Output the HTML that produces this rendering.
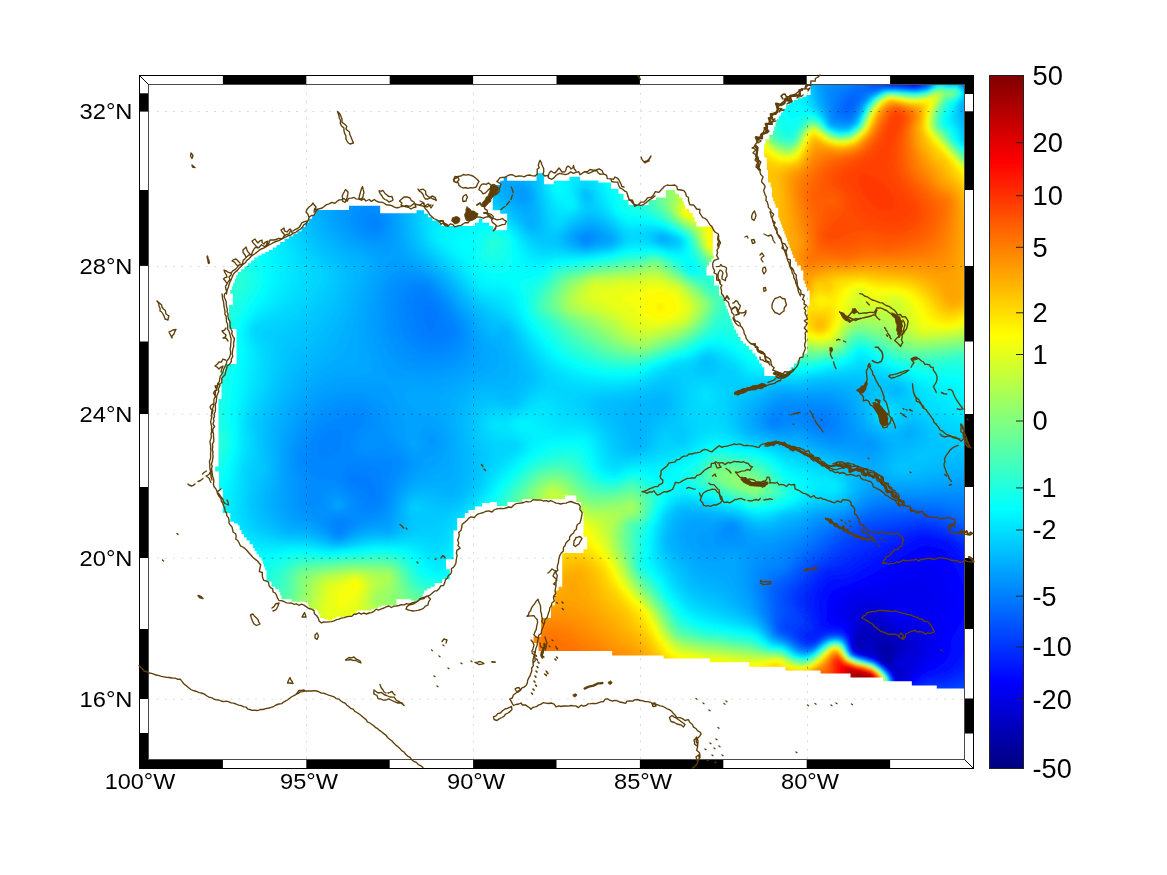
<!DOCTYPE html>
<html><head><meta charset="utf-8"><title>Gulf of Mexico map</title>
<style>html,body{margin:0;padding:0;background:#fff;}svg{display:block}text{font-family:"Liberation Sans",sans-serif;fill:#000}</style></head>
<body>
<svg width="1167" height="875" viewBox="0 0 1167 875">
<rect width="1167" height="875" fill="#fff"/>
<defs><linearGradient id="cb" x1="0" y1="0" x2="0" y2="1"><stop offset="0.0000" stop-color="#800000"/><stop offset="0.0312" stop-color="#9f0000"/><stop offset="0.0625" stop-color="#bf0000"/><stop offset="0.0938" stop-color="#df0000"/><stop offset="0.1250" stop-color="#ff0000"/><stop offset="0.1562" stop-color="#ff2000"/><stop offset="0.1875" stop-color="#ff4000"/><stop offset="0.2188" stop-color="#ff6000"/><stop offset="0.2500" stop-color="#ff8000"/><stop offset="0.2812" stop-color="#ff9f00"/><stop offset="0.3125" stop-color="#ffbf00"/><stop offset="0.3438" stop-color="#ffdf00"/><stop offset="0.3750" stop-color="#ffff00"/><stop offset="0.4062" stop-color="#dfff20"/><stop offset="0.4375" stop-color="#bfff40"/><stop offset="0.4688" stop-color="#9fff60"/><stop offset="0.5000" stop-color="#80ff80"/><stop offset="0.5312" stop-color="#60ff9f"/><stop offset="0.5625" stop-color="#40ffbf"/><stop offset="0.5938" stop-color="#20ffdf"/><stop offset="0.6250" stop-color="#00ffff"/><stop offset="0.6562" stop-color="#00dfff"/><stop offset="0.6875" stop-color="#00bfff"/><stop offset="0.7188" stop-color="#009fff"/><stop offset="0.7500" stop-color="#0080ff"/><stop offset="0.7812" stop-color="#0060ff"/><stop offset="0.8125" stop-color="#0040ff"/><stop offset="0.8438" stop-color="#0020ff"/><stop offset="0.8750" stop-color="#0000ff"/><stop offset="0.9062" stop-color="#0000df"/><stop offset="0.9375" stop-color="#0000bf"/><stop offset="0.9688" stop-color="#00009f"/><stop offset="1.0000" stop-color="#000080"/></linearGradient>
<clipPath id="outerclip"><rect x="139.5" y="74.5" width="834.0" height="694.0"/></clipPath>
<clipPath id="inner"><rect x="148.5" y="84.5" width="816.0" height="675.0"/></clipPath>
<clipPath id="ocean"><path d="M813.5,84.5 810.5,84.5 810.5,95.0 806.3,95.0 806.3,96.7 802.2,96.7 802.2,98.3 798.0,98.3 798.0,100.0 793.6,100.0 793.6,102.5 789.2,102.5 789.2,105.0 786.1,105.0 786.1,108.8 783.0,108.8 783.0,112.5 780.9,112.5 780.9,115.8 778.8,115.8 778.8,119.2 776.8,119.2 776.8,122.5 775.5,122.5 775.5,126.7 774.2,126.7 774.2,130.8 773.0,130.8 773.0,135.0 769.2,135.0 769.2,139.4 765.5,139.4 765.5,143.8 764.2,143.8 764.2,157.5 766.8,157.5 766.8,170.0 768.0,170.0 768.0,182.5 770.6,182.5 770.6,187.5 771.9,187.5 771.9,197.6 773.1,197.6 773.1,201.0 774.4,201.0 774.4,204.3 775.6,204.3 775.6,207.7 778.2,207.7 778.2,217.7 779.4,217.7 779.4,221.1 780.7,221.1 780.7,224.4 781.9,224.4 781.9,227.8 783.2,227.8 783.2,231.1 784.4,231.1 784.4,234.5 785.7,234.5 785.7,237.8 787.0,237.8 787.0,241.2 788.2,241.2 788.2,244.5 789.5,244.5 789.5,247.9 790.7,247.9 790.7,251.2 792.0,251.2 792.0,254.6 793.2,254.6 793.2,257.9 795.1,257.9 795.1,261.7 797.0,261.7 797.0,265.5 800.8,265.5 800.8,270.5 803.3,270.5 803.3,280.6 804.6,280.6 804.6,283.9 805.8,283.9 805.8,287.3 807.1,287.3 807.1,290.6 809.6,290.6 809.6,305.7 807.1,305.7 807.1,320.8 807.1,353.5 803.3,353.5 803.3,357.2 800.1,357.2 800.1,360.4 797.0,360.4 797.0,363.5 793.9,363.5 793.9,367.2 790.7,367.2 790.7,371.0 785.7,371.0 785.7,376.1 764.3,376.1 764.3,367.3 761.8,367.3 761.8,363.5 759.3,363.5 759.3,359.7 757.4,359.7 757.4,356.6 755.5,356.6 755.5,353.5 752.4,353.5 752.4,349.7 749.2,349.7 749.2,345.9 746.1,345.9 746.1,343.4 743.0,343.4 743.0,340.9 740.5,340.9 740.5,337.1 737.9,337.1 737.9,333.3 736.0,333.3 736.0,329.6 734.2,329.6 734.2,325.8 732.9,325.8 732.9,322.4 731.7,322.4 731.7,319.1 730.4,319.1 730.4,315.7 729.1,315.7 729.1,312.4 727.9,312.4 727.9,309.0 726.6,309.0 726.6,305.7 725.3,305.7 725.3,302.3 724.1,302.3 724.1,299.0 722.8,299.0 722.8,295.6 719.1,295.6 719.1,285.6 714.0,285.6 714.0,275.5 706.5,275.5 706.5,265.5 709.0,265.5 709.0,262.1 711.5,262.1 711.5,258.8 714.0,258.8 714.0,255.4 712.8,255.4 712.8,232.8 712.8,226.5 701.5,226.5 696.5,226.5 696.5,221.5 694.6,221.5 694.6,217.1 692.7,217.1 692.7,212.7 688.9,212.7 688.9,208.9 685.1,208.9 685.1,205.1 683.9,205.1 683.9,201.3 682.6,201.3 682.6,197.6 678.9,197.6 678.9,193.8 675.1,193.8 675.1,190.0 666.3,190.0 666.0,190.0 666.0,197.5 656.0,197.5 656.0,200.0 648.5,200.0 648.5,205.0 628.5,205.0 628.5,200.0 623.5,200.0 623.5,193.8 618.5,193.8 618.5,188.8 611.0,188.8 611.0,182.5 598.5,182.5 598.5,180.5 580.0,180.5 580.0,176.7 569.4,176.7 569.4,180.8 553.7,180.8 553.7,184.3 544.1,184.3 544.1,173.3 536.5,173.3 536.5,180.8 507.1,180.8 507.1,176.7 503.6,176.7 503.6,180.8 500.2,180.8 500.2,185.0 492.7,185.0 492.7,210.3 500.2,210.3 500.2,213.8 507.1,213.8 507.1,230.2 493.3,230.2 493.3,226.1 489.2,226.1 489.2,222.7 482.4,222.7 482.4,218.5 479.0,218.5 479.0,222.7 474.8,222.7 474.8,226.1 441.3,226.1 441.3,224.0 439.2,224.0 439.2,220.6 432.3,220.6 432.3,217.2 428.2,217.2 428.2,213.8 424.1,213.8 424.1,210.3 416.5,210.3 416.5,213.2 380.2,213.2 380.2,205.8 349.0,205.8 349.0,210.0 334.0,210.0 315.2,210.0 315.2,215.0 312.1,215.0 312.1,218.8 309.0,218.8 309.0,222.5 305.2,222.5 305.2,226.9 301.5,226.9 301.5,231.2 297.3,231.2 297.3,233.8 293.2,233.8 293.2,236.2 289.0,236.2 289.0,238.8 284.6,238.8 284.6,241.9 280.2,241.9 280.2,245.0 276.5,245.0 276.5,247.5 272.8,247.5 272.8,250.0 269.0,250.0 269.0,251.9 265.2,251.9 265.2,253.8 261.5,253.8 261.5,255.6 257.8,255.6 257.8,257.5 254.4,257.5 254.4,260.4 251.1,260.4 251.1,263.3 247.8,263.3 247.8,266.2 244.4,266.2 244.4,269.2 241.1,269.2 241.1,272.1 237.8,272.1 237.8,275.0 236.2,275.0 236.2,278.8 234.8,278.8 234.8,282.5 233.2,282.5 233.2,286.2 231.8,286.2 231.8,290.0 230.2,290.0 230.2,293.8 232.8,293.8 232.8,294.0 232.8,305.0 229.0,305.0 229.0,329.0 236.5,329.0 236.5,364.0 225.2,364.0 225.2,371.5 221.5,371.5 221.5,399.0 218.5,399.0 218.5,466.5 215.2,466.5 215.2,471.5 219.0,471.5 219.0,489.0 222.8,489.0 222.8,513.0 230.2,513.0 230.2,521.8 234.0,521.8 234.0,523.6 237.8,523.6 237.8,525.5 239.6,525.5 239.6,529.9 241.5,529.9 241.5,534.2 244.0,534.2 244.0,537.4 246.5,537.4 246.5,540.5 249.6,540.5 249.6,544.2 252.8,544.2 252.8,548.0 254.6,548.0 254.6,551.1 256.5,551.1 256.5,554.2 259.0,554.2 259.0,557.4 261.5,557.4 261.5,560.5 262.8,560.5 262.8,563.8 264.0,563.8 264.0,567.2 265.2,567.2 265.2,570.5 266.5,570.5 266.5,581.8 271.5,581.8 271.5,586.8 275.2,586.8 275.2,589.2 279.0,589.2 279.0,591.8 280.2,591.8 280.2,595.5 281.5,595.5 281.5,599.2 291.5,599.2 291.5,601.8 306.5,601.8 307.8,601.8 307.8,605.5 309.0,605.5 309.0,609.2 316.5,609.2 316.5,610.5 318.4,610.5 318.4,614.2 320.2,614.2 320.2,618.0 324.0,618.0 324.0,619.2 327.8,619.2 327.8,620.5 332.1,620.5 332.1,618.6 336.5,618.6 336.5,616.8 351.5,616.8 351.5,614.2 356.5,614.2 356.5,610.5 371.5,610.5 371.5,609.2 374.8,609.2 374.8,608.0 378.2,608.0 378.2,606.8 381.5,606.8 381.5,605.5 396.5,605.5 396.5,601.8 396.5,599.2 407.8,599.2 410.9,599.2 410.9,600.5 414.0,600.5 414.0,601.8 417.8,601.8 417.8,599.2 421.5,599.2 421.5,596.8 422.8,596.8 422.8,593.6 424.0,593.6 424.0,590.5 427.4,590.5 427.4,588.6 430.8,588.6 430.8,586.8 434.8,586.8 434.8,583.0 442.2,583.0 442.2,579.2 449.8,579.2 449.8,569.2 446.0,569.2 446.0,559.2 453.5,559.2 453.5,530.5 457.2,530.5 457.2,518.0 464.8,518.0 464.8,513.0 468.5,513.0 468.5,510.0 475.0,510.0 475.0,506.5 482.0,506.5 482.0,503.0 490.0,503.0 490.0,502.0 497.0,502.0 497.0,506.0 507.4,506.0 507.4,502.0 522.2,502.0 522.2,499.2 564.9,499.2 564.9,495.4 576.2,495.4 576.2,502.0 581.0,502.0 581.0,513.0 583.5,513.0 583.5,536.8 587.2,536.8 587.2,549.2 583.5,549.2 583.5,553.0 562.2,553.0 562.2,586.8 558.5,586.8 558.5,590.5 554.8,590.5 554.8,605.5 551.0,605.5 551.0,618.0 541.0,618.0 541.0,636.8 533.5,636.8 533.5,643.0 538.5,643.0 538.5,651.0 612.2,651.0 612.2,655.5 663.5,655.5 663.5,658.5 709.8,658.5 709.8,662.2 749.2,662.2 749.2,666.8 785.5,666.8 785.5,670.5 820.5,670.5 820.5,673.5 850.5,673.5 850.5,677.5 883.0,677.5 883.0,681.2 911.8,681.2 911.8,685.5 936.8,685.5 936.8,688.5 964.5,688.5 964.5,84.5 813.5,84.5z"/></clipPath>
<filter id="fb" x="-2%" y="-2%" width="104%" height="104%"><feGaussianBlur stdDeviation="3.2"/></filter></defs>
<g clip-path="url(#inner)"><g clip-path="url(#ocean)"><g filter="url(#fb)" fill-rule="evenodd" transform="scale(0.5)"><rect x="285.0" y="157.0" width="1656.0" height="1374.0" fill="#0000a3"/>
<path fill="#0000a9" d="M1629 157l294 0 0 6 6 0 0 6 6 0 0 6 6 0 0 1200-6 0 0 6-6 0 0 6-6 0 0 6-48 0 0-6-48 0 0-6-6 0 0-6-54 0 0-6-60 0 0-6-60 0 0-6-72 0 0-6-72 0 0-6-6 0 0-6-72 0 0-6-96 0 0-6-102 0 0-6-6 0 0-6-138 0 0-6-6 0 0-6-6 0 0-6-6 0 0-6-6 0 0-6-6 0 0-6 6 0 0-6 6 0 0-36 6 0 0-6 6 0 0-6 6 0 0-6 6 0 0-6 6 0 0-30 6 0 0-6 6 0 0-66 6 0 0-6 6 0 0-6 6 0 0-6 36 0 0-24-6 0 0-48-6 0 0-12-6 0 0-6-12 0 0 6-6 0 0 6-84 0 0 6-30 0 0 6-12 0 0-6-36 0 0 6-18 0 0 6-6 0 0 6-6 0 0 6-6 0 0 12-6 0 0 60-6 0 0 6-6 0 0 18 6 0 0 12-6 0 0 6-6 0 0 6-6 0 0 6-12 0 0 6-6 0 0 6-12 0 0 6-12 0 0 6-6 0 0 6-6 0 0 6-6 0 0 6-6 0 0 6-6 0 0-6-36 0 0 6-12 0 0 6-24 0 0 6-18 0 0 6-30 0 0 6-18 0 0 6-24 0 0 6-18 0 0-6-6 0 0-6-6 0 0-6-6 0 0-6-6 0 0-6-6 0 0-6-36 0 0-6-12 0 0-6-6 0 0-6-6 0 0-6-6 0 0-6-6 0 0-6-6 0 0-6-6 0 0-6-6 0 0-6-6 0 0-24-6 0 0-18-6 0 0-12-6 0 0-6-6 0 0-12-6 0 0-6-6 0 0-6-6 0 0-6-6 0 0-12-6 0 0-6-6 0 0-6-6 0 0-6-6 0 0-12-6 0 0-6-6 0 0-6-6 0 0-48-6 0 0-30-6 0 0-6 6 0 0-138 6 0 0-54 6 0 0-12 6 0 0-6 6 0 0-6 6 0 0-6 6 0 0-48-6 0 0-6-6 0 0-6-6 0 0-42 6 0 0-6 6 0 0-24-6 0 0-6 6 0 0-12 6 0 0-12 6 0 0-6 6 0 0-6 6 0 0-6 6 0 0-6 6 0 0-6 6 0 0-6 6 0 0-6 6 0 0-6 12 0 0-6 6 0 0-6 12 0 0-6 12 0 0-6 12 0 0-6 6 0 0-6 12 0 0-6 6 0 0-6 12 0 0-6 6 0 0-6 6 0 0-6 6 0 0-6 6 0 0-6 6 0 0-6 6 0 0-6 12 0 0-6 24 0 0-6 30 0 0-6 60 0 0 6 6 0 0 6 72 0 0-6 6 0 0 6 6 0 0 6 6 0 0 6 6 0 0 6 12 0 0 6 6 0 0 6 72 0 0-6 6 0 0-6 12 0 0 6 6 0 0 6 6 0 0 6 18 0 0-12-12 0 0-6-6 0 0-6-6 0 0-6-6 0 0-42 6 0 0-6 6 0 0-6 6 0 0-6 12 0 0-6 6 0 0-6 12 0 0 6 48 0 0-6 6 0 0-6 6 0 0-6 6 0 0 6 6 0 0 6 6 0 0 6 6 0 0 6 12 0 0-6 24 0 0-6 6 0 0-6 12 0 0 6 6 0 0 6 60 0 0 6 6 0 0 6 6 0 0 6 6 0 0 6 6 0 0 6 6 0 0 6 6 0 0 6 6 0 0 6 30 0 0-6 6 0 0-6 18 0 0-6 12 0 0-6 6 0 0-6 18 0 0 6 6 0 0 6 6 0 0 6 6 0 0 6 6 0 0 6 6 0 0 18 6 0 0 6 6 0 0 6 6 0 0 12 24 0 0 6 6 0 0 6 6 0 0 6 6 0 0 54-6 0 0 6-6 0 0 12-6 0 0 12 6 0 0 6 6 0 0 6 6 0 0 18 6 0 0 6 6 0 0 18 6 0 0 6 6 0 0 18 6 0 0 18 6 0 0 12 6 0 0 12 6 0 0 12 6 0 0 6 6 0 0 6 6 0 0 6 6 0 0 12 6 0 0 6 6 0 0 6 6 0 0 12 6 0 0 6 6 0 0 6 30 0 0-6 6 0 0-6 6 0 0-6 6 0 0-6 6 0 0-90 6 0 0-30-6 0 0-24-6 0 0-18-6 0 0-18-6 0 0-12-6 0 0-12-6 0 0-12-6 0 0-18-6 0 0-12-6 0 0-18-6 0 0-18-6 0 0-24-6 0 0-12-6 0 0-30-6 0 0-30-6 0 0-48 6 0 0-6 6 0 0-6 6 0 0-18 6 0 0-18 6 0 0-6 6 0 0-12 6 0 0-6 6 0 0-6 6 0 0-6 6 0 0-6 6 0 0-6 12 0 0-6 6 0 0-6 12 0 0-6 6 0 0-6 6 0 0-6 6 0z"/>
<path fill="#0000af" d="M1629 157l294 0 0 6 6 0 0 6 6 0 0 6 6 0 0 1200-6 0 0 6-6 0 0 6-6 0 0 6-48 0 0-6-48 0 0-6-6 0 0-6-54 0 0-6-60 0 0-6-60 0 0-6-72 0 0-6-72 0 0-6-6 0 0-6-72 0 0-6-96 0 0-6-102 0 0-6-6 0 0-6-138 0 0-6-6 0 0-6-6 0 0-6-6 0 0-6-6 0 0-6-6 0 0-6 6 0 0-6 6 0 0-36 6 0 0-6 6 0 0-6 6 0 0-6 6 0 0-6 6 0 0-30 6 0 0-6 6 0 0-66 6 0 0-6 6 0 0-6 6 0 0-6 36 0 0-24-6 0 0-48-6 0 0-12-6 0 0-6-12 0 0 6-6 0 0 6-84 0 0 6-30 0 0 6-12 0 0-6-36 0 0 6-18 0 0 6-6 0 0 6-6 0 0 6-6 0 0 12-6 0 0 60-6 0 0 6-6 0 0 18 6 0 0 12-6 0 0 6-6 0 0 6-6 0 0 6-12 0 0 6-6 0 0 6-12 0 0 6-12 0 0 6-6 0 0 6-6 0 0 6-6 0 0 6-6 0 0 6-6 0 0-6-36 0 0 6-12 0 0 6-24 0 0 6-18 0 0 6-30 0 0 6-18 0 0 6-24 0 0 6-18 0 0-6-6 0 0-6-6 0 0-6-6 0 0-6-6 0 0-6-6 0 0-6-36 0 0-6-12 0 0-6-6 0 0-6-6 0 0-6-6 0 0-6-6 0 0-6-6 0 0-6-6 0 0-6-6 0 0-6-6 0 0-24-6 0 0-18-6 0 0-12-6 0 0-6-6 0 0-12-6 0 0-6-6 0 0-6-6 0 0-6-6 0 0-12-6 0 0-6-6 0 0-6-6 0 0-6-6 0 0-12-6 0 0-6-6 0 0-6-6 0 0-48-6 0 0-30-6 0 0-6 6 0 0-138 6 0 0-54 6 0 0-12 6 0 0-6 6 0 0-6 6 0 0-6 6 0 0-48-6 0 0-6-6 0 0-6-6 0 0-42 6 0 0-6 6 0 0-24-6 0 0-6 6 0 0-12 6 0 0-12 6 0 0-6 6 0 0-6 6 0 0-6 6 0 0-6 6 0 0-6 6 0 0-6 6 0 0-6 6 0 0-6 12 0 0-6 6 0 0-6 12 0 0-6 12 0 0-6 12 0 0-6 6 0 0-6 12 0 0-6 6 0 0-6 12 0 0-6 6 0 0-6 6 0 0-6 6 0 0-6 6 0 0-6 6 0 0-6 6 0 0-6 12 0 0-6 24 0 0-6 30 0 0-6 60 0 0 6 6 0 0 6 72 0 0-6 6 0 0 6 6 0 0 6 6 0 0 6 6 0 0 6 12 0 0 6 6 0 0 6 72 0 0-6 6 0 0-6 12 0 0 6 6 0 0 6 6 0 0 6 18 0 0-12-12 0 0-6-6 0 0-6-6 0 0-6-6 0 0-42 6 0 0-6 6 0 0-6 6 0 0-6 12 0 0-6 6 0 0-6 12 0 0 6 48 0 0-6 6 0 0-6 6 0 0-6 6 0 0 6 6 0 0 6 6 0 0 6 6 0 0 6 12 0 0-6 24 0 0-6 6 0 0-6 12 0 0 6 6 0 0 6 60 0 0 6 6 0 0 6 6 0 0 6 6 0 0 6 6 0 0 6 6 0 0 6 6 0 0 6 6 0 0 6 30 0 0-6 6 0 0-6 18 0 0-6 12 0 0-6 6 0 0-6 18 0 0 6 6 0 0 6 6 0 0 6 6 0 0 6 6 0 0 6 6 0 0 18 6 0 0 6 6 0 0 6 6 0 0 12 24 0 0 6 6 0 0 6 6 0 0 6 6 0 0 54-6 0 0 6-6 0 0 12-6 0 0 12 6 0 0 6 6 0 0 6 6 0 0 18 6 0 0 6 6 0 0 18 6 0 0 6 6 0 0 18 6 0 0 18 6 0 0 12 6 0 0 12 6 0 0 12 6 0 0 6 6 0 0 6 6 0 0 6 6 0 0 12 6 0 0 6 6 0 0 6 6 0 0 12 6 0 0 6 6 0 0 6 30 0 0-6 6 0 0-6 6 0 0-6 6 0 0-6 6 0 0-90 6 0 0-30-6 0 0-24-6 0 0-18-6 0 0-18-6 0 0-12-6 0 0-12-6 0 0-12-6 0 0-18-6 0 0-12-6 0 0-18-6 0 0-18-6 0 0-24-6 0 0-12-6 0 0-30-6 0 0-30-6 0 0-48 6 0 0-6 6 0 0-6 6 0 0-18 6 0 0-18 6 0 0-6 6 0 0-12 6 0 0-6 6 0 0-6 6 0 0-6 6 0 0-6 6 0 0-6 12 0 0-6 6 0 0-6 12 0 0-6 6 0 0-6 6 0 0-6 6 0zM1767 1294l-2 9 1 12 1 3 6 4 3-1 3-4 2-14-2-7-6-4z"/>
<path fill="#0000b6" d="M1629 157l294 0 0 6 6 0 0 6 6 0 0 6 6 0 0 1200-6 0 0 6-6 0 0 6-6 0 0 6-48 0 0-6-48 0 0-6-6 0 0-6-54 0 0-6-60 0 0-6-60 0 0-6-72 0 0-6-72 0 0-6-6 0 0-6-72 0 0-6-96 0 0-6-102 0 0-6-6 0 0-6-138 0 0-6-6 0 0-6-6 0 0-6-6 0 0-6-6 0 0-6-6 0 0-6 6 0 0-6 6 0 0-36 6 0 0-6 6 0 0-6 6 0 0-6 6 0 0-6 6 0 0-30 6 0 0-6 6 0 0-66 6 0 0-6 6 0 0-6 6 0 0-6 36 0 0-24-6 0 0-48-6 0 0-12-6 0 0-6-12 0 0 6-6 0 0 6-84 0 0 6-30 0 0 6-12 0 0-6-36 0 0 6-18 0 0 6-6 0 0 6-6 0 0 6-6 0 0 12-6 0 0 60-6 0 0 6-6 0 0 18 6 0 0 12-6 0 0 6-6 0 0 6-6 0 0 6-12 0 0 6-6 0 0 6-12 0 0 6-12 0 0 6-6 0 0 6-6 0 0 6-6 0 0 6-6 0 0 6-6 0 0-6-36 0 0 6-12 0 0 6-24 0 0 6-18 0 0 6-30 0 0 6-18 0 0 6-24 0 0 6-18 0 0-6-6 0 0-6-6 0 0-6-6 0 0-6-6 0 0-6-6 0 0-6-36 0 0-6-12 0 0-6-6 0 0-6-6 0 0-6-6 0 0-6-6 0 0-6-6 0 0-6-6 0 0-6-6 0 0-6-6 0 0-24-6 0 0-18-6 0 0-12-6 0 0-6-6 0 0-12-6 0 0-6-6 0 0-6-6 0 0-6-6 0 0-12-6 0 0-6-6 0 0-6-6 0 0-6-6 0 0-12-6 0 0-6-6 0 0-6-6 0 0-48-6 0 0-30-6 0 0-6 6 0 0-138 6 0 0-54 6 0 0-12 6 0 0-6 6 0 0-6 6 0 0-6 6 0 0-48-6 0 0-6-6 0 0-6-6 0 0-42 6 0 0-6 6 0 0-24-6 0 0-6 6 0 0-12 6 0 0-12 6 0 0-6 6 0 0-6 6 0 0-6 6 0 0-6 6 0 0-6 6 0 0-6 6 0 0-6 6 0 0-6 12 0 0-6 6 0 0-6 12 0 0-6 12 0 0-6 12 0 0-6 6 0 0-6 12 0 0-6 6 0 0-6 12 0 0-6 6 0 0-6 6 0 0-6 6 0 0-6 6 0 0-6 6 0 0-6 6 0 0-6 12 0 0-6 24 0 0-6 30 0 0-6 60 0 0 6 6 0 0 6 72 0 0-6 6 0 0 6 6 0 0 6 6 0 0 6 6 0 0 6 12 0 0 6 6 0 0 6 72 0 0-6 6 0 0-6 12 0 0 6 6 0 0 6 6 0 0 6 18 0 0-12-12 0 0-6-6 0 0-6-6 0 0-6-6 0 0-42 6 0 0-6 6 0 0-6 6 0 0-6 12 0 0-6 6 0 0-6 12 0 0 6 48 0 0-6 6 0 0-6 6 0 0-6 6 0 0 6 6 0 0 6 6 0 0 6 6 0 0 6 12 0 0-6 24 0 0-6 6 0 0-6 12 0 0 6 6 0 0 6 60 0 0 6 6 0 0 6 6 0 0 6 6 0 0 6 6 0 0 6 6 0 0 6 6 0 0 6 6 0 0 6 30 0 0-6 6 0 0-6 18 0 0-6 12 0 0-6 6 0 0-6 18 0 0 6 6 0 0 6 6 0 0 6 6 0 0 6 6 0 0 6 6 0 0 18 6 0 0 6 6 0 0 6 6 0 0 12 24 0 0 6 6 0 0 6 6 0 0 6 6 0 0 54-6 0 0 6-6 0 0 12-6 0 0 12 6 0 0 6 6 0 0 6 6 0 0 18 6 0 0 6 6 0 0 18 6 0 0 6 6 0 0 18 6 0 0 18 6 0 0 12 6 0 0 12 6 0 0 12 6 0 0 6 6 0 0 6 6 0 0 6 6 0 0 12 6 0 0 6 6 0 0 6 6 0 0 12 6 0 0 6 6 0 0 6 30 0 0-6 6 0 0-6 6 0 0-6 6 0 0-6 6 0 0-90 6 0 0-30-6 0 0-24-6 0 0-18-6 0 0-18-6 0 0-12-6 0 0-12-6 0 0-12-6 0 0-18-6 0 0-12-6 0 0-18-6 0 0-18-6 0 0-24-6 0 0-12-6 0 0-30-6 0 0-30-6 0 0-48 6 0 0-6 6 0 0-6 6 0 0-18 6 0 0-18 6 0 0-6 6 0 0-12 6 0 0-6 6 0 0-6 6 0 0-6 6 0 0-6 6 0 0-6 12 0 0-6 6 0 0-6 12 0 0-6 6 0 0-6 6 0 0-6 6 0zM1767 1281l-5 4-3 6 0 6 4 18 4 7 6 3 6-1 6-15 1-12-1-6-6-6-6-3z"/>
<path fill="#0000bc" d="M1629 157l294 0 0 6 6 0 0 6 6 0 0 6 6 0 0 1200-6 0 0 6-6 0 0 6-6 0 0 6-48 0 0-6-48 0 0-6-6 0 0-6-54 0 0-6-60 0 0-6-60 0 0-6-72 0 0-6-72 0 0-6-6 0 0-6-72 0 0-6-96 0 0-6-102 0 0-6-6 0 0-6-138 0 0-6-6 0 0-6-6 0 0-6-6 0 0-6-6 0 0-6-6 0 0-6 6 0 0-6 6 0 0-36 6 0 0-6 6 0 0-6 6 0 0-6 6 0 0-6 6 0 0-30 6 0 0-6 6 0 0-66 6 0 0-6 6 0 0-6 6 0 0-6 36 0 0-24-6 0 0-48-6 0 0-12-6 0 0-6-12 0 0 6-6 0 0 6-84 0 0 6-30 0 0 6-12 0 0-6-36 0 0 6-18 0 0 6-6 0 0 6-6 0 0 6-6 0 0 12-6 0 0 60-6 0 0 6-6 0 0 18 6 0 0 12-6 0 0 6-6 0 0 6-6 0 0 6-12 0 0 6-6 0 0 6-12 0 0 6-12 0 0 6-6 0 0 6-6 0 0 6-6 0 0 6-6 0 0 6-6 0 0-6-36 0 0 6-12 0 0 6-24 0 0 6-18 0 0 6-30 0 0 6-18 0 0 6-24 0 0 6-18 0 0-6-6 0 0-6-6 0 0-6-6 0 0-6-6 0 0-6-6 0 0-6-36 0 0-6-12 0 0-6-6 0 0-6-6 0 0-6-6 0 0-6-6 0 0-6-6 0 0-6-6 0 0-6-6 0 0-6-6 0 0-24-6 0 0-18-6 0 0-12-6 0 0-6-6 0 0-12-6 0 0-6-6 0 0-6-6 0 0-6-6 0 0-12-6 0 0-6-6 0 0-6-6 0 0-6-6 0 0-12-6 0 0-6-6 0 0-6-6 0 0-48-6 0 0-30-6 0 0-6 6 0 0-138 6 0 0-54 6 0 0-12 6 0 0-6 6 0 0-6 6 0 0-6 6 0 0-48-6 0 0-6-6 0 0-6-6 0 0-42 6 0 0-6 6 0 0-24-6 0 0-6 6 0 0-12 6 0 0-12 6 0 0-6 6 0 0-6 6 0 0-6 6 0 0-6 6 0 0-6 6 0 0-6 6 0 0-6 6 0 0-6 12 0 0-6 6 0 0-6 12 0 0-6 12 0 0-6 12 0 0-6 6 0 0-6 12 0 0-6 6 0 0-6 12 0 0-6 6 0 0-6 6 0 0-6 6 0 0-6 6 0 0-6 6 0 0-6 6 0 0-6 12 0 0-6 24 0 0-6 30 0 0-6 60 0 0 6 6 0 0 6 72 0 0-6 6 0 0 6 6 0 0 6 6 0 0 6 6 0 0 6 12 0 0 6 6 0 0 6 72 0 0-6 6 0 0-6 12 0 0 6 6 0 0 6 6 0 0 6 18 0 0-12-12 0 0-6-6 0 0-6-6 0 0-6-6 0 0-42 6 0 0-6 6 0 0-6 6 0 0-6 12 0 0-6 6 0 0-6 12 0 0 6 48 0 0-6 6 0 0-6 6 0 0-6 6 0 0 6 6 0 0 6 6 0 0 6 6 0 0 6 12 0 0-6 24 0 0-6 6 0 0-6 12 0 0 6 6 0 0 6 60 0 0 6 6 0 0 6 6 0 0 6 6 0 0 6 6 0 0 6 6 0 0 6 6 0 0 6 6 0 0 6 30 0 0-6 6 0 0-6 18 0 0-6 12 0 0-6 6 0 0-6 18 0 0 6 6 0 0 6 6 0 0 6 6 0 0 6 6 0 0 6 6 0 0 18 6 0 0 6 6 0 0 6 6 0 0 12 24 0 0 6 6 0 0 6 6 0 0 6 6 0 0 54-6 0 0 6-6 0 0 12-6 0 0 12 6 0 0 6 6 0 0 6 6 0 0 18 6 0 0 6 6 0 0 18 6 0 0 6 6 0 0 18 6 0 0 18 6 0 0 12 6 0 0 12 6 0 0 12 6 0 0 6 6 0 0 6 6 0 0 6 6 0 0 12 6 0 0 6 6 0 0 6 6 0 0 12 6 0 0 6 6 0 0 6 30 0 0-6 6 0 0-6 6 0 0-6 6 0 0-6 6 0 0-90 6 0 0-30-6 0 0-24-6 0 0-18-6 0 0-18-6 0 0-12-6 0 0-12-6 0 0-12-6 0 0-18-6 0 0-12-6 0 0-18-6 0 0-18-6 0 0-24-6 0 0-12-6 0 0-30-6 0 0-30-6 0 0-48 6 0 0-6 6 0 0-6 6 0 0-18 6 0 0-18 6 0 0-6 6 0 0-12 6 0 0-6 6 0 0-6 6 0 0-6 6 0 0-6 6 0 0-6 12 0 0-6 6 0 0-6 12 0 0-6 6 0 0-6 6 0 0-6 6 0zM1719 1282l-2 9 2 1 4-7zM1755 1272l-2 7 1 18 6 18 7 8 6 4 6 1 5-7 7-18 1-6-1-7-6-9-12-7-12-3z"/>
<path fill="#0000c2" d="M1629 157l294 0 0 6 6 0 0 6 6 0 0 6 6 0 0 1200-6 0 0 6-6 0 0 6-6 0 0 6-48 0 0-6-48 0 0-6-6 0 0-6-54 0 0-6-60 0 0-6-60 0 0-6-72 0 0-6-72 0 0-6-6 0 0-6-72 0 0-6-96 0 0-6-102 0 0-6-6 0 0-6-138 0 0-6-6 0 0-6-6 0 0-6-6 0 0-6-6 0 0-6-6 0 0-6 6 0 0-6 6 0 0-36 6 0 0-6 6 0 0-6 6 0 0-6 6 0 0-6 6 0 0-30 6 0 0-6 6 0 0-66 6 0 0-6 6 0 0-6 6 0 0-6 36 0 0-24-6 0 0-48-6 0 0-12-6 0 0-6-12 0 0 6-6 0 0 6-84 0 0 6-30 0 0 6-12 0 0-6-36 0 0 6-18 0 0 6-6 0 0 6-6 0 0 6-6 0 0 12-6 0 0 60-6 0 0 6-6 0 0 18 6 0 0 12-6 0 0 6-6 0 0 6-6 0 0 6-12 0 0 6-6 0 0 6-12 0 0 6-12 0 0 6-6 0 0 6-6 0 0 6-6 0 0 6-6 0 0 6-6 0 0-6-36 0 0 6-12 0 0 6-24 0 0 6-18 0 0 6-30 0 0 6-18 0 0 6-24 0 0 6-18 0 0-6-6 0 0-6-6 0 0-6-6 0 0-6-6 0 0-6-6 0 0-6-36 0 0-6-12 0 0-6-6 0 0-6-6 0 0-6-6 0 0-6-6 0 0-6-6 0 0-6-6 0 0-6-6 0 0-6-6 0 0-24-6 0 0-18-6 0 0-12-6 0 0-6-6 0 0-12-6 0 0-6-6 0 0-6-6 0 0-6-6 0 0-12-6 0 0-6-6 0 0-6-6 0 0-6-6 0 0-12-6 0 0-6-6 0 0-6-6 0 0-48-6 0 0-30-6 0 0-6 6 0 0-138 6 0 0-54 6 0 0-12 6 0 0-6 6 0 0-6 6 0 0-6 6 0 0-48-6 0 0-6-6 0 0-6-6 0 0-42 6 0 0-6 6 0 0-24-6 0 0-6 6 0 0-12 6 0 0-12 6 0 0-6 6 0 0-6 6 0 0-6 6 0 0-6 6 0 0-6 6 0 0-6 6 0 0-6 6 0 0-6 12 0 0-6 6 0 0-6 12 0 0-6 12 0 0-6 12 0 0-6 6 0 0-6 12 0 0-6 6 0 0-6 12 0 0-6 6 0 0-6 6 0 0-6 6 0 0-6 6 0 0-6 6 0 0-6 6 0 0-6 12 0 0-6 24 0 0-6 30 0 0-6 60 0 0 6 6 0 0 6 72 0 0-6 6 0 0 6 6 0 0 6 6 0 0 6 6 0 0 6 12 0 0 6 6 0 0 6 72 0 0-6 6 0 0-6 12 0 0 6 6 0 0 6 6 0 0 6 18 0 0-12-12 0 0-6-6 0 0-6-6 0 0-6-6 0 0-42 6 0 0-6 6 0 0-6 6 0 0-6 12 0 0-6 6 0 0-6 12 0 0 6 48 0 0-6 6 0 0-6 6 0 0-6 6 0 0 6 6 0 0 6 6 0 0 6 6 0 0 6 12 0 0-6 24 0 0-6 6 0 0-6 12 0 0 6 6 0 0 6 60 0 0 6 6 0 0 6 6 0 0 6 6 0 0 6 6 0 0 6 6 0 0 6 6 0 0 6 6 0 0 6 30 0 0-6 6 0 0-6 18 0 0-6 12 0 0-6 6 0 0-6 18 0 0 6 6 0 0 6 6 0 0 6 6 0 0 6 6 0 0 6 6 0 0 18 6 0 0 6 6 0 0 6 6 0 0 12 24 0 0 6 6 0 0 6 6 0 0 6 6 0 0 54-6 0 0 6-6 0 0 12-6 0 0 12 6 0 0 6 6 0 0 6 6 0 0 18 6 0 0 6 6 0 0 18 6 0 0 6 6 0 0 18 6 0 0 18 6 0 0 12 6 0 0 12 6 0 0 12 6 0 0 6 6 0 0 6 6 0 0 6 6 0 0 12 6 0 0 6 6 0 0 6 6 0 0 12 6 0 0 6 6 0 0 6 30 0 0-6 6 0 0-6 6 0 0-6 6 0 0-6 6 0 0-90 6 0 0-30-6 0 0-24-6 0 0-18-6 0 0-18-6 0 0-12-6 0 0-12-6 0 0-12-6 0 0-18-6 0 0-12-6 0 0-18-6 0 0-18-6 0 0-24-6 0 0-12-6 0 0-30-6 0 0-30-6 0 0-48 6 0 0-6 6 0 0-6 6 0 0-18 6 0 0-18 6 0 0-6 6 0 0-12 6 0 0-6 6 0 0-6 6 0 0-6 6 0 0-6 6 0 0-6 12 0 0-6 6 0 0-6 12 0 0-6 6 0 0-6 6 0 0-6 6 0zM1731 1260l-12 12-6 11-1 8 1 5 6 2 3-1 15-17 6 1 4 4 1 12 3 6 4 4 7 14 8 6 9 3 5-3 14-30-1-9-5-9-13-9-24-11-12-3z"/>
<path fill="#0000c9" d="M1629 157l294 0 0 6 6 0 0 6 6 0 0 6 6 0 0 1200-6 0 0 6-6 0 0 6-6 0 0 6-48 0 0-6-48 0 0-6-6 0 0-6-54 0 0-6-60 0 0-6-60 0 0-6-72 0 0-6-72 0 0-6-6 0 0-6-72 0 0-6-96 0 0-6-102 0 0-6-6 0 0-6-138 0 0-6-6 0 0-6-6 0 0-6-6 0 0-6-6 0 0-6-6 0 0-6 6 0 0-6 6 0 0-36 6 0 0-6 6 0 0-6 6 0 0-6 6 0 0-6 6 0 0-30 6 0 0-6 6 0 0-66 6 0 0-6 6 0 0-6 6 0 0-6 36 0 0-24-6 0 0-48-6 0 0-12-6 0 0-6-12 0 0 6-6 0 0 6-84 0 0 6-30 0 0 6-12 0 0-6-36 0 0 6-18 0 0 6-6 0 0 6-6 0 0 6-6 0 0 12-6 0 0 60-6 0 0 6-6 0 0 18 6 0 0 12-6 0 0 6-6 0 0 6-6 0 0 6-12 0 0 6-6 0 0 6-12 0 0 6-12 0 0 6-6 0 0 6-6 0 0 6-6 0 0 6-6 0 0 6-6 0 0-6-36 0 0 6-12 0 0 6-24 0 0 6-18 0 0 6-30 0 0 6-18 0 0 6-24 0 0 6-18 0 0-6-6 0 0-6-6 0 0-6-6 0 0-6-6 0 0-6-6 0 0-6-36 0 0-6-12 0 0-6-6 0 0-6-6 0 0-6-6 0 0-6-6 0 0-6-6 0 0-6-6 0 0-6-6 0 0-6-6 0 0-24-6 0 0-18-6 0 0-12-6 0 0-6-6 0 0-12-6 0 0-6-6 0 0-6-6 0 0-6-6 0 0-12-6 0 0-6-6 0 0-6-6 0 0-6-6 0 0-12-6 0 0-6-6 0 0-6-6 0 0-48-6 0 0-30-6 0 0-6 6 0 0-138 6 0 0-54 6 0 0-12 6 0 0-6 6 0 0-6 6 0 0-6 6 0 0-48-6 0 0-6-6 0 0-6-6 0 0-42 6 0 0-6 6 0 0-24-6 0 0-6 6 0 0-12 6 0 0-12 6 0 0-6 6 0 0-6 6 0 0-6 6 0 0-6 6 0 0-6 6 0 0-6 6 0 0-6 6 0 0-6 12 0 0-6 6 0 0-6 12 0 0-6 12 0 0-6 12 0 0-6 6 0 0-6 12 0 0-6 6 0 0-6 12 0 0-6 6 0 0-6 6 0 0-6 6 0 0-6 6 0 0-6 6 0 0-6 6 0 0-6 12 0 0-6 24 0 0-6 30 0 0-6 60 0 0 6 6 0 0 6 72 0 0-6 6 0 0 6 6 0 0 6 6 0 0 6 6 0 0 6 12 0 0 6 6 0 0 6 72 0 0-6 6 0 0-6 12 0 0 6 6 0 0 6 6 0 0 6 18 0 0-12-12 0 0-6-6 0 0-6-6 0 0-6-6 0 0-42 6 0 0-6 6 0 0-6 6 0 0-6 12 0 0-6 6 0 0-6 12 0 0 6 48 0 0-6 6 0 0-6 6 0 0-6 6 0 0 6 6 0 0 6 6 0 0 6 6 0 0 6 12 0 0-6 24 0 0-6 6 0 0-6 12 0 0 6 6 0 0 6 60 0 0 6 6 0 0 6 6 0 0 6 6 0 0 6 6 0 0 6 6 0 0 6 6 0 0 6 6 0 0 6 30 0 0-6 6 0 0-6 18 0 0-6 12 0 0-6 6 0 0-6 18 0 0 6 6 0 0 6 6 0 0 6 6 0 0 6 6 0 0 6 6 0 0 18 6 0 0 6 6 0 0 6 6 0 0 12 24 0 0 6 6 0 0 6 6 0 0 6 6 0 0 54-6 0 0 6-6 0 0 12-6 0 0 12 6 0 0 6 6 0 0 6 6 0 0 18 6 0 0 6 6 0 0 18 6 0 0 6 6 0 0 18 6 0 0 18 6 0 0 12 6 0 0 12 6 0 0 12 6 0 0 6 6 0 0 6 6 0 0 6 6 0 0 12 6 0 0 6 6 0 0 6 6 0 0 12 6 0 0 6 6 0 0 6 30 0 0-6 6 0 0-6 6 0 0-6 6 0 0-6 6 0 0-90 6 0 0-30-6 0 0-24-6 0 0-18-6 0 0-18-6 0 0-12-6 0 0-12-6 0 0-12-6 0 0-18-6 0 0-12-6 0 0-18-6 0 0-18-6 0 0-24-6 0 0-12-6 0 0-30-6 0 0-30-6 0 0-48 6 0 0-6 6 0 0-6 6 0 0-18 6 0 0-18 6 0 0-6 6 0 0-12 6 0 0-6 6 0 0-6 6 0 0-6 6 0 0-6 6 0 0-6 12 0 0-6 6 0 0-6 12 0 0-6 6 0 0-6 6 0 0-6 6 0zM1737 1247l-6 3-6 5-6 8-6 12-2 10-1 6 2 6 7 4 10-4 8-9 6 3-3 6 1 6 8 3 6 5 5 10 7 6 12 6 6 0 6-17 10-13 3-6 1-6-2-6-3-6-7-6-32-20-12-6z"/>
<path fill="#0000cf" d="M1629 157l294 0 0 6 6 0 0 6 6 0 0 6 6 0 0 1200-6 0 0 6-6 0 0 6-6 0 0 6-48 0 0-6-48 0 0-6-6 0 0-6-54 0 0-6-60 0 0-6-60 0 0-6-72 0 0-6-72 0 0-6-6 0 0-6-72 0 0-6-96 0 0-6-102 0 0-6-6 0 0-6-138 0 0-6-6 0 0-6-6 0 0-6-6 0 0-6-6 0 0-6-6 0 0-6 6 0 0-6 6 0 0-36 6 0 0-6 6 0 0-6 6 0 0-6 6 0 0-6 6 0 0-30 6 0 0-6 6 0 0-66 6 0 0-6 6 0 0-6 6 0 0-6 36 0 0-24-6 0 0-48-6 0 0-12-6 0 0-6-12 0 0 6-6 0 0 6-84 0 0 6-30 0 0 6-12 0 0-6-36 0 0 6-18 0 0 6-6 0 0 6-6 0 0 6-6 0 0 12-6 0 0 60-6 0 0 6-6 0 0 18 6 0 0 12-6 0 0 6-6 0 0 6-6 0 0 6-12 0 0 6-6 0 0 6-12 0 0 6-12 0 0 6-6 0 0 6-6 0 0 6-6 0 0 6-6 0 0 6-6 0 0-6-36 0 0 6-12 0 0 6-24 0 0 6-18 0 0 6-30 0 0 6-18 0 0 6-24 0 0 6-18 0 0-6-6 0 0-6-6 0 0-6-6 0 0-6-6 0 0-6-6 0 0-6-36 0 0-6-12 0 0-6-6 0 0-6-6 0 0-6-6 0 0-6-6 0 0-6-6 0 0-6-6 0 0-6-6 0 0-6-6 0 0-24-6 0 0-18-6 0 0-12-6 0 0-6-6 0 0-12-6 0 0-6-6 0 0-6-6 0 0-6-6 0 0-12-6 0 0-6-6 0 0-6-6 0 0-6-6 0 0-12-6 0 0-6-6 0 0-6-6 0 0-48-6 0 0-30-6 0 0-6 6 0 0-138 6 0 0-54 6 0 0-12 6 0 0-6 6 0 0-6 6 0 0-6 6 0 0-48-6 0 0-6-6 0 0-6-6 0 0-42 6 0 0-6 6 0 0-24-6 0 0-6 6 0 0-12 6 0 0-12 6 0 0-6 6 0 0-6 6 0 0-6 6 0 0-6 6 0 0-6 6 0 0-6 6 0 0-6 6 0 0-6 12 0 0-6 6 0 0-6 12 0 0-6 12 0 0-6 12 0 0-6 6 0 0-6 12 0 0-6 6 0 0-6 12 0 0-6 6 0 0-6 6 0 0-6 6 0 0-6 6 0 0-6 6 0 0-6 6 0 0-6 12 0 0-6 24 0 0-6 30 0 0-6 60 0 0 6 6 0 0 6 72 0 0-6 6 0 0 6 6 0 0 6 6 0 0 6 6 0 0 6 12 0 0 6 6 0 0 6 72 0 0-6 6 0 0-6 12 0 0 6 6 0 0 6 6 0 0 6 18 0 0-12-12 0 0-6-6 0 0-6-6 0 0-6-6 0 0-42 6 0 0-6 6 0 0-6 6 0 0-6 12 0 0-6 6 0 0-6 12 0 0 6 48 0 0-6 6 0 0-6 6 0 0-6 6 0 0 6 6 0 0 6 6 0 0 6 6 0 0 6 12 0 0-6 24 0 0-6 6 0 0-6 12 0 0 6 6 0 0 6 60 0 0 6 6 0 0 6 6 0 0 6 6 0 0 6 6 0 0 6 6 0 0 6 6 0 0 6 6 0 0 6 30 0 0-6 6 0 0-6 18 0 0-6 12 0 0-6 6 0 0-6 18 0 0 6 6 0 0 6 6 0 0 6 6 0 0 6 6 0 0 6 6 0 0 18 6 0 0 6 6 0 0 6 6 0 0 12 24 0 0 6 6 0 0 6 6 0 0 6 6 0 0 54-6 0 0 6-6 0 0 12-6 0 0 12 6 0 0 6 6 0 0 6 6 0 0 18 6 0 0 6 6 0 0 18 6 0 0 6 6 0 0 18 6 0 0 18 6 0 0 12 6 0 0 12 6 0 0 12 6 0 0 6 6 0 0 6 6 0 0 6 6 0 0 12 6 0 0 6 6 0 0 6 6 0 0 12 6 0 0 6 6 0 0 6 30 0 0-6 6 0 0-6 6 0 0-6 6 0 0-6 6 0 0-90 6 0 0-30-6 0 0-24-6 0 0-18-6 0 0-18-6 0 0-12-6 0 0-12-6 0 0-12-6 0 0-18-6 0 0-12-6 0 0-18-6 0 0-18-6 0 0-24-6 0 0-12-6 0 0-30-6 0 0-30-6 0 0-48 6 0 0-6 6 0 0-6 6 0 0-18 6 0 0-18 6 0 0-6 6 0 0-12 6 0 0-6 6 0 0-6 6 0 0-6 6 0 0-6 6 0 0-6 12 0 0-6 6 0 0-6 12 0 0-6 6 0 0-6 6 0 0-6 6 0zM1731 1240l-9 9-9 18-5 24 2 6 3 4 5 2 13 0 12 6 6 1 17 17 22 12 3 7 6 7 6-1 2-1 1-6-15-10-2-8 2-7 6-7 12-10 3-6-1-12-3-6-11-10-42-27-12-5z"/>
<path fill="#0000d6" d="M1629 157l294 0 0 6 6 0 0 6 6 0 0 6 6 0 0 1200-6 0 0 6-6 0 0 6-6 0 0 6-48 0 0-6-48 0 0-6-6 0 0-6-54 0 0-6-60 0 0-6-60 0 0-6-72 0 0-6-72 0 0-6-6 0 0-6-72 0 0-6-96 0 0-6-102 0 0-6-6 0 0-6-138 0 0-6-6 0 0-6-6 0 0-6-6 0 0-6-6 0 0-6-6 0 0-6 6 0 0-6 6 0 0-36 6 0 0-6 6 0 0-6 6 0 0-6 6 0 0-6 6 0 0-30 6 0 0-6 6 0 0-66 6 0 0-6 6 0 0-6 6 0 0-6 36 0 0-24-6 0 0-48-6 0 0-12-6 0 0-6-12 0 0 6-6 0 0 6-84 0 0 6-30 0 0 6-12 0 0-6-36 0 0 6-18 0 0 6-6 0 0 6-6 0 0 6-6 0 0 12-6 0 0 60-6 0 0 6-6 0 0 18 6 0 0 12-6 0 0 6-6 0 0 6-6 0 0 6-12 0 0 6-6 0 0 6-12 0 0 6-12 0 0 6-6 0 0 6-6 0 0 6-6 0 0 6-6 0 0 6-6 0 0-6-36 0 0 6-12 0 0 6-24 0 0 6-18 0 0 6-30 0 0 6-18 0 0 6-24 0 0 6-18 0 0-6-6 0 0-6-6 0 0-6-6 0 0-6-6 0 0-6-6 0 0-6-36 0 0-6-12 0 0-6-6 0 0-6-6 0 0-6-6 0 0-6-6 0 0-6-6 0 0-6-6 0 0-6-6 0 0-6-6 0 0-24-6 0 0-18-6 0 0-12-6 0 0-6-6 0 0-12-6 0 0-6-6 0 0-6-6 0 0-6-6 0 0-12-6 0 0-6-6 0 0-6-6 0 0-6-6 0 0-12-6 0 0-6-6 0 0-6-6 0 0-48-6 0 0-30-6 0 0-6 6 0 0-138 6 0 0-54 6 0 0-12 6 0 0-6 6 0 0-6 6 0 0-6 6 0 0-48-6 0 0-6-6 0 0-6-6 0 0-42 6 0 0-6 6 0 0-24-6 0 0-6 6 0 0-12 6 0 0-12 6 0 0-6 6 0 0-6 6 0 0-6 6 0 0-6 6 0 0-6 6 0 0-6 6 0 0-6 6 0 0-6 12 0 0-6 6 0 0-6 12 0 0-6 12 0 0-6 12 0 0-6 6 0 0-6 12 0 0-6 6 0 0-6 12 0 0-6 6 0 0-6 6 0 0-6 6 0 0-6 6 0 0-6 6 0 0-6 6 0 0-6 12 0 0-6 24 0 0-6 30 0 0-6 60 0 0 6 6 0 0 6 72 0 0-6 6 0 0 6 6 0 0 6 6 0 0 6 6 0 0 6 12 0 0 6 6 0 0 6 72 0 0-6 6 0 0-6 12 0 0 6 6 0 0 6 6 0 0 6 18 0 0-12-12 0 0-6-6 0 0-6-6 0 0-6-6 0 0-42 6 0 0-6 6 0 0-6 6 0 0-6 12 0 0-6 6 0 0-6 12 0 0 6 48 0 0-6 6 0 0-6 6 0 0-6 6 0 0 6 6 0 0 6 6 0 0 6 6 0 0 6 12 0 0-6 24 0 0-6 6 0 0-6 12 0 0 6 6 0 0 6 60 0 0 6 6 0 0 6 6 0 0 6 6 0 0 6 6 0 0 6 6 0 0 6 6 0 0 6 6 0 0 6 30 0 0-6 6 0 0-6 18 0 0-6 12 0 0-6 6 0 0-6 18 0 0 6 6 0 0 6 6 0 0 6 6 0 0 6 6 0 0 6 6 0 0 18 6 0 0 6 6 0 0 6 6 0 0 12 24 0 0 6 6 0 0 6 6 0 0 6 6 0 0 54-6 0 0 6-6 0 0 12-6 0 0 12 6 0 0 6 6 0 0 6 6 0 0 18 6 0 0 6 6 0 0 18 6 0 0 6 6 0 0 18 6 0 0 18 6 0 0 12 6 0 0 12 6 0 0 12 6 0 0 6 6 0 0 6 6 0 0 6 6 0 0 12 6 0 0 6 6 0 0 6 6 0 0 12 6 0 0 6 6 0 0 6 30 0 0-6 6 0 0-6 6 0 0-6 6 0 0-6 6 0 0-90 6 0 0-30-6 0 0-24-6 0 0-18-6 0 0-18-6 0 0-12-6 0 0-12-6 0 0-12-6 0 0-18-6 0 0-12-6 0 0-18-6 0 0-18-6 0 0-24-6 0 0-12-6 0 0-30-6 0 0-30-6 0 0-48 6 0 0-6 6 0 0-6 6 0 0-18 6 0 0-18 6 0 0-6 6 0 0-12 6 0 0-6 6 0 0-6 6 0 0-6 6 0 0-6 6 0 0-6 12 0 0-6 6 0 0-6 12 0 0-6 6 0 0-6 6 0 0-6 6 0zM1731 1230l-6 4-6 9-6 15-6 25 0 8 1 6 6 6 17 3 6 3 12 3 16 15 19 12 7 12 6 6 6 0 7-6 2-6-3-6-12-4-6-8 2-6 4-4 16-8 6-6 3-12-4-12-9-9-26-15-28-22-12-5z"/>
<path fill="#0000dc" d="M1629 157l294 0 0 6 6 0 0 6 6 0 0 6 6 0 0 1200-6 0 0 6-6 0 0 6-6 0 0 6-48 0 0-6-48 0 0-6-6 0 0-6-54 0 0-6-60 0 0-6-60 0 0-6-72 0 0-6-72 0 0-6-6 0 0-6-72 0 0-6-96 0 0-6-102 0 0-6-6 0 0-6-138 0 0-6-6 0 0-6-6 0 0-6-6 0 0-6-6 0 0-6-6 0 0-6 6 0 0-6 6 0 0-36 6 0 0-6 6 0 0-6 6 0 0-6 6 0 0-6 6 0 0-30 6 0 0-6 6 0 0-66 6 0 0-6 6 0 0-6 6 0 0-6 36 0 0-24-6 0 0-48-6 0 0-12-6 0 0-6-12 0 0 6-6 0 0 6-84 0 0 6-30 0 0 6-12 0 0-6-36 0 0 6-18 0 0 6-6 0 0 6-6 0 0 6-6 0 0 12-6 0 0 60-6 0 0 6-6 0 0 18 6 0 0 12-6 0 0 6-6 0 0 6-6 0 0 6-12 0 0 6-6 0 0 6-12 0 0 6-12 0 0 6-6 0 0 6-6 0 0 6-6 0 0 6-6 0 0 6-6 0 0-6-36 0 0 6-12 0 0 6-24 0 0 6-18 0 0 6-30 0 0 6-18 0 0 6-24 0 0 6-18 0 0-6-6 0 0-6-6 0 0-6-6 0 0-6-6 0 0-6-6 0 0-6-36 0 0-6-12 0 0-6-6 0 0-6-6 0 0-6-6 0 0-6-6 0 0-6-6 0 0-6-6 0 0-6-6 0 0-6-6 0 0-24-6 0 0-18-6 0 0-12-6 0 0-6-6 0 0-12-6 0 0-6-6 0 0-6-6 0 0-6-6 0 0-12-6 0 0-6-6 0 0-6-6 0 0-6-6 0 0-12-6 0 0-6-6 0 0-6-6 0 0-48-6 0 0-30-6 0 0-6 6 0 0-138 6 0 0-54 6 0 0-12 6 0 0-6 6 0 0-6 6 0 0-6 6 0 0-48-6 0 0-6-6 0 0-6-6 0 0-42 6 0 0-6 6 0 0-24-6 0 0-6 6 0 0-12 6 0 0-12 6 0 0-6 6 0 0-6 6 0 0-6 6 0 0-6 6 0 0-6 6 0 0-6 6 0 0-6 6 0 0-6 12 0 0-6 6 0 0-6 12 0 0-6 12 0 0-6 12 0 0-6 6 0 0-6 12 0 0-6 6 0 0-6 12 0 0-6 6 0 0-6 6 0 0-6 6 0 0-6 6 0 0-6 6 0 0-6 6 0 0-6 12 0 0-6 24 0 0-6 30 0 0-6 60 0 0 6 6 0 0 6 72 0 0-6 6 0 0 6 6 0 0 6 6 0 0 6 6 0 0 6 12 0 0 6 6 0 0 6 72 0 0-6 6 0 0-6 12 0 0 6 6 0 0 6 6 0 0 6 18 0 0-12-12 0 0-6-6 0 0-6-6 0 0-6-6 0 0-42 6 0 0-6 6 0 0-6 6 0 0-6 12 0 0-6 6 0 0-6 12 0 0 6 48 0 0-6 6 0 0-6 6 0 0-6 6 0 0 6 6 0 0 6 6 0 0 6 6 0 0 6 12 0 0-6 24 0 0-6 6 0 0-6 12 0 0 6 6 0 0 6 60 0 0 6 6 0 0 6 6 0 0 6 6 0 0 6 6 0 0 6 6 0 0 6 6 0 0 6 6 0 0 6 30 0 0-6 6 0 0-6 18 0 0-6 12 0 0-6 6 0 0-6 18 0 0 6 6 0 0 6 6 0 0 6 6 0 0 6 6 0 0 6 6 0 0 18 6 0 0 6 6 0 0 6 6 0 0 12 24 0 0 6 6 0 0 6 6 0 0 6 6 0 0 54-6 0 0 6-6 0 0 12-6 0 0 12 6 0 0 6 6 0 0 6 6 0 0 18 6 0 0 6 6 0 0 18 6 0 0 6 6 0 0 18 6 0 0 18 6 0 0 12 6 0 0 12 6 0 0 12 6 0 0 6 6 0 0 6 6 0 0 6 6 0 0 12 6 0 0 6 6 0 0 6 6 0 0 12 6 0 0 6 6 0 0 6 30 0 0-6 6 0 0-6 6 0 0-6 6 0 0-6 6 0 0-90 6 0 0-30-6 0 0-24-6 0 0-18-6 0 0-18-6 0 0-12-6 0 0-12-6 0 0-12-6 0 0-18-6 0 0-12-6 0 0-18-6 0 0-18-6 0 0-24-6 0 0-12-6 0 0-30-6 0 0-30-6 0 0-48 6 0 0-6 6 0 0-6 6 0 0-18 6 0 0-18 6 0 0-6 6 0 0-12 6 0 0-6 6 0 0-6 6 0 0-6 6 0 0-6 6 0 0-6 12 0 0-6 6 0 0-6 12 0 0-6 6 0 0-6 6 0 0-6 6 0zM1737 1219l-6 1-9 5-3 3-4 9-8 35-1 19 1 7 6 6 36 10 15 13 18 12 9 14 6 6 6 0 6-2 6-6 2-6 0-6-2-7-6-1-6 1-6-1-3-4 3-7 6-2 12 2 6-4 6-7 3-6 1-12-3-12-4-6-7-6-26-12-9-6-27-26-6-3z"/>
<path fill="#0000e2" d="M1629 157l294 0 0 6 6 0 0 6 6 0 0 6 6 0 0 1200-6 0 0 6-6 0 0 6-6 0 0 6-48 0 0-6-48 0 0-6-6 0 0-6-54 0 0-6-60 0 0-6-60 0 0-6-72 0 0-6-72 0 0-6-6 0 0-6-72 0 0-6-96 0 0-6-102 0 0-6-6 0 0-6-138 0 0-6-6 0 0-6-6 0 0-6-6 0 0-6-6 0 0-6-6 0 0-6 6 0 0-6 6 0 0-36 6 0 0-6 6 0 0-6 6 0 0-6 6 0 0-6 6 0 0-30 6 0 0-6 6 0 0-66 6 0 0-6 6 0 0-6 6 0 0-6 36 0 0-24-6 0 0-48-6 0 0-12-6 0 0-6-12 0 0 6-6 0 0 6-84 0 0 6-30 0 0 6-12 0 0-6-36 0 0 6-18 0 0 6-6 0 0 6-6 0 0 6-6 0 0 12-6 0 0 60-6 0 0 6-6 0 0 18 6 0 0 12-6 0 0 6-6 0 0 6-6 0 0 6-12 0 0 6-6 0 0 6-12 0 0 6-12 0 0 6-6 0 0 6-6 0 0 6-6 0 0 6-6 0 0 6-6 0 0-6-36 0 0 6-12 0 0 6-24 0 0 6-18 0 0 6-30 0 0 6-18 0 0 6-24 0 0 6-18 0 0-6-6 0 0-6-6 0 0-6-6 0 0-6-6 0 0-6-6 0 0-6-36 0 0-6-12 0 0-6-6 0 0-6-6 0 0-6-6 0 0-6-6 0 0-6-6 0 0-6-6 0 0-6-6 0 0-6-6 0 0-24-6 0 0-18-6 0 0-12-6 0 0-6-6 0 0-12-6 0 0-6-6 0 0-6-6 0 0-6-6 0 0-12-6 0 0-6-6 0 0-6-6 0 0-6-6 0 0-12-6 0 0-6-6 0 0-6-6 0 0-48-6 0 0-30-6 0 0-6 6 0 0-138 6 0 0-54 6 0 0-12 6 0 0-6 6 0 0-6 6 0 0-6 6 0 0-48-6 0 0-6-6 0 0-6-6 0 0-42 6 0 0-6 6 0 0-24-6 0 0-6 6 0 0-12 6 0 0-12 6 0 0-6 6 0 0-6 6 0 0-6 6 0 0-6 6 0 0-6 6 0 0-6 6 0 0-6 6 0 0-6 12 0 0-6 6 0 0-6 12 0 0-6 12 0 0-6 12 0 0-6 6 0 0-6 12 0 0-6 6 0 0-6 12 0 0-6 6 0 0-6 6 0 0-6 6 0 0-6 6 0 0-6 6 0 0-6 6 0 0-6 12 0 0-6 24 0 0-6 30 0 0-6 60 0 0 6 6 0 0 6 72 0 0-6 6 0 0 6 6 0 0 6 6 0 0 6 6 0 0 6 12 0 0 6 6 0 0 6 72 0 0-6 6 0 0-6 12 0 0 6 6 0 0 6 6 0 0 6 18 0 0-12-12 0 0-6-6 0 0-6-6 0 0-6-6 0 0-42 6 0 0-6 6 0 0-6 6 0 0-6 12 0 0-6 6 0 0-6 12 0 0 6 48 0 0-6 6 0 0-6 6 0 0-6 6 0 0 6 6 0 0 6 6 0 0 6 6 0 0 6 12 0 0-6 24 0 0-6 6 0 0-6 12 0 0 6 6 0 0 6 60 0 0 6 6 0 0 6 6 0 0 6 6 0 0 6 6 0 0 6 6 0 0 6 6 0 0 6 6 0 0 6 30 0 0-6 6 0 0-6 18 0 0-6 12 0 0-6 6 0 0-6 18 0 0 6 6 0 0 6 6 0 0 6 6 0 0 6 6 0 0 6 6 0 0 18 6 0 0 6 6 0 0 6 6 0 0 12 24 0 0 6 6 0 0 6 6 0 0 6 6 0 0 54-6 0 0 6-6 0 0 12-6 0 0 12 6 0 0 6 6 0 0 6 6 0 0 18 6 0 0 6 6 0 0 18 6 0 0 6 6 0 0 18 6 0 0 18 6 0 0 12 6 0 0 12 6 0 0 12 6 0 0 6 6 0 0 6 6 0 0 6 6 0 0 12 6 0 0 6 6 0 0 6 6 0 0 12 6 0 0 6 6 0 0 6 30 0 0-6 6 0 0-6 6 0 0-6 6 0 0-6 6 0 0-90 6 0 0-30-6 0 0-24-6 0 0-18-6 0 0-18-6 0 0-12-6 0 0-12-6 0 0-12-6 0 0-18-6 0 0-12-6 0 0-18-6 0 0-18-6 0 0-24-6 0 0-12-6 0 0-30-6 0 0-30-6 0 0-48 6 0 0-6 6 0 0-6 6 0 0-18 6 0 0-18 6 0 0-6 6 0 0-12 6 0 0-6 6 0 0-6 6 0 0-6 6 0 0-6 6 0 0-6 12 0 0-6 6 0 0-6 12 0 0-6 6 0 0-6 6 0 0-6 6 0zM1725 1212l-10 7-6 12-4 54 2 14 3 4 9 4 30 8 31 24 11 16 6 6 6 1 10-5 8-12 6-17 13-25 1-18-5-12-4-6-10-6-25-8-12-7-9-9-13-18-8-6-12-4-12 1z"/>
<path fill="#0000e9" d="M1629 157l294 0 0 6 6 0 0 6 6 0 0 6 6 0 0 1200-6 0 0 6-6 0 0 6-6 0 0 6-48 0 0-6-48 0 0-6-6 0 0-6-54 0 0-6-60 0 0-6-60 0 0-6-72 0 0-6-72 0 0-6-6 0 0-6-72 0 0-6-96 0 0-6-102 0 0-6-6 0 0-6-138 0 0-6-6 0 0-6-6 0 0-6-6 0 0-6-6 0 0-6-6 0 0-6 6 0 0-6 6 0 0-36 6 0 0-6 6 0 0-6 6 0 0-6 6 0 0-6 6 0 0-30 6 0 0-6 6 0 0-66 6 0 0-6 6 0 0-6 6 0 0-6 36 0 0-24-6 0 0-48-6 0 0-12-6 0 0-6-12 0 0 6-6 0 0 6-84 0 0 6-30 0 0 6-12 0 0-6-36 0 0 6-18 0 0 6-6 0 0 6-6 0 0 6-6 0 0 12-6 0 0 60-6 0 0 6-6 0 0 18 6 0 0 12-6 0 0 6-6 0 0 6-6 0 0 6-12 0 0 6-6 0 0 6-12 0 0 6-12 0 0 6-6 0 0 6-6 0 0 6-6 0 0 6-6 0 0 6-6 0 0-6-36 0 0 6-12 0 0 6-24 0 0 6-18 0 0 6-30 0 0 6-18 0 0 6-24 0 0 6-18 0 0-6-6 0 0-6-6 0 0-6-6 0 0-6-6 0 0-6-6 0 0-6-36 0 0-6-12 0 0-6-6 0 0-6-6 0 0-6-6 0 0-6-6 0 0-6-6 0 0-6-6 0 0-6-6 0 0-6-6 0 0-24-6 0 0-18-6 0 0-12-6 0 0-6-6 0 0-12-6 0 0-6-6 0 0-6-6 0 0-6-6 0 0-12-6 0 0-6-6 0 0-6-6 0 0-6-6 0 0-12-6 0 0-6-6 0 0-6-6 0 0-48-6 0 0-30-6 0 0-6 6 0 0-138 6 0 0-54 6 0 0-12 6 0 0-6 6 0 0-6 6 0 0-6 6 0 0-48-6 0 0-6-6 0 0-6-6 0 0-42 6 0 0-6 6 0 0-24-6 0 0-6 6 0 0-12 6 0 0-12 6 0 0-6 6 0 0-6 6 0 0-6 6 0 0-6 6 0 0-6 6 0 0-6 6 0 0-6 6 0 0-6 12 0 0-6 6 0 0-6 12 0 0-6 12 0 0-6 12 0 0-6 6 0 0-6 12 0 0-6 6 0 0-6 12 0 0-6 6 0 0-6 6 0 0-6 6 0 0-6 6 0 0-6 6 0 0-6 6 0 0-6 12 0 0-6 24 0 0-6 30 0 0-6 60 0 0 6 6 0 0 6 72 0 0-6 6 0 0 6 6 0 0 6 6 0 0 6 6 0 0 6 12 0 0 6 6 0 0 6 72 0 0-6 6 0 0-6 12 0 0 6 6 0 0 6 6 0 0 6 18 0 0-12-12 0 0-6-6 0 0-6-6 0 0-6-6 0 0-42 6 0 0-6 6 0 0-6 6 0 0-6 12 0 0-6 6 0 0-6 12 0 0 6 48 0 0-6 6 0 0-6 6 0 0-6 6 0 0 6 6 0 0 6 6 0 0 6 6 0 0 6 12 0 0-6 24 0 0-6 6 0 0-6 12 0 0 6 6 0 0 6 60 0 0 6 6 0 0 6 6 0 0 6 6 0 0 6 6 0 0 6 6 0 0 6 6 0 0 6 6 0 0 6 30 0 0-6 6 0 0-6 18 0 0-6 12 0 0-6 6 0 0-6 18 0 0 6 6 0 0 6 6 0 0 6 6 0 0 6 6 0 0 6 6 0 0 18 6 0 0 6 6 0 0 6 6 0 0 12 24 0 0 6 6 0 0 6 6 0 0 6 6 0 0 54-6 0 0 6-6 0 0 12-6 0 0 12 6 0 0 6 6 0 0 6 6 0 0 18 6 0 0 6 6 0 0 18 6 0 0 6 6 0 0 18 6 0 0 18 6 0 0 12 6 0 0 12 6 0 0 12 6 0 0 6 6 0 0 6 6 0 0 6 6 0 0 12 6 0 0 6 6 0 0 6 6 0 0 12 6 0 0 6 6 0 0 6 30 0 0-6 6 0 0-6 6 0 0-6 6 0 0-6 6 0 0-90 6 0 0-30-6 0 0-24-6 0 0-18-6 0 0-18-6 0 0-12-6 0 0-12-6 0 0-12-6 0 0-18-6 0 0-12-6 0 0-18-6 0 0-18-6 0 0-24-6 0 0-12-6 0 0-30-6 0 0-30-6 0 0-48 6 0 0-6 6 0 0-6 6 0 0-18 6 0 0-18 6 0 0-6 6 0 0-12 6 0 0-6 6 0 0-6 6 0 0-6 6 0 0-6 6 0 0-6 12 0 0-6 6 0 0-6 12 0 0-6 6 0 0-6 6 0 0-6 6 0zM1731 1200l-18 8-6 5-6 12 3 24 0 42 3 10 12 7 12 2 11 5 7 1 30 23 12 19 6 5 6 0 6-1 8-5 5-6 27-48 2-18-5-18-7-9-6-4-12-3-24-2-10-6-5-6-11-24-10-10-12-4z"/>
<path fill="#0000ef" d="M1629 157l294 0 0 6 6 0 0 6 6 0 0 6 6 0 0 1200-6 0 0 6-6 0 0 6-6 0 0 6-48 0 0-6-48 0 0-6-6 0 0-6-54 0 0-6-60 0 0-6-60 0 0-6-72 0 0-6-72 0 0-6-6 0 0-6-72 0 0-6-96 0 0-6-102 0 0-6-6 0 0-6-138 0 0-6-6 0 0-6-6 0 0-6-6 0 0-6-6 0 0-6-6 0 0-6 6 0 0-6 6 0 0-36 6 0 0-6 6 0 0-6 6 0 0-6 6 0 0-6 6 0 0-30 6 0 0-6 6 0 0-66 6 0 0-6 6 0 0-6 6 0 0-6 36 0 0-24-6 0 0-48-6 0 0-12-6 0 0-6-12 0 0 6-6 0 0 6-84 0 0 6-30 0 0 6-12 0 0-6-36 0 0 6-18 0 0 6-6 0 0 6-6 0 0 6-6 0 0 12-6 0 0 60-6 0 0 6-6 0 0 18 6 0 0 12-6 0 0 6-6 0 0 6-6 0 0 6-12 0 0 6-6 0 0 6-12 0 0 6-12 0 0 6-6 0 0 6-6 0 0 6-6 0 0 6-6 0 0 6-6 0 0-6-36 0 0 6-12 0 0 6-24 0 0 6-18 0 0 6-30 0 0 6-18 0 0 6-24 0 0 6-18 0 0-6-6 0 0-6-6 0 0-6-6 0 0-6-6 0 0-6-6 0 0-6-36 0 0-6-12 0 0-6-6 0 0-6-6 0 0-6-6 0 0-6-6 0 0-6-6 0 0-6-6 0 0-6-6 0 0-6-6 0 0-24-6 0 0-18-6 0 0-12-6 0 0-6-6 0 0-12-6 0 0-6-6 0 0-6-6 0 0-6-6 0 0-12-6 0 0-6-6 0 0-6-6 0 0-6-6 0 0-12-6 0 0-6-6 0 0-6-6 0 0-48-6 0 0-30-6 0 0-6 6 0 0-138 6 0 0-54 6 0 0-12 6 0 0-6 6 0 0-6 6 0 0-6 6 0 0-48-6 0 0-6-6 0 0-6-6 0 0-42 6 0 0-6 6 0 0-24-6 0 0-6 6 0 0-12 6 0 0-12 6 0 0-6 6 0 0-6 6 0 0-6 6 0 0-6 6 0 0-6 6 0 0-6 6 0 0-6 6 0 0-6 12 0 0-6 6 0 0-6 12 0 0-6 12 0 0-6 12 0 0-6 6 0 0-6 12 0 0-6 6 0 0-6 12 0 0-6 6 0 0-6 6 0 0-6 6 0 0-6 6 0 0-6 6 0 0-6 6 0 0-6 12 0 0-6 24 0 0-6 30 0 0-6 60 0 0 6 6 0 0 6 72 0 0-6 6 0 0 6 6 0 0 6 6 0 0 6 6 0 0 6 12 0 0 6 6 0 0 6 72 0 0-6 6 0 0-6 12 0 0 6 6 0 0 6 6 0 0 6 18 0 0-12-12 0 0-6-6 0 0-6-6 0 0-6-6 0 0-42 6 0 0-6 6 0 0-6 6 0 0-6 12 0 0-6 6 0 0-6 12 0 0 6 48 0 0-6 6 0 0-6 6 0 0-6 6 0 0 6 6 0 0 6 6 0 0 6 6 0 0 6 12 0 0-6 24 0 0-6 6 0 0-6 12 0 0 6 6 0 0 6 60 0 0 6 6 0 0 6 6 0 0 6 6 0 0 6 6 0 0 6 6 0 0 6 6 0 0 6 6 0 0 6 30 0 0-6 6 0 0-6 18 0 0-6 12 0 0-6 6 0 0-6 18 0 0 6 6 0 0 6 6 0 0 6 6 0 0 6 6 0 0 6 6 0 0 18 6 0 0 6 6 0 0 6 6 0 0 12 24 0 0 6 6 0 0 6 6 0 0 6 6 0 0 54-6 0 0 6-6 0 0 12-6 0 0 12 6 0 0 6 6 0 0 6 6 0 0 18 6 0 0 6 6 0 0 18 6 0 0 6 6 0 0 18 6 0 0 18 6 0 0 12 6 0 0 12 6 0 0 12 6 0 0 6 6 0 0 6 6 0 0 6 6 0 0 12 6 0 0 6 6 0 0 6 6 0 0 12 6 0 0 6 6 0 0 6 30 0 0-6 6 0 0-6 6 0 0-6 6 0 0-6 6 0 0-90 6 0 0-30-6 0 0-24-6 0 0-18-6 0 0-18-6 0 0-12-6 0 0-12-6 0 0-12-6 0 0-18-6 0 0-12-6 0 0-18-6 0 0-18-6 0 0-24-6 0 0-12-6 0 0-30-6 0 0-30-6 0 0-48 6 0 0-6 6 0 0-6 6 0 0-18 6 0 0-18 6 0 0-6 6 0 0-12 6 0 0-6 6 0 0-6 6 0 0-6 6 0 0-6 6 0 0-6 12 0 0-6 6 0 0-6 12 0 0-6 6 0 0-6 6 0 0-6 6 0zM1743 1188l-18 4-18 8-9 7-6 12 1 12 8 18 4 48 3 6 10 6 13 2 18 6 29 22 5 6 8 14 6 5 6 1 9-2 9-6 5-6 30-42 4-12 1-12-4-25-6-12-6-5-6-3-12 0-24 5-6-1-6-3-6-10-3-24-1-6-4-6-13-6z"/>
<path fill="#0000f5" d="M1629 157l294 0 0 6 6 0 0 6 6 0 0 6 6 0 0 1200-6 0 0 6-6 0 0 6-6 0 0 6-48 0 0-6-48 0 0-6-6 0 0-6-54 0 0-6-60 0 0-6-60 0 0-6-72 0 0-6-72 0 0-6-6 0 0-6-72 0 0-6-96 0 0-6-102 0 0-6-6 0 0-6-138 0 0-6-6 0 0-6-6 0 0-6-6 0 0-6-6 0 0-6-6 0 0-6 6 0 0-6 6 0 0-36 6 0 0-6 6 0 0-6 6 0 0-6 6 0 0-6 6 0 0-30 6 0 0-6 6 0 0-66 6 0 0-6 6 0 0-6 6 0 0-6 36 0 0-24-6 0 0-48-6 0 0-12-6 0 0-6-12 0 0 6-6 0 0 6-84 0 0 6-30 0 0 6-12 0 0-6-36 0 0 6-18 0 0 6-6 0 0 6-6 0 0 6-6 0 0 12-6 0 0 60-6 0 0 6-6 0 0 18 6 0 0 12-6 0 0 6-6 0 0 6-6 0 0 6-12 0 0 6-6 0 0 6-12 0 0 6-12 0 0 6-6 0 0 6-6 0 0 6-6 0 0 6-6 0 0 6-6 0 0-6-36 0 0 6-12 0 0 6-24 0 0 6-18 0 0 6-30 0 0 6-18 0 0 6-24 0 0 6-18 0 0-6-6 0 0-6-6 0 0-6-6 0 0-6-6 0 0-6-6 0 0-6-36 0 0-6-12 0 0-6-6 0 0-6-6 0 0-6-6 0 0-6-6 0 0-6-6 0 0-6-6 0 0-6-6 0 0-6-6 0 0-24-6 0 0-18-6 0 0-12-6 0 0-6-6 0 0-12-6 0 0-6-6 0 0-6-6 0 0-6-6 0 0-12-6 0 0-6-6 0 0-6-6 0 0-6-6 0 0-12-6 0 0-6-6 0 0-6-6 0 0-48-6 0 0-30-6 0 0-6 6 0 0-138 6 0 0-54 6 0 0-12 6 0 0-6 6 0 0-6 6 0 0-6 6 0 0-48-6 0 0-6-6 0 0-6-6 0 0-42 6 0 0-6 6 0 0-24-6 0 0-6 6 0 0-12 6 0 0-12 6 0 0-6 6 0 0-6 6 0 0-6 6 0 0-6 6 0 0-6 6 0 0-6 6 0 0-6 6 0 0-6 12 0 0-6 6 0 0-6 12 0 0-6 12 0 0-6 12 0 0-6 6 0 0-6 12 0 0-6 6 0 0-6 12 0 0-6 6 0 0-6 6 0 0-6 6 0 0-6 6 0 0-6 6 0 0-6 6 0 0-6 12 0 0-6 24 0 0-6 30 0 0-6 60 0 0 6 6 0 0 6 72 0 0-6 6 0 0 6 6 0 0 6 6 0 0 6 6 0 0 6 12 0 0 6 6 0 0 6 72 0 0-6 6 0 0-6 12 0 0 6 6 0 0 6 6 0 0 6 18 0 0-12-12 0 0-6-6 0 0-6-6 0 0-6-6 0 0-42 6 0 0-6 6 0 0-6 6 0 0-6 12 0 0-6 6 0 0-6 12 0 0 6 48 0 0-6 6 0 0-6 6 0 0-6 6 0 0 6 6 0 0 6 6 0 0 6 6 0 0 6 12 0 0-6 24 0 0-6 6 0 0-6 12 0 0 6 6 0 0 6 60 0 0 6 6 0 0 6 6 0 0 6 6 0 0 6 6 0 0 6 6 0 0 6 6 0 0 6 6 0 0 6 30 0 0-6 6 0 0-6 18 0 0-6 12 0 0-6 6 0 0-6 18 0 0 6 6 0 0 6 6 0 0 6 6 0 0 6 6 0 0 6 6 0 0 18 6 0 0 6 6 0 0 6 6 0 0 12 24 0 0 6 6 0 0 6 6 0 0 6 6 0 0 54-6 0 0 6-6 0 0 12-6 0 0 12 6 0 0 6 6 0 0 6 6 0 0 18 6 0 0 6 6 0 0 18 6 0 0 6 6 0 0 18 6 0 0 18 6 0 0 12 6 0 0 12 6 0 0 12 6 0 0 6 6 0 0 6 6 0 0 6 6 0 0 12 6 0 0 6 6 0 0 6 6 0 0 12 6 0 0 6 6 0 0 6 30 0 0-6 6 0 0-6 6 0 0-6 6 0 0-6 6 0 0-90 6 0 0-30-6 0 0-24-6 0 0-18-6 0 0-18-6 0 0-12-6 0 0-12-6 0 0-12-6 0 0-18-6 0 0-12-6 0 0-18-6 0 0-18-6 0 0-24-6 0 0-12-6 0 0-30-6 0 0-30-6 0 0-48 6 0 0-6 6 0 0-6 6 0 0-18 6 0 0-18 6 0 0-6 6 0 0-12 6 0 0-6 6 0 0-6 6 0 0-6 6 0 0-6 6 0 0-6 12 0 0-6 6 0 0-6 12 0 0-6 6 0 0-6 6 0 0-6 6 0zM1809 1164l-72 16-27 9-12 6-8 6-5 6-4 12 1 12 13 14 2 4 5 42 5 12 10 6 14 3 18 6 28 21 5 6 11 18 4 3 6 0 14-3 8-6 14-18 18-18 5-6 6-12 3-18-2-48-6-42-6-21-8-9-10-4-12 0zM1802 1213l7-2 4 2 4 6-1 6-3 6-6 6-10 1-6-7 1-6 5-9z"/>
<path fill="#0000fc" d="M1629 157l190 0 2 4 6 3 2-1 3-6 91 0 0 6 6 0 0 6 6 0 0 6 6 0 0 1200-6 0 0 6-6 0 0 6-6 0 0 6-48 0 0-6-48 0 0-6-6 0 0-6-54 0 0-6-60 0 0-6-60 0 0-6-72 0 0-6-72 0 0-6-6 0 0-6-72 0 0-6-96 0 0-6-102 0 0-6-6 0 0-6-138 0 0-6-6 0 0-6-6 0 0-6-6 0 0-6-6 0 0-6-6 0 0-6 6 0 0-6 6 0 0-36 6 0 0-6 6 0 0-6 6 0 0-6 6 0 0-6 6 0 0-30 6 0 0-6 6 0 0-66 6 0 0-6 6 0 0-6 6 0 0-6 36 0 0-24-6 0 0-48-6 0 0-12-6 0 0-6-12 0 0 6-6 0 0 6-84 0 0 6-30 0 0 6-12 0 0-6-36 0 0 6-18 0 0 6-6 0 0 6-6 0 0 6-6 0 0 12-6 0 0 60-6 0 0 6-6 0 0 18 6 0 0 12-6 0 0 6-6 0 0 6-6 0 0 6-12 0 0 6-6 0 0 6-12 0 0 6-12 0 0 6-6 0 0 6-6 0 0 6-6 0 0 6-6 0 0 6-6 0 0-6-36 0 0 6-12 0 0 6-24 0 0 6-18 0 0 6-30 0 0 6-18 0 0 6-24 0 0 6-18 0 0-6-6 0 0-6-6 0 0-6-6 0 0-6-6 0 0-6-6 0 0-6-36 0 0-6-12 0 0-6-6 0 0-6-6 0 0-6-6 0 0-6-6 0 0-6-6 0 0-6-6 0 0-6-6 0 0-6-6 0 0-24-6 0 0-18-6 0 0-12-6 0 0-6-6 0 0-12-6 0 0-6-6 0 0-6-6 0 0-6-6 0 0-12-6 0 0-6-6 0 0-6-6 0 0-6-6 0 0-12-6 0 0-6-6 0 0-6-6 0 0-48-6 0 0-30-6 0 0-6 6 0 0-138 6 0 0-54 6 0 0-12 6 0 0-6 6 0 0-6 6 0 0-6 6 0 0-48-6 0 0-6-6 0 0-6-6 0 0-42 6 0 0-6 6 0 0-24-6 0 0-6 6 0 0-12 6 0 0-12 6 0 0-6 6 0 0-6 6 0 0-6 6 0 0-6 6 0 0-6 6 0 0-6 6 0 0-6 6 0 0-6 12 0 0-6 6 0 0-6 12 0 0-6 12 0 0-6 12 0 0-6 6 0 0-6 12 0 0-6 6 0 0-6 12 0 0-6 6 0 0-6 6 0 0-6 6 0 0-6 6 0 0-6 6 0 0-6 6 0 0-6 12 0 0-6 24 0 0-6 30 0 0-6 60 0 0 6 6 0 0 6 72 0 0-6 6 0 0 6 6 0 0 6 6 0 0 6 6 0 0 6 12 0 0 6 6 0 0 6 72 0 0-6 6 0 0-6 12 0 0 6 6 0 0 6 6 0 0 6 18 0 0-12-12 0 0-6-6 0 0-6-6 0 0-6-6 0 0-42 6 0 0-6 6 0 0-6 6 0 0-6 12 0 0-6 6 0 0-6 12 0 0 6 48 0 0-6 6 0 0-6 6 0 0-6 6 0 0 6 6 0 0 6 6 0 0 6 6 0 0 6 12 0 0-6 24 0 0-6 6 0 0-6 12 0 0 6 6 0 0 6 60 0 0 6 6 0 0 6 6 0 0 6 6 0 0 6 6 0 0 6 6 0 0 6 6 0 0 6 6 0 0 6 30 0 0-6 6 0 0-6 18 0 0-6 12 0 0-6 6 0 0-6 18 0 0 6 6 0 0 6 6 0 0 6 6 0 0 6 6 0 0 6 6 0 0 18 6 0 0 6 6 0 0 6 6 0 0 12 24 0 0 6 6 0 0 6 6 0 0 6 6 0 0 54-6 0 0 6-6 0 0 12-6 0 0 12 6 0 0 6 6 0 0 6 6 0 0 18 6 0 0 6 6 0 0 18 6 0 0 6 6 0 0 18 6 0 0 18 6 0 0 12 6 0 0 12 6 0 0 12 6 0 0 6 6 0 0 6 6 0 0 6 6 0 0 12 6 0 0 6 6 0 0 6 6 0 0 12 6 0 0 6 6 0 0 6 30 0 0-6 6 0 0-6 6 0 0-6 6 0 0-6 6 0 0-90 6 0 0-30-6 0 0-24-6 0 0-18-6 0 0-18-6 0 0-12-6 0 0-12-6 0 0-12-6 0 0-18-6 0 0-12-6 0 0-18-6 0 0-18-6 0 0-24-6 0 0-12-6 0 0-30-6 0 0-30-6 0 0-48 6 0 0-6 6 0 0-6 6 0 0-18 6 0 0-18 6 0 0-6 6 0 0-12 6 0 0-6 6 0 0-6 6 0 0-6 6 0 0-6 6 0 0-6 12 0 0-6 6 0 0-6 12 0 0-6 6 0 0-6 6 0 0-6 6 0zM1839 1128l-72 33-48 16-28 12-14 11-6 14-1 11 3 12 8 6 8 4 6 9 5 17 2 18 4 12 9 6 16 3 18 7 27 20 6 6 9 18 6 4 6 1 12-2 6-3 8-6 16-19 23-17 8-12 4-12 1-30 9-36 3-21 0-21-3-18-9-24-12-15-12-5z"/>
<path fill="#0003ff" d="M1629 157l186 0 4 6 8 5 6-4 2-7 88 0 0 6 6 0 0 6 6 0 0 6 6 0 0 1200-6 0 0 6-6 0 0 6-6 0 0 6-48 0 0-6-48 0 0-6-6 0 0-6-54 0 0-6-60 0 0-6-60 0 0-6-72 0 0-6-72 0 0-6-6 0 0-6-72 0 0-6-96 0 0-6-102 0 0-6-6 0 0-6-138 0 0-6-6 0 0-6-6 0 0-6-6 0 0-6-6 0 0-6-6 0 0-6 6 0 0-6 6 0 0-36 6 0 0-6 6 0 0-6 6 0 0-6 6 0 0-6 6 0 0-30 6 0 0-6 6 0 0-66 6 0 0-6 6 0 0-6 6 0 0-6 36 0 0-24-6 0 0-48-6 0 0-12-6 0 0-6-12 0 0 6-6 0 0 6-84 0 0 6-30 0 0 6-12 0 0-6-36 0 0 6-18 0 0 6-6 0 0 6-6 0 0 6-6 0 0 12-6 0 0 60-6 0 0 6-6 0 0 18 6 0 0 12-6 0 0 6-6 0 0 6-6 0 0 6-12 0 0 6-6 0 0 6-12 0 0 6-12 0 0 6-6 0 0 6-6 0 0 6-6 0 0 6-6 0 0 6-6 0 0-6-36 0 0 6-12 0 0 6-24 0 0 6-18 0 0 6-30 0 0 6-18 0 0 6-24 0 0 6-18 0 0-6-6 0 0-6-6 0 0-6-6 0 0-6-6 0 0-6-6 0 0-6-36 0 0-6-12 0 0-6-6 0 0-6-6 0 0-6-6 0 0-6-6 0 0-6-6 0 0-6-6 0 0-6-6 0 0-6-6 0 0-24-6 0 0-18-6 0 0-12-6 0 0-6-6 0 0-12-6 0 0-6-6 0 0-6-6 0 0-6-6 0 0-12-6 0 0-6-6 0 0-6-6 0 0-6-6 0 0-12-6 0 0-6-6 0 0-6-6 0 0-48-6 0 0-30-6 0 0-6 6 0 0-138 6 0 0-54 6 0 0-12 6 0 0-6 6 0 0-6 6 0 0-6 6 0 0-48-6 0 0-6-6 0 0-6-6 0 0-42 6 0 0-6 6 0 0-24-6 0 0-6 6 0 0-12 6 0 0-12 6 0 0-6 6 0 0-6 6 0 0-6 6 0 0-6 6 0 0-6 6 0 0-6 6 0 0-6 6 0 0-6 12 0 0-6 6 0 0-6 12 0 0-6 12 0 0-6 12 0 0-6 6 0 0-6 12 0 0-6 6 0 0-6 12 0 0-6 6 0 0-6 6 0 0-6 6 0 0-6 6 0 0-6 6 0 0-6 6 0 0-6 12 0 0-6 24 0 0-6 30 0 0-6 60 0 0 6 6 0 0 6 72 0 0-6 6 0 0 6 6 0 0 6 6 0 0 6 6 0 0 6 12 0 0 6 6 0 0 6 72 0 0-6 6 0 0-6 12 0 0 6 6 0 0 6 6 0 0 6 18 0 0-12-12 0 0-6-6 0 0-6-6 0 0-6-6 0 0-42 6 0 0-6 6 0 0-6 6 0 0-6 12 0 0-6 6 0 0-6 12 0 0 6 48 0 0-6 6 0 0-6 6 0 0-6 6 0 0 6 6 0 0 6 6 0 0 6 6 0 0 6 12 0 0-6 24 0 0-6 6 0 0-6 12 0 0 6 6 0 0 6 60 0 0 6 6 0 0 6 6 0 0 6 6 0 0 6 6 0 0 6 6 0 0 6 6 0 0 6 6 0 0 6 30 0 0-6 6 0 0-6 18 0 0-6 12 0 0-6 6 0 0-6 18 0 0 6 6 0 0 6 6 0 0 6 6 0 0 6 6 0 0 6 6 0 0 18 6 0 0 6 6 0 0 6 6 0 0 12 24 0 0 6 6 0 0 6 6 0 0 6 6 0 0 54-6 0 0 6-6 0 0 12-6 0 0 12 6 0 0 6 6 0 0 6 6 0 0 18 6 0 0 6 6 0 0 18 6 0 0 6 6 0 0 18 6 0 0 18 6 0 0 12 6 0 0 12 6 0 0 12 6 0 0 6 6 0 0 6 6 0 0 6 6 0 0 12 6 0 0 6 6 0 0 6 6 0 0 12 6 0 0 6 6 0 0 6 30 0 0-6 6 0 0-6 6 0 0-6 6 0 0-6 6 0 0-90 6 0 0-30-6 0 0-24-6 0 0-18-6 0 0-18-6 0 0-12-6 0 0-12-6 0 0-12-6 0 0-18-6 0 0-12-6 0 0-18-6 0 0-18-6 0 0-24-6 0 0-12-6 0 0-30-6 0 0-30-6 0 0-48 6 0 0-6 6 0 0-6 6 0 0-18 6 0 0-18 6 0 0-6 6 0 0-12 6 0 0-6 6 0 0-6 6 0 0-6 6 0 0-6 6 0 0-6 12 0 0-6 6 0 0-6 12 0 0-6 6 0 0-6 6 0 0-6 6 0zM1839 1109l-84 45-72 29-9 6-6 6-3 6-3 12 0 24 3 6 25 12 5 9 3 9 3 19 6 13 7 4 17 4 18 6 26 20 6 6 10 19 6 4 6 1 12-2 10-4 20-20 28-16 11-12 6-18 0-24 17-36 6-24 1-18-4-24-11-29-11-19-7-8-12-7-18-2z"/>
<path fill="#000aff" d="M1629 157l184 0 2 6 12 7 6-2 4-11 86 0 0 6 6 0 0 6 6 0 0 6 6 0 0 1200-6 0 0 6-6 0 0 6-6 0 0 6-48 0 0-6-48 0 0-6-6 0 0-6-54 0 0-6-60 0 0-6-60 0 0-6-72 0 0-6-72 0 0-6-6 0 0-6-72 0 0-6-96 0 0-6-102 0 0-6-6 0 0-6-138 0 0-6-6 0 0-6-6 0 0-6-6 0 0-6-6 0 0-6-6 0 0-6 6 0 0-6 6 0 0-36 6 0 0-6 6 0 0-6 6 0 0-6 6 0 0-6 6 0 0-30 6 0 0-6 6 0 0-66 6 0 0-6 6 0 0-6 6 0 0-6 36 0 0-24-6 0 0-48-6 0 0-12-6 0 0-6-12 0 0 6-6 0 0 6-84 0 0 6-30 0 0 6-12 0 0-6-36 0 0 6-18 0 0 6-6 0 0 6-6 0 0 6-6 0 0 12-6 0 0 60-6 0 0 6-6 0 0 18 6 0 0 12-6 0 0 6-6 0 0 6-6 0 0 6-12 0 0 6-6 0 0 6-12 0 0 6-12 0 0 6-6 0 0 6-6 0 0 6-6 0 0 6-6 0 0 6-6 0 0-6-36 0 0 6-12 0 0 6-24 0 0 6-18 0 0 6-30 0 0 6-18 0 0 6-24 0 0 6-18 0 0-6-6 0 0-6-6 0 0-6-6 0 0-6-6 0 0-6-6 0 0-6-36 0 0-6-12 0 0-6-6 0 0-6-6 0 0-6-6 0 0-6-6 0 0-6-6 0 0-6-6 0 0-6-6 0 0-6-6 0 0-24-6 0 0-18-6 0 0-12-6 0 0-6-6 0 0-12-6 0 0-6-6 0 0-6-6 0 0-6-6 0 0-12-6 0 0-6-6 0 0-6-6 0 0-6-6 0 0-12-6 0 0-6-6 0 0-6-6 0 0-48-6 0 0-30-6 0 0-6 6 0 0-138 6 0 0-54 6 0 0-12 6 0 0-6 6 0 0-6 6 0 0-6 6 0 0-48-6 0 0-6-6 0 0-6-6 0 0-42 6 0 0-6 6 0 0-24-6 0 0-6 6 0 0-12 6 0 0-12 6 0 0-6 6 0 0-6 6 0 0-6 6 0 0-6 6 0 0-6 6 0 0-6 6 0 0-6 6 0 0-6 12 0 0-6 6 0 0-6 12 0 0-6 12 0 0-6 12 0 0-6 6 0 0-6 12 0 0-6 6 0 0-6 12 0 0-6 6 0 0-6 6 0 0-6 6 0 0-6 6 0 0-6 6 0 0-6 6 0 0-6 12 0 0-6 24 0 0-6 30 0 0-6 60 0 0 6 6 0 0 6 72 0 0-6 6 0 0 6 6 0 0 6 6 0 0 6 6 0 0 6 12 0 0 6 6 0 0 6 72 0 0-6 6 0 0-6 12 0 0 6 6 0 0 6 6 0 0 6 18 0 0-12-12 0 0-6-6 0 0-6-6 0 0-6-6 0 0-42 6 0 0-6 6 0 0-6 6 0 0-6 12 0 0-6 6 0 0-6 12 0 0 6 48 0 0-6 6 0 0-6 6 0 0-6 6 0 0 6 6 0 0 6 6 0 0 6 6 0 0 6 12 0 0-6 24 0 0-6 6 0 0-6 12 0 0 6 6 0 0 6 60 0 0 6 6 0 0 6 6 0 0 6 6 0 0 6 6 0 0 6 6 0 0 6 6 0 0 6 6 0 0 6 30 0 0-6 6 0 0-6 18 0 0-6 12 0 0-6 6 0 0-6 18 0 0 6 6 0 0 6 6 0 0 6 6 0 0 6 6 0 0 6 6 0 0 18 6 0 0 6 6 0 0 6 6 0 0 12 24 0 0 6 6 0 0 6 6 0 0 6 6 0 0 54-6 0 0 6-6 0 0 12-6 0 0 12 6 0 0 6 6 0 0 6 6 0 0 18 6 0 0 6 6 0 0 18 6 0 0 6 6 0 0 18 6 0 0 18 6 0 0 12 6 0 0 12 6 0 0 12 6 0 0 6 6 0 0 6 6 0 0 6 6 0 0 12 6 0 0 6 6 0 0 6 6 0 0 12 6 0 0 6 6 0 0 6 30 0 0-6 6 0 0-6 6 0 0-6 6 0 0-6 6 0 0-90 6 0 0-30-6 0 0-24-6 0 0-18-6 0 0-18-6 0 0-12-6 0 0-12-6 0 0-12-6 0 0-18-6 0 0-12-6 0 0-18-6 0 0-18-6 0 0-24-6 0 0-12-6 0 0-30-6 0 0-30-6 0 0-48 6 0 0-6 6 0 0-6 6 0 0-18 6 0 0-18 6 0 0-6 6 0 0-12 6 0 0-6 6 0 0-6 6 0 0-6 6 0 0-6 6 0 0-6 12 0 0-6 6 0 0-6 12 0 0-6 6 0 0-6 6 0 0-6 6 0zM1845 1093l-26 12-76 45-36 16-36 13-6 4-6 8-5 16 0 30 1 6 5 6 23 6 6 4 8 14 5 24 5 8 6 4 36 11 6 4 20 15 5 6 11 20 6 4 18 0 12-5 10-7 8-9 33-15 14-12 9-18 2-24 2-5 18-30 8-25 0-24-5-24-9-24-18-32-7-10-8-6-24-6z"/>
<path fill="#0010ff" d="M1629 157l181 0 2 6 9 6 6 2 7-2 4-6 1-6 84 0 0 6 6 0 0 6 6 0 0 6 6 0 0 991-21-37-25-36-8-4-36-7-6 0-35 17-103 60-12 4-18 3-12 5-8 6-8 12-4 18 2 18 0 18 2 6 10 5 24 5 6 3 7 11 5 24 6 9 6 4 30 8 12 7 24 20 12 22 6 3 6 1 19-2 12-6 11-10 6-4 32-10 11-6 15-18 16-36 16-28 0 124-6 0 0 6-6 0 0 6-6 0 0 6-48 0 0-6-48 0 0-6-6 0 0-6-54 0 0-6-60 0 0-6-60 0 0-6-72 0 0-6-72 0 0-6-6 0 0-6-72 0 0-6-96 0 0-6-102 0 0-6-6 0 0-6-138 0 0-6-6 0 0-6-6 0 0-6-6 0 0-6-6 0 0-6-6 0 0-6 6 0 0-6 6 0 0-36 6 0 0-6 6 0 0-6 6 0 0-6 6 0 0-6 6 0 0-30 6 0 0-6 6 0 0-66 6 0 0-6 6 0 0-6 6 0 0-6 36 0 0-24-6 0 0-48-6 0 0-12-6 0 0-6-12 0 0 6-6 0 0 6-84 0 0 6-30 0 0 6-12 0 0-6-36 0 0 6-18 0 0 6-6 0 0 6-6 0 0 6-6 0 0 12-6 0 0 60-6 0 0 6-6 0 0 18 6 0 0 12-6 0 0 6-6 0 0 6-6 0 0 6-12 0 0 6-6 0 0 6-12 0 0 6-12 0 0 6-6 0 0 6-6 0 0 6-6 0 0 6-6 0 0 6-6 0 0-6-36 0 0 6-12 0 0 6-24 0 0 6-18 0 0 6-30 0 0 6-18 0 0 6-24 0 0 6-18 0 0-6-6 0 0-6-6 0 0-6-6 0 0-6-6 0 0-6-6 0 0-6-36 0 0-6-12 0 0-6-6 0 0-6-6 0 0-6-6 0 0-6-6 0 0-6-6 0 0-6-6 0 0-6-6 0 0-6-6 0 0-24-6 0 0-18-6 0 0-12-6 0 0-6-6 0 0-12-6 0 0-6-6 0 0-6-6 0 0-6-6 0 0-12-6 0 0-6-6 0 0-6-6 0 0-6-6 0 0-12-6 0 0-6-6 0 0-6-6 0 0-48-6 0 0-30-6 0 0-6 6 0 0-138 6 0 0-54 6 0 0-12 6 0 0-6 6 0 0-6 6 0 0-6 6 0 0-48-6 0 0-6-6 0 0-6-6 0 0-42 6 0 0-6 6 0 0-24-6 0 0-6 6 0 0-12 6 0 0-12 6 0 0-6 6 0 0-6 6 0 0-6 6 0 0-6 6 0 0-6 6 0 0-6 6 0 0-6 6 0 0-6 12 0 0-6 6 0 0-6 12 0 0-6 12 0 0-6 12 0 0-6 6 0 0-6 12 0 0-6 6 0 0-6 12 0 0-6 6 0 0-6 6 0 0-6 6 0 0-6 6 0 0-6 6 0 0-6 6 0 0-6 12 0 0-6 24 0 0-6 30 0 0-6 60 0 0 6 6 0 0 6 72 0 0-6 6 0 0 6 6 0 0 6 6 0 0 6 6 0 0 6 12 0 0 6 6 0 0 6 72 0 0-6 6 0 0-6 12 0 0 6 6 0 0 6 6 0 0 6 18 0 0-12-12 0 0-6-6 0 0-6-6 0 0-6-6 0 0-42 6 0 0-6 6 0 0-6 6 0 0-6 12 0 0-6 6 0 0-6 12 0 0 6 48 0 0-6 6 0 0-6 6 0 0-6 6 0 0 6 6 0 0 6 6 0 0 6 6 0 0 6 12 0 0-6 24 0 0-6 6 0 0-6 12 0 0 6 6 0 0 6 60 0 0 6 6 0 0 6 6 0 0 6 6 0 0 6 6 0 0 6 6 0 0 6 6 0 0 6 6 0 0 6 30 0 0-6 6 0 0-6 18 0 0-6 12 0 0-6 6 0 0-6 18 0 0 6 6 0 0 6 6 0 0 6 6 0 0 6 6 0 0 6 6 0 0 18 6 0 0 6 6 0 0 6 6 0 0 12 24 0 0 6 6 0 0 6 6 0 0 6 6 0 0 54-6 0 0 6-6 0 0 12-6 0 0 12 6 0 0 6 6 0 0 6 6 0 0 18 6 0 0 6 6 0 0 18 6 0 0 6 6 0 0 18 6 0 0 18 6 0 0 12 6 0 0 12 6 0 0 12 6 0 0 6 6 0 0 6 6 0 0 6 6 0 0 12 6 0 0 6 6 0 0 6 6 0 0 12 6 0 0 6 6 0 0 6 30 0 0-6 6 0 0-6 6 0 0-6 6 0 0-6 6 0 0-90 6 0 0-30-6 0 0-24-6 0 0-18-6 0 0-18-6 0 0-12-6 0 0-12-6 0 0-12-6 0 0-18-6 0 0-12-6 0 0-18-6 0 0-18-6 0 0-24-6 0 0-12-6 0 0-30-6 0 0-30-6 0 0-48 6 0 0-6 6 0 0-6 6 0 0-18 6 0 0-18 6 0 0-6 6 0 0-12 6 0 0-6 6 0 0-6 6 0 0-6 6 0 0-6 6 0 0-6 12 0 0-6 6 0 0-6 12 0 0-6 6 0 0-6 6 0 0-6 6 0z"/>
<path fill="#0016ff" d="M1629 157l179 0 1 6 6 4 12 5 9-3 4-6 1-6 82 0 0 6 6 0 0 6 6 0 0 6 6 0 0 965-42-53-6-3-41-9-9 0-15 6-46 24-81 49-6 2-28 3-8 3-6 5-11 16-4 12-1 12 4 38 4 10 8 2 24 3 12 5 6 8 6 25 6 9 12 5 24 7 12 6 24 20 12 23 6 3 12 1 12-1 12-5 18-12 42-11 7-4 12-12 29-41 0 89-6 0 0 6-6 0 0 6-6 0 0 6-48 0 0-6-48 0 0-6-6 0 0-6-54 0 0-6-60 0 0-6-60 0 0-6-72 0 0-6-72 0 0-6-6 0 0-6-72 0 0-6-96 0 0-6-102 0 0-6-6 0 0-6-138 0 0-6-6 0 0-6-6 0 0-6-6 0 0-6-6 0 0-6-6 0 0-6 6 0 0-6 6 0 0-36 6 0 0-6 6 0 0-6 6 0 0-6 6 0 0-6 6 0 0-30 6 0 0-6 6 0 0-66 6 0 0-6 6 0 0-6 6 0 0-6 36 0 0-24-6 0 0-48-6 0 0-12-6 0 0-6-12 0 0 6-6 0 0 6-84 0 0 6-30 0 0 6-12 0 0-6-36 0 0 6-18 0 0 6-6 0 0 6-6 0 0 6-6 0 0 12-6 0 0 60-6 0 0 6-6 0 0 18 6 0 0 12-6 0 0 6-6 0 0 6-6 0 0 6-12 0 0 6-6 0 0 6-12 0 0 6-12 0 0 6-6 0 0 6-6 0 0 6-6 0 0 6-6 0 0 6-6 0 0-6-36 0 0 6-12 0 0 6-24 0 0 6-18 0 0 6-30 0 0 6-18 0 0 6-24 0 0 6-18 0 0-6-6 0 0-6-6 0 0-6-6 0 0-6-6 0 0-6-6 0 0-6-36 0 0-6-12 0 0-6-6 0 0-6-6 0 0-6-6 0 0-6-6 0 0-6-6 0 0-6-6 0 0-6-6 0 0-6-6 0 0-24-6 0 0-18-6 0 0-12-6 0 0-6-6 0 0-12-6 0 0-6-6 0 0-6-6 0 0-6-6 0 0-12-6 0 0-6-6 0 0-6-6 0 0-6-6 0 0-12-6 0 0-6-6 0 0-6-6 0 0-48-6 0 0-30-6 0 0-6 6 0 0-138 6 0 0-54 6 0 0-12 6 0 0-6 6 0 0-6 6 0 0-6 6 0 0-48-6 0 0-6-6 0 0-6-6 0 0-42 6 0 0-6 6 0 0-24-6 0 0-6 6 0 0-12 6 0 0-12 6 0 0-6 6 0 0-6 6 0 0-6 6 0 0-6 6 0 0-6 6 0 0-6 6 0 0-6 6 0 0-6 12 0 0-6 6 0 0-6 12 0 0-6 12 0 0-6 12 0 0-6 6 0 0-6 12 0 0-6 6 0 0-6 12 0 0-6 6 0 0-6 6 0 0-6 6 0 0-6 6 0 0-6 6 0 0-6 6 0 0-6 12 0 0-6 24 0 0-6 30 0 0-6 60 0 0 6 6 0 0 6 72 0 0-6 6 0 0 6 6 0 0 6 6 0 0 6 6 0 0 6 12 0 0 6 6 0 0 6 72 0 0-6 6 0 0-6 12 0 0 6 6 0 0 6 6 0 0 6 18 0 0-12-12 0 0-6-6 0 0-6-6 0 0-6-6 0 0-42 6 0 0-6 6 0 0-6 6 0 0-6 12 0 0-6 6 0 0-6 12 0 0 6 48 0 0-6 6 0 0-6 6 0 0-6 6 0 0 6 6 0 0 6 6 0 0 6 6 0 0 6 12 0 0-6 24 0 0-6 6 0 0-6 12 0 0 6 6 0 0 6 60 0 0 6 6 0 0 6 6 0 0 6 6 0 0 6 6 0 0 6 6 0 0 6 6 0 0 6 6 0 0 6 30 0 0-6 6 0 0-6 18 0 0-6 12 0 0-6 6 0 0-6 18 0 0 6 6 0 0 6 6 0 0 6 6 0 0 6 6 0 0 6 6 0 0 18 6 0 0 6 6 0 0 6 6 0 0 12 24 0 0 6 6 0 0 6 6 0 0 6 6 0 0 54-6 0 0 6-6 0 0 12-6 0 0 12 6 0 0 6 6 0 0 6 6 0 0 18 6 0 0 6 6 0 0 18 6 0 0 6 6 0 0 18 6 0 0 18 6 0 0 12 6 0 0 12 6 0 0 12 6 0 0 6 6 0 0 6 6 0 0 6 6 0 0 12 6 0 0 6 6 0 0 6 6 0 0 12 6 0 0 6 6 0 0 6 30 0 0-6 6 0 0-6 6 0 0-6 6 0 0-6 6 0 0-90 6 0 0-30-6 0 0-24-6 0 0-18-6 0 0-18-6 0 0-12-6 0 0-12-6 0 0-12-6 0 0-18-6 0 0-12-6 0 0-18-6 0 0-18-6 0 0-24-6 0 0-12-6 0 0-30-6 0 0-30-6 0 0-48 6 0 0-6 6 0 0-6 6 0 0-18 6 0 0-18 6 0 0-6 6 0 0-12 6 0 0-6 6 0 0-6 6 0 0-6 6 0 0-6 6 0 0-6 12 0 0-6 6 0 0-6 12 0 0-6 6 0 0-6 6 0 0-6 6 0z"/>
<path fill="#001dff" d="M1629 157l155 0 1 1 0-1 20 0 1 6 3 3 4 3 14 4 6-1 5-3 3-6 2-6 80 0 0 6 6 0 0 6 6 0 0 6 6 0 0 949-35-37-7-5-42-11-12-2-6 1-27 11-37 18-50 29-30 20-24 2-14 3-7 6-13 18-6 12-3 12 1 12 10 48 2 1 18-1 18 1 6 1 6 4 6 9 6 23 6 8 12 6 30 9 12 8 17 15 13 24 6 3 12 2 12-1 13-4 23-12 34-6 8-3 19-15 23-24 0 66-6 0 0 6-6 0 0 6-6 0 0 6-48 0 0-6-48 0 0-6-6 0 0-6-54 0 0-6-60 0 0-6-60 0 0-6-72 0 0-6-72 0 0-6-6 0 0-6-72 0 0-6-96 0 0-6-102 0 0-6-6 0 0-6-138 0 0-6-6 0 0-6-6 0 0-6-6 0 0-6-6 0 0-6-6 0 0-6 6 0 0-6 6 0 0-36 6 0 0-6 6 0 0-6 6 0 0-6 6 0 0-6 6 0 0-30 6 0 0-6 6 0 0-66 6 0 0-6 6 0 0-6 6 0 0-6 36 0 0-24-6 0 0-48-6 0 0-12-6 0 0-6-12 0 0 6-6 0 0 6-84 0 0 6-30 0 0 6-12 0 0-6-36 0 0 6-18 0 0 6-6 0 0 6-6 0 0 6-6 0 0 12-6 0 0 60-6 0 0 6-6 0 0 18 6 0 0 12-6 0 0 6-6 0 0 6-6 0 0 6-12 0 0 6-6 0 0 6-12 0 0 6-12 0 0 6-6 0 0 6-6 0 0 6-6 0 0 6-6 0 0 6-6 0 0-6-36 0 0 6-12 0 0 6-24 0 0 6-18 0 0 6-30 0 0 6-18 0 0 6-24 0 0 6-18 0 0-6-6 0 0-6-6 0 0-6-6 0 0-6-6 0 0-6-6 0 0-6-36 0 0-6-12 0 0-6-6 0 0-6-6 0 0-6-6 0 0-6-6 0 0-6-6 0 0-6-6 0 0-6-6 0 0-6-6 0 0-24-6 0 0-18-6 0 0-12-6 0 0-6-6 0 0-12-6 0 0-6-6 0 0-6-6 0 0-6-6 0 0-12-6 0 0-6-6 0 0-6-6 0 0-6-6 0 0-12-6 0 0-6-6 0 0-6-6 0 0-48-6 0 0-30-6 0 0-6 6 0 0-138 6 0 0-54 6 0 0-12 6 0 0-6 6 0 0-6 6 0 0-6 6 0 0-48-6 0 0-6-6 0 0-6-6 0 0-42 6 0 0-6 6 0 0-24-6 0 0-6 6 0 0-12 6 0 0-12 6 0 0-6 6 0 0-6 6 0 0-6 6 0 0-6 6 0 0-6 6 0 0-6 6 0 0-6 6 0 0-6 12 0 0-6 6 0 0-6 12 0 0-6 12 0 0-6 12 0 0-6 6 0 0-6 12 0 0-6 6 0 0-6 12 0 0-6 6 0 0-6 6 0 0-6 6 0 0-6 6 0 0-6 6 0 0-6 6 0 0-6 12 0 0-6 24 0 0-6 30 0 0-6 60 0 0 6 6 0 0 6 72 0 0-6 6 0 0 6 6 0 0 6 6 0 0 6 6 0 0 6 12 0 0 6 6 0 0 6 72 0 0-6 6 0 0-6 12 0 0 6 6 0 0 6 6 0 0 6 18 0 0-12-12 0 0-6-6 0 0-6-6 0 0-6-6 0 0-42 6 0 0-6 6 0 0-6 6 0 0-6 12 0 0-6 6 0 0-6 12 0 0 6 48 0 0-6 6 0 0-6 6 0 0-6 6 0 0 6 6 0 0 6 6 0 0 6 6 0 0 6 12 0 0-6 24 0 0-6 6 0 0-6 12 0 0 6 6 0 0 6 60 0 0 6 6 0 0 6 6 0 0 6 6 0 0 6 6 0 0 6 6 0 0 6 6 0 0 6 6 0 0 6 30 0 0-6 6 0 0-6 18 0 0-6 12 0 0-6 6 0 0-6 18 0 0 6 6 0 0 6 6 0 0 6 6 0 0 6 6 0 0 6 6 0 0 18 6 0 0 6 6 0 0 6 6 0 0 12 24 0 0 6 6 0 0 6 6 0 0 6 6 0 0 54-6 0 0 6-6 0 0 12-6 0 0 12 6 0 0 6 6 0 0 6 6 0 0 18 6 0 0 6 6 0 0 18 6 0 0 6 6 0 0 18 6 0 0 18 6 0 0 12 6 0 0 12 6 0 0 12 6 0 0 6 6 0 0 6 6 0 0 6 6 0 0 12 6 0 0 6 6 0 0 6 6 0 0 12 6 0 0 6 6 0 0 6 30 0 0-6 6 0 0-6 6 0 0-6 6 0 0-6 6 0 0-90 6 0 0-30-6 0 0-24-6 0 0-18-6 0 0-18-6 0 0-12-6 0 0-12-6 0 0-12-6 0 0-18-6 0 0-12-6 0 0-18-6 0 0-18-6 0 0-24-6 0 0-12-6 0 0-30-6 0 0-30-6 0 0-48 6 0 0-6 6 0 0-6 6 0 0-18 6 0 0-18 6 0 0-6 6 0 0-12 6 0 0-6 6 0 0-6 6 0 0-6 6 0 0-6 6 0 0-6 12 0 0-6 6 0 0-6 12 0 0-6 6 0 0-6 6 0 0-6 6 0z"/>
<path fill="#0023ff" d="M1629 157l148 0 2 7 6 3 7-4 1-6 10 0 0 6 5 6 19 5 6-1 7-4 3-6 1-6 79 0 0 6 6 0 0 6 6 0 0 6 6 0 0 936-28-24-14-10-42-11-12-1-12 2-23 8-41 18-44 24-30 20-30 6-12 4-12 12-13 18-6 12-3 12 2 12 10 36-1 12-3 6 2 3 30-7 24 2 6 4 6 9 6 22 6 8 42 14 18 13 11 10 13 25 12 4 11 1-47 0 0-6-60 0 0-6-60 0 0-6-72 0 0-6-72 0 0-6-6 0 0-6-72 0 0-6-96 0 0-6-102 0 0-6-6 0 0-6-138 0 0-6-6 0 0-6-6 0 0-6-6 0 0-6-6 0 0-6-6 0 0-6 6 0 0-6 6 0 0-36 6 0 0-6 6 0 0-6 6 0 0-6 6 0 0-6 6 0 0-30 6 0 0-6 6 0 0-66 6 0 0-6 6 0 0-6 6 0 0-6 36 0 0-24-6 0 0-48-6 0 0-12-6 0 0-6-12 0 0 6-6 0 0 6-84 0 0 6-30 0 0 6-12 0 0-6-36 0 0 6-18 0 0 6-6 0 0 6-6 0 0 6-6 0 0 12-6 0 0 60-6 0 0 6-6 0 0 18 6 0 0 12-6 0 0 6-6 0 0 6-6 0 0 6-12 0 0 6-6 0 0 6-12 0 0 6-12 0 0 6-6 0 0 6-6 0 0 6-6 0 0 6-6 0 0 6-6 0 0-6-36 0 0 6-12 0 0 6-24 0 0 6-18 0 0 6-30 0 0 6-18 0 0 6-24 0 0 6-18 0 0-6-6 0 0-6-6 0 0-6-6 0 0-6-6 0 0-6-6 0 0-6-36 0 0-6-12 0 0-6-6 0 0-6-6 0 0-6-6 0 0-6-6 0 0-6-6 0 0-6-6 0 0-6-6 0 0-6-6 0 0-24-6 0 0-18-6 0 0-12-6 0 0-6-6 0 0-12-6 0 0-6-6 0 0-6-6 0 0-6-6 0 0-12-6 0 0-6-6 0 0-6-6 0 0-6-6 0 0-12-6 0 0-6-6 0 0-6-6 0 0-48-6 0 0-30-6 0 0-6 6 0 0-138 6 0 0-54 6 0 0-12 6 0 0-6 6 0 0-6 6 0 0-6 6 0 0-48-6 0 0-6-6 0 0-6-6 0 0-42 6 0 0-6 6 0 0-24-6 0 0-6 6 0 0-12 6 0 0-12 6 0 0-6 6 0 0-6 6 0 0-6 6 0 0-6 6 0 0-6 6 0 0-6 6 0 0-6 6 0 0-6 12 0 0-6 6 0 0-6 12 0 0-6 12 0 0-6 12 0 0-6 6 0 0-6 12 0 0-6 6 0 0-6 12 0 0-6 6 0 0-6 6 0 0-6 6 0 0-6 6 0 0-6 6 0 0-6 6 0 0-6 12 0 0-6 24 0 0-6 30 0 0-6 60 0 0 6 6 0 0 6 72 0 0-6 6 0 0 6 6 0 0 6 6 0 0 6 6 0 0 6 12 0 0 6 6 0 0 6 72 0 0-6 6 0 0-6 12 0 0 6 6 0 0 6 6 0 0 6 18 0 0-12-12 0 0-6-6 0 0-6-6 0 0-6-6 0 0-42 6 0 0-6 6 0 0-6 6 0 0-6 12 0 0-6 6 0 0-6 12 0 0 6 48 0 0-6 6 0 0-6 6 0 0-6 6 0 0 6 6 0 0 6 6 0 0 6 6 0 0 6 12 0 0-6 24 0 0-6 6 0 0-6 12 0 0 6 6 0 0 6 60 0 0 6 6 0 0 6 6 0 0 6 6 0 0 6 6 0 0 6 6 0 0 6 6 0 0 6 6 0 0 6 30 0 0-6 6 0 0-6 18 0 0-6 12 0 0-6 6 0 0-6 18 0 0 6 6 0 0 6 6 0 0 6 6 0 0 6 6 0 0 6 6 0 0 18 6 0 0 6 6 0 0 6 6 0 0 12 24 0 0 6 6 0 0 6 6 0 0 6 6 0 0 54-6 0 0 6-6 0 0 12-6 0 0 12 6 0 0 6 6 0 0 6 6 0 0 18 6 0 0 6 6 0 0 18 6 0 0 6 6 0 0 18 6 0 0 18 6 0 0 12 6 0 0 12 6 0 0 12 6 0 0 6 6 0 0 6 6 0 0 6 6 0 0 12 6 0 0 6 6 0 0 6 6 0 0 12 6 0 0 6 6 0 0 6 30 0 0-6 6 0 0-6 6 0 0-6 6 0 0-6 6 0 0-90 6 0 0-30-6 0 0-24-6 0 0-18-6 0 0-18-6 0 0-12-6 0 0-12-6 0 0-12-6 0 0-18-6 0 0-12-6 0 0-18-6 0 0-18-6 0 0-24-6 0 0-12-6 0 0-30-6 0 0-30-6 0 0-48 6 0 0-6 6 0 0-6 6 0 0-18 6 0 0-18 6 0 0-6 6 0 0-12 6 0 0-6 6 0 0-6 6 0 0-6 6 0 0-6 6 0 0-6 12 0 0-6 6 0 0-6 12 0 0-6 6 0 0-6 6 0 0-6 6 0zM1937 1327l4-3 0 51-6 0 0 6-6 0 0 6-6 0 0 6-48 0 0-6-48 0 0-6-6 0 0-6-6 0 18-4 24-9 42-8 16-9z"/>
<path fill="#0029ff" d="M1629 157l145 0 1 6 5 6 9 0 8-4 3 4 15 2 12 4 6-1 8-5 5-12 77 0 0 6 6 0 0 6 6 0 0 6 6 0 0 927-36-26-18-7-36-8-12 0-18 4-58 22-38 20-36 22-30 10-12 6-13 14-14 18-7 12-3 12 13 39 3 15-3 6-9 6-3 6 4 6 8 1 24-12 12-3 18 0 6 2 6 3 6 9 6 22 6 8 42 13 18 13 11 10 13 25 11 5-35 0 0-6-60 0 0-6-60 0 0-6-72 0 0-6-72 0 0-6-6 0 0-6-72 0 0-6-96 0 0-6-102 0 0-6-6 0 0-6-138 0 0-6-6 0 0-6-6 0 0-6-6 0 0-6-6 0 0-6-6 0 0-6 6 0 0-6 6 0 0-36 6 0 0-6 6 0 0-6 6 0 0-6 6 0 0-6 6 0 0-30 6 0 0-6 6 0 0-66 6 0 0-6 6 0 0-6 6 0 0-6 36 0 0-24-6 0 0-48-6 0 0-12-6 0 0-6-12 0 0 6-6 0 0 6-84 0 0 6-30 0 0 6-12 0 0-6-36 0 0 6-18 0 0 6-6 0 0 6-6 0 0 6-6 0 0 12-6 0 0 60-6 0 0 6-6 0 0 18 6 0 0 12-6 0 0 6-6 0 0 6-6 0 0 6-12 0 0 6-6 0 0 6-12 0 0 6-12 0 0 6-6 0 0 6-6 0 0 6-6 0 0 6-6 0 0 6-6 0 0-6-36 0 0 6-12 0 0 6-24 0 0 6-18 0 0 6-30 0 0 6-18 0 0 6-24 0 0 6-18 0 0-6-6 0 0-6-6 0 0-6-6 0 0-6-6 0 0-6-6 0 0-6-36 0 0-6-12 0 0-6-6 0 0-6-6 0 0-6-6 0 0-6-6 0 0-6-6 0 0-6-6 0 0-6-6 0 0-6-6 0 0-24-6 0 0-18-6 0 0-12-6 0 0-6-6 0 0-12-6 0 0-6-6 0 0-6-6 0 0-6-6 0 0-12-6 0 0-6-6 0 0-6-6 0 0-6-6 0 0-12-6 0 0-6-6 0 0-6-6 0 0-48-6 0 0-30-6 0 0-6 6 0 0-138 6 0 0-54 6 0 0-12 6 0 0-6 6 0 0-6 6 0 0-6 6 0 0-48-6 0 0-6-6 0 0-6-6 0 0-42 6 0 0-6 6 0 0-24-6 0 0-6 6 0 0-12 6 0 0-12 6 0 0-6 6 0 0-6 6 0 0-6 6 0 0-6 6 0 0-6 6 0 0-6 6 0 0-6 6 0 0-6 12 0 0-6 6 0 0-6 12 0 0-6 12 0 0-6 12 0 0-6 6 0 0-6 12 0 0-6 6 0 0-6 12 0 0-6 6 0 0-6 6 0 0-6 6 0 0-6 6 0 0-6 6 0 0-6 6 0 0-6 12 0 0-6 24 0 0-6 30 0 0-6 60 0 0 6 6 0 0 6 72 0 0-6 6 0 0 6 6 0 0 6 6 0 0 6 6 0 0 6 12 0 0 6 6 0 0 6 72 0 0-6 6 0 0-6 12 0 0 6 6 0 0 6 6 0 0 6 18 0 0-12-12 0 0-6-6 0 0-6-6 0 0-6-6 0 0-42 6 0 0-6 6 0 0-6 6 0 0-6 12 0 0-6 6 0 0-6 12 0 0 6 48 0 0-6 6 0 0-6 6 0 0-6 6 0 0 6 6 0 0 6 6 0 0 6 6 0 0 6 12 0 0-6 24 0 0-6 6 0 0-6 12 0 0 6 6 0 0 6 60 0 0 6 6 0 0 6 6 0 0 6 6 0 0 6 6 0 0 6 6 0 0 6 6 0 0 6 6 0 0 6 30 0 0-6 6 0 0-6 18 0 0-6 12 0 0-6 6 0 0-6 18 0 0 6 6 0 0 6 6 0 0 6 6 0 0 6 6 0 0 6 6 0 0 18 6 0 0 6 6 0 0 6 6 0 0 12 24 0 0 6 6 0 0 6 6 0 0 6 6 0 0 54-6 0 0 6-6 0 0 12-6 0 0 12 6 0 0 6 6 0 0 6 6 0 0 18 6 0 0 6 6 0 0 18 6 0 0 6 6 0 0 18 6 0 0 18 6 0 0 12 6 0 0 12 6 0 0 12 6 0 0 6 6 0 0 6 6 0 0 6 6 0 0 12 6 0 0 6 6 0 0 6 6 0 0 12 6 0 0 6 6 0 0 6 30 0 0-6 6 0 0-6 6 0 0-6 6 0 0-6 6 0 0-90 6 0 0-30-6 0 0-24-6 0 0-18-6 0 0-18-6 0 0-12-6 0 0-12-6 0 0-12-6 0 0-18-6 0 0-12-6 0 0-18-6 0 0-18-6 0 0-24-6 0 0-12-6 0 0-30-6 0 0-30-6 0 0-48 6 0 0-6 6 0 0-6 6 0 0-18 6 0 0-18 6 0 0-6 6 0 0-12 6 0 0-6 6 0 0-6 6 0 0-6 6 0 0-6 6 0 0-6 12 0 0-6 6 0 0-6 12 0 0-6 6 0 0-6 6 0 0-6 6 0zM1935 1339l6-4 0 40-6 0 0 6-6 0 0 6-6 0 0 6-48 0 0-6-48 0 0-6-6 0 0-5 12-2 24-8 36-5 12-4z"/>
<path fill="#0030ff" d="M1629 157l143 0 1 6 6 7 18 0 18 2 12 3 6 0 10-6 4-6 1-6 75 0 0 6 6 0 0 6 6 0 0 6 6 0 0 919-42-25-36-11-24-2-30 7-36 12-30 12-24 13-30 19-42 20-15 14-15 18-13 18-4 12 14 30 5 18-2 6-8 6-4 6 0 6 3 6 9 5 6 0 30-16 12-2 18 2 6 4 5 7 7 23 6 7 42 14 12 8 16 14 14 26 9 4-33 0 0-6-60 0 0-6-60 0 0-6-72 0 0-6-72 0 0-6-6 0 0-6-72 0 0-6-96 0 0-6-102 0 0-6-6 0 0-6-138 0 0-6-6 0 0-6-6 0 0-6-6 0 0-6-6 0 0-6-6 0 0-6 6 0 0-6 6 0 0-36 6 0 0-6 6 0 0-6 6 0 0-6 6 0 0-6 6 0 0-30 6 0 0-6 6 0 0-66 6 0 0-6 6 0 0-6 6 0 0-6 36 0 0-24-6 0 0-48-6 0 0-12-6 0 0-6-12 0 0 6-6 0 0 6-84 0 0 6-30 0 0 6-12 0 0-6-36 0 0 6-18 0 0 6-6 0 0 6-6 0 0 6-6 0 0 12-6 0 0 60-6 0 0 6-6 0 0 18 6 0 0 12-6 0 0 6-6 0 0 6-6 0 0 6-12 0 0 6-6 0 0 6-12 0 0 6-12 0 0 6-6 0 0 6-6 0 0 6-6 0 0 6-6 0 0 6-6 0 0-6-36 0 0 6-12 0 0 6-24 0 0 6-18 0 0 6-30 0 0 6-18 0 0 6-24 0 0 6-18 0 0-6-6 0 0-6-6 0 0-6-6 0 0-6-6 0 0-6-6 0 0-6-36 0 0-6-12 0 0-6-6 0 0-6-6 0 0-6-6 0 0-6-6 0 0-6-6 0 0-6-6 0 0-6-6 0 0-6-6 0 0-24-6 0 0-18-6 0 0-12-6 0 0-6-6 0 0-12-6 0 0-6-6 0 0-6-6 0 0-6-6 0 0-12-6 0 0-6-6 0 0-6-6 0 0-6-6 0 0-12-6 0 0-6-6 0 0-6-6 0 0-48-6 0 0-30-6 0 0-6 6 0 0-138 6 0 0-54 6 0 0-12 6 0 0-6 6 0 0-6 6 0 0-6 6 0 0-48-6 0 0-6-6 0 0-6-6 0 0-42 6 0 0-6 6 0 0-24-6 0 0-6 6 0 0-12 6 0 0-12 6 0 0-6 6 0 0-6 6 0 0-6 6 0 0-6 6 0 0-6 6 0 0-6 6 0 0-6 6 0 0-6 12 0 0-6 6 0 0-6 12 0 0-6 12 0 0-6 12 0 0-6 6 0 0-6 12 0 0-6 6 0 0-6 12 0 0-6 6 0 0-6 6 0 0-6 6 0 0-6 6 0 0-6 6 0 0-6 6 0 0-6 12 0 0-6 24 0 0-6 30 0 0-6 60 0 0 6 6 0 0 6 72 0 0-6 6 0 0 6 6 0 0 6 6 0 0 6 6 0 0 6 12 0 0 6 6 0 0 6 72 0 0-6 6 0 0-6 12 0 0 6 6 0 0 6 6 0 0 6 18 0 0-12-12 0 0-6-6 0 0-6-6 0 0-6-6 0 0-42 6 0 0-6 6 0 0-6 6 0 0-6 12 0 0-6 6 0 0-6 12 0 0 6 48 0 0-6 6 0 0-6 6 0 0-6 6 0 0 6 6 0 0 6 6 0 0 6 6 0 0 6 12 0 0-6 24 0 0-6 6 0 0-6 12 0 0 6 6 0 0 6 60 0 0 6 6 0 0 6 6 0 0 6 6 0 0 6 6 0 0 6 6 0 0 6 6 0 0 6 6 0 0 6 30 0 0-6 6 0 0-6 18 0 0-6 12 0 0-6 6 0 0-6 18 0 0 6 6 0 0 6 6 0 0 6 6 0 0 6 6 0 0 6 6 0 0 18 6 0 0 6 6 0 0 6 6 0 0 12 24 0 0 6 6 0 0 6 6 0 0 6 6 0 0 54-6 0 0 6-6 0 0 12-6 0 0 12 6 0 0 6 6 0 0 6 6 0 0 18 6 0 0 6 6 0 0 18 6 0 0 6 6 0 0 18 6 0 0 18 6 0 0 12 6 0 0 12 6 0 0 12 6 0 0 6 6 0 0 6 6 0 0 6 6 0 0 12 6 0 0 6 6 0 0 6 6 0 0 12 6 0 0 6 6 0 0 6 30 0 0-6 6 0 0-6 6 0 0-6 6 0 0-6 6 0 0-90 6 0 0-30-6 0 0-24-6 0 0-18-6 0 0-18-6 0 0-12-6 0 0-12-6 0 0-12-6 0 0-18-6 0 0-12-6 0 0-18-6 0 0-18-6 0 0-24-6 0 0-12-6 0 0-30-6 0 0-30-6 0 0-48 6 0 0-6 6 0 0-6 6 0 0-18 6 0 0-18 6 0 0-6 6 0 0-12 6 0 0-6 6 0 0-6 6 0 0-6 6 0 0-6 6 0 0-6 12 0 0-6 6 0 0-6 12 0 0-6 6 0 0-6 6 0 0-6 6 0zM1940 1345l1-1 0 31-6 0 0 6-6 0 0 6-6 0 0 6-48 0 0-6-48 0 0-6-6 0 0-4 42-8 39-6 15-6z"/>
<path fill="#0036ff" d="M1629 157l140 0 1 6 3 4 6 4 18 0 30 5 7-1 11-6 4-6 1-6 73 0 0 6 6 0 0 6 6 0 0 6 6 0 0 911-48-23-24-8-18-3-12 0-18 3-60 16-24 9-12 6-42 27-42 25-16 15-16 18-10 14-5 10-1 6 2 6 13 24 3 12 0 6-11 12-2 6 1 6 6 8 6 4 12 2 30-18 12-2 18 2 6 4 4 6 8 24 5 6 13 5 12 3 18 6 12 9 16 13 12 24 8 6-30 0 0-6-60 0 0-6-60 0 0-6-72 0 0-6-72 0 0-6-6 0 0-6-72 0 0-6-96 0 0-6-102 0 0-6-6 0 0-6-138 0 0-6-6 0 0-6-6 0 0-6-6 0 0-6-6 0 0-6-6 0 0-6 6 0 0-6 6 0 0-36 6 0 0-6 6 0 0-6 6 0 0-6 6 0 0-6 6 0 0-30 6 0 0-6 6 0 0-66 6 0 0-6 6 0 0-6 6 0 0-6 36 0 0-24-6 0 0-48-6 0 0-12-6 0 0-6-12 0 0 6-6 0 0 6-84 0 0 6-30 0 0 6-12 0 0-6-36 0 0 6-18 0 0 6-6 0 0 6-6 0 0 6-6 0 0 12-6 0 0 60-6 0 0 6-6 0 0 18 6 0 0 12-6 0 0 6-6 0 0 6-6 0 0 6-12 0 0 6-6 0 0 6-12 0 0 6-12 0 0 6-6 0 0 6-6 0 0 6-6 0 0 6-6 0 0 6-6 0 0-6-36 0 0 6-12 0 0 6-24 0 0 6-18 0 0 6-30 0 0 6-18 0 0 6-24 0 0 6-18 0 0-6-6 0 0-6-6 0 0-6-6 0 0-6-6 0 0-6-6 0 0-6-36 0 0-6-12 0 0-6-6 0 0-6-6 0 0-6-6 0 0-6-6 0 0-6-6 0 0-6-6 0 0-6-6 0 0-6-6 0 0-24-6 0 0-18-6 0 0-12-6 0 0-6-6 0 0-12-6 0 0-6-6 0 0-6-6 0 0-6-6 0 0-12-6 0 0-6-6 0 0-6-6 0 0-6-6 0 0-12-6 0 0-6-6 0 0-6-6 0 0-48-6 0 0-30-6 0 0-6 6 0 0-138 6 0 0-54 6 0 0-12 6 0 0-6 6 0 0-6 6 0 0-6 6 0 0-48-6 0 0-6-6 0 0-6-6 0 0-42 6 0 0-6 6 0 0-24-6 0 0-6 6 0 0-12 6 0 0-12 6 0 0-6 6 0 0-6 6 0 0-6 6 0 0-6 6 0 0-6 6 0 0-6 6 0 0-6 6 0 0-6 12 0 0-6 6 0 0-6 12 0 0-6 12 0 0-6 12 0 0-6 6 0 0-6 12 0 0-6 6 0 0-6 12 0 0-6 6 0 0-6 6 0 0-6 6 0 0-6 6 0 0-6 6 0 0-6 6 0 0-6 12 0 0-6 24 0 0-6 30 0 0-6 60 0 0 6 6 0 0 6 72 0 0-6 6 0 0 6 6 0 0 6 6 0 0 6 6 0 0 6 12 0 0 6 6 0 0 6 72 0 0-6 6 0 0-6 12 0 0 6 6 0 0 6 6 0 0 6 18 0 0-12-12 0 0-6-6 0 0-6-6 0 0-6-6 0 0-42 6 0 0-6 6 0 0-6 6 0 0-6 12 0 0-6 6 0 0-6 12 0 0 6 48 0 0-6 6 0 0-6 6 0 0-6 6 0 0 6 6 0 0 6 6 0 0 6 6 0 0 6 12 0 0-6 24 0 0-6 6 0 0-6 12 0 0 6 6 0 0 6 60 0 0 6 6 0 0 6 6 0 0 6 6 0 0 6 6 0 0 6 6 0 0 6 6 0 0 6 6 0 0 6 30 0 0-6 6 0 0-6 18 0 0-6 12 0 0-6 6 0 0-6 18 0 0 6 6 0 0 6 6 0 0 6 6 0 0 6 6 0 0 6 6 0 0 18 6 0 0 6 6 0 0 6 6 0 0 12 24 0 0 6 6 0 0 6 6 0 0 6 6 0 0 54-6 0 0 6-6 0 0 12-6 0 0 12 6 0 0 6 6 0 0 6 6 0 0 18 6 0 0 6 6 0 0 18 6 0 0 6 6 0 0 18 6 0 0 18 6 0 0 12 6 0 0 12 6 0 0 12 6 0 0 6 6 0 0 6 6 0 0 6 6 0 0 12 6 0 0 6 6 0 0 6 6 0 0 12 6 0 0 6 6 0 0 6 30 0 0-6 6 0 0-6 6 0 0-6 6 0 0-6 6 0 0-90 6 0 0-30-6 0 0-24-6 0 0-18-6 0 0-18-6 0 0-12-6 0 0-12-6 0 0-12-6 0 0-18-6 0 0-12-6 0 0-18-6 0 0-18-6 0 0-24-6 0 0-12-6 0 0-30-6 0 0-30-6 0 0-48 6 0 0-6 6 0 0-6 6 0 0-18 6 0 0-18 6 0 0-6 6 0 0-12 6 0 0-6 6 0 0-6 6 0 0-6 6 0 0-6 6 0 0-6 12 0 0-6 6 0 0-6 12 0 0-6 6 0 0-6 6 0 0-6 6 0zM1930 1357l11-5 0 23-6 0 0 6-6 0 0 6-6 0 0 6-48 0 0-6-48 0 0-6-6 0 0-2 78-11 17-5z"/>
<path fill="#003dff" d="M1629 157l138 0 1 6 4 6 7 3 18 0 30 4 9-1 12-6 4-12 71 0 0 6 6 0 0 6 6 0 0 6 6 0 0 905-60-25-18-6-18-2-30 4-78 20-18 9-84 57-17 16-21 24-7 12-2 6 1 12 15 30 1 6-2 6-10 9-1 3 0 6 7 12 6 6 12 4 6 0 30-19 12-2 18 2 6 4 4 5 8 24 5 6 13 6 12 2 18 6 12 9 15 13 12 24 8 6-29 0 0-6-60 0 0-6-60 0 0-6-72 0 0-6-72 0 0-6-6 0 0-6-72 0 0-6-96 0 0-6-102 0 0-6-6 0 0-6-138 0 0-6-6 0 0-6-6 0 0-6-6 0 0-6-6 0 0-6-6 0 0-6 6 0 0-6 6 0 0-36 6 0 0-6 6 0 0-6 6 0 0-6 6 0 0-6 6 0 0-30 6 0 0-6 6 0 0-66 6 0 0-6 6 0 0-6 6 0 0-6 36 0 0-24-6 0 0-48-6 0 0-12-6 0 0-6-12 0 0 6-6 0 0 6-84 0 0 6-30 0 0 6-12 0 0-6-36 0 0 6-18 0 0 6-6 0 0 6-6 0 0 6-6 0 0 12-6 0 0 60-6 0 0 6-6 0 0 18 6 0 0 12-6 0 0 6-6 0 0 6-6 0 0 6-12 0 0 6-6 0 0 6-12 0 0 6-12 0 0 6-6 0 0 6-6 0 0 6-6 0 0 6-6 0 0 6-6 0 0-6-36 0 0 6-12 0 0 6-24 0 0 6-18 0 0 6-30 0 0 6-18 0 0 6-24 0 0 6-18 0 0-6-6 0 0-6-6 0 0-6-6 0 0-6-6 0 0-6-6 0 0-6-36 0 0-6-12 0 0-6-6 0 0-6-6 0 0-6-6 0 0-6-6 0 0-6-6 0 0-6-6 0 0-6-6 0 0-6-6 0 0-24-6 0 0-18-6 0 0-12-6 0 0-6-6 0 0-12-6 0 0-6-6 0 0-6-6 0 0-6-6 0 0-12-6 0 0-6-6 0 0-6-6 0 0-6-6 0 0-12-6 0 0-6-6 0 0-6-6 0 0-48-6 0 0-30-6 0 0-6 6 0 0-138 6 0 0-54 6 0 0-12 6 0 0-6 6 0 0-6 6 0 0-6 6 0 0-48-6 0 0-6-6 0 0-6-6 0 0-42 6 0 0-6 6 0 0-24-6 0 0-6 6 0 0-12 6 0 0-12 6 0 0-6 6 0 0-6 6 0 0-6 6 0 0-6 6 0 0-6 6 0 0-6 6 0 0-6 6 0 0-6 12 0 0-6 6 0 0-6 12 0 0-6 12 0 0-6 12 0 0-6 6 0 0-6 12 0 0-6 6 0 0-6 12 0 0-6 6 0 0-6 6 0 0-6 6 0 0-6 6 0 0-6 6 0 0-6 6 0 0-6 12 0 0-6 24 0 0-6 30 0 0-6 60 0 0 6 6 0 0 6 72 0 0-6 6 0 0 6 6 0 0 6 6 0 0 6 6 0 0 6 12 0 0 6 6 0 0 6 72 0 0-6 6 0 0-6 12 0 0 6 6 0 0 6 6 0 0 6 18 0 0-12-12 0 0-6-6 0 0-6-6 0 0-6-6 0 0-42 6 0 0-6 6 0 0-6 6 0 0-6 12 0 0-6 6 0 0-6 12 0 0 6 48 0 0-6 6 0 0-6 6 0 0-6 6 0 0 6 6 0 0 6 6 0 0 6 6 0 0 6 12 0 0-6 24 0 0-6 6 0 0-6 12 0 0 6 6 0 0 6 60 0 0 6 6 0 0 6 6 0 0 6 6 0 0 6 6 0 0 6 6 0 0 6 6 0 0 6 6 0 0 6 30 0 0-6 6 0 0-6 18 0 0-6 12 0 0-6 6 0 0-6 18 0 0 6 6 0 0 6 6 0 0 6 6 0 0 6 6 0 0 6 6 0 0 18 6 0 0 6 6 0 0 6 6 0 0 12 24 0 0 6 6 0 0 6 6 0 0 6 6 0 0 54-6 0 0 6-6 0 0 12-6 0 0 12 6 0 0 6 6 0 0 6 6 0 0 18 6 0 0 6 6 0 0 18 6 0 0 6 6 0 0 18 6 0 0 18 6 0 0 12 6 0 0 12 6 0 0 12 6 0 0 6 6 0 0 6 6 0 0 6 6 0 0 12 6 0 0 6 6 0 0 6 6 0 0 12 6 0 0 6 6 0 0 6 30 0 0-6 6 0 0-6 6 0 0-6 6 0 0-6 6 0 0-90 6 0 0-30-6 0 0-24-6 0 0-18-6 0 0-18-6 0 0-12-6 0 0-12-6 0 0-12-6 0 0-18-6 0 0-12-6 0 0-18-6 0 0-18-6 0 0-24-6 0 0-12-6 0 0-30-6 0 0-30-6 0 0-48 6 0 0-6 6 0 0-6 6 0 0-18 6 0 0-18 6 0 0-6 6 0 0-12 6 0 0-6 6 0 0-6 6 0 0-6 6 0 0-6 6 0 0-6 12 0 0-6 6 0 0-6 12 0 0-6 6 0 0-6 6 0 0-6 6 0zM1931 1363l10-4 0 16-6 0 0 6-6 0 0 6-6 0 0 6-48 0 0-6-48 0 0-6-6 0 78-9z"/>
<path fill="#0043ff" d="M1629 157l136 0 1 6 3 6 10 4 12 0 36 4 11-2 12-6 5-12 68 0 0 6 6 0 0 6 6 0 0 6 6 0 0 899-66-26-30-5-30 3-84 18-12 7-90 65-39 41-7 12-1 6 1 12 8 18 4 12 0 6-10 6-4 6 2 6 8 12 10 12 15 6 7 0 24-16 12-5 18 0 6 1 9 8 8 24 5 6 13 6 13 2 18 7 12 8 15 13 7 12 5 12 6 6-27 0 0-6-60 0 0-6-60 0 0-6-72 0 0-6-72 0 0-6-6 0 0-6-72 0 0-6-96 0 0-6-102 0 0-6-6 0 0-6-138 0 0-6-6 0 0-6-6 0 0-6-6 0 0-6-6 0 0-6-6 0 0-6 6 0 0-6 6 0 0-36 6 0 0-6 6 0 0-6 6 0 0-6 6 0 0-6 6 0 0-30 6 0 0-6 6 0 0-66 6 0 0-6 6 0 0-6 6 0 0-6 36 0 0-24-6 0 0-48-6 0 0-12-6 0 0-6-12 0 0 6-6 0 0 6-84 0 0 6-30 0 0 6-12 0 0-6-36 0 0 6-18 0 0 6-6 0 0 6-6 0 0 6-6 0 0 12-6 0 0 60-6 0 0 6-6 0 0 18 6 0 0 12-6 0 0 6-6 0 0 6-6 0 0 6-12 0 0 6-6 0 0 6-12 0 0 6-12 0 0 6-6 0 0 6-6 0 0 6-6 0 0 6-6 0 0 6-6 0 0-6-36 0 0 6-12 0 0 6-24 0 0 6-18 0 0 6-30 0 0 6-18 0 0 6-24 0 0 6-18 0 0-6-6 0 0-6-6 0 0-6-6 0 0-6-6 0 0-6-6 0 0-6-36 0 0-6-12 0 0-6-6 0 0-6-6 0 0-6-6 0 0-6-6 0 0-6-6 0 0-6-6 0 0-6-6 0 0-6-6 0 0-24-6 0 0-18-6 0 0-12-6 0 0-6-6 0 0-12-6 0 0-6-6 0 0-6-6 0 0-6-6 0 0-12-6 0 0-6-6 0 0-6-6 0 0-6-6 0 0-12-6 0 0-6-6 0 0-6-6 0 0-48-6 0 0-30-6 0 0-6 6 0 0-138 6 0 0-54 6 0 0-12 6 0 0-6 6 0 0-6 6 0 0-6 6 0 0-48-6 0 0-6-6 0 0-6-6 0 0-42 6 0 0-6 6 0 0-24-6 0 0-6 6 0 0-12 6 0 0-12 6 0 0-6 6 0 0-6 6 0 0-6 6 0 0-6 6 0 0-6 6 0 0-6 6 0 0-6 6 0 0-6 12 0 0-6 6 0 0-6 12 0 0-6 12 0 0-6 12 0 0-6 6 0 0-6 12 0 0-6 6 0 0-6 12 0 0-6 6 0 0-6 6 0 0-6 6 0 0-6 6 0 0-6 6 0 0-6 6 0 0-6 12 0 0-6 24 0 0-6 30 0 0-6 60 0 0 6 6 0 0 6 72 0 0-6 6 0 0 6 6 0 0 6 6 0 0 6 6 0 0 6 12 0 0 6 6 0 0 6 72 0 0-6 6 0 0-6 12 0 0 6 6 0 0 6 6 0 0 6 18 0 0-12-12 0 0-6-6 0 0-6-6 0 0-6-6 0 0-42 6 0 0-6 6 0 0-6 6 0 0-6 12 0 0-6 6 0 0-6 12 0 0 6 48 0 0-6 6 0 0-6 6 0 0-6 6 0 0 6 6 0 0 6 6 0 0 6 6 0 0 6 12 0 0-6 24 0 0-6 6 0 0-6 12 0 0 6 6 0 0 6 60 0 0 6 6 0 0 6 6 0 0 6 6 0 0 6 6 0 0 6 6 0 0 6 6 0 0 6 6 0 0 6 30 0 0-6 6 0 0-6 18 0 0-6 12 0 0-6 6 0 0-6 18 0 0 6 6 0 0 6 6 0 0 6 6 0 0 6 6 0 0 6 6 0 0 18 6 0 0 6 6 0 0 6 6 0 0 12 24 0 0 6 6 0 0 6 6 0 0 6 6 0 0 54-6 0 0 6-6 0 0 12-6 0 0 12 6 0 0 6 6 0 0 6 6 0 0 18 6 0 0 6 6 0 0 18 6 0 0 6 6 0 0 18 6 0 0 18 6 0 0 12 6 0 0 12 6 0 0 12 6 0 0 6 6 0 0 6 6 0 0 6 6 0 0 12 6 0 0 6 6 0 0 6 6 0 0 12 6 0 0 6 6 0 0 6 30 0 0-6 6 0 0-6 6 0 0-6 6 0 0-6 6 0 0-90 6 0 0-30-6 0 0-24-6 0 0-18-6 0 0-18-6 0 0-12-6 0 0-12-6 0 0-12-6 0 0-18-6 0 0-12-6 0 0-18-6 0 0-18-6 0 0-24-6 0 0-12-6 0 0-30-6 0 0-30-6 0 0-48 6 0 0-6 6 0 0-6 6 0 0-18 6 0 0-18 6 0 0-6 6 0 0-12 6 0 0-6 6 0 0-6 6 0 0-6 6 0 0-6 6 0 0-6 12 0 0-6 6 0 0-6 12 0 0-6 6 0 0-6 6 0 0-6 6 0zM1929 1369l12-4 0 10-6 0 0 6-6 0 0 6-6 0 0 6-48 0 0-6-48 0 0-5 72-6z"/>
<path fill="#0049ff" d="M1629 157l133 0 1 6 4 6 12 5 12 0 36 3 12-2 13-6 5-12 66 0 0 6 6 0 0 6 6 0 0 6 6 0 0 893-24-6-42-18-30-5-36 4-84 16-42 29-60 47-40 42-7 12-1 6 2 12 7 18 0 6-14 18-1 6 29 30 13 7 12 0 24-16 12-5 18 0 6 1 8 7 9 24 5 6 13 6 13 2 18 7 18 13 8 8 8 12 4 12 6 6-26 0 0-6-60 0 0-6-60 0 0-6-72 0 0-6-72 0 0-6-6 0 0-6-72 0 0-6-96 0 0-6-102 0 0-6-6 0 0-6-138 0 0-6-6 0 0-6-6 0 0-6-6 0 0-6-6 0 0-6-6 0 0-6 6 0 0-6 6 0 0-36 6 0 0-6 6 0 0-6 6 0 0-6 6 0 0-6 6 0 0-30 6 0 0-6 6 0 0-66 6 0 0-6 6 0 0-6 6 0 0-6 36 0 0-24-6 0 0-48-6 0 0-12-6 0 0-6-12 0 0 6-6 0 0 6-84 0 0 6-30 0 0 6-12 0 0-6-36 0 0 6-18 0 0 6-6 0 0 6-6 0 0 6-6 0 0 12-6 0 0 60-6 0 0 6-6 0 0 18 6 0 0 12-6 0 0 6-6 0 0 6-6 0 0 6-12 0 0 6-6 0 0 6-12 0 0 6-12 0 0 6-6 0 0 6-6 0 0 6-6 0 0 6-6 0 0 6-6 0 0-6-36 0 0 6-12 0 0 6-24 0 0 6-18 0 0 6-30 0 0 6-18 0 0 6-24 0 0 6-18 0 0-6-6 0 0-6-6 0 0-6-6 0 0-6-6 0 0-6-6 0 0-6-36 0 0-6-12 0 0-6-6 0 0-6-6 0 0-6-6 0 0-6-6 0 0-6-6 0 0-6-6 0 0-6-6 0 0-6-6 0 0-24-6 0 0-18-6 0 0-12-6 0 0-6-6 0 0-12-6 0 0-6-6 0 0-6-6 0 0-6-6 0 0-12-6 0 0-6-6 0 0-6-6 0 0-6-6 0 0-12-6 0 0-6-6 0 0-6-6 0 0-48-6 0 0-30-6 0 0-6 6 0 0-138 6 0 0-54 6 0 0-12 6 0 0-6 6 0 0-6 6 0 0-6 6 0 0-48-6 0 0-6-6 0 0-6-6 0 0-42 6 0 0-6 6 0 0-24-6 0 0-6 6 0 0-12 6 0 0-12 6 0 0-6 6 0 0-6 6 0 0-6 6 0 0-6 6 0 0-6 6 0 0-6 6 0 0-6 6 0 0-6 12 0 0-6 6 0 0-6 12 0 0-6 12 0 0-6 12 0 0-6 6 0 0-6 12 0 0-6 6 0 0-6 12 0 0-6 6 0 0-6 6 0 0-6 6 0 0-6 6 0 0-6 6 0 0-6 6 0 0-6 12 0 0-6 24 0 0-6 30 0 0-6 60 0 0 6 6 0 0 6 72 0 0-6 6 0 0 6 6 0 0 6 6 0 0 6 6 0 0 6 12 0 0 6 6 0 0 6 72 0 0-6 6 0 0-6 12 0 0 6 6 0 0 6 6 0 0 6 18 0 0-12-12 0 0-6-6 0 0-6-6 0 0-6-6 0 0-42 6 0 0-6 6 0 0-6 6 0 0-6 12 0 0-6 6 0 0-6 12 0 0 6 48 0 0-6 6 0 0-6 6 0 0-6 6 0 0 6 6 0 0 6 6 0 0 6 6 0 0 6 12 0 0-6 24 0 0-6 6 0 0-6 12 0 0 6 6 0 0 6 60 0 0 6 6 0 0 6 6 0 0 6 6 0 0 6 6 0 0 6 6 0 0 6 6 0 0 6 6 0 0 6 30 0 0-6 6 0 0-6 18 0 0-6 12 0 0-6 6 0 0-6 18 0 0 6 6 0 0 6 6 0 0 6 6 0 0 6 6 0 0 6 6 0 0 18 6 0 0 6 6 0 0 6 6 0 0 12 24 0 0 6 6 0 0 6 6 0 0 6 6 0 0 54-6 0 0 6-6 0 0 12-6 0 0 12 6 0 0 6 6 0 0 6 6 0 0 18 6 0 0 6 6 0 0 18 6 0 0 6 6 0 0 18 6 0 0 18 6 0 0 12 6 0 0 12 6 0 0 12 6 0 0 6 6 0 0 6 6 0 0 6 6 0 0 12 6 0 0 6 6 0 0 6 6 0 0 12 6 0 0 6 6 0 0 6 30 0 0-6 6 0 0-6 6 0 0-6 6 0 0-6 6 0 0-90 6 0 0-30-6 0 0-24-6 0 0-18-6 0 0-18-6 0 0-12-6 0 0-12-6 0 0-12-6 0 0-18-6 0 0-12-6 0 0-18-6 0 0-18-6 0 0-24-6 0 0-12-6 0 0-30-6 0 0-30-6 0 0-48 6 0 0-6 6 0 0-6 6 0 0-18 6 0 0-18 6 0 0-6 6 0 0-12 6 0 0-6 6 0 0-6 6 0 0-6 6 0 0-6 6 0 0-6 12 0 0-6 6 0 0-6 12 0 0-6 6 0 0-6 6 0 0-6 6 0zM1926 1375l15-4 0 4-6 0 0 6-6 0 0 6-6 0 0 6-48 0 0-6-48 0 0-4 66-2z"/>
<path fill="#004fff" d="M1629 157l130 0 2 12 18 6 36 1 12 2 14-3 10-4 3-2 6-12 63 0 0 6 6 0 0 6 6 0 0 6 6 0 0 888-24-5-42-18-30-5-36 3-84 14-6 3-42 29-23 21-37 29-41 43-4 6-3 12 1 12 5 18-12 24-1 6 3 6 16 9 18 18 6 3 12 3 10-3 14-10 18-9 18-1 6 2 7 6 10 24 4 6 13 6 14 3 18 6 18 14 8 7 7 12 4 12 6 6-25 0 0-6-60 0 0-6-60 0 0-6-72 0 0-6-72 0 0-6-6 0 0-6-72 0 0-6-96 0 0-6-102 0 0-6-6 0 0-6-138 0 0-6-6 0 0-6-6 0 0-6-6 0 0-6-6 0 0-6-6 0 0-6 6 0 0-6 6 0 0-36 6 0 0-6 6 0 0-6 6 0 0-6 6 0 0-6 6 0 0-30 6 0 0-6 6 0 0-66 6 0 0-6 6 0 0-6 6 0 0-6 36 0 0-24-6 0 0-48-6 0 0-12-6 0 0-6-12 0 0 6-6 0 0 6-84 0 0 6-30 0 0 6-12 0 0-6-36 0 0 6-18 0 0 6-6 0 0 6-6 0 0 6-6 0 0 12-6 0 0 60-6 0 0 6-6 0 0 18 6 0 0 12-6 0 0 6-6 0 0 6-6 0 0 6-12 0 0 6-6 0 0 6-12 0 0 6-12 0 0 6-6 0 0 6-6 0 0 6-6 0 0 6-6 0 0 6-6 0 0-6-36 0 0 6-12 0 0 6-24 0 0 6-18 0 0 6-30 0 0 6-18 0 0 6-24 0 0 6-18 0 0-6-6 0 0-6-6 0 0-6-6 0 0-6-6 0 0-6-6 0 0-6-36 0 0-6-12 0 0-6-6 0 0-6-6 0 0-6-6 0 0-6-6 0 0-6-6 0 0-6-6 0 0-6-6 0 0-6-6 0 0-24-6 0 0-18-6 0 0-12-6 0 0-6-6 0 0-12-6 0 0-6-6 0 0-6-6 0 0-6-6 0 0-12-6 0 0-6-6 0 0-6-6 0 0-6-6 0 0-12-6 0 0-6-6 0 0-6-6 0 0-48-6 0 0-30-6 0 0-6 6 0 0-138 6 0 0-54 6 0 0-12 6 0 0-6 6 0 0-6 6 0 0-6 6 0 0-48-6 0 0-6-6 0 0-6-6 0 0-42 6 0 0-6 6 0 0-24-6 0 0-6 6 0 0-12 6 0 0-12 6 0 0-6 6 0 0-6 6 0 0-6 6 0 0-6 6 0 0-6 6 0 0-6 6 0 0-6 6 0 0-6 12 0 0-6 6 0 0-6 12 0 0-6 12 0 0-6 12 0 0-6 6 0 0-6 12 0 0-6 6 0 0-6 12 0 0-6 6 0 0-6 6 0 0-6 6 0 0-6 6 0 0-6 6 0 0-6 6 0 0-6 12 0 0-6 24 0 0-6 30 0 0-6 60 0 0 6 6 0 0 6 72 0 0-6 6 0 0 6 6 0 0 6 6 0 0 6 6 0 0 6 12 0 0 6 6 0 0 6 72 0 0-6 6 0 0-6 12 0 0 6 6 0 0 6 6 0 0 6 18 0 0-12-12 0 0-6-6 0 0-6-6 0 0-6-6 0 0-42 6 0 0-6 6 0 0-6 6 0 0-6 12 0 0-6 6 0 0-6 12 0 0 6 48 0 0-6 6 0 0-6 6 0 0-6 6 0 0 6 6 0 0 6 6 0 0 6 6 0 0 6 12 0 0-6 24 0 0-6 6 0 0-6 12 0 0 6 6 0 0 6 60 0 0 6 6 0 0 6 6 0 0 6 6 0 0 6 6 0 0 6 6 0 0 6 6 0 0 6 6 0 0 6 30 0 0-6 6 0 0-6 18 0 0-6 12 0 0-6 6 0 0-6 18 0 0 6 6 0 0 6 6 0 0 6 6 0 0 6 6 0 0 6 6 0 0 18 6 0 0 6 6 0 0 6 6 0 0 12 24 0 0 6 6 0 0 6 6 0 0 6 6 0 0 54-6 0 0 6-6 0 0 12-6 0 0 12 6 0 0 6 6 0 0 6 6 0 0 18 6 0 0 6 6 0 0 18 6 0 0 6 6 0 0 18 6 0 0 18 6 0 0 12 6 0 0 12 6 0 0 12 6 0 0 6 6 0 0 6 6 0 0 6 6 0 0 12 6 0 0 6 6 0 0 6 6 0 0 12 6 0 0 6 6 0 0 6 30 0 0-6 6 0 0-6 6 0 0-6 6 0 0-6 6 0 0-90 6 0 0-30-6 0 0-24-6 0 0-18-6 0 0-18-6 0 0-12-6 0 0-12-6 0 0-12-6 0 0-18-6 0 0-12-6 0 0-18-6 0 0-18-6 0 0-24-6 0 0-12-6 0 0-30-6 0 0-30-6 0 0-48 6 0 0-6 6 0 0-6 6 0 0-18 6 0 0-18 6 0 0-6 6 0 0-12 6 0 0-6 6 0 0-6 6 0 0-6 6 0 0-6 6 0 0-6 12 0 0-6 6 0 0-6 12 0 0-6 6 0 0-6 6 0 0-6 6 0zM1920 1381l15-3 0 3-6 0 0 6-6 0 0 6-48 0 0-6-48 0 0-2 66-1z"/>
<path fill="#0054ff" d="M1629 157l126 0-3 12 3 2 12 1 12 3 36 1 12 2 6 0 18-6 5-3 5-12 62 0 0 6 6 0 0 6 6 0 0 6 6 0 0 884-24-4-30-15-12-4-30-4-42 3-78 13-7 3-23 17-22 13-25 24-31 24-43 42-8 12-2 6-1 12 3 24-5 18-2 12 4 8 18 10 18 16 6 3 12 3 12-4 12-9 18-9 18-1 6 2 7 5 9 24 5 6 12 6 15 3 18 7 12 8 14 12 7 12 4 12 5 6-24 0 0-6-60 0 0-6-60 0 0-6-72 0 0-6-72 0 0-6-6 0 0-6-72 0 0-6-96 0 0-6-102 0 0-6-6 0 0-6-138 0 0-6-6 0 0-6-6 0 0-6-6 0 0-6-6 0 0-6-6 0 0-6 6 0 0-6 6 0 0-36 6 0 0-6 6 0 0-6 6 0 0-6 6 0 0-6 6 0 0-30 6 0 0-6 6 0 0-66 6 0 0-6 6 0 0-6 6 0 0-6 36 0 0-24-6 0 0-48-6 0 0-12-6 0 0-6-12 0 0 6-6 0 0 6-84 0 0 6-30 0 0 6-12 0 0-6-36 0 0 6-18 0 0 6-6 0 0 6-6 0 0 6-6 0 0 12-6 0 0 60-6 0 0 6-6 0 0 18 6 0 0 12-6 0 0 6-6 0 0 6-6 0 0 6-12 0 0 6-6 0 0 6-12 0 0 6-12 0 0 6-6 0 0 6-6 0 0 6-6 0 0 6-6 0 0 6-6 0 0-6-36 0 0 6-12 0 0 6-24 0 0 6-18 0 0 6-30 0 0 6-18 0 0 6-24 0 0 6-18 0 0-6-6 0 0-6-6 0 0-6-6 0 0-6-6 0 0-6-6 0 0-6-36 0 0-6-12 0 0-6-6 0 0-6-6 0 0-6-6 0 0-6-6 0 0-6-6 0 0-6-6 0 0-6-6 0 0-6-6 0 0-24-6 0 0-18-6 0 0-12-6 0 0-6-6 0 0-12-6 0 0-6-6 0 0-6-6 0 0-6-6 0 0-12-6 0 0-6-6 0 0-6-6 0 0-6-6 0 0-12-6 0 0-6-6 0 0-6-6 0 0-48-6 0 0-30-6 0 0-6 6 0 0-138 6 0 0-54 6 0 0-12 6 0 0-6 6 0 0-6 6 0 0-6 6 0 0-48-6 0 0-6-6 0 0-6-6 0 0-42 6 0 0-6 6 0 0-24-6 0 0-6 6 0 0-12 6 0 0-12 6 0 0-6 6 0 0-6 6 0 0-6 6 0 0-6 6 0 0-6 6 0 0-6 6 0 0-6 6 0 0-6 12 0 0-6 6 0 0-6 12 0 0-6 12 0 0-6 12 0 0-6 6 0 0-6 12 0 0-6 6 0 0-6 12 0 0-6 6 0 0-6 6 0 0-6 6 0 0-6 6 0 0-6 6 0 0-6 6 0 0-6 12 0 0-6 24 0 0-6 30 0 0-6 60 0 0 6 6 0 0 6 72 0 0-6 6 0 0 6 6 0 0 6 6 0 0 6 6 0 0 6 12 0 0 6 6 0 0 6 72 0 0-6 6 0 0-6 12 0 0 6 6 0 0 6 6 0 0 6 18 0 0-12-12 0 0-6-6 0 0-6-6 0 0-6-6 0 0-42 6 0 0-6 6 0 0-6 6 0 0-6 12 0 0-6 6 0 0-6 12 0 0 6 48 0 0-6 6 0 0-6 6 0 0-6 6 0 0 6 6 0 0 6 6 0 0 6 6 0 0 6 12 0 0-6 24 0 0-6 6 0 0-6 12 0 0 6 6 0 0 6 60 0 0 6 6 0 0 6 6 0 0 6 6 0 0 6 6 0 0 6 6 0 0 6 6 0 0 6 6 0 0 6 30 0 0-6 6 0 0-6 18 0 0-6 12 0 0-6 6 0 0-6 18 0 0 6 6 0 0 6 6 0 0 6 6 0 0 6 6 0 0 6 6 0 0 18 6 0 0 6 6 0 0 6 6 0 0 12 24 0 0 6 6 0 0 6 6 0 0 6 6 0 0 54-6 0 0 6-6 0 0 12-6 0 0 12 6 0 0 6 6 0 0 6 6 0 0 18 6 0 0 6 6 0 0 18 6 0 0 6 6 0 0 18 6 0 0 18 6 0 0 12 6 0 0 12 6 0 0 12 6 0 0 6 6 0 0 6 6 0 0 6 6 0 0 12 6 0 0 6 6 0 0 6 6 0 0 12 6 0 0 6 6 0 0 6 30 0 0-6 6 0 0-6 6 0 0-6 6 0 0-6 6 0 0-90 6 0 0-30-6 0 0-24-6 0 0-18-6 0 0-18-6 0 0-12-6 0 0-12-6 0 0-12-6 0 0-18-6 0 0-12-6 0 0-18-6 0 0-18-6 0 0-24-6 0 0-12-6 0 0-30-6 0 0-30-6 0 0-48 6 0 0-6 6 0 0-6 6 0 0-18 6 0 0-18 6 0 0-6 6 0 0-12 6 0 0-6 6 0 0-6 6 0 0-6 6 0 0-6 6 0 0-6 12 0 0-6 6 0 0-6 12 0 0-6 6 0 0-6 6 0 0-6 6 0zM1890 1387l39-4 0 4-6 0 0 6-48 0 0-6z"/>
<path fill="#0059ff" d="M1629 157l120 0-2 12 2 4 4 2 14-2 12 3 36 1 12 1 24-5 6-4 6-12 60 0 0 6 6 0 0 6 6 0 0 6 6 0 0 879-24-3-24-12-18-6-30-5-24 1-30 4-67 12-11 5-42 27-29 28-25 18-49 48-6 6-4 12 2 36-4 30 2 6 5 5 18 9 18 16 18 5 12-4 24-17 12-2 18 1 6 5 4 6 6 18 4 6 12 6 16 3 18 7 12 8 13 12 8 12 4 12 5 6-24 0 0-6-60 0 0-6-60 0 0-6-72 0 0-6-72 0 0-6-6 0 0-6-72 0 0-6-96 0 0-6-102 0 0-6-6 0 0-6-138 0 0-6-6 0 0-6-6 0 0-6-6 0 0-6-6 0 0-6-6 0 0-6 6 0 0-6 6 0 0-36 6 0 0-6 6 0 0-6 6 0 0-6 6 0 0-6 6 0 0-30 6 0 0-6 6 0 0-66 6 0 0-6 6 0 0-6 6 0 0-6 36 0 0-24-6 0 0-48-6 0 0-12-6 0 0-6-12 0 0 6-6 0 0 6-84 0 0 6-30 0 0 6-12 0 0-6-36 0 0 6-18 0 0 6-6 0 0 6-6 0 0 6-6 0 0 12-6 0 0 60-6 0 0 6-6 0 0 18 6 0 0 12-6 0 0 6-6 0 0 6-6 0 0 6-12 0 0 6-6 0 0 6-12 0 0 6-12 0 0 6-6 0 0 6-6 0 0 6-6 0 0 6-6 0 0 6-6 0 0-6-36 0 0 6-12 0 0 6-24 0 0 6-18 0 0 6-30 0 0 6-18 0 0 6-24 0 0 6-18 0 0-6-6 0 0-6-6 0 0-6-6 0 0-6-6 0 0-6-6 0 0-6-36 0 0-6-12 0 0-6-6 0 0-6-6 0 0-6-6 0 0-6-6 0 0-6-6 0 0-6-6 0 0-6-6 0 0-6-6 0 0-24-6 0 0-18-6 0 0-12-6 0 0-6-6 0 0-12-6 0 0-6-6 0 0-6-6 0 0-6-6 0 0-12-6 0 0-6-6 0 0-6-6 0 0-6-6 0 0-12-6 0 0-6-6 0 0-6-6 0 0-48-6 0 0-30-6 0 0-6 6 0 0-138 6 0 0-54 6 0 0-12 6 0 0-6 6 0 0-6 6 0 0-6 6 0 0-48-6 0 0-6-6 0 0-6-6 0 0-42 6 0 0-6 6 0 0-24-6 0 0-6 6 0 0-12 6 0 0-12 6 0 0-6 6 0 0-6 6 0 0-6 6 0 0-6 6 0 0-6 6 0 0-6 6 0 0-6 6 0 0-6 12 0 0-6 6 0 0-6 12 0 0-6 12 0 0-6 12 0 0-6 6 0 0-6 12 0 0-6 6 0 0-6 12 0 0-6 6 0 0-6 6 0 0-6 6 0 0-6 6 0 0-6 6 0 0-6 6 0 0-6 12 0 0-6 24 0 0-6 30 0 0-6 60 0 0 6 6 0 0 6 72 0 0-6 6 0 0 6 6 0 0 6 6 0 0 6 6 0 0 6 12 0 0 6 6 0 0 6 72 0 0-6 6 0 0-6 12 0 0 6 6 0 0 6 6 0 0 6 18 0 0-12-12 0 0-6-6 0 0-6-6 0 0-6-6 0 0-42 6 0 0-6 6 0 0-6 6 0 0-6 12 0 0-6 6 0 0-6 12 0 0 6 48 0 0-6 6 0 0-6 6 0 0-6 6 0 0 6 6 0 0 6 6 0 0 6 6 0 0 6 12 0 0-6 24 0 0-6 6 0 0-6 12 0 0 6 6 0 0 6 60 0 0 6 6 0 0 6 6 0 0 6 6 0 0 6 6 0 0 6 6 0 0 6 6 0 0 6 6 0 0 6 30 0 0-6 6 0 0-6 18 0 0-6 12 0 0-6 6 0 0-6 18 0 0 6 6 0 0 6 6 0 0 6 6 0 0 6 6 0 0 6 6 0 0 18 6 0 0 6 6 0 0 6 6 0 0 12 24 0 0 6 6 0 0 6 6 0 0 6 6 0 0 54-6 0 0 6-6 0 0 12-6 0 0 12 6 0 0 6 6 0 0 6 6 0 0 18 6 0 0 6 6 0 0 18 6 0 0 6 6 0 0 18 6 0 0 18 6 0 0 12 6 0 0 12 6 0 0 12 6 0 0 6 6 0 0 6 6 0 0 6 6 0 0 12 6 0 0 6 6 0 0 6 6 0 0 12 6 0 0 6 6 0 0 6 30 0 0-6 6 0 0-6 6 0 0-6 6 0 0-6 6 0 0-90 6 0 0-30-6 0 0-24-6 0 0-18-6 0 0-18-6 0 0-12-6 0 0-12-6 0 0-12-6 0 0-18-6 0 0-12-6 0 0-18-6 0 0-18-6 0 0-24-6 0 0-12-6 0 0-30-6 0 0-30-6 0 0-48 6 0 0-6 6 0 0-6 6 0 0-18 6 0 0-18 6 0 0-6 6 0 0-12 6 0 0-6 6 0 0-6 6 0 0-6 6 0 0-6 6 0 0-6 12 0 0-6 6 0 0-6 12 0 0-6 6 0 0-6 6 0 0-6 6 0zM1875 1393l0-3 24-1 24-2 0 6z"/>
<path fill="#005eff" d="M1629 157l115 0-1 12 2 6 4 1 18-2 12 2 36 1 12 2 24-5 6-4 8-13 57 0 1 6 6 0 0 6 6 0 0 6 6 0 0 875-24-2-24-13-12-4-18-4-18-2-24 1-36 3-60 12-12 6-48 30-24 23-24 18-30 31-27 22-5 6-2 6 2 42-1 30 2 6 6 6 19 10 18 15 18 5 6-1 6-3 12-10 18-9 18-1 6 2 6 5 3 5 7 18 4 6 12 6 16 4 18 6 12 9 13 11 7 12 4 12 5 6-23 0 0-6-60 0 0-6-60 0 0-6-72 0 0-6-72 0 0-6-6 0 0-6-72 0 0-6-96 0 0-6-102 0 0-6-6 0 0-6-138 0 0-6-6 0 0-6-6 0 0-6-6 0 0-6-6 0 0-6-6 0 0-6 6 0 0-6 6 0 0-36 6 0 0-6 6 0 0-6 6 0 0-6 6 0 0-6 6 0 0-30 6 0 0-6 6 0 0-66 6 0 0-6 6 0 0-6 6 0 0-6 36 0 0-24-6 0 0-48-6 0 0-12-6 0 0-6-12 0 0 6-6 0 0 6-84 0 0 6-30 0 0 6-12 0 0-6-36 0 0 6-18 0 0 6-6 0 0 6-6 0 0 6-6 0 0 12-6 0 0 60-6 0 0 6-6 0 0 18 6 0 0 12-6 0 0 6-6 0 0 6-6 0 0 6-12 0 0 6-6 0 0 6-12 0 0 6-12 0 0 6-6 0 0 6-6 0 0 6-6 0 0 6-6 0 0 6-6 0 0-6-36 0 0 6-12 0 0 6-24 0 0 6-18 0 0 6-30 0 0 6-18 0 0 6-24 0 0 6-18 0 0-6-6 0 0-6-6 0 0-6-6 0 0-6-6 0 0-6-6 0 0-6-36 0 0-6-12 0 0-6-6 0 0-6-6 0 0-6-6 0 0-6-6 0 0-6-6 0 0-6-6 0 0-6-6 0 0-6-6 0 0-24-6 0 0-18-6 0 0-12-6 0 0-6-6 0 0-12-6 0 0-6-6 0 0-6-6 0 0-6-6 0 0-12-6 0 0-6-6 0 0-6-6 0 0-6-6 0 0-12-6 0 0-6-6 0 0-6-6 0 0-48-6 0 0-30-6 0 0-6 6 0 0-138 6 0 0-54 6 0 0-12 6 0 0-6 6 0 0-6 6 0 0-6 6 0 0-48-6 0 0-6-6 0 0-6-6 0 0-42 6 0 0-6 6 0 0-24-6 0 0-6 6 0 0-12 6 0 0-12 6 0 0-6 6 0 0-6 6 0 0-6 6 0 0-6 6 0 0-6 6 0 0-6 6 0 0-6 6 0 0-6 12 0 0-6 6 0 0-6 12 0 0-6 12 0 0-6 12 0 0-6 6 0 0-6 12 0 0-6 6 0 0-6 12 0 0-6 6 0 0-6 6 0 0-6 6 0 0-6 6 0 0-6 6 0 0-6 6 0 0-6 12 0 0-6 24 0 0-6 30 0 0-6 60 0 0 6 6 0 0 6 72 0 0-6 6 0 0 6 6 0 0 6 6 0 0 6 6 0 0 6 12 0 0 6 6 0 0 6 72 0 0-6 6 0 0-6 12 0 0 6 6 0 0 6 6 0 0 6 18 0 0-12-12 0 0-6-6 0 0-6-6 0 0-6-6 0 0-42 6 0 0-6 6 0 0-6 6 0 0-6 12 0 0-6 6 0 0-6 12 0 0 6 48 0 0-6 6 0 0-6 6 0 0-6 6 0 0 6 6 0 0 6 6 0 0 6 6 0 0 6 12 0 0-6 24 0 0-6 6 0 0-6 12 0 0 6 6 0 0 6 60 0 0 6 6 0 0 6 6 0 0 6 6 0 0 6 6 0 0 6 6 0 0 6 6 0 0 6 6 0 0 6 30 0 0-6 6 0 0-6 18 0 0-6 12 0 0-6 6 0 0-6 18 0 0 6 6 0 0 6 6 0 0 6 6 0 0 6 6 0 0 6 6 0 0 18 6 0 0 6 6 0 0 6 6 0 0 12 24 0 0 6 6 0 0 6 6 0 0 6 6 0 0 54-6 0 0 6-6 0 0 12-6 0 0 12 6 0 0 6 6 0 0 6 6 0 0 18 6 0 0 6 6 0 0 18 6 0 0 6 6 0 0 18 6 0 0 18 6 0 0 12 6 0 0 12 6 0 0 12 6 0 0 6 6 0 0 6 6 0 0 6 6 0 0 12 6 0 0 6 6 0 0 6 6 0 0 12 6 0 0 6 6 0 0 6 30 0 0-6 6 0 0-6 6 0 0-6 6 0 0-6 6 0 0-90 6 0 0-30-6 0 0-24-6 0 0-18-6 0 0-18-6 0 0-12-6 0 0-12-6 0 0-12-6 0 0-18-6 0 0-12-6 0 0-18-6 0 0-18-6 0 0-24-6 0 0-12-6 0 0-30-6 0 0-30-6 0 0-48 6 0 0-6 6 0 0-6 6 0 0-18 6 0 0-18 6 0 0-6 6 0 0-12 6 0 0-6 6 0 0-6 6 0 0-6 6 0 0-6 6 0 0-6 12 0 0-6 6 0 0-6 12 0 0-6 6 0 0-6 6 0 0-6 6 0zM1875 1393l0-1 48-1 0 2z"/>
<path fill="#0063ff" d="M1629 157l112 0-2 12 1 6 3 1 6 2 18-3 60 4 24-4 6-4 9-14 53 0 4 2 0 4 6 1 0 5 6 0 0 6 6 0 0 870-24-1-20-11-15-6-19-4-18-1-30 1-36 3-24 4-30 8-12 6-53 31-24 24-25 19-30 32-28 21-5 6-1 6 4 66 3 12 5 6 16 8 20 16 16 6 12 0 30-21 6-2 18 0 6 1 6 5 3 5 7 18 4 6 11 6 17 4 18 6 12 9 13 11 7 12 4 12 5 6-23 0 0-6-60 0 0-6-60 0 0-6-72 0 0-6-72 0 0-6-6 0 0-6-72 0 0-6-96 0 0-6-102 0 0-6-6 0 0-6-138 0 0-6-6 0 0-6-6 0 0-6-6 0 0-6-6 0 0-6-6 0 0-6 6 0 0-6 6 0 0-36 6 0 0-6 6 0 0-6 6 0 0-6 6 0 0-6 6 0 0-30 6 0 0-6 6 0 0-66 6 0 0-6 6 0 0-6 6 0 0-6 36 0 0-24-6 0 0-48-6 0 0-12-6 0 0-6-12 0 0 6-6 0 0 6-84 0 0 6-30 0 0 6-12 0 0-6-36 0 0 6-18 0 0 6-6 0 0 6-6 0 0 6-6 0 0 12-6 0 0 60-6 0 0 6-6 0 0 18 6 0 0 12-6 0 0 6-6 0 0 6-6 0 0 6-12 0 0 6-6 0 0 6-12 0 0 6-12 0 0 6-6 0 0 6-6 0 0 6-6 0 0 6-6 0 0 6-6 0 0-6-36 0 0 6-12 0 0 6-24 0 0 6-18 0 0 6-30 0 0 6-18 0 0 6-24 0 0 6-18 0 0-6-6 0 0-6-6 0 0-6-6 0 0-6-6 0 0-6-6 0 0-6-36 0 0-6-12 0 0-6-6 0 0-6-6 0 0-6-6 0 0-6-6 0 0-6-6 0 0-6-6 0 0-6-6 0 0-6-6 0 0-24-6 0 0-18-6 0 0-12-6 0 0-6-6 0 0-12-6 0 0-6-6 0 0-6-6 0 0-6-6 0 0-12-6 0 0-6-6 0 0-6-6 0 0-6-6 0 0-12-6 0 0-6-6 0 0-6-6 0 0-48-6 0 0-30-6 0 0-6 6 0 0-138 6 0 0-54 6 0 0-12 6 0 0-6 6 0 0-6 6 0 0-6 6 0 0-48-6 0 0-6-6 0 0-6-6 0 0-42 6 0 0-6 6 0 0-24-6 0 0-6 6 0 0-12 6 0 0-12 6 0 0-6 6 0 0-6 6 0 0-6 6 0 0-6 6 0 0-6 6 0 0-6 6 0 0-6 6 0 0-6 12 0 0-6 6 0 0-6 12 0 0-6 12 0 0-6 12 0 0-6 6 0 0-6 12 0 0-6 6 0 0-6 12 0 0-6 6 0 0-6 6 0 0-6 6 0 0-6 6 0 0-6 6 0 0-6 6 0 0-6 12 0 0-6 24 0 0-6 30 0 0-6 60 0 0 6 6 0 0 6 72 0 0-6 6 0 0 6 6 0 0 6 6 0 0 6 6 0 0 6 12 0 0 6 6 0 0 6 72 0 0-6 6 0 0-6 12 0 0 6 6 0 0 6 6 0 0 6 18 0 0-12-12 0 0-6-6 0 0-6-6 0 0-6-6 0 0-42 6 0 0-6 6 0 0-6 6 0 0-6 12 0 0-6 6 0 0-6 12 0 0 6 48 0 0-6 6 0 0-6 6 0 0-6 6 0 0 6 6 0 0 6 6 0 0 6 6 0 0 6 12 0 0-6 24 0 0-6 6 0 0-6 12 0 0 6 6 0 0 6 60 0 0 6 6 0 0 6 6 0 0 6 6 0 0 6 6 0 0 6 6 0 0 6 6 0 0 6 6 0 0 6 30 0 0-6 6 0 0-6 18 0 0-6 12 0 0-6 6 0 0-6 18 0 0 6 6 0 0 6 6 0 0 6 6 0 0 6 6 0 0 6 6 0 0 18 6 0 0 6 6 0 0 6 6 0 0 12 24 0 0 6 6 0 0 6 6 0 0 6 6 0 0 54-6 0 0 6-6 0 0 12-6 0 0 12 6 0 0 6 6 0 0 6 6 0 0 18 6 0 0 6 6 0 0 18 6 0 0 6 6 0 0 18 6 0 0 18 6 0 0 12 6 0 0 12 6 0 0 12 6 0 0 6 6 0 0 6 6 0 0 6 6 0 0 12 6 0 0 6 6 0 0 6 6 0 0 12 6 0 0 6 6 0 0 6 30 0 0-6 6 0 0-6 6 0 0-6 6 0 0-6 6 0 0-90 6 0 0-30-6 0 0-24-6 0 0-18-6 0 0-18-6 0 0-12-6 0 0-12-6 0 0-12-6 0 0-18-6 0 0-12-6 0 0-18-6 0 0-18-6 0 0-24-6 0 0-12-6 0 0-30-6 0 0-30-6 0 0-48 6 0 0-6 6 0 0-6 6 0 0-18 6 0 0-18 6 0 0-6 6 0 0-12 6 0 0-6 6 0 0-6 6 0 0-6 6 0 0-6 6 0 0-6 12 0 0-6 6 0 0-6 12 0 0-6 6 0 0-6 6 0 0-6 6 0z"/>
<path fill="#0069ff" d="M1629 157l109 0-3 18 8 4 6 0 18-4 60 5 25-5 5-3 11-15 49 0 6 4 0 2 6 3 0 3 6 1 0 5 6 0 0 864-24-1-18-9-18-6-36-4-30 0-36 3-24 4-30 9-12 5-54 31-24 23-29 23-28 30-27 19-5 5-3 6 0 12 6 60 3 12 5 6 18 9 24 18 12 4 13-1 23-16 12-6 18-1 6 2 9 9 4 12 6 12 12 6 17 4 18 7 12 8 12 11 5 6 7 19 4 5-22 0 0-6-60 0 0-6-60 0 0-6-72 0 0-6-72 0 0-6-6 0 0-6-72 0 0-6-96 0 0-6-102 0 0-6-6 0 0-6-138 0 0-6-6 0 0-6-6 0 0-6-6 0 0-6-6 0 0-6-6 0 0-6 6 0 0-6 6 0 0-36 6 0 0-6 6 0 0-6 6 0 0-6 6 0 0-6 6 0 0-30 6 0 0-6 6 0 0-66 6 0 0-6 6 0 0-6 6 0 0-6 36 0 0-24-6 0 0-48-6 0 0-12-6 0 0-6-12 0 0 6-6 0 0 6-84 0 0 6-30 0 0 6-12 0 0-6-36 0 0 6-18 0 0 6-6 0 0 6-6 0 0 6-6 0 0 12-6 0 0 60-6 0 0 6-6 0 0 18 6 0 0 12-6 0 0 6-6 0 0 6-6 0 0 6-12 0 0 6-6 0 0 6-12 0 0 6-12 0 0 6-6 0 0 6-6 0 0 6-6 0 0 6-6 0 0 6-6 0 0-6-36 0 0 6-12 0 0 6-24 0 0 6-18 0 0 6-30 0 0 6-18 0 0 6-24 0 0 6-18 0 0-6-6 0 0-6-6 0 0-6-6 0 0-6-6 0 0-6-6 0 0-6-36 0 0-6-12 0 0-6-6 0 0-6-6 0 0-6-6 0 0-6-6 0 0-6-6 0 0-6-6 0 0-6-6 0 0-6-6 0 0-24-6 0 0-18-6 0 0-12-6 0 0-6-6 0 0-12-6 0 0-6-6 0 0-6-6 0 0-6-6 0 0-12-6 0 0-6-6 0 0-6-6 0 0-6-6 0 0-12-6 0 0-6-6 0 0-6-6 0 0-48-6 0 0-30-6 0 0-6 6 0 0-138 6 0 0-54 6 0 0-12 6 0 0-6 6 0 0-6 6 0 0-6 6 0 0-48-6 0 0-6-6 0 0-6-6 0 0-42 6 0 0-6 6 0 0-24-6 0 0-6 6 0 0-12 6 0 0-12 6 0 0-6 6 0 0-6 6 0 0-6 6 0 0-6 6 0 0-6 6 0 0-6 6 0 0-6 6 0 0-6 12 0 0-6 6 0 0-6 12 0 0-6 12 0 0-6 12 0 0-6 6 0 0-6 12 0 0-6 6 0 0-6 12 0 0-6 6 0 0-6 6 0 0-6 6 0 0-6 6 0 0-6 6 0 0-6 6 0 0-6 12 0 0-6 24 0 0-6 30 0 0-6 60 0 0 6 6 0 0 6 72 0 0-6 6 0 0 6 6 0 0 6 6 0 0 6 6 0 0 6 12 0 0 6 6 0 0 6 72 0 0-6 6 0 0-6 12 0 0 6 6 0 0 6 6 0 0 6 18 0 0-12-12 0 0-6-6 0 0-6-6 0 0-6-6 0 0-42 6 0 0-6 6 0 0-6 6 0 0-6 12 0 0-6 6 0 0-6 12 0 0 6 48 0 0-6 6 0 0-6 6 0 0-6 6 0 0 6 6 0 0 6 6 0 0 6 6 0 0 6 12 0 0-6 24 0 0-6 6 0 0-6 12 0 0 6 6 0 0 6 60 0 0 6 6 0 0 6 6 0 0 6 6 0 0 6 6 0 0 6 6 0 0 6 6 0 0 6 6 0 0 6 30 0 0-6 6 0 0-6 18 0 0-6 12 0 0-6 6 0 0-6 18 0 0 6 6 0 0 6 6 0 0 6 6 0 0 6 6 0 0 6 6 0 0 18 6 0 0 6 6 0 0 6 6 0 0 12 24 0 0 6 6 0 0 6 6 0 0 6 6 0 0 54-6 0 0 6-6 0 0 12-6 0 0 12 6 0 0 6 6 0 0 6 6 0 0 18 6 0 0 6 6 0 0 18 6 0 0 6 6 0 0 18 6 0 0 18 6 0 0 12 6 0 0 12 6 0 0 12 6 0 0 6 6 0 0 6 6 0 0 6 6 0 0 12 6 0 0 6 6 0 0 6 6 0 0 12 6 0 0 6 6 0 0 6 30 0 0-6 6 0 0-6 6 0 0-6 6 0 0-6 6 0 0-90 6 0 0-30-6 0 0-24-6 0 0-18-6 0 0-18-6 0 0-12-6 0 0-12-6 0 0-12-6 0 0-18-6 0 0-12-6 0 0-18-6 0 0-18-6 0 0-24-6 0 0-12-6 0 0-30-6 0 0-30-6 0 0-48 6 0 0-6 6 0 0-6 6 0 0-18 6 0 0-18 6 0 0-6 6 0 0-12 6 0 0-6 6 0 0-6 6 0 0-6 6 0 0-6 6 0 0-6 12 0 0-6 6 0 0-6 12 0 0-6 6 0 0-6 6 0 0-6 6 0zM1701 198l-6 5-4 8-1 6 5 5 6-3 6-11 0-10z"/>
<path fill="#006eff" d="M1629 157l105 0-3 12-6 10-3 2 3 1 24-1 18-5 66 4 21-5 3-2 13-16 43 0 16 10 0 2 6 2 0 4 6 0 0 859-24-2-18-8-18-5-36-4-36 1-30 2-24 4-24 8-18 7-58 32-26 24-24 19-30 33-30 20-6 12 0 18 8 54 4 12 6 8 18 9 24 17 12 4 14-2 22-16 12-6 18 0 6 1 8 9 11 24 11 6 18 4 18 7 18 13 10 12 8 20 4 4-22 0 0-6-60 0 0-6-60 0 0-6-72 0 0-6-72 0 0-6-6 0 0-6-72 0 0-6-96 0 0-6-102 0 0-6-6 0 0-6-138 0 0-6-6 0 0-6-6 0 0-6-6 0 0-6-6 0 0-6-6 0 0-6 6 0 0-6 6 0 0-36 6 0 0-6 6 0 0-6 6 0 0-6 6 0 0-6 6 0 0-30 6 0 0-6 6 0 0-66 6 0 0-6 6 0 0-6 6 0 0-6 36 0 0-24-6 0 0-48-6 0 0-12-6 0 0-6-12 0 0 6-6 0 0 6-84 0 0 6-30 0 0 6-12 0 0-6-36 0 0 6-18 0 0 6-6 0 0 6-6 0 0 6-6 0 0 12-6 0 0 60-6 0 0 6-6 0 0 18 6 0 0 12-6 0 0 6-6 0 0 6-6 0 0 6-12 0 0 6-6 0 0 6-12 0 0 6-12 0 0 6-6 0 0 6-6 0 0 6-6 0 0 6-6 0 0 6-6 0 0-6-36 0 0 6-12 0 0 6-24 0 0 6-18 0 0 6-30 0 0 6-18 0 0 6-24 0 0 6-18 0 0-6-6 0 0-6-6 0 0-6-6 0 0-6-6 0 0-6-6 0 0-6-36 0 0-6-12 0 0-6-6 0 0-6-6 0 0-6-6 0 0-6-6 0 0-6-6 0 0-6-6 0 0-6-6 0 0-6-6 0 0-24-6 0 0-18-6 0 0-12-6 0 0-6-6 0 0-12-6 0 0-6-6 0 0-6-6 0 0-6-6 0 0-12-6 0 0-6-6 0 0-6-6 0 0-6-6 0 0-12-6 0 0-6-6 0 0-6-6 0 0-48-6 0 0-30-6 0 0-6 6 0 0-138 6 0 0-54 6 0 0-12 6 0 0-6 6 0 0-6 6 0 0-6 6 0 0-48-6 0 0-6-6 0 0-6-6 0 0-42 6 0 0-6 6 0 0-24-6 0 0-6 6 0 0-12 6 0 0-12 6 0 0-6 6 0 0-6 6 0 0-6 6 0 0-6 6 0 0-6 6 0 0-6 6 0 0-6 6 0 0-6 12 0 0-6 6 0 0-6 12 0 0-6 12 0 0-6 12 0 0-6 6 0 0-6 12 0 0-6 6 0 0-6 12 0 0-6 6 0 0-6 6 0 0-6 6 0 0-6 6 0 0-6 6 0 0-6 6 0 0-6 12 0 0-6 24 0 0-6 30 0 0-6 60 0 0 6 6 0 0 6 72 0 0-6 6 0 0 6 6 0 0 6 6 0 0 6 6 0 0 6 12 0 0 6 6 0 0 6 72 0 0-6 6 0 0-6 12 0 0 6 6 0 0 6 6 0 0 6 18 0 0-12-12 0 0-6-6 0 0-6-6 0 0-6-6 0 0-42 6 0 0-6 6 0 0-6 6 0 0-6 12 0 0-6 6 0 0-6 12 0 0 6 48 0 0-6 6 0 0-6 6 0 0-6 6 0 0 6 6 0 0 6 6 0 0 6 6 0 0 6 12 0 0-6 24 0 0-6 6 0 0-6 12 0 0 6 6 0 0 6 60 0 0 6 6 0 0 6 6 0 0 6 6 0 0 6 6 0 0 6 6 0 0 6 6 0 0 6 6 0 0 6 30 0 0-6 6 0 0-6 18 0 0-6 12 0 0-6 6 0 0-6 18 0 0 6 6 0 0 6 6 0 0 6 6 0 0 6 6 0 0 6 6 0 0 18 6 0 0 6 6 0 0 6 6 0 0 12 24 0 0 6 6 0 0 6 6 0 0 6 6 0 0 54-6 0 0 6-6 0 0 12-6 0 0 12 6 0 0 6 6 0 0 6 6 0 0 18 6 0 0 6 6 0 0 18 6 0 0 6 6 0 0 18 6 0 0 18 6 0 0 12 6 0 0 12 6 0 0 12 6 0 0 6 6 0 0 6 6 0 0 6 6 0 0 12 6 0 0 6 6 0 0 6 6 0 0 12 6 0 0 6 6 0 0 6 30 0 0-6 6 0 0-6 6 0 0-6 6 0 0-6 6 0 0-90 6 0 0-30-6 0 0-24-6 0 0-18-6 0 0-18-6 0 0-12-6 0 0-12-6 0 0-12-6 0 0-18-6 0 0-12-6 0 0-18-6 0 0-18-6 0 0-24-6 0 0-12-6 0 0-30-6 0 0-30-6 0 0-48 6 0 0-6 6 0 0-6 6 0 0-18 6 0 0-18 6 0 0-6 6 0 0-12 6 0 0-6 6 0 0-6 6 0 0-6 6 0 0-6 6 0 0-6 12 0 0-6 6 0 0-6 12 0 0-6 6 0 0-6 6 0 0-6 6 0zM1707 187l-12 7-8 11-3 12 1 6 4 4 6 2 6-3 3-3 4-6 13-30-2-4z"/>
<path fill="#0073ff" d="M1629 157l101 0-1 6-6 6-28 18-7 6-3 6-6 18 0 6 4 6 12 3 6-2 6-6 12-25 6-8 5-4 7-4 18-2 12-5 66 4 22-5 16-18 40 0 6 3 18 12 0 3 6 1 0 852-18-1-42-12-36-3-36 0-30 2-24 4-18 6-18 7-54 27-17 11-48 42-25 30-30 18-6 6-5 12 2 24 9 48 4 12 8 9 18 9 24 18 12 3 6 0 10-3 20-15 12-6 18-1 6 2 8 8 10 24 11 6 19 4 18 7 18 14 10 11 8 20 3 4-21 0 0-6-60 0 0-6-60 0 0-6-72 0 0-6-72 0 0-6-6 0 0-6-72 0 0-6-96 0 0-6-102 0 0-6-6 0 0-6-138 0 0-6-6 0 0-6-6 0 0-6-6 0 0-6-6 0 0-6-6 0 0-6 6 0 0-6 6 0 0-36 6 0 0-6 6 0 0-6 6 0 0-6 6 0 0-6 6 0 0-30 6 0 0-6 6 0 0-66 6 0 0-6 6 0 0-6 6 0 0-6 36 0 0-24-6 0 0-48-6 0 0-12-6 0 0-6-12 0 0 6-6 0 0 6-84 0 0 6-30 0 0 6-12 0 0-6-36 0 0 6-18 0 0 6-6 0 0 6-6 0 0 6-6 0 0 12-6 0 0 60-6 0 0 6-6 0 0 18 6 0 0 12-6 0 0 6-6 0 0 6-6 0 0 6-12 0 0 6-6 0 0 6-12 0 0 6-12 0 0 6-6 0 0 6-6 0 0 6-6 0 0 6-6 0 0 6-6 0 0-6-36 0 0 6-12 0 0 6-24 0 0 6-18 0 0 6-30 0 0 6-18 0 0 6-24 0 0 6-18 0 0-6-6 0 0-6-6 0 0-6-6 0 0-6-6 0 0-6-6 0 0-6-36 0 0-6-12 0 0-6-6 0 0-6-6 0 0-6-6 0 0-6-6 0 0-6-6 0 0-6-6 0 0-6-6 0 0-6-6 0 0-24-6 0 0-18-6 0 0-12-6 0 0-6-6 0 0-12-6 0 0-6-6 0 0-6-6 0 0-6-6 0 0-12-6 0 0-6-6 0 0-6-6 0 0-6-6 0 0-12-6 0 0-6-6 0 0-6-6 0 0-48-6 0 0-30-6 0 0-6 6 0 0-138 6 0 0-54 6 0 0-12 6 0 0-6 6 0 0-6 6 0 0-6 6 0 0-48-6 0 0-6-6 0 0-6-6 0 0-42 6 0 0-6 6 0 0-24-6 0 0-6 6 0 0-12 6 0 0-12 6 0 0-6 6 0 0-6 6 0 0-6 6 0 0-6 6 0 0-6 6 0 0-6 6 0 0-6 6 0 0-6 12 0 0-6 6 0 0-6 12 0 0-6 12 0 0-6 12 0 0-6 6 0 0-6 12 0 0-6 6 0 0-6 12 0 0-6 6 0 0-6 6 0 0-6 6 0 0-6 6 0 0-6 6 0 0-6 6 0 0-6 12 0 0-6 24 0 0-6 30 0 0-6 60 0 0 6 6 0 0 6 72 0 0-6 6 0 0 6 6 0 0 6 6 0 0 6 6 0 0 6 12 0 0 6 6 0 0 6 72 0 0-6 6 0 0-6 12 0 0 6 6 0 0 6 6 0 0 6 18 0 0-12-12 0 0-6-6 0 0-6-6 0 0-6-6 0 0-42 6 0 0-6 6 0 0-6 6 0 0-6 12 0 0-6 6 0 0-6 12 0 0 6 48 0 0-6 6 0 0-6 6 0 0-6 6 0 0 6 6 0 0 6 6 0 0 6 6 0 0 6 12 0 0-6 24 0 0-6 6 0 0-6 12 0 0 6 6 0 0 6 60 0 0 6 6 0 0 6 6 0 0 6 6 0 0 6 6 0 0 6 6 0 0 6 6 0 0 6 6 0 0 6 30 0 0-6 6 0 0-6 18 0 0-6 12 0 0-6 6 0 0-6 18 0 0 6 6 0 0 6 6 0 0 6 6 0 0 6 6 0 0 6 6 0 0 18 6 0 0 6 6 0 0 6 6 0 0 12 24 0 0 6 6 0 0 6 6 0 0 6 6 0 0 54-6 0 0 6-6 0 0 12-6 0 0 12 6 0 0 6 6 0 0 6 6 0 0 18 6 0 0 6 6 0 0 18 6 0 0 6 6 0 0 18 6 0 0 18 6 0 0 12 6 0 0 12 6 0 0 12 6 0 0 6 6 0 0 6 6 0 0 6 6 0 0 12 6 0 0 6 6 0 0 6 6 0 0 12 6 0 0 6 6 0 0 6 30 0 0-6 6 0 0-6 6 0 0-6 6 0 0-6 6 0 0-90 6 0 0-30-6 0 0-24-6 0 0-18-6 0 0-18-6 0 0-12-6 0 0-12-6 0 0-12-6 0 0-18-6 0 0-12-6 0 0-18-6 0 0-18-6 0 0-24-6 0 0-12-6 0 0-30-6 0 0-30-6 0 0-48 6 0 0-6 6 0 0-6 6 0 0-18 6 0 0-18 6 0 0-6 6 0 0-12 6 0 0-6 6 0 0-6 6 0 0-6 6 0 0-6 6 0 0-6 12 0 0-6 6 0 0-6 12 0 0-6 6 0 0-6 6 0 0-6 6 0z"/>
<path fill="#0078ff" d="M1629 157l92 0-2 6-5 6-27 18-7 12-5 18 0 6 2 6 6 4 12 3 6-2 6-6 15-29 9-10 12-6 12-2 12-4 66 3 24-5 12-15 4-3 28 0 16 4 18 14 6 3 0 843-18-1-42-9-30-2-42 0-30 1-18 3-18 5-83 39-13 8-48 40-11 12-13 19-6 5-24 11-6 6-5 7-4 12 3 30 10 42 4 12 4 6 6 5 18 8 23 17 13 4 12-2 5-2 19-15 12-6 18 0 6 1 7 8 11 24 11 6 19 5 18 6 18 14 10 11 8 21 3 3-21 0 0-6-60 0 0-6-60 0 0-6-72 0 0-6-72 0 0-6-6 0 0-6-72 0 0-6-96 0 0-6-102 0 0-6-6 0 0-6-138 0 0-6-6 0 0-6-6 0 0-6-6 0 0-6-6 0 0-6-6 0 0-6 6 0 0-6 6 0 0-36 6 0 0-6 6 0 0-6 6 0 0-6 6 0 0-6 6 0 0-30 6 0 0-6 6 0 0-66 6 0 0-6 6 0 0-6 6 0 0-6 36 0 0-24-6 0 0-48-6 0 0-12-6 0 0-6-12 0 0 6-6 0 0 6-84 0 0 6-30 0 0 6-12 0 0-6-36 0 0 6-18 0 0 6-6 0 0 6-6 0 0 6-6 0 0 12-6 0 0 60-6 0 0 6-6 0 0 18 6 0 0 12-6 0 0 6-6 0 0 6-6 0 0 6-12 0 0 6-6 0 0 6-12 0 0 6-12 0 0 6-6 0 0 6-6 0 0 6-6 0 0 6-6 0 0 6-6 0 0-6-36 0 0 6-12 0 0 6-24 0 0 6-18 0 0 6-30 0 0 6-18 0 0 6-24 0 0 6-18 0 0-6-6 0 0-6-6 0 0-6-6 0 0-6-6 0 0-6-6 0 0-6-36 0 0-6-12 0 0-6-6 0 0-6-6 0 0-6-6 0 0-6-6 0 0-6-6 0 0-6-6 0 0-6-6 0 0-6-6 0 0-24-6 0 0-18-6 0 0-12-6 0 0-6-6 0 0-12-6 0 0-6-6 0 0-6-6 0 0-6-6 0 0-12-6 0 0-6-6 0 0-6-6 0 0-6-6 0 0-12-6 0 0-6-6 0 0-6-6 0 0-48-6 0 0-30-6 0 0-6 6 0 0-138 6 0 0-54 6 0 0-12 6 0 0-6 6 0 0-6 6 0 0-6 6 0 0-48-6 0 0-6-6 0 0-6-6 0 0-42 6 0 0-6 6 0 0-24-6 0 0-6 6 0 0-12 6 0 0-12 6 0 0-6 6 0 0-6 6 0 0-6 6 0 0-6 6 0 0-6 6 0 0-6 6 0 0-6 6 0 0-6 12 0 0-6 6 0 0-6 12 0 0-6 12 0 0-6 12 0 0-6 6 0 0-6 12 0 0-6 6 0 0-6 12 0 0-6 6 0 0-6 6 0 0-6 6 0 0-6 6 0 0-6 6 0 0-6 6 0 0-6 12 0 0-6 24 0 0-6 30 0 0-6 60 0 0 6 6 0 0 6 72 0 0-6 6 0 0 6 6 0 0 6 6 0 0 6 6 0 0 6 12 0 0 6 6 0 0 6 72 0 0-6 6 0 0-6 12 0 0 6 6 0 0 6 6 0 0 6 18 0 0-12-12 0 0-6-6 0 0-6-6 0 0-6-6 0 0-42 6 0 0-6 6 0 0-6 6 0 0-6 12 0 0-6 6 0 0-6 12 0 0 6 48 0 0-6 6 0 0-6 6 0 0-6 6 0 0 6 6 0 0 6 6 0 0 6 6 0 0 6 12 0 0-6 24 0 0-6 6 0 0-6 12 0 0 6 6 0 0 6 60 0 0 6 6 0 0 6 6 0 0 6 6 0 0 6 6 0 0 6 6 0 0 6 6 0 0 6 6 0 0 6 30 0 0-6 6 0 0-6 18 0 0-6 12 0 0-6 6 0 0-6 18 0 0 6 6 0 0 6 6 0 0 6 6 0 0 6 6 0 0 6 6 0 0 18 6 0 0 6 6 0 0 6 6 0 0 12 24 0 0 6 6 0 0 6 6 0 0 6 6 0 0 54-6 0 0 6-6 0 0 12-6 0 0 12 6 0 0 6 6 0 0 6 6 0 0 18 6 0 0 6 6 0 0 18 6 0 0 6 6 0 0 18 6 0 0 18 6 0 0 12 6 0 0 12 6 0 0 12 6 0 0 6 6 0 0 6 6 0 0 6 6 0 0 12 6 0 0 6 6 0 0 6 6 0 0 12 6 0 0 6 6 0 0 6 30 0 0-6 6 0 0-6 6 0 0-6 6 0 0-6 6 0 0-90 6 0 0-30-6 0 0-24-6 0 0-18-6 0 0-18-6 0 0-12-6 0 0-12-6 0 0-12-6 0 0-18-6 0 0-12-6 0 0-18-6 0 0-18-6 0 0-24-6 0 0-12-6 0 0-30-6 0 0-30-6 0 0-48 6 0 0-6 6 0 0-6 6 0 0-18 6 0 0-18 6 0 0-6 6 0 0-12 6 0 0-6 6 0 0-6 6 0 0-6 6 0 0-6 6 0 0-6 12 0 0-6 6 0 0-6 12 0 0-6 6 0 0-6 6 0 0-6 6 0z"/>
<path fill="#007dff" d="M1629 157l84 0-1 6-5 6-20 12-6 6-4 7-6 22 1 13 5 6 18 3 6-1 6-6 13-26 11-13 12-7 24-8 66 4 24-6 12-14 6-4 20 0 16 3 6 2 24 18 0 835-18-1-42-8-60-1-48 2-18 3-12 4-54 27-36 15-12 7-49 42-23 31-24 10-9 7-7 12-3 12 3 30 12 42 9 18 7 6 18 8 21 16 15 4 12-1 6-3 12-10 18-10 12-1 12 2 7 7 11 24 10 6 20 5 18 7 18 13 10 11 10 24-20 0 0-6-60 0 0-6-60 0 0-6-72 0 0-6-72 0 0-6-6 0 0-6-72 0 0-6-96 0 0-6-102 0 0-6-6 0 0-6-138 0 0-6-6 0 0-6-6 0 0-6-6 0 0-6-6 0 0-6-6 0 0-6 6 0 0-6 6 0 0-36 6 0 0-6 6 0 0-6 6 0 0-6 6 0 0-6 6 0 0-30 6 0 0-6 6 0 0-66 6 0 0-6 6 0 0-6 6 0 0-6 36 0 0-24-6 0 0-48-6 0 0-12-6 0 0-6-12 0 0 6-6 0 0 6-84 0 0 6-30 0 0 6-12 0 0-6-36 0 0 6-18 0 0 6-6 0 0 6-6 0 0 6-6 0 0 12-6 0 0 60-6 0 0 6-6 0 0 18 6 0 0 12-6 0 0 6-6 0 0 6-6 0 0 6-12 0 0 6-6 0 0 6-12 0 0 6-12 0 0 6-6 0 0 6-6 0 0 6-6 0 0 6-6 0 0 6-6 0 0-6-36 0 0 6-12 0 0 6-24 0 0 6-18 0 0 6-30 0 0 6-18 0 0 6-24 0 0 6-18 0 0-6-6 0 0-6-6 0 0-6-6 0 0-6-6 0 0-6-6 0 0-6-36 0 0-6-12 0 0-6-6 0 0-6-6 0 0-6-6 0 0-6-6 0 0-6-6 0 0-6-6 0 0-6-6 0 0-6-6 0 0-24-6 0 0-18-6 0 0-12-6 0 0-6-6 0 0-12-6 0 0-6-6 0 0-6-6 0 0-6-6 0 0-12-6 0 0-6-6 0 0-6-6 0 0-6-6 0 0-12-6 0 0-6-6 0 0-6-6 0 0-48-6 0 0-30-6 0 0-6 6 0 0-138 6 0 0-54 6 0 0-12 6 0 0-6 6 0 0-6 6 0 0-6 6 0 0-48-6 0 0-6-6 0 0-6-6 0 0-42 6 0 0-6 6 0 0-24-6 0 0-6 6 0 0-12 6 0 0-12 6 0 0-6 6 0 0-6 6 0 0-6 6 0 0-6 6 0 0-6 6 0 0-6 6 0 0-6 6 0 0-6 12 0 0-6 6 0 0-6 12 0 0-6 12 0 0-6 12 0 0-6 6 0 0-6 12 0 0-6 6 0 0-6 12 0 0-6 6 0 0-6 6 0 0-6 6 0 0-6 6 0 0-6 6 0 0-6 6 0 0-6 12 0 0-6 24 0 0-6 30 0 0-6 60 0 0 6 6 0 0 6 72 0 0-6 6 0 0 6 6 0 0 6 6 0 0 6 6 0 0 6 12 0 0 6 6 0 0 6 72 0 0-6 6 0 0-6 12 0 0 6 6 0 0 6 6 0 0 6 18 0 0-12-12 0 0-6-6 0 0-6-6 0 0-6-6 0 0-42 6 0 0-6 6 0 0-6 6 0 0-6 12 0 0-6 6 0 0-6 12 0 0 6 48 0 0-6 6 0 0-6 6 0 0-6 6 0 0 6 6 0 0 6 6 0 0 6 6 0 0 6 12 0 0-6 24 0 0-6 6 0 0-6 12 0 0 6 6 0 0 6 60 0 0 6 6 0 0 6 6 0 0 6 6 0 0 6 6 0 0 6 6 0 0 6 6 0 0 6 6 0 0 6 30 0 0-6 6 0 0-6 18 0 0-6 12 0 0-6 6 0 0-6 18 0 0 6 6 0 0 6 6 0 0 6 6 0 0 6 6 0 0 6 6 0 0 18 6 0 0 6 6 0 0 6 6 0 0 12 24 0 0 6 6 0 0 6 6 0 0 6 6 0 0 54-6 0 0 6-6 0 0 12-6 0 0 12 6 0 0 6 6 0 0 6 6 0 0 18 6 0 0 6 6 0 0 18 6 0 0 6 6 0 0 18 6 0 0 18 6 0 0 12 6 0 0 12 6 0 0 12 6 0 0 6 6 0 0 6 6 0 0 6 6 0 0 12 6 0 0 6 6 0 0 6 6 0 0 12 6 0 0 6 6 0 0 6 30 0 0-6 6 0 0-6 6 0 0-6 6 0 0-6 6 0 0-90 6 0 0-30-6 0 0-24-6 0 0-18-6 0 0-18-6 0 0-12-6 0 0-12-6 0 0-12-6 0 0-18-6 0 0-12-6 0 0-18-6 0 0-18-6 0 0-24-6 0 0-12-6 0 0-30-6 0 0-30-6 0 0-48 6 0 0-6 6 0 0-6 6 0 0-18 6 0 0-18 6 0 0-6 6 0 0-12 6 0 0-6 6 0 0-6 6 0 0-6 6 0 0-6 6 0 0-6 12 0 0-6 6 0 0-6 12 0 0-6 6 0 0-6 6 0 0-6 6 0zM1641 840l-1 7 1 1 6 3 6-4-2-6-4-2zM855 612l-6 2-3 5 0 12 3 12 6 14 6 6 6-4 8-28 1-6-4-6z"/>
<path fill="#0082ff" d="M1629 157l78 0-1 6-5 5-18 10-9 9-2 6-5 24 2 12 2 6 6 3 18 3 6-2 6-5 15-29 10-12 11-7 24-8 66 3 24-5 12-14 6-4 15-1 21 4 6 2 24 19 0 826-60-6-72-1-36 1-24 5-54 28-48 19-12 8-48 40-8 9-11 18-5 4-18 6-11 8-8 12-4 12 1 18 6 30 15 42 4 6 7 6 20 9 19 15 17 5 12-2 6-2 12-10 18-11 12-1 12 2 7 7 11 24 10 6 32 9 12 7 12 9 9 11 11 24-20 0 0-6-60 0 0-6-60 0 0-6-72 0 0-6-72 0 0-6-6 0 0-6-72 0 0-6-96 0 0-6-102 0 0-6-6 0 0-6-138 0 0-6-6 0 0-6-6 0 0-6-6 0 0-6-6 0 0-6-6 0 0-6 6 0 0-6 6 0 0-36 6 0 0-6 6 0 0-6 6 0 0-6 6 0 0-6 6 0 0-30 6 0 0-6 6 0 0-66 6 0 0-6 6 0 0-6 6 0 0-6 36 0 0-24-6 0 0-48-6 0 0-12-6 0 0-6-12 0 0 6-6 0 0 6-84 0 0 6-30 0 0 6-12 0 0-6-36 0 0 6-18 0 0 6-6 0 0 6-6 0 0 6-6 0 0 12-6 0 0 60-6 0 0 6-6 0 0 18 6 0 0 12-6 0 0 6-6 0 0 6-6 0 0 6-12 0 0 6-6 0 0 6-12 0 0 6-12 0 0 6-6 0 0 6-6 0 0 6-6 0 0 6-6 0 0 6-6 0 0-6-36 0 0 6-12 0 0 6-24 0 0 6-18 0 0 6-30 0 0 6-18 0 0 6-24 0 0 6-18 0 0-6-6 0 0-6-6 0 0-6-6 0 0-6-6 0 0-6-6 0 0-6-36 0 0-6-12 0 0-6-6 0 0-6-6 0 0-6-6 0 0-6-6 0 0-6-6 0 0-6-6 0 0-6-6 0 0-6-6 0 0-24-6 0 0-18-6 0 0-12-6 0 0-6-6 0 0-12-6 0 0-6-6 0 0-6-6 0 0-6-6 0 0-12-6 0 0-6-6 0 0-6-6 0 0-6-6 0 0-12-6 0 0-6-6 0 0-6-6 0 0-48-6 0 0-30-6 0 0-6 6 0 0-138 6 0 0-54 6 0 0-12 6 0 0-6 6 0 0-6 6 0 0-6 6 0 0-48-6 0 0-6-6 0 0-6-6 0 0-42 6 0 0-6 6 0 0-24-6 0 0-6 6 0 0-12 6 0 0-12 6 0 0-6 6 0 0-6 6 0 0-6 6 0 0-6 6 0 0-6 6 0 0-6 6 0 0-6 6 0 0-6 12 0 0-6 6 0 0-6 12 0 0-6 12 0 0-6 12 0 0-6 6 0 0-6 12 0 0-6 6 0 0-6 12 0 0-6 6 0 0-6 6 0 0-6 6 0 0-6 6 0 0-6 6 0 0-6 6 0 0-6 12 0 0-6 24 0 0-6 30 0 0-6 60 0 0 6 6 0 0 6 72 0 0-6 6 0 0 6 6 0 0 6 6 0 0 6 6 0 0 6 12 0 0 6 6 0 0 6 72 0 0-6 6 0 0-6 12 0 0 6 6 0 0 6 6 0 0 6 18 0 0-12-12 0 0-6-6 0 0-6-6 0 0-6-6 0 0-42 6 0 0-6 6 0 0-6 6 0 0-6 12 0 0-6 6 0 0-6 12 0 0 6 48 0 0-6 6 0 0-6 6 0 0-6 6 0 0 6 6 0 0 6 6 0 0 6 6 0 0 6 12 0 0-6 24 0 0-6 6 0 0-6 12 0 0 6 6 0 0 6 60 0 0 6 6 0 0 6 6 0 0 6 6 0 0 6 6 0 0 6 6 0 0 6 6 0 0 6 6 0 0 6 30 0 0-6 6 0 0-6 18 0 0-6 12 0 0-6 6 0 0-6 18 0 0 6 6 0 0 6 6 0 0 6 6 0 0 6 6 0 0 6 6 0 0 18 6 0 0 6 6 0 0 6 6 0 0 12 24 0 0 6 6 0 0 6 6 0 0 6 6 0 0 54-6 0 0 6-6 0 0 12-6 0 0 12 6 0 0 6 6 0 0 6 6 0 0 18 6 0 0 6 6 0 0 18 6 0 0 6 6 0 0 18 6 0 0 18 6 0 0 12 6 0 0 12 6 0 0 12 6 0 0 6 6 0 0 6 6 0 0 6 6 0 0 12 6 0 0 6 6 0 0 6 6 0 0 12 6 0 0 6 6 0 0 6 30 0 0-6 6 0 0-6 6 0 0-6 6 0 0-6 6 0 0-90 6 0 0-30-6 0 0-24-6 0 0-18-6 0 0-18-6 0 0-12-6 0 0-12-6 0 0-12-6 0 0-18-6 0 0-12-6 0 0-18-6 0 0-18-6 0 0-24-6 0 0-12-6 0 0-30-6 0 0-30-6 0 0-48 6 0 0-6 6 0 0-6 6 0 0-18 6 0 0-18 6 0 0-6 6 0 0-12 6 0 0-6 6 0 0-6 6 0 0-6 6 0 0-6 6 0 0-6 12 0 0-6 6 0 0-6 12 0 0-6 6 0 0-6 6 0 0-6 6 0zM1641 828l-6 1-6 6-1 6 2 6 5 6 6 4 6 2 6-1 8-5 2-6-1-6-3-6-6-5zM699 948l-5 7 0 6 4 6 22 12 21 18 6 2 6-1 1-7-1-7-6-20-6-9-8-6-16-6-12 1zM843 580l-6 4-6 6-7 17 0 18 8 30 5 12 12 12 12 4 6 0 12-3 14-7 6-6 4-6-12-12-6-30-6-7-18-17-12-15z"/>
<path fill="#0087ff" d="M1629 157l73 0-3 6-21 12-7 6-4 6-1 6-2 24 1 12 3 6 3 4 4 2 20 2 6-1 6-5 17-32 10-12 9-6 24-9 24 0 42 3 24-5 12-13 6-4 12-2 30 7 15 11 9 9 0 817-54-4-96 0-24 2-18 4-54 29-48 18-12 6-54 43-20 24-28 15-11 15-4 12 0 18 7 36 18 42 10 12 22 11 18 13 12 5 6 1 12-2 6-3 12-10 18-10 12-2 12 3 6 6 12 25 9 5 39 12 18 13 9 11 10 24-19 0 0-6-60 0 0-6-60 0 0-6-72 0 0-6-72 0 0-6-6 0 0-6-72 0 0-6-96 0 0-6-102 0 0-6-6 0 0-6-138 0 0-6-6 0 0-6-6 0 0-6-6 0 0-6-6 0 0-6-6 0 0-6 6 0 0-6 6 0 0-36 6 0 0-6 6 0 0-6 6 0 0-6 6 0 0-6 6 0 0-30 6 0 0-6 6 0 0-66 6 0 0-6 6 0 0-6 6 0 0-6 36 0 0-24-6 0 0-48-6 0 0-12-6 0 0-6-12 0 0 6-6 0 0 6-84 0 0 6-30 0 0 6-12 0 0-6-36 0 0 6-18 0 0 6-6 0 0 6-6 0 0 6-6 0 0 12-6 0 0 60-6 0 0 6-6 0 0 18 6 0 0 12-6 0 0 6-6 0 0 6-6 0 0 6-12 0 0 6-6 0 0 6-12 0 0 6-12 0 0 6-6 0 0 6-6 0 0 6-6 0 0 6-6 0 0 6-6 0 0-6-36 0 0 6-12 0 0 6-24 0 0 6-18 0 0 6-30 0 0 6-18 0 0 6-24 0 0 6-18 0 0-6-6 0 0-6-6 0 0-6-6 0 0-6-6 0 0-6-6 0 0-6-36 0 0-6-12 0 0-6-6 0 0-6-6 0 0-6-6 0 0-6-6 0 0-6-6 0 0-6-6 0 0-6-6 0 0-6-6 0 0-24-6 0 0-18-6 0 0-12-6 0 0-6-6 0 0-12-6 0 0-6-6 0 0-6-6 0 0-6-6 0 0-12-6 0 0-6-6 0 0-6-6 0 0-6-6 0 0-12-6 0 0-6-6 0 0-6-6 0 0-48-6 0 0-30-6 0 0-6 6 0 0-138 6 0 0-54 6 0 0-12 6 0 0-6 6 0 0-6 6 0 0-6 6 0 0-48-6 0 0-6-6 0 0-6-6 0 0-42 6 0 0-6 6 0 0-24-6 0 0-6 6 0 0-12 6 0 0-12 6 0 0-6 6 0 0-6 6 0 0-6 6 0 0-6 6 0 0-6 6 0 0-6 6 0 0-6 6 0 0-6 12 0 0-6 6 0 0-6 12 0 0-6 12 0 0-6 12 0 0-6 6 0 0-6 12 0 0-6 6 0 0-6 12 0 0-6 6 0 0-6 6 0 0-6 6 0 0-6 6 0 0-6 6 0 0-6 6 0 0-6 12 0 0-6 24 0 0-6 30 0 0-6 60 0 0 6 6 0 0 6 72 0 0-6 6 0 0 6 6 0 0 6 6 0 0 6 6 0 0 6 12 0 0 6 6 0 0 6 72 0 0-6 6 0 0-6 12 0 0 6 6 0 0 6 6 0 0 6 18 0 0-12-12 0 0-6-6 0 0-6-6 0 0-6-6 0 0-42 6 0 0-6 6 0 0-6 6 0 0-6 12 0 0-6 6 0 0-6 12 0 0 6 48 0 0-6 6 0 0-6 6 0 0-6 6 0 0 6 6 0 0 6 6 0 0 6 6 0 0 6 12 0 0-6 24 0 0-6 6 0 0-6 12 0 0 6 6 0 0 6 60 0 0 6 6 0 0 6 6 0 0 6 6 0 0 6 6 0 0 6 6 0 0 6 6 0 0 6 6 0 0 6 30 0 0-6 6 0 0-6 18 0 0-6 12 0 0-6 6 0 0-6 18 0 0 6 6 0 0 6 6 0 0 6 6 0 0 6 6 0 0 6 6 0 0 18 6 0 0 6 6 0 0 6 6 0 0 12 24 0 0 6 6 0 0 6 6 0 0 6 6 0 0 54-6 0 0 6-6 0 0 12-6 0 0 12 6 0 0 6 6 0 0 6 6 0 0 18 6 0 0 6 6 0 0 18 6 0 0 6 6 0 0 18 6 0 0 18 6 0 0 12 6 0 0 12 6 0 0 12 6 0 0 6 6 0 0 6 6 0 0 6 6 0 0 12 6 0 0 6 6 0 0 6 6 0 0 12 6 0 0 6 6 0 0 6 30 0 0-6 6 0 0-6 6 0 0-6 6 0 0-6 6 0 0-90 6 0 0-30-6 0 0-24-6 0 0-18-6 0 0-18-6 0 0-12-6 0 0-12-6 0 0-12-6 0 0-18-6 0 0-12-6 0 0-18-6 0 0-18-6 0 0-24-6 0 0-12-6 0 0-30-6 0 0-30-6 0 0-48 6 0 0-6 6 0 0-6 6 0 0-18 6 0 0-18 6 0 0-6 6 0 0-12 6 0 0-6 6 0 0-6 6 0 0-6 6 0 0-6 6 0 0-6 12 0 0-6 6 0 0-6 12 0 0-6 6 0 0-6 6 0 0-6 6 0zM669 858l-12 3-6 4-10 12-5 12-3 12 1 6 5 8 6 2 6 0 12-3 12-6 6-6 5-19 0-12-1-6-4-4-4-2zM699 927l-6 6-9 16-1 6 0 6 4 6 26 24 16 21 6 3 6 1 12-3 6-4 6-9 1-9-1-36-3-12-6-6-15-6-30-5zM747 440l-5 5 1 6 4 4 6 0 3-4 0-6-3-3zM843 570l-6 1-11 6-7 6-7 12-3 12-1 12 2 18 5 18 10 19 10 11 8 5 18 6 12 0 12-3 12-6 10-8 7-12 0-6-2-6-13-18-8-18-6-9-14-15-16-21-6-4zM1551 835l-7 6 1 7 6 1 5-2 6-6 0-6-5-1zM1623 822l-10 7-1 6 3 6 11 12 9 7 12 5 12-1 9-5 3-6 0-12-6-11-6-5-6-4-12-2zM681 1038l-6 1-5 6-1 6 6 9 6 1 9-10 1-6-4-6z"/>
<path fill="#008cff" d="M1629 157l60 0-4 6-20 14-3 4-2 6 1 30 4 18 4 6 8 3 18 1 10-4 8-12 12-24 11-12 7-5 24-9 24 0 42 3 24-6 12-12 6-4 12-2 12 4 18 3 20 16 4 6 0 807-54-1-42 2-66-2-18 2-12 3-54 31-48 16-13 6-29 24-27 18-21 19-24 15-6 6-10 14-4 18 1 18 8 36 19 42 10 12 24 12 18 13 12 5 6 1 12-2 6-3 12-10 18-11 12-1 12 2 6 6 12 25 9 5 39 12 18 14 9 10 10 24-19 0 0-6-60 0 0-6-60 0 0-6-72 0 0-6-72 0 0-6-6 0 0-6-72 0 0-6-96 0 0-6-102 0 0-6-6 0 0-6-138 0 0-6-6 0 0-6-6 0 0-6-6 0 0-6-6 0 0-6-6 0 0-6 6 0 0-6 6 0 0-36 6 0 0-6 6 0 0-6 6 0 0-6 6 0 0-6 6 0 0-30 6 0 0-6 6 0 0-66 6 0 0-6 6 0 0-6 6 0 0-6 36 0 0-24-6 0 0-48-6 0 0-12-6 0 0-6-12 0 0 6-6 0 0 6-84 0 0 6-30 0 0 6-12 0 0-6-36 0 0 6-18 0 0 6-6 0 0 6-6 0 0 6-6 0 0 12-6 0 0 60-6 0 0 6-6 0 0 18 6 0 0 12-6 0 0 6-6 0 0 6-6 0 0 6-12 0 0 6-6 0 0 6-12 0 0 6-12 0 0 6-6 0 0 6-6 0 0 6-6 0 0 6-6 0 0 6-6 0 0-6-36 0 0 6-12 0 0 6-24 0 0 6-18 0 0 6-30 0 0 6-18 0 0 6-24 0 0 6-18 0 0-6-6 0 0-6-6 0 0-6-6 0 0-6-6 0 0-6-6 0 0-6-36 0 0-6-12 0 0-6-6 0 0-6-6 0 0-6-6 0 0-6-6 0 0-6-6 0 0-6-6 0 0-6-6 0 0-6-6 0 0-24-6 0 0-18-6 0 0-12-6 0 0-6-6 0 0-12-6 0 0-6-6 0 0-6-6 0 0-6-6 0 0-12-6 0 0-6-6 0 0-6-6 0 0-6-6 0 0-12-6 0 0-6-6 0 0-6-6 0 0-48-6 0 0-30-6 0 0-6 6 0 0-138 6 0 0-54 6 0 0-12 6 0 0-6 6 0 0-6 6 0 0-6 6 0 0-48-6 0 0-6-6 0 0-6-6 0 0-42 6 0 0-6 6 0 0-24-6 0 0-6 6 0 0-12 6 0 0-12 6 0 0-6 6 0 0-6 6 0 0-6 6 0 0-6 6 0 0-6 6 0 0-6 6 0 0-6 6 0 0-6 12 0 0-6 6 0 0-6 12 0 0-6 12 0 0-6 12 0 0-6 6 0 0-6 12 0 0-6 6 0 0-6 12 0 0-6 6 0 0-6 6 0 0-6 6 0 0-6 6 0 0-6 6 0 0-6 6 0 0-6 12 0 0-6 24 0 0-6 30 0 0-6 60 0 0 6 6 0 0 6 72 0 0-6 6 0 0 6 6 0 0 6 6 0 0 6 6 0 0 6 12 0 0 6 6 0 0 6 72 0 0-6 6 0 0-6 12 0 0 6 6 0 0 6 6 0 0 6 18 0 0-12-12 0 0-6-6 0 0-6-6 0 0-6-6 0 0-42 6 0 0-6 6 0 0-6 6 0 0-6 12 0 0-6 6 0 0-6 12 0 0 6 48 0 0-6 6 0 0-6 6 0 0-6 6 0 0 6 6 0 0 6 6 0 0 6 6 0 0 6 12 0 0-6 24 0 0-6 6 0 0-6 12 0 0 6 6 0 0 6 60 0 0 6 6 0 0 6 6 0 0 6 6 0 0 6 6 0 0 6 6 0 0 6 6 0 0 6 6 0 0 6 30 0 0-6 6 0 0-6 18 0 0-6 12 0 0-6 6 0 0-6 18 0 0 6 6 0 0 6 6 0 0 6 6 0 0 6 6 0 0 6 6 0 0 18 6 0 0 6 6 0 0 6 6 0 0 12 24 0 0 6 6 0 0 6 6 0 0 6 6 0 0 54-6 0 0 6-6 0 0 12-6 0 0 12 6 0 0 6 6 0 0 6 6 0 0 18 6 0 0 6 6 0 0 18 6 0 0 6 6 0 0 18 6 0 0 18 6 0 0 12 6 0 0 12 6 0 0 12 6 0 0 6 6 0 0 6 6 0 0 6 6 0 0 12 6 0 0 6 6 0 0 6 6 0 0 12 6 0 0 6 6 0 0 6 30 0 0-6 6 0 0-6 6 0 0-6 6 0 0-6 6 0 0-90 6 0 0-30-6 0 0-24-6 0 0-18-6 0 0-18-6 0 0-12-6 0 0-12-6 0 0-12-6 0 0-18-6 0 0-12-6 0 0-18-6 0 0-18-6 0 0-24-6 0 0-12-6 0 0-30-6 0 0-30-6 0 0-48 6 0 0-6 6 0 0-6 6 0 0-18 6 0 0-18 6 0 0-6 6 0 0-12 6 0 0-6 6 0 0-6 6 0 0-6 6 0 0-6 6 0 0-6 12 0 0-6 6 0 0-6 12 0 0-6 6 0 0-6 6 0 0-6 6 0zM693 828l-36 15-12 7-9 9-13 18-14 28-5 14 1 6 16 23 12 11 6 1 18 0 6 1 36 27 11 15 6 24 13 2 18-3 12-6 6-7 6-10 7-42 12-36-7-5-12-3-36-3-12-2-12-7-6-10-1-6 2-12 8-12 13-12 4-6 1-6-3-7-6-6-6-2-12 0zM741 426l-6 2-5 5-2 6 0 6 2 6 5 7 9 5 9 1 6-3 3-4 2-6 0-6-5-11-6-5-6-3zM831 565l-12 4-11 8-5 6-6 12-3 18 1 18 3 18 6 18 7 12 8 10 10 8 11 6 15 4 12 1 12-1 12-3 12-7 12-13 6-17-2-12-28-46-32-38-10-6zM1173 475l-5 6 5 2 4-2zM1605 816l-30 1-18 4-12 7-6 7-2 6 1 6 6 6 7 1 8-1 22-8 12-2 6 1 12 6 24 16 18 5 12 0 6-2 6-5 4-11-2-12-5-12-9-9-12-6-12-2-12 0zM681 1033l-12 3-6 3-3 6 3 12 5 6 7 6 6 0 8-6 10-12 5-12-5-6z"/>
<path fill="#0091ff" d="M1629 157l49 0-6 6-13 7-4 5-1 6 4 36 5 18 2 6 6 4 6 1 18 1 12-6 16-30 9-12 11-10 24-10 24 0 42 3 24-5 12-12 6-4 12-2 12 4 12 1 6 1 19 16 5 10 0 796-54 0-42 4-72-2-24 4-54 33-18 7-42 12-30 24-24 14-48 31-11 9-7 11-5 13-3 12 1 18 8 36 23 48 10 12 26 13 18 13 9 4 9 1 12-2 6-3 18-14 12-6 12-2 12 3 6 6 7 17 5 7 8 5 40 13 18 13 9 10 9 24-18 0 0-6-60 0 0-6-60 0 0-6-72 0 0-6-72 0 0-6-6 0 0-6-72 0 0-6-96 0 0-6-102 0 0-6-6 0 0-6-138 0 0-6-6 0 0-6-6 0 0-6-6 0 0-6-6 0 0-6-6 0 0-6 6 0 0-6 6 0 0-36 6 0 0-6 6 0 0-6 6 0 0-6 6 0 0-6 6 0 0-30 6 0 0-6 6 0 0-66 6 0 0-6 6 0 0-6 6 0 0-6 36 0 0-24-6 0 0-48-6 0 0-12-6 0 0-6-12 0 0 6-6 0 0 6-84 0 0 6-30 0 0 6-12 0 0-6-36 0 0 6-18 0 0 6-6 0 0 6-6 0 0 6-6 0 0 12-6 0 0 60-6 0 0 6-6 0 0 18 6 0 0 12-6 0 0 6-6 0 0 6-6 0 0 6-12 0 0 6-6 0 0 6-12 0 0 6-12 0 0 6-6 0 0 6-6 0 0 6-6 0 0 6-6 0 0 6-6 0 0-6-36 0 0 6-12 0 0 6-24 0 0 6-18 0 0 6-30 0 0 6-18 0 0 6-24 0 0 6-18 0 0-6-6 0 0-6-6 0 0-6-6 0 0-6-6 0 0-6-6 0 0-6-36 0 0-6-12 0 0-6-6 0 0-6-6 0 0-6-6 0 0-6-6 0 0-6-6 0 0-6-6 0 0-6-6 0 0-6-6 0 0-24-6 0 0-18-6 0 0-12-6 0 0-6-6 0 0-12-6 0 0-6-6 0 0-6-6 0 0-6-6 0 0-12-6 0 0-6-6 0 0-6-6 0 0-6-6 0 0-12-6 0 0-6-6 0 0-6-6 0 0-48-6 0 0-30-6 0 0-6 6 0 0-138 6 0 0-54 6 0 0-12 6 0 0-6 6 0 0-6 6 0 0-6 6 0 0-48-6 0 0-6-6 0 0-6-6 0 0-42 6 0 0-6 6 0 0-24-6 0 0-6 6 0 0-12 6 0 0-12 6 0 0-6 6 0 0-6 6 0 0-6 6 0 0-6 6 0 0-6 6 0 0-6 6 0 0-6 6 0 0-6 12 0 0-6 6 0 0-6 12 0 0-6 12 0 0-6 12 0 0-6 6 0 0-6 12 0 0-6 6 0 0-6 12 0 0-6 6 0 0-6 6 0 0-6 6 0 0-6 6 0 0-6 6 0 0-6 6 0 0-6 12 0 0-6 24 0 0-6 30 0 0-6 60 0 0 6 6 0 0 6 72 0 0-6 6 0 0 6 6 0 0 6 6 0 0 6 6 0 0 6 12 0 0 6 6 0 0 6 72 0 0-6 6 0 0-6 12 0 0 6 6 0 0 6 6 0 0 6 18 0 0-12-12 0 0-6-6 0 0-6-6 0 0-6-6 0 0-42 6 0 0-6 6 0 0-6 6 0 0-6 12 0 0-6 6 0 0-6 12 0 0 6 48 0 0-6 6 0 0-6 6 0 0-6 6 0 0 6 6 0 0 6 6 0 0 6 6 0 0 6 12 0 0-6 24 0 0-6 6 0 0-6 12 0 0 6 6 0 0 6 60 0 0 6 6 0 0 6 6 0 0 6 6 0 0 6 6 0 0 6 6 0 0 6 6 0 0 6 6 0 0 6 30 0 0-6 6 0 0-6 18 0 0-6 12 0 0-6 6 0 0-6 18 0 0 6 6 0 0 6 6 0 0 6 6 0 0 6 6 0 0 6 6 0 0 18 6 0 0 6 6 0 0 6 6 0 0 12 24 0 0 6 6 0 0 6 6 0 0 6 6 0 0 54-6 0 0 6-6 0 0 12-6 0 0 12 6 0 0 6 6 0 0 6 6 0 0 18 6 0 0 6 6 0 0 18 6 0 0 6 6 0 0 18 6 0 0 18 6 0 0 12 6 0 0 12 6 0 0 12 6 0 0 6 6 0 0 6 6 0 0 6 6 0 0 12 6 0 0 6 6 0 0 6 6 0 0 12 6 0 0 6 6 0 0 6 30 0 0-6 6 0 0-6 6 0 0-6 6 0 0-6 6 0 0-90 6 0 0-30-6 0 0-24-6 0 0-18-6 0 0-18-6 0 0-12-6 0 0-12-6 0 0-12-6 0 0-18-6 0 0-12-6 0 0-18-6 0 0-18-6 0 0-24-6 0 0-12-6 0 0-30-6 0 0-30-6 0 0-48 6 0 0-6 6 0 0-6 6 0 0-18 6 0 0-18 6 0 0-6 6 0 0-12 6 0 0-6 6 0 0-6 6 0 0-6 6 0 0-6 6 0 0-6 12 0 0-6 6 0 0-6 12 0 0-6 6 0 0-6 6 0 0-6 6 0zM1635 805l-36 3-24 0-12 2-18 10-9 9-3 6-1 6 1 6 4 6 8 4 12 1 30-6 12 1 12 4 24 14 12 4 18 4 12-2 8-6 4-6 1-6-1-12-7-18-9-12-8-6-12-4zM681 815l-18 8-12 6-12 9-12 12-18 27-12 27-3 15 2 12 13 36 1 12-3 18 1 6 7 10 12 5 6-1 5-8 7-18 6-7 12-5 6 0 12 4 12 8 5 6 4 12 0 6-3 6-10 6-37 6-3 6 1 6 7 12 10 12 8 5 6-1 7-4 29-25 6-3 30-8 12-9 9-15 14-48 14-24 5-12-1-6-5-7-24-12-18-4-24 4-6 0-6-3-5-8 1-6 4-6 16-12 7-12 0-12-4-12-4-6-8-6-13-5-18 0zM729 412l-6 4-7 11-2 12 4 12 10 12 9 6 10 3 12-2 8-7 4-12-1-12-5-11-6-8-12-8-12-2zM819 559l-12 4-12 10-7 10-5 18-1 18 1 24 4 18 8 18 8 12 11 12 11 7 18 7 12 3 18 0 18-4 12-6 15-13 4-6 4-12 1-18-6-14-26-40-34-40-6-5-12-4-12-1zM1167 472l-3 3-1 6 4 4 7 2 9-6 1-6-5-5-6-1zM1461 1051l-6 6-1 6 1 2 6 4 6-2 2-4 0-6-2-5z"/>
<path fill="#0096ff" d="M1629 157l23 0-4 18 4 24 11 42 2 3 6 3 24 2 6-2 8-6 19-36 5-6 10-9 24-10 24-1 42 3 24-5 12-12 6-3 6-2 6 0 12 4 12 0 6 2 17 15 4 6 2 6-2 18 3 15 0 754-54 2-42 5-72-2-24 3-12 6-28 21-14 9-24 8-36 8-36 27-76 38-8 7-6 10-4 13-4 18 1 24 10 36 26 48 9 12 28 14 18 13 7 3 11 2 12-2 6-3 18-14 12-7 12-1 12 2 6 6 7 17 5 7 8 5 40 13 18 13 8 10 10 24-18 0 0-6-60 0 0-6-60 0 0-6-72 0 0-6-72 0 0-6-6 0 0-6-72 0 0-6-96 0 0-6-102 0 0-6-6 0 0-6-138 0 0-6-6 0 0-6-6 0 0-6-6 0 0-6-6 0 0-6-6 0 0-6 6 0 0-6 6 0 0-36 6 0 0-6 6 0 0-6 6 0 0-6 6 0 0-6 6 0 0-30 6 0 0-6 6 0 0-66 6 0 0-6 6 0 0-6 6 0 0-6 36 0 0-24-6 0 0-48-6 0 0-12-6 0 0-6-12 0 0 6-6 0 0 6-84 0 0 6-30 0 0 6-12 0 0-6-36 0 0 6-18 0 0 6-6 0 0 6-6 0 0 6-6 0 0 12-6 0 0 60-6 0 0 6-6 0 0 18 6 0 0 12-6 0 0 6-6 0 0 6-6 0 0 6-12 0 0 6-6 0 0 6-12 0 0 6-12 0 0 6-6 0 0 6-6 0 0 6-6 0 0 6-6 0 0 6-6 0 0-6-36 0 0 6-12 0 0 6-24 0 0 6-18 0 0 6-30 0 0 6-18 0 0 6-24 0 0 6-18 0 0-6-6 0 0-6-6 0 0-6-6 0 0-6-6 0 0-6-6 0 0-6-36 0 0-6-12 0 0-6-6 0 0-6-6 0 0-6-6 0 0-6-6 0 0-6-6 0 0-6-6 0 0-6-6 0 0-6-6 0 0-24-6 0 0-18-6 0 0-12-6 0 0-6-6 0 0-12-6 0 0-6-6 0 0-6-6 0 0-6-6 0 0-12-6 0 0-6-6 0 0-6-6 0 0-6-6 0 0-12-6 0 0-6-6 0 0-6-6 0 0-48-6 0 0-30-6 0 0-6 6 0 0-138 6 0 0-54 6 0 0-12 6 0 0-6 6 0 0-6 6 0 0-6 6 0 0-48-6 0 0-6-6 0 0-6-6 0 0-42 6 0 0-6 6 0 0-24-6 0 0-6 6 0 0-12 6 0 0-12 6 0 0-6 6 0 0-6 6 0 0-6 6 0 0-6 6 0 0-6 6 0 0-6 6 0 0-6 6 0 0-6 12 0 0-6 6 0 0-6 12 0 0-6 12 0 0-6 12 0 0-6 6 0 0-6 12 0 0-6 6 0 0-6 12 0 0-6 6 0 0-6 6 0 0-6 6 0 0-6 6 0 0-6 6 0 0-6 6 0 0-6 12 0 0-6 24 0 0-6 30 0 0-6 18 0-10 12-5 12-1 18 5 12 9 12 8 6 12 8 12 3 12 0 8-5 8-12 2-12 0-12-6-17-12-17-9-8 9 0 0 6 6 0 0 6 72 0 0-6 6 0 0 6 6 0 0 6 6 0 0 6 6 0 0 6 12 0 0 6 6 0 0 6 72 0 0-6 6 0 0-6 12 0 0 6 6 0 0 6 6 0 0 6 18 0 0-12-12 0 0-6-6 0 0-6-6 0 0-6-6 0 0-42 6 0 0-6 6 0 0-6 6 0 0-6 12 0 0-6 6 0 0-6 12 0 0 6 48 0 0-6 6 0 0-6 6 0 0-6 6 0 0 6 6 0 0 6 6 0 0 6 6 0 0 6 12 0 0-6 24 0 0-6 6 0 0-6 12 0 0 6 6 0 0 6 60 0 0 6 6 0 0 6 6 0 0 6 6 0 0 6 6 0 0 6 6 0 0 6 6 0 0 6 6 0 0 6 30 0 0-6 6 0 0-6 18 0 0-6 12 0 0-6 6 0 0-6 18 0 0 6 6 0 0 6 6 0 0 6 6 0 0 6 6 0 0 6 6 0 0 18 6 0 0 6 6 0 0 6 6 0 0 12 24 0 0 6 6 0 0 6 6 0 0 6 6 0 0 54-6 0 0 6-6 0 0 12-6 0 0 12 6 0 0 6 6 0 0 6 6 0 0 18 6 0 0 6 6 0 0 18 6 0 0 6 6 0 0 18 6 0 0 18 6 0 0 12 6 0 0 12 6 0 0 12 6 0 0 6 6 0 0 6 6 0 0 6 6 0 0 12 6 0 0 6 6 0 0 6 6 0 0 12 6 0 0 6 6 0 0 6 30 0 0-6 6 0 0-6 6 0 0-6 6 0 0-6 6 0 0-90 6 0 0-30-6 0 0-24-6 0 0-18-6 0 0-18-6 0 0-12-6 0 0-12-6 0 0-12-6 0 0-18-6 0 0-12-6 0 0-18-6 0 0-18-6 0 0-24-6 0 0-12-6 0 0-30-6 0 0-30-6 0 0-48 6 0 0-6 6 0 0-6 6 0 0-18 6 0 0-18 6 0 0-6 6 0 0-12 6 0 0-6 6 0 0-6 6 0 0-6 6 0 0-6 6 0 0-6 12 0 0-6 6 0 0-6 12 0 0-6 6 0 0-6 6 0 0-6 6 0zM1635 799l-36 3-24-1-18 4-12 8-12 11-6 11-1 6 1 6 6 8 12 6 12 1 30-3 12 0 12 4 30 15 24 7 12 1 9-3 9-5 4-7 1-12-7-24-10-17-6-7-12-7-12-4zM693 798l-18 5-20 8-16 11-18 17-12 16-12 23-8 23-3 18 1 12 9 42-1 24 2 12 3 6 9 10 24 15 29 29 13 7 9-1 27-20 12-6 36-10 8-6 10-17 14-43 22-36 3-12-1-6-8-12-26-24-10-12-11-42-7-11-6-7-12-8-12-4-12-1zM801 553l-12 8-11 16-5 18-3 18 0 24 4 24 6 18 9 18 12 14 12 9 12 5 18 5 18 2 18-1 18-5 12-6 12-10 5-7 7-18 1-12-2-12-4-12-7-12-30-43-19-23-11-10-12-6-18-5-18 0zM1167 467l-8 8 0 6 5 6 9 2 8-2 7-6 3-6-4-6-8-4zM1455 1049l-10 8-4 6 0 6 1 6 7 5 6 2 12 0 6-2 4-5 1-6-2-12-3-5-6-5-6 0zM663 991l6-2 6 0 6 2 9 6 4 6 2 6-1 6-5 6-15 4-12-2-6-4-4-4 0-12 3-6z"/>
<path fill="#009cff" d="M1629 157l15 0 0 24 4 18 11 38 6 10 12 3 18 0 12-6 6-8 16-31 5-6 9-8 24-11 24 0 42 2 24-5 12-11 12-5 18 4 12 0 6 2 16 14 4 6 1 12-3 12 0 6 6 18 0 737-54 5-42 5-72-2-18 1-12 4-6 4-25 20-17 12-24 8-36 6-6 3-30 22-42 20-18 7-24 4-18 0-13-28-7-12-8-6-8-2-12 4-15 10-7 12-1 12 4 6 7 4 12 2 42 1 4 5 2 18-3 42 3 24 14 36 25 42 10 12 9 6 20 9 18 13 6 3 12 2 12-3 6-3 18-14 12-7 12-1 12 3 6 6 7 16 5 8 7 4 41 13 18 13 8 10 10 24-18 0 0-6-60 0 0-6-60 0 0-6-72 0 0-6-72 0 0-6-6 0 0-6-72 0 0-6-96 0 0-6-102 0 0-6-6 0 0-6-138 0 0-6-6 0 0-6-6 0 0-6-6 0 0-6-6 0 0-6-6 0 0-6 6 0 0-6 6 0 0-36 6 0 0-6 6 0 0-6 6 0 0-6 6 0 0-6 6 0 0-30 6 0 0-6 6 0 0-66 6 0 0-6 6 0 0-6 6 0 0-6 36 0 0-24-6 0 0-48-6 0 0-12-6 0 0-6-12 0 0 6-6 0 0 6-84 0 0 6-30 0 0 6-12 0 0-6-36 0 0 6-18 0 0 6-6 0 0 6-6 0 0 6-6 0 0 12-6 0 0 60-6 0 0 6-6 0 0 18 6 0 0 12-6 0 0 6-6 0 0 6-6 0 0 6-12 0 0 6-6 0 0 6-12 0 0 6-12 0 0 6-6 0 0 6-6 0 0 6-6 0 0 6-6 0 0 6-6 0 0-6-36 0 0 6-12 0 0 6-24 0 0 6-18 0 0 6-30 0 0 6-18 0 0 6-24 0 0 6-18 0 0-6-6 0 0-6-6 0 0-6-6 0 0-6-6 0 0-6-6 0 0-6-36 0 0-6-12 0 0-6-6 0 0-6-6 0 0-6-6 0 0-6-6 0 0-6-6 0 0-6-6 0 0-6-6 0 0-6-6 0 0-24-6 0 0-18-6 0 0-12-6 0 0-6-6 0 0-12-6 0 0-6-6 0 0-6-6 0 0-6-6 0 0-12-6 0 0-6-6 0 0-6-6 0 0-6-6 0 0-12-6 0 0-6-6 0 0-6-6 0 0-48-6 0 0-30-6 0 0-6 6 0 0-138 6 0 0-54 6 0 0-12 6 0 0-6 6 0 0-6 6 0 0-6 6 0 0-48-6 0 0-6-6 0 0-6-6 0 0-42 6 0 0-6 6 0 0-24-6 0 0-6 6 0 0-12 6 0 0-12 6 0 0-6 6 0 0-6 6 0 0-6 6 0 0-6 6 0 0-6 6 0 0-6 6 0 0-6 6 0 0-6 12 0 0-6 6 0 0-6 12 0 0-6 12 0 0-6 12 0 0-6 6 0 0-6 12 0 0-6 6 0 0-6 12 0 0-6 6 0 0-6 6 0 0-6 6 0 0-6 6 0 0-6 6 0 0-6 6 0 0-6 12 0 0-6 24 0 0-6 23 0-4 18 0 18 5 12 10 12 14 12 10 6 14 6 12 3 12-1 6-3 6-7 4-10 2-12 0-18-4-18-5-12 63 0 0-6 6 0 0 6 6 0 0 6 6 0 0 6 6 0 0 6 12 0 0 6 6 0 0 6 72 0 0-6 6 0 0-6 12 0 0 6 6 0 0 6 6 0 0 6 18 0 0-12-12 0 0-6-6 0 0-6-6 0 0-6-6 0 0-42 6 0 0-6 6 0 0-6 6 0 0-6 12 0 0-6 6 0 0-6 12 0 0 6 48 0 0-6 6 0 0-6 6 0 0-6 6 0 0 6 6 0 0 6 6 0 0 6 6 0 0 6 12 0 0-6 24 0 0-6 6 0 0-6 12 0 0 6 6 0 0 6 60 0 0 6 6 0 0 6 6 0 0 6 6 0 0 6 6 0 0 6 6 0 0 6 6 0 0 6 6 0 0 6 30 0 0-6 6 0 0-6 18 0 0-6 12 0 0-6 6 0 0-6 18 0 0 6 6 0 0 6 6 0 0 6 6 0 0 6 6 0 0 6 6 0 0 18 6 0 0 6 6 0 0 6 6 0 0 12 24 0 0 6 6 0 0 6 6 0 0 6 6 0 0 54-6 0 0 6-6 0 0 12-6 0 0 12 6 0 0 6 6 0 0 6 6 0 0 18 6 0 0 6 6 0 0 18 6 0 0 6 6 0 0 18 6 0 0 18 6 0 0 12 6 0 0 12 6 0 0 12 6 0 0 6 6 0 0 6 6 0 0 6 6 0 0 12 6 0 0 6 6 0 0 6 6 0 0 12 6 0 0 6 6 0 0 6 30 0 0-6 6 0 0-6 6 0 0-6 6 0 0-6 6 0 0-90 6 0 0-30-6 0 0-24-6 0 0-18-6 0 0-18-6 0 0-12-6 0 0-12-6 0 0-12-6 0 0-18-6 0 0-12-6 0 0-18-6 0 0-18-6 0 0-24-6 0 0-12-6 0 0-30-6 0 0-30-6 0 0-48 6 0 0-6 6 0 0-6 6 0 0-18 6 0 0-18 6 0 0-6 6 0 0-12 6 0 0-6 6 0 0-6 6 0 0-6 6 0 0-6 6 0 0-6 12 0 0-6 6 0 0-6 12 0 0-6 6 0 0-6 6 0 0-6 6 0zM681 787l-19 6-21 12-15 12-17 19-12 19-10 22-6 24-2 18 5 48 0 36 6 18 12 12 31 16 33 26 9 4 6-1 8-3 22-15 12-6 41-9 7-5 7-13 17-47 7-13 18-24 6-12 0-6-4-12-16-18-8-12-6-12-16-48-6-12-10-12-13-8-18-5-24-2zM795 541l-12 7-12 18-8 23-5 30 0 24 3 24 8 24 9 18 11 14 12 9 12 6 24 5 24 2 18-2 18-5 18-9 11-8 7-8 6-10 2-12 1-12-4-18-4-12-7-12-36-50-14-16-12-12-16-9-18-6-24-5zM1047 389l-1 2 1 1 2-1zM1167 463l-9 6-4 6 1 6 5 6 7 4 6 0 13-4 8-6 4-6-2-6-9-6-8-2zM1557 799l-12 7-12 11-10 12-2 6 1 12 3 6 7 6 7 3 18 4 42-2 12 4 30 15 30 9 12 0 36-6 18 10 6 0 5-7-5-6-18-1-6-4-6-10-16-39-6-12-8-9-12-9-12-4-18-2-42 3-30-1zM861 871l-6 3-2 3 2 9 6 4 6-3 2-4 0-6-2-3zM670 997l5-1 6 1 7 6 2 6-2 6-7 5-6 1-6-2-5-4-2-6 1-6z"/>
<path fill="#00a1ff" d="M1629 157l9 0 7 42 14 43 6 7 12 2 18 1 12-6 6-8 13-27 9-12 6-6 8-5 18-7 24-1 42 3 24-5 12-11 12-5 18 4 12-1 6 3 15 13 4 6 1 6-5 18 0 6 3 14 6 12 0 722-54 6-42 6-90-2-6 1-12 7-30 26-12 9-24 8-42 7-30 21-54 22-18 4-18-2-12-8-23-25-7-3-6-1-19 4-14 6-15 11-16 7-4 6 1 6 7 12 7 6 11 5 12 2 36-4 9 3 6 6 4 12 1 42 5 24 14 30 33 48 6 7 7 5 23 10 18 13 12 4 6 0 12-2 6-3 18-15 12-6 12-2 12 3 6 6 7 16 5 8 7 4 41 13 18 14 8 9 9 24-17 0 0-6-60 0 0-6-60 0 0-6-72 0 0-6-72 0 0-6-6 0 0-6-72 0 0-6-96 0 0-6-102 0 0-6-6 0 0-6-138 0 0-6-6 0 0-6-6 0 0-6-6 0 0-6-6 0 0-6-6 0 0-6 6 0 0-6 6 0 0-36 6 0 0-6 6 0 0-6 6 0 0-6 6 0 0-6 6 0 0-30 6 0 0-6 6 0 0-66 6 0 0-6 6 0 0-6 6 0 0-6 36 0 0-24-6 0 0-48-6 0 0-12-6 0 0-6-12 0 0 6-6 0 0 6-84 0 0 6-30 0 0 6-12 0 0-6-36 0 0 6-18 0 0 6-6 0 0 6-6 0 0 6-6 0 0 12-6 0 0 60-6 0 0 6-6 0 0 18 6 0 0 12-6 0 0 6-6 0 0 6-6 0 0 6-12 0 0 6-6 0 0 6-12 0 0 6-12 0 0 6-6 0 0 6-6 0 0 6-6 0 0 6-6 0 0 6-6 0 0-6-36 0 0 6-12 0 0 6-24 0 0 6-18 0 0 6-30 0 0 6-18 0 0 6-24 0 0 6-18 0 0-6-6 0 0-6-6 0 0-6-6 0 0-6-6 0 0-6-6 0 0-6-36 0 0-6-12 0 0-6-6 0 0-6-6 0 0-6-6 0 0-6-6 0 0-6-6 0 0-6-6 0 0-6-6 0 0-6-6 0 0-24-6 0 0-18-6 0 0-12-6 0 0-6-6 0 0-12-6 0 0-6-6 0 0-6-6 0 0-6-6 0 0-12-6 0 0-6-6 0 0-6-6 0 0-6-6 0 0-12-6 0 0-6-6 0 0-6-6 0 0-48-6 0 0-30-6 0 0-6 6 0 0-138 6 0 0-54 6 0 0-12 6 0 0-6 6 0 0-6 6 0 0-6 6 0 0-48-6 0 0-6-6 0 0-6-6 0 0-42 6 0 0-6 6 0 0-24-6 0 0-6 6 0 0-12 6 0 0-12 6 0 0-6 6 0 0-6 6 0 0-6 6 0 0-6 6 0 0-6 6 0 0-6 6 0 0-6 6 0 0-6 12 0 0-6 6 0 0-6 12 0 0-6 12 0 0-6 12 0 0-6 6 0 0-6 12 0 0-6 6 0 0-6 12 0 0-6 6 0 0-6 6 0 0-6 6 0 0-6 6 0 0-6 6 0 0-6 6 0 0-6 12 0 0-6 24 0 0-6 8 0-2 18 1 18 4 12 10 12 13 12 19 12 49 21 6-1 6-11 6-29 0-28-6-30 54 0 0-6 6 0 0 6 6 0 0 6 6 0 0 6 6 0 0 6 12 0 0 6 6 0 0 6 72 0 0-6 6 0 0-6 12 0 0 6 6 0 0 6 6 0 0 6 18 0 0-12-12 0 0-6-6 0 0-6-6 0 0-6-6 0 0-42 6 0 0-6 6 0 0-6 6 0 0-6 12 0 0-6 6 0 0-6 12 0 0 6 48 0 0-6 6 0 0-6 6 0 0-6 6 0 0 6 6 0 0 6 6 0 0 6 6 0 0 6 12 0 0-6 24 0 0-6 6 0 0-6 12 0 0 6 6 0 0 6 60 0 0 6 6 0 0 6 6 0 0 6 6 0 0 6 6 0 0 6 6 0 0 6 6 0 0 6 6 0 0 6 30 0 0-6 6 0 0-6 18 0 0-6 12 0 0-6 6 0 0-6 18 0 0 6 6 0 0 6 6 0 0 6 6 0 0 6 6 0 0 6 6 0 0 18 6 0 0 6 6 0 0 6 6 0 0 12 24 0 0 6 6 0 0 6 6 0 0 6 6 0 0 54-6 0 0 6-6 0 0 12-6 0 0 12 6 0 0 6 6 0 0 6 6 0 0 18 6 0 0 6 6 0 0 18 6 0 0 6 6 0 0 18 6 0 0 18 6 0 0 12 6 0 0 12 6 0 0 12 6 0 0 6 6 0 0 6 6 0 0 6 6 0 0 12 6 0 0 6 6 0 0 6 6 0 0 12 6 0 0 6 6 0 0 6 30 0 0-6 6 0 0-6 6 0 0-6 6 0 0-6 6 0 0-90 6 0 0-30-6 0 0-24-6 0 0-18-6 0 0-18-6 0 0-12-6 0 0-12-6 0 0-12-6 0 0-18-6 0 0-12-6 0 0-18-6 0 0-18-6 0 0-24-6 0 0-12-6 0 0-30-6 0 0-30-6 0 0-48 6 0 0-6 6 0 0-6 6 0 0-18 6 0 0-18 6 0 0-6 6 0 0-12 6 0 0-6 6 0 0-6 6 0 0-6 6 0 0-6 6 0 0-6 12 0 0-6 6 0 0-6 12 0 0-6 6 0 0-6 6 0 0-6 6 0zM783 520l-6 7-21 50-7 30-4 30 1 24 5 24 26 64 6 6 6 2 36-1 42 2 24-5 30-14 12-9 9-9 4-6 4-12 0-18-4-18-6-18-7-12-42-56-13-16-11-10-12-7-18-9-42-17zM1041 378l-6 4-2 3 0 6 8 9 6 2 6-2 3-9-1-6-8-6zM1179 457l-12 2-8 4-6 6-3 6 1 6 5 6 11 6 12-1 25-11 5-6-4-6-8-6-12-5zM1563 791l-12 5-12 9-13 12-9 12-2 12 1 6 5 8 12 8 12 4 12 2 42 0 12 4 30 15 24 8 42 4 24 6 12-1 6-3 5-7 1-6-3-6-8-6-19-10-6-7-24-48-6-8-12-9-12-4-18-3-42 4-30-2zM759 769l-72 2-24 7-18 9-24 19-18 21-16 26-9 24-4 24-1 18 2 42-2 42 5 18 7 11 9 7 33 14 34 22 14 6 12-3 36-19 18-5 28-3 8-6 6-14 10-34 9-18 11-15 20-21 8-12 8-15 18-9 6-5 7-13 0-12-5-12-8-7-12-3-8 4-4 6-1 6 3 24 0 6-2 5-6 2-6-2-12-8-7-9-2-6-1-30-3-12-27-60-8-10zM675 1003l6 2 3 4-3 6-6 1-3-1-3-6z"/>
<path fill="#00a6ff" d="M1629 157l4 0 8 42 18 46 6 5 12 3 18 0 12-6 6-6 14-30 4-6 12-13 24-11 24-1 42 3 24-5 12-11 6-3 6-1 18 4 12-1 6 2 15 13 3 6 0 6-5 18 0 6 3 18 8 15 0 707-102 15-42 0-36-4-12 1-12 7-27 27-16 12-23 8-42 6-30 19-48 20-12 3-18 1-12-3-12-7-18-17-12-6-6-1-42 8-24 1-12 3-6 4-6 9-1 12 4 12 9 12 13 12 17 10 18 2 12-4 18-8 6 0 6 5 2 7 0 24 5 30 5 12 17 30 19 24 16 24 8 8 6 4 18 7 25 17 17 4 12-3 6-3 18-14 12-7 12-1 12 2 6 7 6 15 6 8 6 4 42 13 18 14 11 15 6 18-17 0 0-6-60 0 0-6-60 0 0-6-72 0 0-6-72 0 0-6-6 0 0-6-72 0 0-6-96 0 0-6-102 0 0-6-6 0 0-6-138 0 0-6-6 0 0-6-6 0 0-6-6 0 0-6-6 0 0-6-6 0 0-6 6 0 0-6 6 0 0-36 6 0 0-6 6 0 0-6 6 0 0-6 6 0 0-6 6 0 0-30 6 0 0-6 6 0 0-66 6 0 0-6 6 0 0-6 6 0 0-6 36 0 0-24-6 0 0-48-6 0 0-12-6 0 0-6-12 0 0 6-6 0 0 6-84 0 0 6-30 0 0 6-12 0 0-6-36 0 0 6-18 0 0 6-6 0 0 6-6 0 0 6-6 0 0 12-6 0 0 60-6 0 0 6-6 0 0 18 6 0 0 12-6 0 0 6-6 0 0 6-6 0 0 6-12 0 0 6-6 0 0 6-12 0 0 6-12 0 0 6-6 0 0 6-6 0 0 6-6 0 0 6-6 0 0 6-6 0 0-6-36 0 0 6-12 0 0 6-24 0 0 6-18 0 0 6-30 0 0 6-18 0 0 6-24 0 0 6-18 0 0-6-6 0 0-6-6 0 0-6-6 0 0-6-6 0 0-6-6 0 0-6-36 0 0-6-12 0 0-6-6 0 0-6-6 0 0-6-6 0 0-6-6 0 0-6-6 0 0-6-6 0 0-6-6 0 0-6-6 0 0-24-6 0 0-18-6 0 0-12-6 0 0-6-6 0 0-12-6 0 0-6-6 0 0-6-6 0 0-6-6 0 0-12-6 0 0-6-6 0 0-6-6 0 0-6-6 0 0-12-6 0 0-6-6 0 0-6-6 0 0-48-6 0 0-30-6 0 0-6 6 0 0-138 6 0 0-54 6 0 0-12 6 0 0-6 6 0 0-6 6 0 0-6 6 0 0-48-6 0 0-6-6 0 0-6-6 0 0-42 6 0 0-6 6 0 0-24-6 0 0-6 6 0 0-12 6 0 0-12 6 0 0-6 6 0 0-6 6 0 0-6 6 0 0-6 6 0 0-6 6 0 0-6 6 0 0-6 6 0 0-6 12 0 0-6 6 0 0-6 12 0 0-6 12 0 0-6 12 0 0-6 6 0 0-6 12 0 0-6 6 0 0-6 12 0 0-6 6 0 0-6 6 0 0-6 6 0 0-6 6 0 0-6 6 0 0-6 6 0 0-6 12 0 0-6 18 0 2 30 4 12 6 9 8 9 16 13 41 23 9 6 8 12 1 6-1 12-18 60-5 24-2 24 0 18 2 18 12 42 0 12-5 9-6 4-6 2-42 1-18 5-18 8-18 11-12 11-24 27-18 31-6 17-4 18-3 24 1 48-4 48 4 18 6 11 6 7 12 8 36 11 42 23 6 1 10-1 32-16 18-6 38-2 4-2 7-10 12-42 11-22 18-19 50-37 10-13 6-17 0-12-2-12-4-12-6-9-6-7-12-9-30-11-12-10-9-14-1-12 3-6 6-6 7-2 42 1 18-4 18-8 24-13 22-16 10-12 4-12-2-18-16-42-10-18-38-49-24-27-12-9-41-23-15-12-4-6-3-6-2-12 0-42-5-36 46 0 0-6 6 0 0 6 6 0 0 6 6 0 0 6 6 0 0 6 12 0 0 6 6 0 0 6 72 0 0-6 6 0 0-6 12 0 0 6 6 0 0 6 6 0 0 6 18 0 0-12-12 0 0-6-6 0 0-6-6 0 0-6-6 0 0-42 6 0 0-6 6 0 0-6 6 0 0-6 12 0 0-6 6 0 0-6 12 0 0 6 48 0 0-6 6 0 0-6 6 0 0-6 6 0 0 6 6 0 0 6 6 0 0 6 6 0 0 6 12 0 0-6 24 0 0-6 6 0 0-6 12 0 0 6 6 0 0 6 60 0 0 6 6 0 0 6 6 0 0 6 6 0 0 6 6 0 0 6 6 0 0 6 6 0 0 6 6 0 0 6 30 0 0-6 6 0 0-6 18 0 0-6 12 0 0-6 6 0 0-6 18 0 0 6 6 0 0 6 6 0 0 6 6 0 0 6 6 0 0 6 6 0 0 18 6 0 0 6 6 0 0 6 6 0 0 12 24 0 0 6 6 0 0 6 6 0 0 6 6 0 0 54-6 0 0 6-6 0 0 12-6 0 0 12 6 0 0 6 6 0 0 6 6 0 0 18 6 0 0 6 6 0 0 18 6 0 0 6 6 0 0 18 6 0 0 18 6 0 0 12 6 0 0 12 6 0 0 12 6 0 0 6 6 0 0 6 6 0 0 6 6 0 0 12 6 0 0 6 6 0 0 6 6 0 0 12 6 0 0 6 6 0 0 6 30 0 0-6 6 0 0-6 6 0 0-6 6 0 0-6 6 0 0-90 6 0 0-30-6 0 0-24-6 0 0-18-6 0 0-18-6 0 0-12-6 0 0-12-6 0 0-12-6 0 0-18-6 0 0-12-6 0 0-18-6 0 0-18-6 0 0-24-6 0 0-12-6 0 0-30-6 0 0-30-6 0 0-48 6 0 0-6 6 0 0-6 6 0 0-18 6 0 0-18 6 0 0-6 6 0 0-12 6 0 0-6 6 0 0-6 6 0 0-6 6 0 0-6 6 0 0-6 12 0 0-6 6 0 0-6 12 0 0-6 6 0 0-6 6 0 0-6 6 0zM1029 371l-3 2-4 6 0 6 2 6 10 12 7 4 6 2 6-1 7-11-1-12-6-8-6-5-12-3zM1167 455l-14 8-5 6-3 6 1 6 5 6 10 6 6 2 12-1 24-9 18-4-2-6-6-6-18-12-16-4zM1563 787l-18 7-20 17-11 12-5 12 0 12 3 6 9 8 12 6 18 5 42 1 12 2 30 15 24 9 42 8 30 8 12-1 6-3 9-10 3-6 0-6-3-6-5-6-19-12-9-8-10-16-14-33-7-9-7-6-16-7-18-2-18 0-36 4-24-2zM822 883l3-5 6 1 2 4 1 6-3 4-6-1-3-3z"/>
<path fill="#00abff" d="M1629 163l0-5 4 11 8 36 9 18 9 24 6 4 12 3 18 0 13-7 5-5 14-31 5-6 11-12 24-11 24-1 42 2 24-5 12-10 6-4 6-1 18 4 12 0 6 2 14 12 3 6-1 12-5 12 0 12 5 18 8 16 0 692-96 17-18 2-30 0-36-8-12 0-12 7-26 30-13 12-9 5-24 7-36 5-30 17-60 22-18 1-12-3-12-7-18-13-12-6-12-1-30 3-30-2-12 1-12 6-7 7-5 12-1 18 6 12 7 10 30 28 18 9 30 4 6 3 6 6 6 10 9 26 7 12 13 18 25 27 15 21 12 12 21 8 24 16 12 4 6 1 12-3 6-3 18-15 12-7 12-1 12 3 6 6 6 15 6 8 6 4 42 13 18 14 11 15 6 18-17 0 0-6-60 0 0-6-60 0 0-6-72 0 0-6-72 0 0-6-6 0 0-6-72 0 0-6-96 0 0-6-102 0 0-6-6 0 0-6-138 0 0-6-6 0 0-6-6 0 0-6-6 0 0-6-6 0 0-6-6 0 0-6 6 0 0-6 6 0 0-36 6 0 0-6 6 0 0-6 6 0 0-6 6 0 0-6 6 0 0-30 6 0 0-6 6 0 0-66 6 0 0-6 6 0 0-6 6 0 0-6 36 0 0-24-6 0 0-48-6 0 0-12-6 0 0-6-12 0 0 6-6 0 0 6-84 0 0 6-30 0 0 6-12 0 0-6-36 0 0 6-18 0 0 6-6 0 0 6-6 0 0 6-6 0 0 12-6 0 0 60-6 0 0 6-6 0 0 18 6 0 0 12-6 0 0 6-6 0 0 6-6 0 0 6-12 0 0 6-6 0 0 6-12 0 0 6-12 0 0 6-6 0 0 6-6 0 0 6-6 0 0 6-6 0 0 6-6 0 0-6-36 0 0 6-12 0 0 6-24 0 0 6-18 0 0 6-30 0 0 6-18 0 0 6-24 0 0 6-18 0 0-6-6 0 0-6-6 0 0-6-6 0 0-6-6 0 0-6-6 0 0-6-36 0 0-6-12 0 0-6-6 0 0-6-6 0 0-6-6 0 0-6-6 0 0-6-6 0 0-6-6 0 0-6-6 0 0-6-6 0 0-24-6 0 0-18-6 0 0-12-6 0 0-6-6 0 0-12-6 0 0-6-6 0 0-6-6 0 0-6-6 0 0-12-6 0 0-6-6 0 0-6-6 0 0-6-6 0 0-12-6 0 0-6-6 0 0-6-6 0 0-48-6 0 0-30-6 0 0-6 6 0 0-138 6 0 0-54 6 0 0-12 6 0 0-6 6 0 0-6 6 0 0-6 6 0 0-48-6 0 0-6-6 0 0-6-6 0 0-42 6 0 0-6 6 0 0-24-6 0 0-6 6 0 0-12 6 0 0-12 6 0 0-6 6 0 0-6 6 0 0-6 6 0 0-6 6 0 0-6 6 0 0-6 6 0 0-6 6 0 0-6 12 0 0-6 6 0 0-6 12 0 0-6 12 0 0-6 12 0 0-6 6 0 0-6 12 0 0-6 6 0 0-6 12 0 0-6 6 0 0-6 6 0 0-6 6 0 0-6 6 0 0-6 6 0 0-6 6 0 0-6 12 0 0-6 7 0 1 18 4 18 5 12 7 10 24 21 42 23 6 6 4 6 1 6 0 12-18 60-10 48-2 30 1 42-1 6-47 15-30 16-18 15-12 12-12 15-15 23-14 30-6 24-2 24 0 48-6 54 2 12 4 12 7 12 12 11 6 2 36 8 48 23 6 1 12-2 30-14 18-5 18-2 24 1 7-5 5-10 11-44 6-12 7-9 12-11 12-7 42-18 12-13 6-10 5-22 0-18-5-24-19-48 1-12 4-6 6-6 75-48 12-12 4-12 0-6-4-12-28-54-45-60-24-28-47-32-14-12-8-12-5-12-2-12-4-66 38 0 0-6 6 0 0 6 6 0 0 6 6 0 0 6 6 0 0 6 12 0 0 6 6 0 0 6 72 0 0-6 6 0 0-6 12 0 0 6 6 0 0 6 6 0 0 6 18 0 0-12-12 0 0-6-6 0 0-6-6 0 0-6-6 0 0-42 6 0 0-6 6 0 0-6 6 0 0-6 12 0 0-6 6 0 0-6 12 0 0 6 48 0 0-6 6 0 0-6 6 0 0-6 6 0 0 6 6 0 0 6 6 0 0 6 6 0 0 6 12 0 0-6 24 0 0-6 6 0 0-6 12 0 0 6 6 0 0 6 60 0 0 6 6 0 0 6 6 0 0 6 6 0 0 6 6 0 0 6 6 0 0 6 6 0 0 6 6 0 0 6 30 0 0-6 6 0 0-6 18 0 0-6 12 0 0-6 6 0 0-6 18 0 0 6 6 0 0 6 6 0 0 6 6 0 0 6 6 0 0 6 6 0 0 18 6 0 0 6 6 0 0 6 6 0 0 12 24 0 0 6 6 0 0 6 6 0 0 6 6 0 0 54-6 0 0 6-6 0 0 12-6 0 0 12 6 0 0 6 6 0 0 6 6 0 0 18 6 0 0 6 6 0 0 18 6 0 0 6 6 0 0 18 6 0 0 18 6 0 0 12 6 0 0 12 6 0 0 12 6 0 0 6 6 0 0 6 6 0 0 6 6 0 0 12 6 0 0 6 6 0 0 6 6 0 0 12 6 0 0 6 6 0 0 6 30 0 0-6 6 0 0-6 6 0 0-6 6 0 0-6 6 0 0-90 6 0 0-30-6 0 0-24-6 0 0-18-6 0 0-18-6 0 0-12-6 0 0-12-6 0 0-12-6 0 0-18-6 0 0-12-6 0 0-18-6 0 0-18-6 0 0-24-6 0 0-12-6 0 0-30-6 0 0-30-6 0 0-48 6 0 0-6 6 0 0-6 6 0 0-18 6 0 0-18 6 0 0-6 6 0 0-12 6 0 0-6 6 0 0-6 6 0 0-6 6 0 0-6 6 0 0-6 12 0 0-6 6 0 0-6 12 0 0-6 6 0 0-6 6 0 0-6zM1023 359l-6 3-6 11 1 12 3 6 11 12 9 8 12 6 6 0 6-6 5-14-2-12-2-6-7-9-12-8-12-4zM1173 450l-18 8-12 11-3 6 1 6 6 6 8 5 12 4 12 0 24-7 13-2 5-2 4-4-1-6-3-4-18-14-18-7zM1629 780l-30 4-36-1-18 5-27 23-10 12-3 6-3 12 3 12 10 9 21 9 21 5 42 2 6 2 42 19 52 14 32 12 12 0 12-8 11-16 1-12-2-6-5-6-23-16-8-8-8-12-14-36-6-9-11-9-17-6-20-2z"/>
<path fill="#00b0ff" d="M1623 163l4 0 2 5 9 37 10 18 10 24 7 6 12 2 18 1 6-3 8-6 4-4 15-32 5-6 11-12 23-11 24-1 42 3 24-5 18-14 6-1 18 4 12-1 6 3 13 11 3 6 0 6-7 18-1 6 4 21 6 16 6 10 0 677-108 21-30 1-12-1-12-3-18-10-5-6-1-6 2-6 17-30 1-12-2-6-13-12-18-12-11-12-7-12-12-36-9-12-10-6-10-3-24-4-24 1-36 6-30-2-18 2-12 6-29 24-7 8-5 10-2 12 2 12 4 6 9 6 34 12 18 3 36 3 6 2 36 16 48 15 21 9 19 12 6 6 1 6-5 12-10 18-15 18-17 14-24 7-36 5-30 16-24 6-24 12-12 3-18 1-12-3-32-19-10-4-42 0-30-5-23 3-9 6-8 12-6 18 0 12 4 11 6 10 36 39 18 12 24 10 14 8 28 36 36 35 19 25 12 12 23 9 24 16 12 4 6 0 12-3 6-3 18-14 12-7 12-2 12 3 6 7 6 14 6 9 6 3 42 14 18 13 11 15 6 18-17 0 0-6-60 0 0-6-60 0 0-6-72 0 0-6-72 0 0-6-6 0 0-6-72 0 0-6-96 0 0-6-102 0 0-6-6 0 0-6-138 0 0-6-6 0 0-6-6 0 0-6-6 0 0-6-6 0 0-6-6 0 0-6 6 0 0-6 6 0 0-36 6 0 0-6 6 0 0-6 6 0 0-6 6 0 0-6 6 0 0-30 6 0 0-6 6 0 0-66 6 0 0-6 6 0 0-6 6 0 0-6 36 0 0-24-6 0 0-48-6 0 0-12-6 0 0-6-12 0 0 6-6 0 0 6-84 0 0 6-30 0 0 6-12 0 0-6-36 0 0 6-18 0 0 6-6 0 0 6-6 0 0 6-6 0 0 12-6 0 0 60-6 0 0 6-6 0 0 18 6 0 0 12-6 0 0 6-6 0 0 6-6 0 0 6-12 0 0 6-6 0 0 6-12 0 0 6-12 0 0 6-6 0 0 6-6 0 0 6-6 0 0 6-6 0 0 6-6 0 0-6-36 0 0 6-12 0 0 6-24 0 0 6-18 0 0 6-30 0 0 6-18 0 0 6-24 0 0 6-18 0 0-6-6 0 0-6-6 0 0-6-6 0 0-6-6 0 0-6-6 0 0-6-36 0 0-6-12 0 0-6-6 0 0-6-6 0 0-6-6 0 0-6-6 0 0-6-6 0 0-6-6 0 0-6-6 0 0-6-6 0 0-24-6 0 0-18-6 0 0-12-6 0 0-6-6 0 0-12-6 0 0-6-6 0 0-6-6 0 0-6-6 0 0-12-6 0 0-6-6 0 0-6-6 0 0-6-6 0 0-12-6 0 0-6-6 0 0-6-6 0 0-48-6 0 0-30-6 0 0-6 6 0 0-138 6 0 0-54 6 0 0-12 6 0 0-6 6 0 0-6 6 0 0-6 6 0 0-48-6 0 0-6-6 0 0-6-6 0 0-42 6 0 0-6 6 0 0-24-6 0 0-6 6 0 0-12 6 0 0-12 6 0 0-6 6 0 0-6 6 0 0-6 6 0 0-6 6 0 0-6 6 0 0-6 6 0 0-6 6 0 0-6 12 0 0-6 6 0 0-6 12 0 0-6 12 0 0-6 12 0 0-6 6 0 0-6 12 0 0-6 6 0 0-6 12 0 0-6 6 0 0-6 6 0 0-6 6 0 0-6 6 0 0-6 6 0 0-6 6 0 0-6 8 0 3 18 5 18 6 12 8 10 24 21 18 11 24 11 6 7 1 6-1 12-22 72-17 66-6 18-8 12-7 6-42 30-24 23-24 32-14 23-8 18-6 18-3 18 0 66-8 48-1 18 3 12 5 12 9 12 15 12 26 3 18 4 36 17 12 4 6 0 12-1 30-13 18-5 18-1 24 1 7-3 9-12 4-12 4-24 4-12 6-12 8-8 12-8 12-5 18-3 30-2 6-2 6-6 7-20 3-30-2-30-10-48-1-12 2-12 3-6 10-12 18-15 18-11 30-13 12-7 6-8 3-12-2-12-5-12-24-24-25-42-52-66-15-15-45-33-15-18-6-12-5-18-2-60 31 0 0-6 6 0 0 6 6 0 0 6 6 0 0 6 6 0 0 6 12 0 0 6 6 0 0 6 72 0 0-6 6 0 0-6 12 0 0 6 6 0 0 6 6 0 0 6 18 0 0-12-12 0 0-6-6 0 0-6-6 0 0-6-6 0 0-42 6 0 0-6 6 0 0-6 6 0 0-6 12 0 0-6 5 0-3 6-1 12 2 12 5 12 18 18 33 24 1 10 1-4 0-6 7-30-1-18-7-14-6-8-17-14 29 0 0-6 6 0 0-6 6 0 0-6 6 0 0 6 6 0 0 6 6 0 0 6 6 0 0 6 12 0 0-6 24 0 0-6 6 0 0-6 12 0 0 6 6 0 0 6 60 0 0 6 6 0 0 6 6 0 0 6 6 0 0 6 6 0 0 6 6 0 0 6 6 0 0 6 6 0 0 6 30 0 0-6 6 0 0-6 18 0 0-6 12 0 0-6 6 0 0-6 18 0 0 6 6 0 0 6 6 0 0 6 6 0 0 6 6 0 0 6 6 0 0 18 6 0 0 6 6 0 0 6 6 0 0 12 24 0 0 6 6 0 0 6 6 0 0 6 6 0 0 54-6 0 0 6-6 0 0 12-6 0 0 12 6 0 0 6 6 0 0 6 6 0 0 18 6 0 0 6 6 0 0 18 6 0 0 6 6 0 0 18 6 0 0 18 6 0 0 12 6 0 0 12 6 0 0 12 6 0 0 6 6 0 0 6 6 0 0 6 6 0 0 12 6 0 0 6 6 0 0 6 6 0 0 12 6 0 0 6 6 0 0 6 30 0 0-6 6 0 0-6 6 0 0-6 6 0 0-6 6 0 0-90 6 0 0-30-6 0 0-24-6 0 0-18-6 0 0-18-6 0 0-12-6 0 0-12-6 0 0-12-6 0 0-18-6 0 0-12-6 0 0-18-6 0 0-18-6 0 0-24-6 0 0-12-6 0 0-30-6 0 0-30-6 0 0-48 6 0 0-6 6 0 0-6 6 0 0-18 6 0 0-18 6 0 0-6 6 0 0-12 6 0 0-6 6 0 0-6 6 0 0-6 6 0 0-6 6 0 0-6 12 0 0-6 6 0 0-6 12 0 0-6 6 0 0-6 6 0zM1821 863l-3 2 3 3 2-3zM1065 443l-4 2 4 1zM1161 451l-18 12-5 6-2 6 1 7 5 5 9 6 16 5 12-1 24-6 18-3 7-7 0-6-7-9-24-16-12-4-6 0zM1005 343l6 0-6 4z"/>
<path fill="#00b5ff" d="M1623 163l8 18 5 24 11 19 10 23 6 6 14 3 18 1 6-3 10-7 4-6 14-30 4-6 12-12 22-11 24-1 36 3 24-3 12-6 12-9 6-2 18 5 12-1 6 2 12 11 3 6 0 6-8 18-1 6 1 12 3 12 8 20 6 9 0 662-48 9-42 11-24 4-24 3-18-4-10-6-5-6-2-6 2-12 16-30 2-6-2-6-37-24-13-12-9-18-9-36-4-6-6-6-19-8-30-3-24 1-36 7-36-2-18 3-12 7-25 19-11 12-5 12-2 12 2 12 3 6 8 7 33 11 69 13 30 13 48 16 18 8 14 10 8 12 0 6-2 12-9 18-17 18-12 7-18 5-36 5-30 15-30 7-18 10-18 5-12 0-12-3-30-17-12-4-42-2-30-6-24 1-6 2-5 5-9 12-7 18-3 18 4 12 8 12 42 50 12 9 30 14 12 8 28 27 38 32 22 28 8 7 24 9 24 16 12 4 6 0 18-6 18-15 12-7 12-1 12 2 6 7 6 15 6 8 6 3 42 14 18 13 10 15 6 18-16 0 0-6-60 0 0-6-60 0 0-6-72 0 0-6-72 0 0-6-6 0 0-6-72 0 0-6-96 0 0-6-102 0 0-6-6 0 0-6-138 0 0-6-6 0 0-6-6 0 0-6-6 0 0-6-6 0 0-6-6 0 0-6 6 0 0-6 6 0 0-36 6 0 0-6 6 0 0-6 6 0 0-6 6 0 0-6 6 0 0-30 6 0 0-6 6 0 0-66 6 0 0-6 6 0 0-6 6 0 0-6 36 0 0-24-6 0 0-48-6 0 0-12-6 0 0-6-12 0 0 6-6 0 0 6-84 0 0 6-30 0 0 6-12 0 0-6-36 0 0 6-18 0 0 6-6 0 0 6-6 0 0 6-6 0 0 12-6 0 0 60-6 0 0 6-6 0 0 18 6 0 0 12-6 0 0 6-6 0 0 6-6 0 0 6-12 0 0 6-6 0 0 6-12 0 0 6-12 0 0 6-6 0 0 6-6 0 0 6-6 0 0 6-6 0 0 6-6 0 0-6-36 0 0 6-12 0 0 6-24 0 0 6-18 0 0 6-30 0 0 6-18 0 0 6-24 0 0 6-18 0 0-6-6 0 0-6-6 0 0-6-6 0 0-6-6 0 0-6-6 0 0-6-36 0 0-6-12 0 0-6-6 0 0-6-6 0 0-6-6 0 0-6-6 0 0-6-6 0 0-6-6 0 0-6-6 0 0-6-6 0 0-24-6 0 0-18-6 0 0-12-6 0 0-6-6 0 0-12-6 0 0-6-6 0 0-6-6 0 0-6-6 0 0-12-6 0 0-6-6 0 0-6-6 0 0-6-6 0 0-12-6 0 0-6-6 0 0-6-6 0 0-48-6 0 0-30-6 0 0-6 6 0 0-138 6 0 0-54 6 0 0-12 6 0 0-6 6 0 0-6 6 0 0-6 6 0 0-48-6 0 0-6-6 0 0-6-6 0 0-42 6 0 0-6 6 0 0-24-6 0 0-6 6 0 0-12 6 0 0-12 6 0 0-6 6 0 0-6 6 0 0-6 6 0 0-6 6 0 0-6 6 0 0-6 6 0 0-6 6 0 0-6 12 0 0-6 6 0 0-6 12 0 0-6 12 0 0-6 12 0 0-6 6 0 0-6 12 0 0-6 6 0 0-6 12 0 0-6 6 0 0-6 6 0 0-6 6 0 0-6 6 0 0-6 6 0 0-6 5 0 10 36 11 18 28 25 18 13 20 10 5 6-1 12-16 54-20 58-12 28-16 22-38 33-18 20-30 46-20 39-5 18-1 18 2 66-13 54 1 18 4 12 12 18 20 16 6 3 24 0 12 2 54 20 18-1 30-11 18-5 18-1 25 1 11-6 9-12 4-12 3-24 4-12 8-12 8-6 12-5 12-3 18 1 36 8 6-2 4-5 8-24 4-30-1-24-11-66 2-18 4-12 14-18 18-14 18-7 30-4 12-4 8-7 3-12 0-12-3-12-14-38-18-1-6-3-6-6-23-36-61-75-12-11-37-28-11-12-8-12-6-12-4-18-1-30 1-24 24 0 0-6 6 0 0 6 6 0 0 6 6 0 0 6 6 0 0 6 12 0 0 6 6 0 0 6 72 0 0-6 6 0 0-6 12 0 0 6 6 0 0 6 6 0 0 6 18 0 0-12-12 0 0-6-6 0 0-6-6 0 0-6-6 0 0-42 6 0 0-6 6 0 0-6 6 0 10 24 8 12 41 36 10 18 3 2 6 2 6-4 1-6-2-24 0-30-6-18-16-24 17 0 0-6 6 0 0-6 6 0 0-6 6 0 0 6 6 0 0 6 6 0 0 6 6 0 0 6 12 0 0-6 24 0 0-6 6 0 0-6 12 0 0 6 6 0 0 6 60 0 0 6 6 0 0 6 6 0 0 6 6 0 0 6 6 0 0 6 6 0 0 6 6 0 0 6 6 0 0 6 30 0 0-6 6 0 0-6 18 0 0-6 12 0 0-6 6 0 0-6 18 0 0 6 6 0 0 6 6 0 0 6 6 0 0 6 6 0 0 6 6 0 0 18 6 0 0 6 6 0 0 6 6 0 0 12 24 0 0 6 6 0 0 6 6 0 0 6 6 0 0 54-6 0 0 6-6 0 0 12-6 0 0 12 6 0 0 6 6 0 0 6 6 0 0 18 6 0 0 6 6 0 0 18 6 0 0 6 6 0 0 18 6 0 0 18 6 0 0 12 6 0 0 12 6 0 0 12 6 0 0 6 6 0 0 6 6 0 0 6 6 0 0 12 6 0 0 6 6 0 0 6 6 0 0 12 6 0 0 6 6 0 0 6 30 0 0-6 6 0 0-6 6 0 0-6 6 0 0-6 6 0 0-90 6 0 0-30-6 0 0-24-6 0 0-18-6 0 0-18-6 0 0-12-6 0 0-12-6 0 0-12-6 0 0-18-6 0 0-12-6 0 0-18-6 0 0-18-6 0 0-24-6 0 0-12-6 0 0-30-6 0 0-30-6 0 0-48 6 0 0-6 6 0 0-6 6 0 0-18 6 0 0-18 6 0 0-6 6 0 0-12 6 0 0-6 6 0 0-6 6 0 0-6 6 0 0-6 6 0 0-6 12 0 0-6 6 0 0-6 12 0 0-6 6 0 0-6 6 0zM1815 857l-8 8-2 6 0 6 4 3 6 1 6-1 6-3 4-6 1-6-5-8-6-2zM1167 445l-18 9-15 15-3 6 1 6 5 6 18 10 18 3 48-10 7-3 3-6 0-6-4-7-12-11-12-8-12-6-12-1zM1323 473l-3 2 2 6 7 2 3-2-1-6z"/>
<path fill="#00baff" d="M1623 169l5 12 5 24 14 22 9 20 5 6 22 5 12 0 6-3 11-8 18-36 4-6 12-12 21-10 24-2 42 3 24-4 18-14 6-1 18 4 12-1 6 3 11 10 3 6 0 6-9 18-1 12 2 13 12 33 6 6 0 647-48 9-42 13-36 8-12 2-12-2-6-3-6-6-2-6 2-12 6-11 12-13 6-4 24-10 6-4 4-6 2-6 0-6-2-6-6-6-10-3-6 1-24 18-6 1-12-2-18-10-13-11-8-12-3-12-4-30-2-6-4-6-7-6-13-5-18-3-24-1-30 3-30 6-36-2-18 2-13 6-26 18-13 12-6 12-2 12 0 12 6 14 6 6 8 4 46 13 48 9 84 31 12 6 15 13 5 12 0 12-8 18-12 14-17 10-13 3-36 5-30 15-30 6-18 10-18 5-12 0-12-3-30-15-12-4-36-3-36-7-24-1-6 2-7 5-11 14-6 15-6 25 4 12 8 15 18 21 24 33 18 13 30 14 30 24 36 25 12 10 21 25 9 8 24 8 24 16 11 4 7 0 18-6 18-15 12-6 18-2 6 3 6 7 6 14 6 8 6 4 42 13 14 10 11 12 9 24-16 0 0-6-60 0 0-6-60 0 0-6-72 0 0-6-72 0 0-6-6 0 0-6-72 0 0-6-96 0 0-6-102 0 0-6-6 0 0-6-138 0 0-6-6 0 0-6-6 0 0-6-6 0 0-6-6 0 0-6-6 0 0-6 6 0 0-6 6 0 0-36 6 0 0-6 6 0 0-6 6 0 0-6 6 0 0-6 6 0 0-30 6 0 0-6 6 0 0-66 6 0 0-6 6 0 0-6 6 0 0-6 36 0 0-24-6 0 0-48-6 0 0-12-6 0 0-6-12 0 0 6-6 0 0 6-84 0 0 6-30 0 0 6-12 0 0-6-36 0 0 6-18 0 0 6-6 0 0 6-6 0 0 6-6 0 0 12-6 0 0 60-6 0 0 6-6 0 0 18 6 0 0 12-6 0 0 6-6 0 0 6-6 0 0 6-12 0 0 6-6 0 0 6-12 0 0 6-12 0 0 6-6 0 0 6-6 0 0 6-6 0 0 6-6 0 0 6-6 0 0-6-36 0 0 6-12 0 0 6-24 0 0 6-18 0 0 6-30 0 0 6-18 0 0 6-24 0 0 6-18 0 0-6-6 0 0-6-6 0 0-6-6 0 0-6-6 0 0-6-6 0 0-6-36 0 0-6-12 0 0-6-6 0 0-6-6 0 0-6-6 0 0-6-6 0 0-6-6 0 0-6-6 0 0-6-6 0 0-6-6 0 0-24-6 0 0-18-6 0 0-12-6 0 0-6-6 0 0-12-6 0 0-6-6 0 0-6-6 0 0-6-6 0 0-12-6 0 0-6-6 0 0-6-6 0 0-6-6 0 0-12-6 0 0-6-6 0 0-6-6 0 0-48-6 0 0-30-6 0 0-6 6 0 0-138 6 0 0-54 6 0 0-12 6 0 0-6 6 0 0-6 6 0 0-6 6 0 0-48-6 0 0-6-6 0 0-6-6 0 0-42 6 0 0-6 6 0 0-24-6 0 0-6 6 0 0-12 6 0 0-12 6 0 0-6 6 0 0-6 6 0 0-6 6 0 0-6 6 0 0-6 6 0 0-6 6 0 0-6 6 0 0-6 12 0 0-6 6 0 0-6 12 0 0-6 12 0 0-6 12 0 0-6 6 0 0-6 12 0 0-6 6 0 0-6 12 0 0-6 6 0 0-6 6 0 0-6 6 0 0-6 6 0 0-6 2 0 9 30 7 15 18 19 44 38 4 6 2 12-3 18-9 30-14 35-15 31-20 30-32 30-17 21-36 63-17 36-4 18-1 18 1 24 3 30 0 12-12 36-4 24 1 12 4 12 7 12 11 12 23 15 6 2 24 0 12 2 42 15 12 3 18-1 30-11 18-4 18-2 24 1 6-1 12-7 9-12 4-12 3-30 7-12 7-6 12-5 12-1 12 2 30 8 12 1 12-5 6-6 10-24 5-30-1-24-11-60 0-18 6-18 7-12 8-9 12-9 6-2 18-2 30 4 6 0 6-4 8-8 8-12 2-6-1-12-18-48-6-24-5-6-6 0-12 5-6 1-6-3-17-27-37-42-34-42-8-8-36-28-12-12-8-12-8-18-3-18-1-24 2-24 18 0 0-6 6 0 0 6 6 0 0 6 6 0 0 6 6 0 0 6 12 0 0 6 6 0 0 6 72 0 0-6 6 0 0-6 12 0 0 6 6 0 0 6 6 0 0 6 18 0 0-12-12 0 0-6-6 0 0-6-6 0 0-6-6 0 0-42 6 0 0-6 2 0 21 30 41 36 14 20 6 5 6 2 8-3 4-6 0-12-5-54-7-19-9-17 9 0 0-6 6 0 0-6 6 0 0-6 6 0 0 6 6 0 0 6 6 0 0 6 6 0 0 6 12 0 0-6 24 0 0-6 6 0 0-6 12 0 0 6 6 0 0 6 60 0 0 6 6 0 0 6 6 0 0 6 6 0 0 6 6 0 0 6 6 0 0 6 6 0 0 6 6 0 0 6 30 0 0-6 6 0 0-6 18 0 0-6 12 0 0-6 6 0 0-6 18 0 0 6 6 0 0 6 6 0 0 6 6 0 0 6 6 0 0 6 6 0 0 18 6 0 0 6 6 0 0 6 6 0 0 12 24 0 0 6 6 0 0 6 6 0 0 6 6 0 0 54-6 0 0 6-6 0 0 12-6 0 0 12 6 0 0 6 6 0 0 6 6 0 0 18 6 0 0 6 6 0 0 18 6 0 0 6 6 0 0 18 6 0 0 18 6 0 0 12 6 0 0 12 6 0 0 12 6 0 0 6 6 0 0 6 6 0 0 6 6 0 0 12 6 0 0 6 6 0 0 6 6 0 0 12 6 0 0 6 6 0 0 6 30 0 0-6 6 0 0-6 6 0 0-6 6 0 0-6 6 0 0-90 6 0 0-30-6 0 0-24-6 0 0-18-6 0 0-18-6 0 0-12-6 0 0-12-6 0 0-12-6 0 0-18-6 0 0-12-6 0 0-18-6 0 0-18-6 0 0-24-6 0 0-12-6 0 0-30-6 0 0-30-6 0 0-48 6 0 0-6 6 0 0-6 6 0 0-18 6 0 0-18 6 0 0-6 6 0 0-12 6 0 0-6 6 0 0-6 6 0 0-6 6 0 0-6 6 0 0-6 12 0 0-6 6 0 0-6 12 0 0-6 6 0 0-6zM1173 439l-24 12-15 12-7 12 0 6 4 6 9 6 15 6 18 2 48-9 9-5 4-6 0-6-2-6-11-11-18-13-12-6-12-1zM1299 799l-24 6-14 6-9 6-6 6-2 6 2 12 11 24 3 18 2 6 7 6 6 1 6-2 6-11 5-24 6-12 12-12 19-15 6-9 0-6-3-6-3-3-6-2-6 0zM1317 474l1 7 5 3 6 1 9-4-3-6-6-4-6 0z"/>
<path fill="#00bfff" d="M1871 169l10-4 18 5 12-1 6 2 11 10 2 6 0 6-9 18-1 18 2 12 11 30 2 4 6 4 0 633-48 8-42 15-42 12-12 1-9-5-4-6 0-6 3-6 10-11 30-16 13-9 7-12 0-12-7-12-7-6-6-2-12 0-24 16-6 2-12-1-19-9-12-12-5-12-2-18 1-24-1-6-4-5-6-5-18-7-42-2-36 3-30 7-36-1-18 1-12 4-31 17-14 12-6 12-3 18 1 12 4 12 7 8 12 6 96 25 74 27 16 8 13 10 7 12 0 12-6 18-10 12-16 9-12 3-36 6-30 13-12 4-18 2-18 10-18 5-12 1-12-3-30-14-12-4-36-4-30-6-36-3-6 4-6 5-10 14-8 22-4 20 2 12 8 16 21 26 15 24 12 14 18 12 24 10 72 46 12 10 19 22 11 9 24 8 24 16 12 4 6 0 12-3 6-3 18-15 12-7 6-2 12 1 6 2 6 7 6 14 6 8 6 4 42 13 14 10 11 12 9 24-16 0 0-6-60 0 0-6-60 0 0-6-72 0 0-6-72 0 0-6-6 0 0-6-72 0 0-6-96 0 0-6-102 0 0-6-6 0 0-6-138 0 0-6-6 0 0-6-6 0 0-6-6 0 0-6-6 0 0-6-6 0 0-6 6 0 0-6 6 0 0-36 6 0 0-6 6 0 0-6 6 0 0-6 6 0 0-6 6 0 0-30 6 0 0-6 6 0 0-66 6 0 0-6 6 0 0-6 6 0 0-6 36 0 0-24-6 0 0-48-6 0 0-12-6 0 0-6-12 0 0 6-6 0 0 6-84 0 0 6-30 0 0 6-12 0 0-6-36 0 0 6-18 0 0 6-6 0 0 6-6 0 0 6-6 0 0 12-6 0 0 60-6 0 0 6-6 0 0 18 6 0 0 12-6 0 0 6-6 0 0 6-6 0 0 6-12 0 0 6-6 0 0 6-12 0 0 6-12 0 0 6-6 0 0 6-6 0 0 6-6 0 0 6-6 0 0 6-6 0 0-6-36 0 0 6-12 0 0 6-24 0 0 6-18 0 0 6-30 0 0 6-18 0 0 6-24 0 0 6-18 0 0-6-6 0 0-6-6 0 0-6-6 0 0-6-6 0 0-6-6 0 0-6-36 0 0-6-12 0 0-6-6 0 0-6-6 0 0-6-6 0 0-6-6 0 0-6-6 0 0-6-6 0 0-6-6 0 0-6-6 0 0-24-6 0 0-18-6 0 0-12-6 0 0-6-6 0 0-12-6 0 0-6-6 0 0-6-6 0 0-6-6 0 0-12-6 0 0-6-6 0 0-6-6 0 0-6-6 0 0-12-6 0 0-6-6 0 0-6-6 0 0-48-6 0 0-30-6 0 0-6 6 0 0-138 6 0 0-54 6 0 0-12 6 0 0-6 6 0 0-6 6 0 0-6 6 0 0-48-6 0 0-6-6 0 0-6-6 0 0-42 6 0 0-6 6 0 0-24-6 0 0-6 6 0 0-12 6 0 0-12 6 0 0-6 6 0 0-6 6 0 0-6 6 0 0-6 6 0 0-6 6 0 0-6 6 0 0-6 6 0 0-6 12 0 0-6 6 0 0-6 12 0 0-6 12 0 0-6 12 0 0-6 6 0 0-6 12 0 0-6 6 0 0-6 12 0 0-6 6 0 0-6 6 0 0-6 6 0 0-6 10 30 5 12 11 12 44 42 6 12 2 12-1 12-5 20-9 22-13 24-32 49-30 29-12 17-54 110-4 17-1 18 1 30 5 36-3 12-12 30-4 24 2 18 4 12 9 12 7 6 17 12 13 6 8 2 24 0 12 2 42 14 12 2 18-1 48-14 48-1 9-4 9-6 9-12 3-12 0-18 2-12 4-8 6-5 12-4 12 0 30 11 18 2 18-6 9-8 14-24 8-30 0-24-11-48-2-18 2-18 7-18 15-18 6-3 6-2 18 2 30 10 6 0 30-37 4-6 1-6-26-54-10-30-5-8-6-4-6-1-18 1-21-24-33-35-41-49-37-30-16-18-10-18-5-18-2-30 4-24 11 0 0-6 6 0 0 6 6 0 0 6 6 0 0 6 6 0 0 6 12 0 0 6 6 0 0 6 72 0 0-6 6 0 0-6 12 0 0 6 6 0 0 6 6 0 0 6 18 0 0-12-12 0 0-6-6 0 0-6-6 0 0-6-6 0 1-42 27 30 36 30 20 24 6 5 12 2 6-2 3-5 2-6 0-12-7-54-13-36 3 0 0-6 6 0 0-6 6 0 0-6 6 0 0 6 6 0 0 6 6 0 0 6 6 0 0 6 12 0 0-6 24 0 0-6 6 0 0-6 12 0 0 6 6 0 0 6 60 0 0 6 6 0 0 6 6 0 0 6 6 0 0 6 6 0 0 6 6 0 0 6 6 0 0 6 6 0 0 6 30 0 0-6 6 0 0-6 18 0 0-6 12 0 0-6 6 0 0-6 18 0 0 6 6 0 0 6 6 0 0 6 6 0 0 6 6 0 0 6 6 0 0 18 6 0 0 6 6 0 0 6 6 0 0 12 24 0 0 6 6 0 0 6 6 0 0 6 6 0 0 54-6 0 0 6-6 0 0 12-6 0 0 12 6 0 0 6 6 0 0 6 6 0 0 18 6 0 0 6 6 0 0 18 6 0 0 6 6 0 0 18 6 0 0 18 6 0 0 12 6 0 0 12 6 0 0 12 6 0 0 6 6 0 0 6 6 0 0 6 6 0 0 12 6 0 0 6 6 0 0 6 6 0 0 12 6 0 0 6 6 0 0 6 30 0 0-6 6 0 0-6 6 0 0-6 6 0 0-6 6 0 0-90 6 0 0-30-6 0 0-24-6 0 0-18-6 0 0-18-6 0 0-12-6 0 0-12-6 0 0-12-6 0 0-18-6 0 0-12-6 0 0-18-6 0 0-18-6 0 0-24-6 0 0-12-6 0 0-30-6 0 0-30-6 0 0-48 6 0 0-6 6 0 0-6 6 0 0-18 6 0 0-18 6 0 0-6 6 0 0-12 6 0 0-6 6 0 0-6 6 0 0-6 6 0 0-6 6 0 0-6 12 0 0-6 6 0 0-6 12 0 0-6 6 0 0-6 3 0 4 6 4 12 3 18 16 25 8 17 4 6 18 6 6 0 12 0 18-12 17-36 10-12 9-8 18-8 6-1 18 0 36 3 24-3 6-2zM1167 437l-24 14-12 11-6 7-3 6 0 6 4 6 5 4 18 8 12 3 12 1 48-9 12-7 4-6 0-6-2-6-8-10-12-9-12-9-12-6-12-1zM1305 786l-42 12-24 9-17 4-7 4-1 2 29 48 7 24 5 6 8 4 12 3 6-2 7-5 4-6 9-24 6-12 27-24 7-12 2-12-1-6-7-12-6-3-6-1zM1323 468l-6 2-4 5 2 6 2 2 6 3 6 1 6 0 7-6-3-6-4-2-6-4zM1791 773l-5 2-3 6 6 6 8 1 5-7-3-6z"/>
<path fill="#00c4ff" d="M1872 169l9-3 18 4 12-1 6 3 10 9 3 6-1 6-10 18-1 12 0 12 14 42 9 5 0 620-42 3-18 2-6 3-24 15-12 1-18 0-11 11-7 4-6 0-5-4 1-6 4-4 6-3 18-1 13-16 17-12 6-6 2-6-1-12-5-12-4-6-10-9-12-5-12 0-24 16-12 3-12-2-15-9-9-12-3-12 1-18 11-24-2-6-8-6-11-6-12-3-48-2-48 5-24 6-42-1-18 2-41 17-10 6-6 6-6 12-3 18 1 18 5 12 11 12 7 3 102 29 66 24 18 8 12 8 8 12 1 12-5 18-10 11-12 7-12 4-36 5-36 15-24 4-24 12-18 4-18-3-30-13-12-4-30-4-36-8-36-2-6 2-6 5-12 13-3 6-9 30-2 12 2 12 12 25 17 23 19 30 12 12 9 6 33 16 66 36 18 12 18 20 12 11 24 7 18 13 12 5 12 2 12-4 7-4 17-14 12-7 12-1 12 3 6 7 6 14 6 8 12 5 18 5 18 6 18 14 10 14 6 18-16 0 0-6-60 0 0-6-60 0 0-6-72 0 0-6-72 0 0-6-6 0 0-6-72 0 0-6-96 0 0-6-102 0 0-6-6 0 0-6-138 0 0-6-6 0 0-6-6 0 0-6-6 0 0-6-6 0 0-6-6 0 0-6 6 0 0-6 6 0 0-36 6 0 0-6 6 0 0-6 6 0 0-6 6 0 0-6 6 0 0-30 6 0 0-6 6 0 0-66 6 0 0-6 6 0 0-6 6 0 0-6 36 0 0-24-6 0 0-48-6 0 0-12-6 0 0-6-12 0 0 6-6 0 0 6-84 0 0 6-30 0 0 6-12 0 0-6-36 0 0 6-18 0 0 6-6 0 0 6-6 0 0 6-6 0 0 12-6 0 0 60-6 0 0 6-6 0 0 18 6 0 0 12-6 0 0 6-6 0 0 6-6 0 0 6-12 0 0 6-6 0 0 6-12 0 0 6-12 0 0 6-6 0 0 6-6 0 0 6-6 0 0 6-6 0 0 6-6 0 0-6-36 0 0 6-12 0 0 6-24 0 0 6-18 0 0 6-30 0 0 6-18 0 0 6-24 0 0 6-18 0 0-6-6 0 0-6-6 0 0-6-6 0 0-6-6 0 0-6-6 0 0-6-36 0 0-6-12 0 0-6-6 0 0-6-6 0 0-6-6 0 0-6-6 0 0-6-6 0 0-6-6 0 0-6-6 0 0-6-6 0 0-24-6 0 0-18-6 0 0-12-6 0 0-6-6 0 0-12-6 0 0-6-6 0 0-6-6 0 0-6-6 0 0-12-6 0 0-6-6 0 0-6-6 0 0-6-6 0 0-12-6 0 0-6-6 0 0-6-6 0 0-48-6 0 0-30-6 0 0-6 6 0 0-138 6 0 0-54 6 0 0-12 6 0 0-6 6 0 0-6 6 0 0-6 6 0 0-48-6 0 0-6-6 0 0-6-6 0 0-42 6 0 0-6 6 0 0-24-6 0 0-6 6 0 0-12 6 0 0-12 6 0 0-6 6 0 0-6 6 0 0-6 6 0 0-6 6 0 0-6 6 0 0-6 6 0 0-6 6 0 0-6 12 0 0-6 6 0 0-6 12 0 0-6 12 0 0-6 12 0 0-6 6 0 0-6 12 0 0-6 6 0 0-6 12 0 0-6 6 0 0-6 6 0 0-3 10 27 6 12 47 48 7 12 3 12-1 12-5 18-19 36-24 33-12 14-26 25-10 14-6 12-27 70-23 48-4 12 0 18 2 42 5 30-1 6-12 24-7 30-1 18 5 18 8 12 7 6 18 12 12 6 18 5 36 2 48 14 12 1 12-1 36-11 18-3 42-1 15-6 9-6 11-12 2-12-3-24 2-7 6-7 6-2 12-1 12 5 18 10 12 2 12-2 12-4 12-8 6-6 13-16 6-12 6-18 3-18 0-24-11-36-3-18 1-18 8-18 7-9 6-5 12-4 18 2 24 7 6 1 6-3 14-19 21-24 3-6-2-12-26-48-16-36-5-6-7-5-18-5-12-8-42-40-42-50-42-36-15-18-6-12-4-12-3-24 2-24 4-12 4 0 0-6 6 0 0 6 6 0 0 6 6 0 0 6 6 0 0 6 12 0 0 6 6 0 0 6 72 0 0-6 6 0 0-6 12 0 0 6 6 0 0 6 6 0 0 6 18 0 0-12-12 0 0-6-6 0 0-6-6 0 0-6-6 0 0-31 21 19 39 31 24 27 12 8 12 1 6-3 2-4 2-18-10-60-11-42 5 0 0-6 6 0 0-6 6 0 0 6 6 0 0 6 6 0 0 6 6 0 0 6 12 0 0-6 24 0 0-6 6 0 0-6 12 0 0 6 6 0 0 6 60 0 0 6 6 0 0 6 6 0 0 6 6 0 0 6 6 0 0 6 6 0 0 6 6 0 0 6 6 0 0 6 30 0 0-6 6 0 0-6 18 0 0-6 12 0 0-6 6 0 0-6 18 0 0 6 6 0 0 6 6 0 0 6 6 0 0 6 6 0 0 6 6 0 0 18 6 0 0 6 6 0 0 6 6 0 0 12 24 0 0 6 6 0 0 6 6 0 0 6 6 0 0 54-6 0 0 6-6 0 0 12-6 0 0 12 6 0 0 6 6 0 0 6 6 0 0 18 6 0 0 6 6 0 0 18 6 0 0 6 6 0 0 18 6 0 0 18 6 0 0 12 6 0 0 12 6 0 0 12 6 0 0 6 6 0 0 6 6 0 0 6 6 0 0 12 6 0 0 6 6 0 0 6 6 0 0 12 6 0 0 6 6 0 0 6 30 0 0-6 6 0 0-6 6 0 0-6 6 0 0-6 6 0 0-90 6 0 0-30-6 0 0-24-6 0 0-18-6 0 0-18-6 0 0-12-6 0 0-12-6 0 0-12-6 0 0-18-6 0 0-12-6 0 0-18-6 0 0-18-6 0 0-24-6 0 0-12-6 0 0-30-6 0 0-30-6 0 0-48 6 0 0-6 6 0 0-6 6 0 0-18 6 0 0-18 6 0 0-6 6 0 0-12 6 0 0-6 6 0 0-6 6 0 0-6 6 0 0-6 6 0 0-6 12 0 0-6 6 0 0-6 12 0 0-6 6 0 0-6 7 12 5 24 18 27 7 15 5 7 16 5 8 1 14-1 17-12 17-36 12-14 12-8 18-7 18 0 36 3 24-3 6-2zM1173 386l-5 5 5 8 3-2 3-6zM1317 468l-4 1-4 6 3 6 8 6 9 2 12-1 3-1 4-6-6-6-9-6-10-2zM1413 720l-3 1-1 6 4 4 5-4-2-6zM1785 769l-15 6-1 6 7 6 11 6 10 2 6-3 4-5 0-6-3-6-7-5zM1173 430l-30 17-18 16-9 12 0 6 4 6 8 6 13 6 26 5 12-1 42-7 7-3 8-6 3-6 1-6-2-6-10-12-19-16-18-10-12-2zM1317 775l-30 10-42 11-36 4-10 5-3 6 1 6 3 6 26 36 7 12 6 18 3 6 6 6 21 5 12-2 7-3 12-12 13-30 10-10 12-8 10-12 4-12 2-12-4-18-6-9-6-4-6-1z"/>
<path fill="#00c9ff" d="M1873 169l8-3 18 5 12-1 6 2 9 9 3 6 0 6-11 18-2 12 0 12 9 24 4 18 6 6 6 1 0 608-30-1-24-5-6-4-6-5-12-18-10-12-14-10-12-5-12-1-24 18-12 5-12-2-12-7-8-10-3-12 2-12 3-8 6-7 6-3 6 0 24 7 12 1 6-4 2-4 1-12-3-6-6-6-6-3-12-2-24 0-30-9-18-3-60 4-30 4-24 7-48-2-21 4-39 12-11 6-5 6-7 18-2 18 2 18 6 12 11 12 12 7 36 9 66 20 79 30 15 12 6 12 0 12-5 12-11 12-12 5-42 7-36 15-24 5-24 11-18 4-18-2-42-17-30-4-36-8-36-4-11 6-17 18-8 23-5 25 3 18 8 19 36 55 12 13 12 9 108 52 12 8 22 24 8 6 24 7 18 12 12 6 12 1 12-3 24-18 12-7 12-2 6 0 6 3 6 7 6 14 6 8 12 5 18 5 18 6 18 14 10 14 5 18-15 0 0-6-60 0 0-6-60 0 0-6-72 0 0-6-72 0 0-6-6 0 0-6-72 0 0-6-96 0 0-6-102 0 0-6-6 0 0-6-138 0 0-6-6 0 0-6-6 0 0-6-6 0 0-6-6 0 0-6-6 0 0-6 6 0 0-6 6 0 0-36 6 0 0-6 6 0 0-6 6 0 0-6 6 0 0-6 6 0 0-30 6 0 0-6 6 0 0-66 6 0 0-6 6 0 0-6 6 0 0-6 36 0 0-24-6 0 0-48-6 0 0-12-6 0 0-6-12 0 0 6-6 0 0 6-84 0 0 6-30 0 0 6-12 0 0-6-36 0 0 6-18 0 0 6-6 0 0 6-6 0 0 6-6 0 0 12-6 0 0 60-6 0 0 6-6 0 0 18 6 0 0 12-6 0 0 6-6 0 0 6-6 0 0 6-12 0 0 6-6 0 0 6-12 0 0 6-12 0 0 6-6 0 0 6-6 0 0 6-6 0 0 6-6 0 0 6-6 0 0-6-36 0 0 6-12 0 0 6-24 0 0 6-18 0 0 6-30 0 0 6-18 0 0 6-24 0 0 6-18 0 0-6-6 0 0-6-6 0 0-6-6 0 0-6-6 0 0-6-6 0 0-6-36 0 0-6-12 0 0-6-6 0 0-6-6 0 0-6-6 0 0-6-6 0 0-6-6 0 0-6-6 0 0-6-6 0 0-6-6 0 0-24-6 0 0-18-6 0 0-12-6 0 0-6-6 0 0-12-6 0 0-6-6 0 0-6-6 0 0-6-6 0 0-12-6 0 0-6-6 0 0-6-6 0 0-6-6 0 0-12-6 0 0-6-6 0 0-6-6 0 0-48-6 0 0-30-6 0 0-6 6 0 0-138 6 0 0-54 6 0 0-12 6 0 0-6 6 0 0-6 6 0 0-6 6 0 0-48-6 0 0-6-6 0 0-6-6 0 0-42 6 0 0-6 6 0 0-24-6 0 0-6 6 0 0-12 6 0 0-12 6 0 0-6 6 0 0-6 6 0 0-6 6 0 0-6 6 0 0-6 6 0 0-6 6 0 0-6 6 0 0-6 12 0 0-6 6 0 0-6 12 0 0-6 12 0 0-6 12 0 0-6 6 0 0-6 12 0 0-6 6 0 0-6 12 0 0-6 6 0 0-1 10 25 8 12 12 15 30 31 5 8 3 12-1 12-4 12-9 17-12 19-24 29-36 31-12 15-6 15-9 42-10 30-7 18-21 42-3 18 4 60 3 24-12 24-6 24-3 24 1 12 7 18 8 11 9 7 27 14 18 5 42 3 48 13 12 1 12-2 36-9 18-4 36 0 12-2 17-7 10-6 11-12 2-6 0-6-7-18 0-6 3-8 6-3 6 0 6 2 24 19 12 3 12-3 18-9 12-8 11-11 19-25 7-17 7-30 0-18-13-36-3-18 2-18 6-12 6-7 6-4 12-4 12 1 24 5 12-2 8-7 33-36 5-12-1-6-4-12-25-42-16-34-6-9-12-9-24-12-36-29-18-19-31-38-41-36-16-18-6-12-4-12-3-24 3-24 8-18 0 6 6 0 0 6 6 0 0 6 6 0 0 6 12 0 0 6 6 0 0 6 72 0 0-6 6 0 0-6 12 0 0 6 6 0 0 6 6 0 0 6 18 0 0-12-12 0 0-6-6 0 0-6-6 0 0-6-6 0 0-22 54 40 30 33 12 7 18 6 18-2 2 4 7 6 23 12 22 6 18 0 42-6 17-6 7-6 4-6 1-6-2-6-10-12-29-24-12-7-12-4-6 3-32 20-28 23-12 6-6-10-2-7-4-30-17-84-1-6 6 0 0-6 6 0 0 6 6 0 0 6 6 0 0 6 6 0 0 6 12 0 0-6 24 0 0-6 6 0 0-6 12 0 0 6 6 0 0 6 60 0 0 6 6 0 0 6 6 0 0 6 6 0 0 6 6 0 0 6 6 0 0 6 6 0 0 6 6 0 0 6 30 0 0-6 6 0 0-6 18 0 0-6 12 0 0-6 6 0 0-6 18 0 0 6 6 0 0 6 6 0 0 6 6 0 0 6 6 0 0 6 6 0 0 18 6 0 0 6 6 0 0 6 6 0 0 12 24 0 0 6 6 0 0 6 6 0 0 6 6 0 0 54-6 0 0 6-6 0 0 12-6 0 0 12 6 0 0 6 6 0 0 6 6 0 0 18 6 0 0 6 6 0 0 18 6 0 0 6 6 0 0 18 6 0 0 18 6 0 0 12 6 0 0 12 6 0 0 12 6 0 0 6 6 0 0 6 6 0 0 6 6 0 0 12 6 0 0 6 6 0 0 6 6 0 0 12 6 0 0 6 6 0 0 6 30 0 0-6 6 0 0-6 6 0 0-6 6 0 0-6 6 0 0-90 6 0 0-30-6 0 0-24-6 0 0-18-6 0 0-18-6 0 0-12-6 0 0-12-6 0 0-12-6 0 0-18-6 0 0-12-6 0 0-18-6 0 0-18-6 0 0-24-6 0 0-12-6 0 0-30-6 0 0-30-6 0 0-48 6 0 0-6 6 0 0-6 6 0 0-18 6 0 0-18 6 0 0-6 6 0 0-12 6 0 0-6 6 0 0-6 6 0 0-6 6 0 0-6 6 0 0-6 12 0 0-6 6 0 0-6 12 0 0-6 6 0 0-2 7 14 3 18 3 6 14 18 9 18 4 6 20 7 18 0 6-2 14-11 17-36 11-13 12-9 18-7 18 0 36 3 24-3 6-1zM1167 384l-2 7 2 8 6 5 6-1 3-6 0-6-2-6-7-3zM1311 467l-3 2-3 6 3 6 9 7 18 3 12-2 5-2 1-2 1-4-1-1-18-12-12-3zM1413 714l-6 3-4 4-4 12 2 6 6 3 6 1 6-1 6-3 3-6 0-6-3-6-6-5zM1335 763l-18 4-30 12-36 10-48 6-10 4-6 6-2 6 3 12 28 36 7 12 10 26 6 8 6 3 18 2 12 0 12-4 9-5 7-6 7-12 8-18 5-6 24-12 6-12 4-18 1-12 0-12-3-12-6-12-8-6z"/>
<path fill="#00cfff" d="M1874 169l7-2 18 4 12-1 6 3 9 8 2 6 0 6-11 18-3 12 0 12 9 24 6 23 6 3 6 1 0 595-24-2-24-7-12-8-25-23-38-24-2-6 3-18-2-12-4-6-10-9-12-5-36-6-24-7-12-2-30 4-30 2-36 5-24 7-54-1-36 7-35 5-7 6-3 6-3 12-2 18 0 18 2 12 3 6 9 12 12 10 12 5 54 15 102 36 24 11 10 7 7 12 1 12-4 12-8 8-12 6-42 7-36 16-24 4-24 11-18 4-12-1-12-3-24-10-12-4-30-4-36-9-36-4-12 6-20 21-9 30-3 18 1 12 3 12 10 21 32 51 11 12 17 13 21 11 81 33 18 12 21 21 7 6 26 7 18 13 12 5 12 2 12-4 24-18 12-7 6-2 12 1 6 2 5 7 7 15 6 7 12 5 18 5 18 7 13 9 6 6 8 12 6 18-15 0 0-6-60 0 0-6-60 0 0-6-72 0 0-6-72 0 0-6-6 0 0-6-72 0 0-6-96 0 0-6-102 0 0-6-6 0 0-6-138 0 0-6-6 0 0-6-6 0 0-6-6 0 0-6-6 0 0-6-6 0 0-6 6 0 0-6 6 0 0-36 6 0 0-6 6 0 0-6 6 0 0-6 6 0 0-6 6 0 0-30 6 0 0-6 6 0 0-66 6 0 0-6 6 0 0-6 6 0 0-6 36 0 0-24-6 0 0-48-6 0 0-12-6 0 0-6-12 0 0 6-6 0 0 6-84 0 0 6-30 0 0 6-12 0 0-6-36 0 0 6-18 0 0 6-6 0 0 6-6 0 0 6-6 0 0 12-6 0 0 60-6 0 0 6-6 0 0 18 6 0 0 12-6 0 0 6-6 0 0 6-6 0 0 6-12 0 0 6-6 0 0 6-12 0 0 6-12 0 0 6-6 0 0 6-6 0 0 6-6 0 0 6-6 0 0 6-6 0 0-6-36 0 0 6-12 0 0 6-24 0 0 6-18 0 0 6-30 0 0 6-18 0 0 6-24 0 0 6-18 0 0-6-6 0 0-6-6 0 0-6-6 0 0-6-6 0 0-6-6 0 0-6-36 0 0-6-12 0 0-6-6 0 0-6-6 0 0-6-6 0 0-6-6 0 0-6-6 0 0-6-6 0 0-6-6 0 0-6-6 0 0-24-6 0 0-18-6 0 0-12-6 0 0-6-6 0 0-12-6 0 0-6-6 0 0-6-6 0 0-6-6 0 0-12-6 0 0-6-6 0 0-6-6 0 0-6-6 0 0-12-6 0 0-6-6 0 0-6-6 0 0-48-6 0 0-30-6 0 0-6 6 0 0-138 6 0 0-54 6 0 0-12 6 0 0-6 6 0 0-6 6 0 0-6 6 0 0-48-6 0 0-6-6 0 0-6-6 0 0-42 6 0 0-6 6 0 0-24-6 0 0-6 6 0 0-12 6 0 0-12 6 0 0-6 6 0 0-6 6 0 0-6 6 0 0-6 6 0 0-6 6 0 0-6 6 0 0-6 6 0 0-6 12 0 0-6 6 0 0-6 12 0 0-6 12 0 0-6 12 0 0-6 6 0 0-6 12 0 0-6 6 0 0-6 12 0 0-1 18 36 12 16 30 33 4 12-3 12-5 12-12 18-14 19-24 24-42 29-5 6-3 6-2 48-6 30-12 36-24 48 4 42 0 36-2 12-7 18-8 60 3 18 7 18 7 9 12 8 30 13 18 4 42 2 48 13 24-1 54-12 36-1 12-2 28-9 26-12 24-5 6-3 42-30 18-16 24-30 19-54 1-12-1-6-16-30-3-12 0-18 5-12 7-7 12-5 12-1 24 2 12-2 6-4 40-37 4-6 4-12-1-6-5-12-26-42-19-36-9-12-12-10-30-18-30-23-15-15-33-40-36-32-16-18-7-12-4-12-3-24 2-18 9-18 1 0 0 6 6 0 0 6 6 0 0 6 12 0 0 6 6 0 0 6 72 0 0-6 6 0 0-6 12 0 0 6 6 0 0 6 6 0 0 6 18 0 0-12-12 0 0-6-6 0 0-6-6 0 0-6-6 0 0-15 48 32 12 11 24 27 24 16 12 4 18 3 36 11 18 3 12 0 48-8 12-5 9-7 4-6 2-6-2-6-13-15-48-39-2-6 3-12 0-6-2-6-5-5-6-2-6 2-4 5-1 6 5 13 4 5 1 6-3 6-14 12-20 12-16 13-6 3-6 1-6-4-4-7-16-78-4-24 0-18 6 0 0 6 6 0 0 6 6 0 0 6 6 0 0 6 12 0 0-6 24 0 0-6 6 0 0-6 12 0 0 6 6 0 0 6 60 0 0 6 6 0 0 6 6 0 0 6 6 0 0 6 6 0 0 6 6 0 0 6 6 0 0 6 6 0 0 6 30 0 0-6 6 0 0-6 18 0 0-6 12 0 0-6 6 0 0-6 18 0 0 6 6 0 0 6 6 0 0 6 6 0 0 6 6 0 0 6 6 0 0 18 6 0 0 6 6 0 0 6 6 0 0 12 24 0 0 6 6 0 0 6 6 0 0 6 6 0 0 54-6 0 0 6-6 0 0 12-6 0 0 12 6 0 0 6 6 0 0 6 6 0 0 18 6 0 0 6 6 0 0 18 6 0 0 6 6 0 0 18 6 0 0 18 6 0 0 12 6 0 0 12 6 0 0 12 6 0 0 6 6 0 0 6 6 0 0 6 6 0 0 12 6 0 0 6 6 0 0 6 6 0 0 12 6 0 0 6 6 0 0 6 30 0 0-6 6 0 0-6 6 0 0-6 6 0 0-6 6 0 0-90 6 0 0-30-6 0 0-24-6 0 0-18-6 0 0-18-6 0 0-12-6 0 0-12-6 0 0-12-6 0 0-18-6 0 0-12-6 0 0-18-6 0 0-18-6 0 0-24-6 0 0-12-6 0 0-30-6 0 0-30-6 0 0-48 6 0 0-6 6 0 0-6 6 0 0-18 6 0 0-18 6 0 0-6 6 0 0-12 6 0 0-6 6 0 0-6 6 0 0-6 6 0 0-6 6 0 0-6 12 0 0-6 6 0 0-6 12 0 0-6 4 0 7 12 4 18 2 6 13 16 16 26 20 8 18 0 6-2 14-12 17-36 11-12 12-9 18-7 18-1 36 3 24-3 6-1zM1305 467l-3 2-2 6 4 6 13 8 12 3 12 1 12-3 3-3 2-6-5-5-24-11-12-2zM1407 713l-13 14-7 12 0 6 8 5 12 2 12 0 12-3 5-4 2-6 0-6-6-12-6-6-7-3-6-1zM1347 751l-24 7-30 14-18 6-30 6-36 4-18 4-14 7-4 6-1 6 4 12 33 38 9 16 9 24 6 9 6 3 6 1 18 0 18-2 14-5 10-6 11-12 7-18 6-7 6-1 4 2 9 12 9 6 8-1 4-5 0-12-6-30 4-30-1-18-7-33-3-3zM1756 805l5-4 6-1 12 1 23 10 7 6-2 6-7 12-14 12-7 2-12-1-12-7-6-12 0-12zM828 1015l3-4 6 2 2 2 0 6-2 2-6-1z"/>
<path fill="#00d4ff" d="M1875 169l6-1 18 4 12-1 6 2 8 8 3 6-1 6-12 18-3 12-1 12 10 24 4 18 3 6 7 4 6 1 0 583-24-3-18-6-12-7-27-20-21-13-10-11-5-24-6-12-9-9-12-6-72-19-36 6-30 2-36 6-24 6-48-1-42 5-18 0-7-2-10-6-7-13-12-5-22-24-14-6-12 1-30 25-6 2-18 1-72 34-36 8-42 3-18 3-28 7-9 6 1 6 7 12 35 32 13 16 7 12 10 27 6 10 6 4 6 1 36-2 17-4 13-6 24-18 6-3 24 4 6-1 6-4 8-14 3-12-2-12-7-18 2-24 0-36 8-5 18-3 18 0 18 3 8 5 5 12 1 54 2 12 8 12 12 12 18 10 51 14 117 43 12 5 12 9 6 9 2 12-4 12-10 9-12 4-24 2-12 2-36 17-24 6-24 9-12 4-12 0-12-1-36-14-30-5-33-9-39-6-12 2-14 10-11 12-5 8-10 40-1 12 3 18 8 19 32 53 16 18 18 13 22 11 86 33 12 8 27 25 27 8 18 13 12 5 12 1 12-3 24-19 12-7 6-1 12 0 6 3 5 6 7 15 6 7 12 5 18 5 18 7 13 9 6 6 8 12 6 18-15 0 0-6-60 0 0-6-60 0 0-6-72 0 0-6-72 0 0-6-6 0 0-6-72 0 0-6-96 0 0-6-102 0 0-6-6 0 0-6-138 0 0-6-6 0 0-6-6 0 0-6-6 0 0-6-6 0 0-6-6 0 0-6 6 0 0-6 6 0 0-36 6 0 0-6 6 0 0-6 6 0 0-6 6 0 0-6 6 0 0-30 6 0 0-6 6 0 0-66 6 0 0-6 6 0 0-6 6 0 0-6 36 0 0-24-6 0 0-48-6 0 0-12-6 0 0-6-12 0 0 6-6 0 0 6-84 0 0 6-30 0 0 6-12 0 0-6-36 0 0 6-18 0 0 6-6 0 0 6-6 0 0 6-6 0 0 12-6 0 0 60-6 0 0 6-6 0 0 18 6 0 0 12-6 0 0 6-6 0 0 6-6 0 0 6-12 0 0 6-6 0 0 6-12 0 0 6-12 0 0 6-6 0 0 6-6 0 0 6-6 0 0 6-6 0 0 6-6 0 0-6-36 0 0 6-12 0 0 6-24 0 0 6-18 0 0 6-30 0 0 6-18 0 0 6-24 0 0 6-18 0 0-6-6 0 0-6-6 0 0-6-6 0 0-6-6 0 0-6-6 0 0-6-36 0 0-6-12 0 0-6-6 0 0-6-6 0 0-6-6 0 0-6-6 0 0-6-6 0 0-6-6 0 0-6-6 0 0-6-6 0 0-24-6 0 0-18-6 0 0-12-6 0 0-6-6 0 0-12-6 0 0-6-6 0 0-6-6 0 0-6-6 0 0-12-6 0 0-6-6 0 0-6-6 0 0-6-6 0 0-12-6 0 0-6-6 0 0-6-6 0 0-48-6 0 0-30-6 0 0-6 6 0 0-138 6 0 0-54 6 0 0-12 6 0 0-6 6 0 0-6 6 0 0-6 6 0 0-48-6 0 0-6-6 0 0-6-6 0 0-42 6 0 0-6 6 0 0-24-6 0 0-6 6 0 0-12 6 0 0-12 6 0 0-6 6 0 0-6 6 0 0-6 6 0 0-6 6 0 0-6 6 0 0-6 6 0 0-6 6 0 0-6 12 0 0-6 6 0 0-6 12 0 0-6 12 0 0-6 12 0 0-6 6 0 0-6 12 0 0-6 6 0 0-6 4 0 26 49 12 17 20 24 1 6-4 12-11 18-13 18-17 18-14 12-16 11-18 9-26 10-4 6 9 18 4 12 3 12 0 18-3 24-8 30-7 18-16 30-5 12 5 36 0 30-4 18-8 18 0 24-5 42 4 24 7 18 6 7 12 8 30 11 24 4 42 3 48 11 24-1 54-11 46-2 44-10 12 0 24 4 6-1 6-5 17-24 37-35 27-31 29-66 1-12-2-6-19-24-5-12-1-12 4-12 5-6 9-5 12-2 24 1 18-6 52-42 5-6 1-6 0-6-6-12-31-48-24-42-9-12-18-14-54-36-12-12-33-40-39-35-12-14-9-17-4-24 0-18 5-12 5-6 3 0 0 6 6 0 0 6 12 0 0 6 6 0 0 6 72 0 0-6 6 0 0-6 12 0 0 6 6 0 0 6 6 0 0 6 18 0 0-12-12 0 0-6-6 0 0-6-6 0 0-6-6 0 0-8 48 29 12 11 30 33 24 17 6 1 18 0 42 9 24 1 48-7 12-5 12-9 5-6 2-6-2-6-10-12-46-42-4-6-1-18-2-6-8-9-6-2-6 1-4 4-3 6 1 12 5 12 0 6-2 6-9 8-24 14-12 10-6 3-6-1-4-4-2-6-3-18-13-48-3-24 1-24 0 6 6 0 0 6 6 0 0 6 6 0 0 6 12 0 0-6 24 0 0-6 6 0 0-6 12 0 0 6 6 0 0 6 60 0 0 6 6 0 0 6 6 0 0 6 6 0 0 6 6 0 0 6 6 0 0 6 6 0 0 6 6 0 0 6 30 0 0-6 6 0 0-6 18 0 0-6 12 0 0-6 6 0 0-6 18 0 0 6 6 0 0 6 6 0 0 6 6 0 0 6 6 0 0 6 6 0 0 18 6 0 0 6 6 0 0 6 6 0 0 12 24 0 0 6 6 0 0 6 6 0 0 6 6 0 0 54-6 0 0 6-6 0 0 12-6 0 0 12 6 0 0 6 6 0 0 6 6 0 0 18 6 0 0 6 6 0 0 18 6 0 0 6 6 0 0 18 6 0 0 18 6 0 0 12 6 0 0 12 6 0 0 12 6 0 0 6 6 0 0 6 6 0 0 6 6 0 0 12 6 0 0 6 6 0 0 6 6 0 0 12 6 0 0 6 6 0 0 6 30 0 0-6 6 0 0-6 6 0 0-6 6 0 0-6 6 0 0-90 6 0 0-30-6 0 0-24-6 0 0-18-6 0 0-18-6 0 0-12-6 0 0-12-6 0 0-12-6 0 0-18-6 0 0-12-6 0 0-18-6 0 0-18-6 0 0-24-6 0 0-12-6 0 0-30-6 0 0-30-6 0 0-48 6 0 0-6 6 0 0-6 6 0 0-18 6 0 0-18 6 0 0-6 6 0 0-12 6 0 0-6 6 0 0-6 6 0 0-6 6 0 0-6 6 0 0-6 12 0 0-6 6 0 0-6 12 0 0-6 9 12 6 24 15 18 15 24 9 5 12 4 18-1 6-2 15-12 17-36 16-17 6-4 18-7 18 0 36 3 24-3 6-2zM1311 462l-18 7-1 6 16 12 15 6 18 2 12-2 7-6 0-6-5-6-26-12zM1757 811l4-3 6-3 6 0 16 6 6 6 2 6-1 6-3 6-5 6-9 4-12 0-6-3-6-7-2-6 1-12z"/>
<path fill="#00d9ff" d="M1877 169l4-1 18 4 12-1 6 3 8 7 2 6-1 6-12 18-4 12-1 12 1 6 9 18 4 18 3 6 8 6 7 1 0 571-18-2-18-6-12-6-28-18-20-11-7-7-11-30-9-12-9-7-12-5-72-22-36 9-30 2-36 6-24 7-54-2-42 4-12-3-6-3-4-4-8-13-18-11-24-18-12-3-6 0-9 3-27 19-27 5-15 9-21 9-21 11-24 9-30 5-72 4-42-4-6-3-6-7-36-46-19-29-23-38-12-16-24-20-36-20-12-9-39-47-51-48-10-18-4-18 0-18 2-9 6-9 6 0 0 6 12 0 0 6 6 0 0 6 72 0 0-6 6 0 0-6 12 0 0 6 6 0 0 6 6 0 0 6 18 0 0-12-12 0 0-6-6 0 0-6-6 0 0-5 24 12 18 12 12 11 30 34 12 11 12 7 30 0 36 6 18 1 54-8 9-3 12-6 14-12 3-6-3-6-39-36-17-18-4-6-5-24-6-9-6-5-6-1-6 1-8 8-2 12 6 18 0 6-4 6-10 9-19 9-17 12-6-5-19-67-2-18 2-24 1 0 0 6 6 0 0 6 6 0 0 6 12 0 0-6 24 0 0-6 6 0 0-6 12 0 0 6 6 0 0 6 60 0 0 6 6 0 0 6 6 0 0 6 6 0 0 6 6 0 0 6 6 0 0 6 6 0 0 6 6 0 0 6 30 0 0-6 6 0 0-6 18 0 0-6 12 0 0-6 6 0 0-6 18 0 0 6 6 0 0 6 6 0 0 6 6 0 0 6 6 0 0 6 6 0 0 18 6 0 0 6 6 0 0 6 6 0 0 12 24 0 0 6 6 0 0 6 6 0 0 6 6 0 0 54-6 0 0 6-6 0 0 12-6 0 0 12 6 0 0 6 6 0 0 6 6 0 0 18 6 0 0 6 6 0 0 18 6 0 0 6 6 0 0 18 6 0 0 18 6 0 0 12 6 0 0 12 6 0 0 12 6 0 0 6 6 0 0 6 6 0 0 6 6 0 0 12 6 0 0 6 6 0 0 6 6 0 0 12 6 0 0 6 6 0 0 6 30 0 0-6 6 0 0-6 6 0 0-6 6 0 0-6 6 0 0-90 6 0 0-30-6 0 0-24-6 0 0-18-6 0 0-18-6 0 0-12-6 0 0-12-6 0 0-12-6 0 0-18-6 0 0-12-6 0 0-18-6 0 0-18-6 0 0-24-6 0 0-12-6 0 0-30-6 0 0-30-6 0 0-48 6 0 0-6 6 0 0-6 6 0 0-18 6 0 0-18 6 0 0-6 6 0 0-12 6 0 0-6 6 0 0-6 6 0 0-6 6 0 0-6 6 0 0-6 12 0 0-6 6 0 0-6 12 0 0-3 7 9 6 24 17 19 14 23 10 6 12 3 18 0 6-2 16-13 16-36 16-17 6-3 18-8 18 0 36 3 24-3 7-2 11-8zM1299 462l-19 7 0 6 23 12 26 8 12 2 12-1 6-3 3-6 0-6-4-6-25-12-16-3zM969 415l0-2 4 2zM579 463l4 0 38 72 5 12 1 12-4 12-11 18-15 18-12 11-30 20-42 17-3 6 1 6 12 18 5 12 3 12 1 18-2 24-7 30-22 48-4 12 4 36 0 24-3 18-9 24 0 24-5 48 3 18 4 12 6 12 6 6 22 12 22 6 20 3 42 1 54 12 24-2 54-10 42-1 42-6 12 1 30 7 6 0 6-3 6-6 21-32 57-64 18-37 18-27 12-12 12-5 7-5-1-7-6-1-18-1-12-4-12-8-6-7-4-8-1-12 5-11 6-5 12-3 24-1 12-3 18-10 30-23 18-7 12-2 6 1 6 5 12 23 11 12 37 24 18 17 8 13 11 30 7 12 10 6 6 0 36-5 29-7 31-15 30-4 9-5 6-6 14-24 4-12 0-6-9-20-2-10-2-18 2-12 4-6 10-5 6-2 12 1 12 6 5 6 2 6 1 12-3 30 2 12 8 12 20 18 9 6 14 6 50 13 48 21 78 28 12 8 7 8 3 6-1 12-3 6-6 5-6 3-42 6-36 17-24 7-30 11-12 2-18-2-36-13-30-5-30-9-36-6-12 0-6 1-12 8-18 20-11 33-3 18 1 12 3 18 8 18 33 54 17 18 18 13 24 11 66 22 18 7 12 8 25 23 5 3 24 6 18 13 12 4 12 2 12-4 24-18 12-7 6-2 12 0 6 3 5 6 7 15 6 7 12 6 30 8 6 3 12 9 7 6 8 12 5 18-14 0 0-6-60 0 0-6-60 0 0-6-72 0 0-6-72 0 0-6-6 0 0-6-72 0 0-6-96 0 0-6-102 0 0-6-6 0 0-6-138 0 0-6-6 0 0-6-6 0 0-6-6 0 0-6-6 0 0-6-6 0 0-6 6 0 0-6 6 0 0-36 6 0 0-6 6 0 0-6 6 0 0-6 6 0 0-6 6 0 0-30 6 0 0-6 6 0 0-66 6 0 0-6 6 0 0-6 6 0 0-6 36 0 0-24-6 0 0-48-6 0 0-12-6 0 0-6-12 0 0 6-6 0 0 6-84 0 0 6-30 0 0 6-12 0 0-6-36 0 0 6-18 0 0 6-6 0 0 6-6 0 0 6-6 0 0 12-6 0 0 60-6 0 0 6-6 0 0 18 6 0 0 12-6 0 0 6-6 0 0 6-6 0 0 6-12 0 0 6-6 0 0 6-12 0 0 6-12 0 0 6-6 0 0 6-6 0 0 6-6 0 0 6-6 0 0 6-6 0 0-6-36 0 0 6-12 0 0 6-24 0 0 6-18 0 0 6-30 0 0 6-18 0 0 6-24 0 0 6-18 0 0-6-6 0 0-6-6 0 0-6-6 0 0-6-6 0 0-6-6 0 0-6-36 0 0-6-12 0 0-6-6 0 0-6-6 0 0-6-6 0 0-6-6 0 0-6-6 0 0-6-6 0 0-6-6 0 0-6-6 0 0-24-6 0 0-18-6 0 0-12-6 0 0-6-6 0 0-12-6 0 0-6-6 0 0-6-6 0 0-6-6 0 0-12-6 0 0-6-6 0 0-6-6 0 0-6-6 0 0-12-6 0 0-6-6 0 0-6-6 0 0-48-6 0 0-30-6 0 0-6 6 0 0-138 6 0 0-54 6 0 0-12 6 0 0-6 6 0 0-6 6 0 0-6 6 0 0-48-6 0 0-6-6 0 0-6-6 0 0-42 6 0 0-6 6 0 0-24-6 0 0-6 6 0 0-12 6 0 0-12 6 0 0-6 6 0 0-6 6 0 0-6 6 0 0-6 6 0 0-6 6 0 0-6 6 0 0-6 6 0 0-6 12 0 0-6 6 0 0-6 12 0 0-6 12 0 0-6 12 0 0-6 6 0 0-6 12 0zM1765 811l8-1 6 1 9 6 3 6-1 6-2 6-9 6-6 2-6-2-8-6-3-6 0-6 2-6z"/>
<path fill="#00deff" d="M1879 169l20 4 12-1 6 2 7 7 3 6-1 6-13 18-6 24 1 6 9 18 7 24 5 5 12 4 0 560-18-3-18-6-36-22-18-9-6-7-8-18-8-12-6-6-14-10-72-26-12-4-6 1-30 11-30 2-24 6-17 2-19 5-54-2-42 2-14-5-16-20-34-22-8-3-12-3-6 1-12 4-24 16-24 4-6 2-12 7-24 11-18 10-24 9-30 5-48 1-30-1-18-4-30-18-12-9-24-29-42-66-18-22-18-14-36-18-12-9-36-44-49-46-5-6-6-12-3-18 1-18 2-7 6-7 0 2 12 0 0 6 6 0 0 6 72 0 0-6 6 0 0-6 12 0 0 6 6 0 0 6 6 0 0 6 18 0 0-12-12 0 0-6-6 0 0-3 24 12 12 8 12 11 36 42 11 8 7 2 30-1 48 5 24-2 42-7 18-9 18-11 6-2 18 3 36 13 18 3 12-1 6-2 3-3 3-6-1-6-5-7-24-11-12-4-18-1-18 3-18 6-6-1-12-7-24-20-17-18-8-12-11-31-6-8-6-4-6-1-6 0-6 4-6 10 0 12 5 18-1 6-4 6-6 5-18 8-12 4-6-2-6-11-13-34-5-18 0-12 3-18 3 0 0 6 6 0 0 6 12 0 0-6 24 0 0-6 6 0 0-6 12 0 0 6 6 0 0 6 60 0 0 6 6 0 0 6 6 0 0 6 6 0 0 6 6 0 0 6 6 0 0 6 6 0 0 6 6 0 0 6 30 0 0-6 6 0 0-6 18 0 0-6 12 0 0-6 6 0 0-6 18 0 0 6 6 0 0 6 6 0 0 6 6 0 0 6 6 0 0 6 6 0 0 18 6 0 0 6 6 0 0 6 6 0 0 12 24 0 0 6 6 0 0 6 6 0 0 6 6 0 0 54-6 0 0 6-6 0 0 12-6 0 0 12 6 0 0 6 6 0 0 6 6 0 0 18 6 0 0 6 6 0 0 18 6 0 0 6 6 0 0 18 6 0 0 18 6 0 0 12 6 0 0 12 6 0 0 12 6 0 0 6 6 0 0 6 6 0 0 6 6 0 0 12 6 0 0 6 6 0 0 6 6 0 0 12 6 0 0 6 6 0 0 6 30 0 0-6 6 0 0-6 6 0 0-6 6 0 0-6 6 0 0-90 6 0 0-30-6 0 0-24-6 0 0-18-6 0 0-18-6 0 0-12-6 0 0-12-6 0 0-12-6 0 0-18-6 0 0-12-6 0 0-18-6 0 0-18-6 0 0-24-6 0 0-12-6 0 0-30-6 0 0-30-6 0 0-48 6 0 0-6 6 0 0-6 6 0 0-18 6 0 0-18 6 0 0-6 6 0 0-12 6 0 0-6 6 0 0-6 6 0 0-6 6 0 0-6 6 0 0-6 12 0 0-6 6 0 0-6 12 0 6 9 2 15 3 6 19 21 13 21 10 6 13 4 18 0 6-2 16-14 17-36 15-17 6-3 18-8 18 0 36 3 24-3 7-2 11-8zM567 469l10 0 14 24 16 42 3 12 0 12-4 12-6 12-19 24-26 20-42 22-6 6-2 6 2 10 10 20 5 12 3 18-1 18-2 18-7 24-21 54-1 12 3 30 0 24-2 12-10 30-1 24-5 42 2 18 4 18 6 12 11 11 18 10 24 6 18 2 48 2 54 10 24-1 54-10 72-4 12 0 12 2 30 11 6 0 6-3 12-12 22-36 52-60 19-36 9-12 16-18 24-18 4-6 0-6-2-4-6-4-36-10-12-9-5-9 0-6 3-6 8-5 24-2 24-9 16-8 20-15 12-7 12 0 8 4 7 6 13 18 8 8 6 4 30 12 18 12 6 6 8 12 16 43 6 7 6 3 12 0 60-11 36-13 30-7 16-10 14-16 12-11 12-6 12-1 12 6 25 16 13 6 58 16 48 23 78 29 8 4 6 6 4 9 0 9-4 6-8 5-30 3-12 2-39 20-22 6-23 9-18 3-18-1-36-13-30-5-24-8-36-7-18-1-12 4-18 16-10 15-9 30-3 18 2 24 5 18 33 57 18 21 12 11 12 7 28 12 68 20 12 5 12 8 16 15 14 10 18 3 6 3 18 12 12 5 12 1 12-3 24-19 12-7 6-2 12 1 6 2 5 6 7 16 6 7 12 5 30 9 6 2 12 9 7 6 8 12 5 18-14 0 0-6-60 0 0-6-60 0 0-6-72 0 0-6-72 0 0-6-6 0 0-6-72 0 0-6-96 0 0-6-102 0 0-6-6 0 0-6-138 0 0-6-6 0 0-6-6 0 0-6-6 0 0-6-6 0 0-6-6 0 0-6 6 0 0-6 6 0 0-36 6 0 0-6 6 0 0-6 6 0 0-6 6 0 0-6 6 0 0-30 6 0 0-6 6 0 0-66 6 0 0-6 6 0 0-6 6 0 0-6 36 0 0-24-6 0 0-48-6 0 0-12-6 0 0-6-12 0 0 6-6 0 0 6-84 0 0 6-30 0 0 6-12 0 0-6-36 0 0 6-18 0 0 6-6 0 0 6-6 0 0 6-6 0 0 12-6 0 0 60-6 0 0 6-6 0 0 18 6 0 0 12-6 0 0 6-6 0 0 6-6 0 0 6-12 0 0 6-6 0 0 6-12 0 0 6-12 0 0 6-6 0 0 6-6 0 0 6-6 0 0 6-6 0 0 6-6 0 0-6-36 0 0 6-12 0 0 6-24 0 0 6-18 0 0 6-30 0 0 6-18 0 0 6-24 0 0 6-18 0 0-6-6 0 0-6-6 0 0-6-6 0 0-6-6 0 0-6-6 0 0-6-36 0 0-6-12 0 0-6-6 0 0-6-6 0 0-6-6 0 0-6-6 0 0-6-6 0 0-6-6 0 0-6-6 0 0-6-6 0 0-24-6 0 0-18-6 0 0-12-6 0 0-6-6 0 0-12-6 0 0-6-6 0 0-6-6 0 0-6-6 0 0-12-6 0 0-6-6 0 0-6-6 0 0-6-6 0 0-12-6 0 0-6-6 0 0-6-6 0 0-48-6 0 0-30-6 0 0-6 6 0 0-138 6 0 0-54 6 0 0-12 6 0 0-6 6 0 0-6 6 0 0-6 6 0 0-48-6 0 0-6-6 0 0-6-6 0 0-42 6 0 0-6 6 0 0-24-6 0 0-6 6 0 0-12 6 0 0-12 6 0 0-6 6 0 0-6 6 0 0-6 6 0 0-6 6 0 0-6 6 0 0-6 6 0 0-6 6 0 0-6 12 0 0-6 6 0 0-6 12 0 0-6 12 0 0-6 12 0 0-6 6 0zM1398 781l9-5 6-1 6 2 5 4 4 6 0 12-3 7-6 7-6 2-6-2-9-8-3-12 0-6zM1764 817l3-2 6-1 8 3 4 6 0 6-3 6-9 4-6-1-4-3-3-6 0-6z"/>
<path fill="#00e3ff" d="M1868 175l7-5 6-1 18 4 12-1 6 3 6 6 3 6-1 6-10 12-6 12-4 12 0 12 10 18 7 24 7 7 12 3 0 549-24-4-20-9-40-27-22-27-14-12-10-6-86-33-6 1-30 13-30 3-60 13-54-2-36 0-12-2-6-3-18-21-27-17-15-7-12-1-12 2-30 17-30 7-18 10-18 7-24 14-18 6-24 4-36 1-36-2-24-5-36-20-12-9-24-28-42-65-18-24-18-14-30-12-13-7-6-6-33-42-50-47-7-13-2-12 1-18 2-6 4-6 7-6 1 0 0 6 6 0 0 6 72 0 0-6 6 0 0-6 12 0 0 6 6 0 0 6 6 0 0 6 18 0 0-9 18 11 16 16 20 27 12 14 6 4 12 4 30-2 42 3 29-2 43-8 30-14 12-4 24 3 42 11 18 2 6-2 6-6 1-6 0-6-4-6-10-6-23-10-12-3-24 0-30 4-12-5-12-9-15-13-10-12-7-12-15-36-7-8-6-4-6-2-6 0-6 3-8 11-2 12 6 24-2 8-6 6-6 3-18 3-8-2-4-4-6-10-12-27-3-19 3-18 6 0 0 6 12 0 0-6 24 0 0-6 6 0 0-6 12 0 0 6 6 0 0 6 60 0 0 6 6 0 0 6 6 0 0 6 6 0 0 6 6 0 0 6 6 0 0 6 6 0 0 6 6 0 0 6 30 0 0-6 6 0 0-6 18 0 0-6 12 0 0-6 6 0 0-6 18 0 0 6 6 0 0 6 6 0 0 6 6 0 0 6 6 0 0 6 6 0 0 18 6 0 0 6 6 0 0 6 6 0 0 12 24 0 0 6 6 0 0 6 6 0 0 6 6 0 0 54-6 0 0 6-6 0 0 12-6 0 0 12 6 0 0 6 6 0 0 6 6 0 0 18 6 0 0 6 6 0 0 18 6 0 0 6 6 0 0 18 6 0 0 18 6 0 0 12 6 0 0 12 6 0 0 12 6 0 0 6 6 0 0 6 6 0 0 6 6 0 0 12 6 0 0 6 6 0 0 6 6 0 0 12 6 0 0 6 6 0 0 6 30 0 0-6 6 0 0-6 6 0 0-6 6 0 0-6 6 0 0-90 6 0 0-30-6 0 0-24-6 0 0-18-6 0 0-18-6 0 0-12-6 0 0-12-6 0 0-12-6 0 0-18-6 0 0-12-6 0 0-18-6 0 0-18-6 0 0-24-6 0 0-12-6 0 0-30-6 0 0-30-6 0 0-48 6 0 0-6 6 0 0-6 6 0 0-18 6 0 0-18 6 0 0-6 6 0 0-12 6 0 0-6 6 0 0-6 6 0 0-6 6 0 0-6 6 0 0-6 12 0 0-6 6 0 0-6 7 0 7 6 3 6 3 18 22 22 12 20 10 6 14 5 18-1 6-2 17-14 16-36 11-12 10-8 18-7 18-1 42 3 24-4zM987 433l0-2 5 2zM567 469l18 29 7 25 4 24-1 12-3 12-10 18-16 18-17 14-36 22-6 6-6 12 2 12 8 18 5 18 1 30-7 36-20 60-1 12 3 30-1 24-2 12-9 30-7 66 0 18 5 18 5 12 12 14 17 10 21 6 22 2 54 1 48 9 24 0 66-11 66-2 12 2 12 3 30 15 6 0 6-2 12-12 29-47 49-60 24-40 19-20 23-19 7-11 1-6-2-5-6-6-18-10-30-11-3-4-1-6 4-4 18-1 12-4 42-19 18-14 6-2 10 2 6 6 16 24 10 9 6 3 30 5 12 5 12 9 12 17 14 42 5 6 11 5 6 0 30-8 42-5 60-19 16-9 20-19 12-8 12-3 12 1 42 19 60 16 18 9 24 14 84 32 8 5 5 6 2 6-1 6-8 8-36 2-12 5-36 20-48 15-12 2-18-1-36-13-30-5-24-9-36-7-18-1-12 3-6 4-12 13-12 18-10 30-3 18 2 24 4 18 35 60 21 24 11 10 12 7 35 13 55 15 18 6 12 8 22 19 8 5 18 3 12 6 12 9 12 5 12 1 12-4 11-7 14-12 11-7 6-1 12 0 6 3 4 5 8 16 6 7 18 7 24 7 6 2 12 9 6 6 9 12 5 18-14 0 0-6-60 0 0-6-60 0 0-6-72 0 0-6-72 0 0-6-6 0 0-6-72 0 0-6-96 0 0-6-102 0 0-6-6 0 0-6-138 0 0-6-6 0 0-6-6 0 0-6-6 0 0-6-6 0 0-6-6 0 0-6 6 0 0-6 6 0 0-36 6 0 0-6 6 0 0-6 6 0 0-6 6 0 0-6 6 0 0-30 6 0 0-6 6 0 0-66 6 0 0-6 6 0 0-6 6 0 0-6 36 0 0-24-6 0 0-48-6 0 0-12-6 0 0-6-12 0 0 6-6 0 0 6-84 0 0 6-30 0 0 6-12 0 0-6-36 0 0 6-18 0 0 6-6 0 0 6-6 0 0 6-6 0 0 12-6 0 0 60-6 0 0 6-6 0 0 18 6 0 0 12-6 0 0 6-6 0 0 6-6 0 0 6-12 0 0 6-6 0 0 6-12 0 0 6-12 0 0 6-6 0 0 6-6 0 0 6-6 0 0 6-6 0 0 6-6 0 0-6-36 0 0 6-12 0 0 6-24 0 0 6-18 0 0 6-30 0 0 6-18 0 0 6-24 0 0 6-18 0 0-6-6 0 0-6-6 0 0-6-6 0 0-6-6 0 0-6-6 0 0-6-36 0 0-6-12 0 0-6-6 0 0-6-6 0 0-6-6 0 0-6-6 0 0-6-6 0 0-6-6 0 0-6-6 0 0-6-6 0 0-24-6 0 0-18-6 0 0-12-6 0 0-6-6 0 0-12-6 0 0-6-6 0 0-6-6 0 0-6-6 0 0-12-6 0 0-6-6 0 0-6-6 0 0-6-6 0 0-12-6 0 0-6-6 0 0-6-6 0 0-48-6 0 0-30-6 0 0-6 6 0 0-138 6 0 0-54 6 0 0-12 6 0 0-6 6 0 0-6 6 0 0-6 6 0 0-48-6 0 0-6-6 0 0-6-6 0 0-42 6 0 0-6 6 0 0-24-6 0 0-6 6 0 0-12 6 0 0-12 6 0 0-6 6 0 0-6 6 0 0-6 6 0 0-6 6 0 0-6 6 0 0-6 6 0 0-6 6 0 0-6 12 0 0-6 6 0 0-6 12 0 0-6 12 0 0-6 12 0 0-6 6 0zM1406 787l7-3 4 3 0 6-4 4-6-2zM1765 823l2-3 6-1 7 4 1 6-7 6-3 0-4-2-3-4z"/>
<path fill="#00e8ff" d="M1868 175l7-4 6-1 18 3 12-1 6 3 6 6 2 6-1 6-14 18-6 18-1 12 11 18 7 24 8 8 12 4 0 538-24-4-12-5-42-32-28-23-19-12-55-22-36-17-6 2-18 10-12 5-12 3-21 1-21 6-36 6-90-3-12-3-6-4-18-19-24-16-18-7-12-1-17 5-25 15-30 6-18 10-18 6-24 14-18 7-24 3-30 1-36-3-24-4-12-5-24-13-18-14-24-29-60-89-7-7-10-6-31-10-12-7-34-43-50-47-9-13-1-12 2-12 6-12 8-6 0 6 72 0 0-6 6 0 0-6 2 0 10 2 0 4 6 0 0 6 6 0 0 6 18 0 0-5 18 11 17 18 25 36 7 6 11 5 12 0 24-4 42 2 24-1 47-8 31-13 12-3 24 2 48 11 12 1 6-1 6-5 2-4 0-12-3-6-10-6-25-11-12-3-24-2-24 3-12-1-23-16-11-12-12-18-18-42-8-9-6-4-12-3-6 1-8 9-5 12 0 12 7 24-2 6-4 4-12 5-12-1-6-3-6-6-12-21-6-20 1-12 5-12 0 6 12 0 0-6 24 0 0-6 6 0 0-6 12 0 0 6 6 0 0 6 60 0 0 6 6 0 0 6 6 0 0 6 6 0 0 6 6 0 0 6 6 0 0 6 6 0 0 6 6 0 0 6 30 0 0-6 6 0 0-6 18 0 0-6 12 0 0-6 6 0 0-6 18 0 0 6 6 0 0 6 6 0 0 6 6 0 0 6 6 0 0 6 6 0 0 18 6 0 0 6 6 0 0 6 6 0 0 12 24 0 0 6 6 0 0 6 6 0 0 6 6 0 0 54-6 0 0 6-6 0 0 12-6 0 0 12 6 0 0 6 6 0 0 6 6 0 0 18 6 0 0 6 6 0 0 18 6 0 0 6 6 0 0 18 6 0 0 18 6 0 0 12 6 0 0 12 6 0 0 12 6 0 0 6 6 0 0 6 6 0 0 6 6 0 0 12 6 0 0 6 6 0 0 6 6 0 0 12 6 0 0 6 6 0 0 6 30 0 0-6 6 0 0-6 6 0 0-6 6 0 0-6 6 0 0-90 6 0 0-30-6 0 0-24-6 0 0-18-6 0 0-18-6 0 0-12-6 0 0-12-6 0 0-12-6 0 0-18-6 0 0-12-6 0 0-18-6 0 0-18-6 0 0-24-6 0 0-12-6 0 0-30-6 0 0-30-6 0 0-48 6 0 0-6 6 0 0-6 6 0 0-18 6 0 0-18 6 0 0-6 6 0 0-12 6 0 0-6 6 0 0-6 6 0 0-6 6 0 0-6 6 0 0-6 12 0 0-6 6 0 0-5 12 6 6 23 4 6 20 18 12 19 9 5 15 5 18 0 6-2 18-15 4-12 12-24 10-12 10-7 18-8 18-1 42 4 24-5zM561 475l15 24 4 12 4 36-2 12-3 12-6 12-14 18-13 12-39 30-6 8-3 10 1 12 11 36 0 30-7 36-17 60 1 42-1 24-10 42-9 72 1 18 6 18 9 15 12 12 18 9 18 4 18 2 60-1 48 9 24-1 66-10 66 0 12 2 12 4 30 20 6 2 6-2 12-13 31-52 47-61 24-38 12-13 39-38 4-12-1-6-6-8-22-16-3-6 2-6 6-6 9-6 34-12 16-8 6 5 19 27 11 9 6 2 18-2 12 1 12 3 12 7 6 5 7 11 11 36 6 12 7 6 11 5 6-1 24-8 48-6 18-4 54-20 24-20 12-8 12-3 12 0 12 4 24 11 48 11 24 9 36 22 24 8 36 17 24 8 7 5 3 6 0 6-4 3-6 2-18-2-12 2-12 5-36 22-42 14-24 4-18-2-30-11-24-5-30-10-42-8-12-1-12 3-12 9-18 25-11 28-4 24 1 30 3 12 6 12 16 24 13 24 24 28 18 14 29 12 67 17 18 6 12 7 20 18 10 6 18 2 12 7 12 9 12 4 12 1 12-4 11-7 14-12 11-6 6-2 12 0 6 3 4 5 8 16 6 7 18 7 24 7 18 11 6 6 8 12 6 18-14 0 0-6-60 0 0-6-60 0 0-6-72 0 0-6-72 0 0-6-6 0 0-6-72 0 0-6-96 0 0-6-102 0 0-6-6 0 0-6-138 0 0-6-6 0 0-6-6 0 0-6-6 0 0-6-6 0 0-6-6 0 0-6 6 0 0-6 6 0 0-36 6 0 0-6 6 0 0-6 6 0 0-6 6 0 0-6 6 0 0-30 6 0 0-6 6 0 0-66 6 0 0-6 6 0 0-6 6 0 0-6 36 0 0-24-6 0 0-48-6 0 0-12-6 0 0-6-12 0 0 6-6 0 0 6-84 0 0 6-30 0 0 6-12 0 0-6-36 0 0 6-18 0 0 6-6 0 0 6-6 0 0 6-6 0 0 12-6 0 0 60-6 0 0 6-6 0 0 18 6 0 0 12-6 0 0 6-6 0 0 6-6 0 0 6-12 0 0 6-6 0 0 6-12 0 0 6-12 0 0 6-6 0 0 6-6 0 0 6-6 0 0 6-6 0 0 6-6 0 0-6-36 0 0 6-12 0 0 6-24 0 0 6-18 0 0 6-30 0 0 6-18 0 0 6-24 0 0 6-18 0 0-6-6 0 0-6-6 0 0-6-6 0 0-6-6 0 0-6-6 0 0-6-36 0 0-6-12 0 0-6-6 0 0-6-6 0 0-6-6 0 0-6-6 0 0-6-6 0 0-6-6 0 0-6-6 0 0-6-6 0 0-24-6 0 0-18-6 0 0-12-6 0 0-6-6 0 0-12-6 0 0-6-6 0 0-6-6 0 0-6-6 0 0-12-6 0 0-6-6 0 0-6-6 0 0-6-6 0 0-12-6 0 0-6-6 0 0-6-6 0 0-48-6 0 0-30-6 0 0-6 6 0 0-138 6 0 0-54 6 0 0-12 6 0 0-6 6 0 0-6 6 0 0-6 6 0 0-48-6 0 0-6-6 0 0-6-6 0 0-42 6 0 0-6 6 0 0-24-6 0 0-6 6 0 0-12 6 0 0-12 6 0 0-6 6 0 0-6 6 0 0-6 6 0 0-6 6 0 0-6 6 0 0-6 6 0 0-6 6 0 0-6 12 0 0-6 6 0 0-6 12 0 0-6 12 0 0-6 12 0zM1770 829l3-4 1 4-1 1z"/>
<path fill="#00edff" d="M1869 175l6-4 6-1 18 4 12-1 6 3 5 5 3 6-2 6-14 18-7 18-2 12 12 18 5 18 6 11 6 4 12 4 0 527-18-1-12-4-28-25-60-36-68-28-30-16-6 1-24 16-12 4-24 3-24 6-36 6-18 0-72-5-12-3-19-20-27-18-14-6-18-2-12 4-36 18-24 5-18 9-18 6-24 14-18 6-24 4-30 0-36-4-24-5-12-5-24-13-18-14-15-17-27-38-30-50-12-17-12-9-36-9-7-3-6-6-29-38-54-52-3-6-1-12 4-10 6-8 8-6 64 0 0-6 6 0 18 3 0 3 6 0 0 6 18 0 0-1 18 10 14 15 26 42 8 6 12 4 36-6 54 0 34-4 26-5 30-11 12-3 30 2 42 9 18 2 7-6 4-12-1-6-3-6-7-5-30-14-12-3-24-3-30 2-6-1-24-16-7-8-11-18-18-43-6-10-7-7 37 0 0 6 6 0 0 6 6 0 0 6 6 0 0 6 6 0 0 6 6 0 0 6 6 0 0 6 6 0 0 6 30 0 0-6 6 0 0-6 18 0 0-6 12 0 0-6 6 0 0-6 18 0 0 6 6 0 0 6 6 0 0 6 6 0 0 6 6 0 0 6 6 0 0 18 6 0 0 6 6 0 0 6 6 0 0 12 24 0 0 6 6 0 0 6 6 0 0 6 6 0 0 54-6 0 0 6-6 0 0 12-6 0 0 12 6 0 0 6 6 0 0 6 6 0 0 18 6 0 0 6 6 0 0 18 6 0 0 6 6 0 0 18 6 0 0 18 6 0 0 12 6 0 0 12 6 0 0 12 6 0 0 6 6 0 0 6 6 0 0 6 6 0 0 12 6 0 0 6 6 0 0 6 6 0 0 12 6 0 0 6 6 0 0 6 30 0 0-6 6 0 0-6 6 0 0-6 6 0 0-6 6 0 0-90 6 0 0-30-6 0 0-24-6 0 0-18-6 0 0-18-6 0 0-12-6 0 0-12-6 0 0-12-6 0 0-18-6 0 0-12-6 0 0-18-6 0 0-18-6 0 0-24-6 0 0-12-6 0 0-30-6 0 0-30-6 0 0-48 6 0 0-6 6 0 0-6 6 0 0-18 6 0 0-18 6 0 0-6 6 0 0-12 6 0 0-6 6 0 0-6 6 0 0-6 6 0 0-6 6 0 0-6 12 0 0-6 6-1 6 2 5 5 3 18 5 6 23 19 12 18 7 5 17 6 18-1 11-5 13-12 4-12 12-24 11-12 9-7 18-8 18 0 36 3 12-1 18-4zM1143 337l12 0-6 6-5 30 1 18 6 12 1 6-3 6-6 3-12 1-6-2-6-5-12-16-8-17 0-12 4-12 10 0 0-6 24 0 0-6 6 0zM549 481l6 0 12 24 4 24 1 24-5 18-10 18-15 18-35 31-9 11-4 12 1 12 9 36 0 24-6 36-16 60-1 12 2 30-1 30-10 42-11 60 0 24 6 24 10 17 12 12 12 8 18 6 24 3 36-3 24 0 18 2 30 6 12 1 90-12 54 1 12 2 13 5 35 27 6 3 6 0 6-4 6-9 30-56 0 57-6 0 0 6-6 0 0 18 6 0 0 12-6 0 0 6-6 0 0 6-6 0 0 6-12 0 0 6-6 0 0 6-12 0 0 6-12 0 0 6-6 0 0 6-6 0 0 6-6 0 0 6-6 0 0 6-6 0 0-6-36 0 0 6-12 0 0 6-24 0 0 6-18 0 0 6-30 0 0 6-18 0 0 6-24 0 0 6-18 0 0-6-6 0 0-6-6 0 0-6-6 0 0-6-6 0 0-6-6 0 0-6-36 0 0-6-12 0 0-6-6 0 0-6-6 0 0-6-6 0 0-6-6 0 0-6-6 0 0-6-6 0 0-6-6 0 0-6-6 0 0-24-6 0 0-18-6 0 0-12-6 0 0-6-6 0 0-12-6 0 0-6-6 0 0-6-6 0 0-6-6 0 0-12-6 0 0-6-6 0 0-6-6 0 0-6-6 0 0-12-6 0 0-6-6 0 0-6-6 0 0-48-6 0 0-30-6 0 0-6 6 0 0-138 6 0 0-54 6 0 0-12 6 0 0-6 6 0 0-6 6 0 0-6 6 0 0-48-6 0 0-6-6 0 0-6-6 0 0-42 6 0 0-6 6 0 0-24-6 0 0-6 6 0 0-12 6 0 0-12 6 0 0-6 6 0 0-6 6 0 0-6 6 0 0-6 6 0 0-6 6 0 0-6 6 0 0-6 6 0 0-6 12 0 0-6 6 0 0-6 12 0 0-6 12 0zM1044 835l21-2 12 3 20 17 8 6 14 5 36-1 18 5 6 4 8 11 16 48 6 7 18 8 6 0 18-9 12-3 48-2 18-5 48-19 30-23 12-6 12-2 12 1 30 12 42 9 24 7 18 10 24 18 26 9 31 18 8 6-1 6-22 10-30 23-12 5-36 12-18 4-12 0-12-2-26-10-28-5-30-11-42-9-12-2-12 3-12 9-12 15-7 12-12 30-4 24 0 30 2 12 6 12 17 24 16 30 24 27 18 13 30 12 30 8 42 9 12 4 12 7 28 22 20 3 24 15 17 6 7 0 15-6 23-18 10-6 6-2 12 0 6 3 4 5 9 18 5 5 17 7 25 7 18 11 6 6 8 12 5 18-13 0 0-6-60 0 0-6-60 0 0-6-72 0 0-6-72 0 0-6-6 0 0-6-72 0 0-6-96 0 0-6-102 0 0-6-6 0 0-6-138 0 0-6-6 0 0-6-6 0 0-6-6 0 0-6-6 0 0-6-6 0 0-6 6 0 0-6 6 0 0-36 6 0 0-6 6 0 0-6 6 0 0-6 6 0 0-6 6 0 0-30 6 0 0-6 6 0 0-66 6 0 0-6 6 0 0-6 6 0 0-6 36 0 0-24-6 0 0-48-6 0 0-12-6 0 0-6-12 0 0 6-6 0 0 6-84 0 0 6-30 0 0 6-12 0 0-6-36 0 0 6-18 0 0 6-5 0 32-42 27-40 46-44 8-12 2-12-3-6-23-18-3-6 1-6 4-6zM1655 973l10-2 3 2-3 5zM935 1039l4-5 0 5zM931 1045l2-3 0 3zM923 1057l4-6 0 6z"/>
<path fill="#00f2ff" d="M1869 175l6-4 6-1 18 4 12-1 6 3 5 5 2 6-1 6-15 18-8 18-3 12 13 18 5 18 8 12 6 5 12 3 0 516-24-3-18-18-12-9-30-12-41-20-55-22-36-21-6 1-18 15-18 8-24 3-24 6-36 6-18 0-78-8-6-3-21-21-17-12-16-8-18-3-18 4-36 19-24 5-18 9-18 6-24 14-18 6-24 3-30 0-24-3-30-6-30-13-24-16-15-17-33-44-14-22-16-33-12-16-6-5-6-3-30-4-12-4-36-46-23-21-27-30-1-6 3-8 6-7 12-8 12-4 18-3 36 0 18 2 0 4 13 0 11 5 12 7 6 6 9 12 21 40 6 6 12 5 12 0 30-8 54-1 43-6 17-3 30-11 12-2 30 0 48 11 12 1 6-2 4-6 2-12-1-6-3-6-8-6-30-14-18-5-18-2-30 1-6-2-22-14-6-6-7-12-13-30-9-24-7-12 28 0 0 6 6 0 0 6 6 0 0 6 6 0 0 6 6 0 0 6 6 0 0 6 6 0 0 6 6 0 0 6 30 0 0-6 6 0 0-6 18 0 0-6 12 0 0-6 6 0 0-6 18 0 0 6 6 0 0 6 6 0 0 6 6 0 0 6 6 0 0 6 6 0 0 18 6 0 0 6 6 0 0 6 6 0 0 12 24 0 0 6 6 0 0 6 6 0 0 6 6 0 0 54-6 0 0 6-6 0 0 12-6 0 0 12 6 0 0 6 6 0 0 6 6 0 0 18 6 0 0 6 6 0 0 18 6 0 0 6 6 0 0 18 6 0 0 18 6 0 0 12 6 0 0 12 6 0 0 12 6 0 0 6 6 0 0 6 6 0 0 6 6 0 0 12 6 0 0 6 6 0 0 6 6 0 0 12 6 0 0 6 6 0 0 6 30 0 0-6 6 0 0-6 6 0 0-6 6 0 0-6 6 0 0-90 6 0 0-30-6 0 0-24-6 0 0-18-6 0 0-18-6 0 0-12-6 0 0-12-6 0 0-12-6 0 0-18-6 0 0-12-6 0 0-18-6 0 0-18-6 0 0-24-6 0 0-12-6 0 0-30-6 0 0-30-6 0 0-48 6 0 0-6 6 0 0-6 6 0 0-18 6 0 0-18 6 0 0-6 6 0 0-12 6 0 0-6 6 0 0-6 6 0 0-6 6 0 0-6 6 0 0-6 12 0 0-2 9 2 3 3 4 15 6 6 20 14 6 6 10 16 8 6 18 7 18-1 11-6 13-11 17-37 10-12 9-7 12-6 12-2 48 3 12-1 18-3zM1119 349l12 1 6 9 4 32 8 18-6 5-6 1-12-6-18-20-5-10 0-12 3-6 4-6 4 0 0-4zM537 487l10 0 8 18 6 30-1 24-3 12-10 18-14 18-32 32-6 10-4 12 0 12 7 30 0 24-6 42-14 60-1 12 2 36-2 30-8 30-13 66 0 30 7 24-4 0 0-6-6 0 0-6-6 0 0-12-6 0 0-6-6 0 0-6-6 0 0-48-6 0 0-30-6 0 0-6 6 0 0-138 6 0 0-54 6 0 0-12 6 0 0-6 6 0 0-6 6 0 0-6 6 0 0-48-6 0 0-6-6 0 0-6-6 0 0-42 6 0 0-6 6 0 0-24-6 0 0-6 6 0 0-12 6 0 0-12 6 0 0-6 6 0 0-6 6 0 0-6 6 0 0-6 6 0 0-6 6 0 0-6 6 0 0-6 6 0 0-6 12 0 0-6 6 0 0-6 12 0zM1040 841l7-1 8 1 10 6 12 13 14 5 28 5 36-2 18 5 6 5 6 11 11 36 6 12 8 6 17 7 6 0 18-10 12-3 18-1 30 1 18-4 54-23 30-24 18-5 12 2 24 9 42 7 24 7 23 13 19 17 30 12 10 7 11 12-1 6-32 30-12 6-30 10-24 6-12 0-12-2-24-9-30-6-24-9-48-12-12-2-12 2-12 9-12 16-9 15-13 30-3 12-1 18 0 30 4 12 20 30 20 34 24 28 18 11 30 12 84 20 12 7 26 20 4 2 18 2 24 15 18 6 12-2 10-5 22-18 10-6 6-2 12 1 6 3 4 4 8 18 6 6 16 6 26 7 18 12 11 11 3 6 5 18-13 0 0-6-60 0 0-6-60 0 0-6-72 0 0-6-72 0 0-6-6 0 0-6-72 0 0-6-96 0 0-6-102 0 0-6-6 0 0-6-138 0 0-6-6 0 0-6-6 0 0-6-6 0 0-6-6 0 0-6-6 0 0-6 6 0 0-6 6 0 0-36 6 0 0-6 6 0 0-6 6 0 0-6 6 0 0-6 6 0 0-30 6 0 0-6 6 0 0-66 6 0 0-6 6 0 0-6 6 0 0-6 36 0 0-24-6 0 0-48-6 0 0-12-6 0 0-6-12 0 0 6-6 0 0 6-84 0 0 6-30 0 0 6-12 0 0-6-36 0 0 6-14 0 26-34 24-36 51-50 12-18 3-12-1-6-5-4-18-6-8-8 0-6zM471 1075l0-4 4 4zM918 1075l3-6 0 48-6 0 0 6-6 0 0 18 6 0 0 12-6 0 0 6-6 0 0 6-6 0 0 6-12 0 0 6-6 0 0 6-12 0 0 6-12 0 0 6-6 0 0 6-6 0 0 6-6 0 0 6-6 0 0 6-6 0 0-6-36 0 0 6-12 0 0 6-24 0 0 6-18 0 0 6-30 0 0 6-18 0 0 6-24 0 0 6-18 0 0-6-6 0 0-6-6 0 0-6-6 0 0-6-6 0 0-6-6 0 0-6-36 0 0-6-12 0 0-6-6 0 0-6-6 0 0-6-6 0 0-6-6 0 0-6-6 0 0-6-6 0 0-6-6 0 0-6-6 0 0-24-6 0 0-18-6 0 0-12-6 0 0-6-6 0 0-12-6 0 0-5 18 8 18 4 18 1 36-5 24 0 54 8 24-1 72-10 48 1 18 4 12 5 11 8 19 19 8 5 10 3 6-1 6-8zM477 1081l0-3 3 3zM483 1087l0-4 5 4z"/>
<path fill="#00f7ff" d="M1870 175l5-3 6-1 18 4 12-1 6 3 4 4 3 6-2 6-16 18-8 18-3 12 3 6 10 12 6 18 8 12 7 6 12 4 0 503-18-6-18-15-12-7-36-9-72-29-30-13-30-18-6 1-18 15-18 9-26 3-22 6-30 5-24 1-60-7-18-4-6-4-23-21-19-12-13-6-17-2-18 5-36 18-24 6-24 11-14 4-22 13-18 6-18 2-36 0-18-2-36-8-30-13-12-7-12-10-15-17-33-43-14-23-11-30-17-22-12-6-30-4-6-2-6-4-31-40-26-24-14-24 0-6 3-6 8-6 14-6 40-6 18 0 18 3 18 8 12 10 9 15 15 36 6 8 5 4 13 4 12-2 18-8 12-3 66-3 42-7 36-11 12-2 30 0 54 12 12 0 6-8 2-14-1-6-4-6-7-6-26-13-18-6-24-5-36-2-18-10-6-6-7-12-26-66 21 0 0 6 6 0 0 6 6 0 0 6 6 0 0 6 6 0 0 6 6 0 0 6 6 0 0 6 6 0 0 6 30 0 0-6 6 0 0-6 18 0 0-6 12 0 0-6 6 0 0-6 18 0 0 6 6 0 0 6 6 0 0 6 6 0 0 6 6 0 0 6 6 0 0 18 6 0 0 6 6 0 0 6 6 0 0 12 24 0 0 6 6 0 0 6 6 0 0 6 6 0 0 54-6 0 0 6-6 0 0 12-6 0 0 12 6 0 0 6 6 0 0 6 6 0 0 18 6 0 0 6 6 0 0 18 6 0 0 6 6 0 0 18 6 0 0 18 6 0 0 12 6 0 0 12 6 0 0 12 6 0 0 6 6 0 0 6 6 0 0 6 6 0 0 12 6 0 0 6 6 0 0 6 6 0 0 12 6 0 0 6 6 0 0 6 30 0 0-6 6 0 0-6 6 0 0-6 6 0 0-6 6 0 0-90 6 0 0-30-6 0 0-24-6 0 0-18-6 0 0-18-6 0 0-12-6 0 0-12-6 0 0-12-6 0 0-18-6 0 0-12-6 0 0-18-6 0 0-18-6 0 0-24-6 0 0-12-6 0 0-30-6 0 0-30-6 0 0-48 6 0 0-6 6 0 0-6 6 0 0-18 6 0 0-18 6 0 0-6 6 0 0-12 6 0 0-6 6 0 0-6 6 0 0-6 6 0 0-6 6 0 0-3 12 4 6 4 11 13 25 15 6 6 10 15 7 6 19 7 18-1 6-2 18-15 17-37 13-14 12-7 12-5 6-1 54 3 24-4zM1110 361l9-4 6 1 6 7 2 8 1 24 5 6-2 2-18-11-12-12-3-9 3-9zM537 493l0-6 7 18 3 12 4 24-1 18-5 18-6 12-41 48-7 12-4 12 0 12 5 24 1 18-4 36-15 78 2 48-2 24-24 96-2 24 4 24-5 0 0-12-6 0 0-6-6 0 0-6-6 0 0-48-6 0 0-30-6 0 0-6 6 0 0-138 6 0 0-54 6 0 0-12 6 0 0-6 6 0 0-6 6 0 0-6 6 0 0-48-6 0 0-6-6 0 0-6-6 0 0-42 6 0 0-6 6 0 0-24-6 0 0-6 6 0 0-12 6 0 0-12 6 0 0-6 6 0 0-6 6 0 0-6 6 0 0-6 6 0 0-6 6 0 0-6 6 0 0-6 6 0 0-6 12 0 0-6 6 0 0-6zM1089 877l60-3 12 0 12 5 7 10 12 36 6 12 11 9 18 7 6-1 18-9 12-4 18 0 30 4 18-3 54-25 30-25 18-5 12 1 25 9 41 6 24 8 18 10 24 23 19 7 10 6 6 6 3 6 0 6-7 12-10 12-8 6-13 6-30 10-18 4-12 0-12-2-24-9-30-6-24-9-54-15-12-1-6 2-12 9-12 16-11 19-13 30-4 24-1 36 3 12 21 30 16 30 5 6 26 30 18 11 30 11 84 18 12 7 24 19 6 2 18 2 24 15 18 6 12-2 11-5 22-18 9-5 6-2 12 0 6 3 3 4 9 18 6 6 42 13 18 12 10 11 4 6 5 18-13 0 0-6-60 0 0-6-60 0 0-6-72 0 0-6-72 0 0-6-6 0 0-6-72 0 0-6-96 0 0-6-102 0 0-6-6 0 0-6-138 0 0-6-6 0 0-6-6 0 0-6-6 0 0-6-6 0 0-6-6 0 0-6 6 0 0-6 6 0 0-36 6 0 0-6 6 0 0-6 6 0 0-6 6 0 0-6 6 0 0-30 6 0 0-6 6 0 0-66 6 0 0-6 6 0 0-6 6 0 0-6 36 0 0-24-6 0 0-48-6 0 0-12-6 0 0-6-12 0 0 6-6 0 0 6-84 0 0 6-30 0 0 6-12 0 0-6-36 0 0 6-9 0 51-72 57-54 15-18zM919 1081l2-3 0 39-6 0 0 6-6 0 0 18 6 0 0 12-6 0 0 6-6 0 0 6-6 0 0 6-12 0 0 6-6 0 0 6-12 0 0 6-12 0 0 6-6 0 0 6-6 0 0 6-6 0 0 6-6 0 0 6-6 0 0-6-36 0 0 6-12 0 0 6-24 0 0 6-18 0 0 6-30 0 0 6-18 0 0 6-24 0 0 6-18 0 0-6-6 0 0-6-6 0 0-6-6 0 0-6-6 0 0-6-6 0 0-6-36 0 0-6-12 0 0-6-6 0 0-6-6 0 0-6-6 0 0-6-6 0 0-6-6 0 0-6-6 0 0-6-6 0 0-6-6 0 0-24-6 0 0-18-6 0 0-12-6 0 0-6-6 0 0-7 12 4 18 3 18 0 36-6 18-1 24 2 36 6 96-11 42 1 18 3 12 5 12 8 24 25 8 4 10 2 8-2 6-6z"/>
<path fill="#00fcff" d="M1870 175l5-3 6-1 18 4 12-1 10 7 2 6-2 6-16 18-11 24-2 6 3 6 11 12 6 18 8 12 9 7 12 4 0 491-12-5-30-20-36-5-24-7-72-28-42-24-7 1-23 20-18 7-24 2-18 6-36 5-18-1-30-3 24 0 0-6 6 0 0-6 6 0 0-6 6 0 0-6 6 0 0-90 6 0 0-30-6 0 0-24-6 0 0-18-6 0 0-18-6 0 0-12-6 0 0-12-6 0 0-12-6 0 0-18-6 0 0-12-6 0 0-18-6 0 0-18-6 0 0-24-6 0 0-12-6 0 0-30-6 0 0-30-6 0 0-48 6 0 0-6 6 0 0-6 6 0 0-18 6 0 0-18 6 0 0-6 6 0 0-12 6 0 0-6 6 0 0-6 6 0 0-6 6 0 0-3 25 15 23 9 12 8 6 6 9 13 9 7 18 6 18 0 6-2 18-15 18-38 12-14 12-7 12-5 6-1 48 4 11-1 19-4zM1206 349l15 0 0 6 6 0 0 6 6 0 0 6 6 0 0 6 6 0 0 6 6 0 0 6 6 0 0 6 6 0 0 6 30 0 0-6 6 0 0-6 18 0 0-6 12 0 0-6 6 0 0-6 18 0 0 6 6 0 0 6 6 0 0 6 6 0 0 6 6 0 0 6 6 0 0 18 6 0 0 6 6 0 0 6 6 0 0 12 24 0 0 6 6 0 0 6 6 0 0 6 6 0 0 54-6 0 0 6-6 0 0 12-6 0 0 12 6 0 0 6 6 0 0 6 6 0 0 18 6 0 0 6 6 0 0 18 6 0 0 6 6 0 0 18 6 0 0 18 6 0 0 12 6 0 0 12 6 0 0 12 6 0 0 6 6 0 0 6 6 0 0 6 6 0 0 12 6 0 0 6 6 0 0 6 6 0 0 12 6 0 0 6 6 0 0 5-29-5-13-5-24-20-18-12-18-8-12-2-18 4-36 18-30 9-42 16-18 10-18 6-24 3-36-1-36-7-18-6-18-8-18-11-12-10-10-12-41-54-10-18-10-30-18-24-7-4-30-5-12-4-18-19-18-25-18-15-3-6-3-12 1-6 3-6 8-6 30-11 24-3 12 1 12 4 12 6 11 9 7 12 14 42 4 7 6 5 12 5 12-1 24-13 12-3 54-3 48-7 48-13 42-1 54 13 6 1 6-5 3-15-1-12-3-6-7-6-28-14-18-7-24-5-36-4-18-9-6-8-3-7-14-36zM1111 367l2-2 6-1 4 3 3 6-1 9-6 4-6-3-3-4-2-6zM525 493l5 0 6 18 6 36 0 12-3 12-5 12-12 18-27 33-8 15-3 12-1 12 5 24 0 12-19 120 3 48-1 24-25 90-4 24 1 18-2 0 0-6-6 0 0-6-6 0 0-48-6 0 0-30-6 0 0-6 6 0 0-138 6 0 0-54 6 0 0-12 6 0 0-6 6 0 0-6 6 0 0-6 6 0 0-48-6 0 0-6-6 0 0-6-6 0 0-42 6 0 0-6 6 0 0-24-6 0 0-6 6 0 0-12 6 0 0-12 6 0 0-6 6 0 0-6 6 0 0-6 6 0 0-6 6 0 0-6 6 0 0-6 6 0 0-6 6 0 0-6 12 0 0-6 6 0zM1099 883l50-4 18 2 6 5 2 3 16 42 6 10 12 8 18 6 6 0 18-10 18-4 18 2 24 6 24-3 23-15 31-15 24-21 6-3 12-3 12 1 24 8 24 2 24 5 18 6 14 8 14 12 9 12 24 12 7 6 3 6 0 12-7 12-5 6-11 7-30 11-18 5-18 1-18-3-18-8-30-5-24-10-24-6-36-12-12 0-6 3-6 6-12 18-12 22-14 31-5 24-1 36 2 12 26 36 16 29 24 29 20 14 30 12 88 18 12 7 24 18 6 2 18 2 24 15 18 5 12-1 12-6 21-18 9-5 6-2 12 0 6 3 3 4 9 18 6 6 15 6 27 7 18 12 10 11 4 6 5 18-13 0 0-6-60 0 0-6-60 0 0-6-72 0 0-6-72 0 0-6-6 0 0-6-72 0 0-6-96 0 0-6-102 0 0-6-6 0 0-6-138 0 0-6-6 0 0-6-6 0 0-6-6 0 0-6-6 0 0-6-6 0 0-6 6 0 0-6 6 0 0-36 6 0 0-6 6 0 0-6 6 0 0-6 6 0 0-6 6 0 0-30 6 0 0-6 6 0 0-66 6 0 0-6 6 0 0-6 6 0 0-6 36 0 0-24-6 0 0-48-6 0 0-12-6 0 0-6-12 0 0 6-6 0 0 6-84 0 0 6-30 0 0 6-12 0 0-6-36 0 0 6-5 0 41-59 12-14 29-29 37-31 12-8zM921 1087l0 30-6 0 0 6-6 0 0 18 6 0 0 12-6 0 0 6-6 0 0 6-6 0 0 6-12 0 0 6-6 0 0 6-12 0 0 6-12 0 0 6-6 0 0 6-6 0 0 6-6 0 0 6-6 0 0 6-6 0 0-6-36 0 0 6-12 0 0 6-24 0 0 6-18 0 0 6-30 0 0 6-18 0 0 6-24 0 0 6-18 0 0-6-6 0 0-6-6 0 0-6-6 0 0-6-6 0 0-6-6 0 0-6-36 0 0-6-12 0 0-6-6 0 0-6-6 0 0-6-6 0 0-6-6 0 0-6-6 0 0-6-6 0 0-6-6 0 0-6-6 0 0-24-6 0 0-18-6 0 0-12-6 0 0-5 12 3 18 1 54-9 30 0 42 6 96-10 36 0 18 3 13 5 16 12 21 24 10 4 12 2 6-1 6-3 6-7z"/>
<path fill="#03fffc" d="M1871 175l10-3 18 3 12-1 10 7 2 6-3 6-17 18-10 21-3 9 2 6 12 12 7 18 8 12 10 8 12 4 0 479-30-17-12-4-30-2-18-3-54-18-35-15-30-18-7-3-6 0-5 3-19 17-18 8-24 3-18 5-30 4-18 1-18-2 6 0 0-6 6 0 0-6 6 0 0-6 6 0 0-6 6 0 0-90 6 0 0-30-6 0 0-24-6 0 0-18-6 0 0-18-6 0 0-12-6 0 0-12-6 0 0-12-6 0 0-18-6 0 0-12-6 0 0-18-6 0 0-18-6 0 0-24-6 0 0-12-6 0 0-30-6 0 0-30-6 0 0-48 6 0 0-6 6 0 0-6 6 0 0-18 6 0 0-18 6 0 0-6 6 0 0-12 6 0 0-6 6 0 0-6 6 0 0-4 12 11 6 3 24 4 18 6 12 10 9 12 9 7 18 7 18-1 6-1 18-16 18-38 12-13 12-8 12-5 6-1 48 4 12-1 18-4zM1212 349l9 0 0 6 6 0 0 6 6 0 0 6 6 0 0 6 6 0 0 6 6 0 0 6 6 0 0 6 6 0 0 6 30 0 0-6 6 0 0-6 18 0 0-6 12 0 0-6 6 0 0-6 18 0 0 6 6 0 0 6 6 0 0 6 6 0 0 6 6 0 0 6 6 0 0 18 6 0 0 6 6 0 0 6 6 0 0 12 24 0 0 6 6 0 0 6 6 0 0 6 6 0 0 54-6 0 0 6-6 0 0 12-6 0 0 12 6 0 0 6 6 0 0 6 6 0 0 18 6 0 0 6 6 0 0 18 6 0 0 6 6 0 0 18 6 0 0 18 6 0 0 12 6 0 0 12 6 0 0 12 6 0 0 6 6 0 0 6 6 0 0 6 6 0 0 12 6 0 0 6 6 0 0 6 6 0 0 12 6 0 0 6 6 0 0 2-24-4-12-4-42-32-18-9-12-3-12 1-12 3-36 19-30 9-42 16-18 10-18 6-18 2-36-1-18-3-36-9-30-14-18-13-48-58-9-14-6-12-9-32-18-31-12-5-24-2-12-3-12-8-13-15-19-36-2-6 1-6 3-6 14-12 13-6 15-3 12 0 12 3 12 6 8 6 4 6 5 12 6 36 4 12 4 6 11 5 12 1 12-1 6-3 18-14 12-4 54-4 48-7 42-11 12-1 30-2 12 2 54 15 6-1 4-11 0-18-4-12-7-6-29-15-18-7-24-7-36-6-12-4-6-5-5-10-13-36zM1377 528l0 8 4 5 5 0 2-6-5-7zM519 499l4 0 6 18 5 30 0 12-2 12-5 12-35 48-9 18-3 12-1 12 4 24 0 12-10 54-8 66 4 48-1 18-3 16-26 80-3 18-1 18 0-6-6 0 0-48-6 0 0-30-6 0 0-6 6 0 0-138 6 0 0-54 6 0 0-12 6 0 0-6 6 0 0-6 6 0 0-6 6 0 0-48-6 0 0-6-6 0 0-6-6 0 0-42 6 0 0-6 6 0 0-24-6 0 0-6 6 0 0-12 6 0 0-12 6 0 0-6 6 0 0-6 6 0 0-6 6 0 0-6 6 0 0-6 6 0 0-6 6 0 0-6 6 0 0-6 12 0zM1100 889l13-3 30-2 12 0 12 4 6 8 15 35 7 12 14 9 18 5 11-2 19-9 12-2 18 2 18 8 36 0 6-5 12-12 32-18 22-21 18-6 12 1 24 7 24 2 18 3 18 6 18 9 12 11 12 15 23 15 5 6 1 6-2 12-8 12-19 10-24 8-24 4-18-1-24-9-36-8-18-7-30-9-36-15-6-1-6 2-6 8-18 31-22 47-5 24-2 42 1 6 28 36 16 30 26 32 18 12 30 12 90 18 6 2 30 22 6 2 18 2 24 15 18 5 12-2 12-6 22-18 8-5 6-2 12 1 6 3 3 3 9 18 6 6 15 6 27 8 18 11 10 11 3 6 5 18-12 0 0-6-60 0 0-6-60 0 0-6-72 0 0-6-72 0 0-6-6 0 0-6-72 0 0-6-96 0 0-6-102 0 0-6-6 0 0-6-138 0 0-6-6 0 0-6-6 0 0-6-6 0 0-6-6 0 0-6-6 0 0-6 6 0 0-6 6 0 0-36 6 0 0-6 6 0 0-6 6 0 0-6 6 0 0-6 6 0 0-30 6 0 0-6 6 0 0-66 6 0 0-6 6 0 0-6 6 0 0-6 36 0 0-24-6 0 0-48-6 0 0-12-6 0 0-6-12 0 0 6-6 0 0 6-84 0 0 6-30 0 0 6-12 0 0-6-33 0 37-54 32-33 30-25 24-16zM962 1027l1-2 0 2zM746 1099l37 0 18 2 12 4 11 6 7 6 24 28 12 4 12 1 11-3 7-6 24-45 0 21-6 0 0 6-6 0 0 18 6 0 0 12-6 0 0 6-6 0 0 6-6 0 0 6-12 0 0 6-6 0 0 6-12 0 0 6-12 0 0 6-6 0 0 6-6 0 0 6-6 0 0 6-6 0 0 6-6 0 0-6-36 0 0 6-12 0 0 6-24 0 0 6-18 0 0 6-30 0 0 6-18 0 0 6-24 0 0 6-18 0 0-6-6 0 0-6-6 0 0-6-6 0 0-6-6 0 0-6-6 0 0-6-36 0 0-6-12 0 0-6-6 0 0-6-6 0 0-6-6 0 0-6-6 0 0-6-6 0 0-6-6 0 0-6-6 0 0-6-6 0 0-24-6 0 0-18-6 0 0-9 12 2 18-2 48-11 30 0 42 5z"/>
<path fill="#08fff7" d="M1872 175l9-3 12 3 18 0 9 6 2 6-2 6-18 18-10 18-3 12 1 6 12 12 8 18 8 12 11 9 12 5 0 468-27-14-9-3-48-2-42-12-42-16-36-21-12-5-6 0-6 4-18 16-18 8-66 12-18 1-18-1 0-5 6 0 0-6 6 0 0-6 6 0 0-6 6 0 0-90 6 0 0-30-6 0 0-24-6 0 0-18-6 0 0-18-6 0 0-12-6 0 0-12-6 0 0-12-6 0 0-18-6 0 0-12-6 0 0-18-6 0 0-18-6 0 0-24-6 0 0-12-6 0 0-30-6 0 0-30-6 0 0-48 6 0 0-6 6 0 0-6 6 0 0-18 6 0 0-18 6 0 0-6 6 0 0-12 6 0 0-6 6 0 1-6 17 27 6-1 14-8 10-2 6 1 12 4 6 4 14 17 10 8 18 6 18 0 6-2 18-15 19-39 11-13 12-7 12-6 6 0 48 3 12-1 18-3zM1218 349l3 0 0 6 6 0 0 6 6 0 0 6 6 0 0 6 6 0 0 6 6 0 0 6 6 0 0 6 6 0 0 6 30 0 0-6 6 0 0-6 18 0 0-6 12 0 0-6 6 0 0-6 18 0 0 6 6 0 0 6 6 0 0 6 6 0 0 6 6 0 0 6 6 0 0 18 6 0 0 6 6 0 0 6 6 0 0 12 24 0 0 6 6 0 0 6 6 0 0 6 6 0 0 54-6 0 0 6-6 0 0 12-6 0 0 12 6 0 0 6 6 0 0 6 6 0 0 18 6 0 0 6 6 0 0 18 6 0 0 6 6 0 0 18 6 0 0 18 6 0 0 12 6 0 0 12 6 0 0 12 6 0 0 6 6 0 0 6 6 0 0 6 6 0 0 12 6 0 0 6 6 0 0 6 6 0 0 12 6 0 0 5-18-5-12-5-30-23-18-12-12-6-12-2-12 2-12 4-42 21-24 8-36 13-30 14-24 5-48-2-42-10-18-7-23-12-8-6-11-12-42-51-9-15-5-12-4-22-9-26 2-6 6-6 37-11 14-13 16-8 54-5 48-7 48-11 36-2 24 3 35 12 11 6 8 18 6 3 8-3 1-6-3-5-10-13-3-36-4-6-6-6-49-24-24-8-36-7-12-5-4-4-15-42zM962 463l13-5 18 1 18 7 9 9 5 12 1 30-3 18-6 8-18 4-18-1-12-6-12-12-6-11-2-6 3-12-3-18 6-12zM507 505l9 0 3 6 7 30 1 18-2 12-5 12-31 46-13 32-2 18 4 24-11 54-7 66 1 18 5 36-1 18-4 18-27 72-5 27 0-39-6 0 0-30-6 0 0-6 6 0 0-138 6 0 0-54 6 0 0-12 6 0 0-6 6 0 0-6 6 0 0-6 6 0 0-48-6 0 0-6-6 0 0-6-6 0 0-42 6 0 0-6 6 0 0-24-6 0 0-6 6 0 0-12 6 0 0-12 6 0 0-6 6 0 0-6 6 0 0-6 6 0 0-6 6 0 0-6 6 0 0-6 6 0 0-6 6 0zM1131 889l24 0 11 6 7 11 11 25 7 11 8 7 11 6 11 3 12 1 24-11 18-2 12 3 18 9 21 3 9 6 1 6-3 12-32 66-4 12-3 12-3 48 1 6 3 6 25 30 15 28 30 38 20 12 28 11 90 16 36 23 6 3 18 1 24 15 18 5 12-2 12-5 22-19 8-5 12-2 6 1 8 6 10 18 5 6 15 6 28 8 18 11 10 11 3 6 5 18-12 0 0-6-60 0 0-6-60 0 0-6-72 0 0-6-72 0 0-6-6 0 0-6-72 0 0-6-96 0 0-6-102 0 0-6-6 0 0-6-138 0 0-6-6 0 0-6-6 0 0-6-6 0 0-6-6 0 0-6-6 0 0-6 6 0 0-6 6 0 0-36 6 0 0-6 6 0 0-6 6 0 0-6 6 0 0-6 6 0 0-30 6 0 0-6 6 0 0-66 6 0 0-6 6 0 0-6 6 0 0-6 36 0 0-24-6 0 0-48-6 0 0-12-6 0 0-6-12 0 0 6-6 0 0 6-84 0 0 6-30 0 0 6-12 0 0-6-29 0 37-54 40-40 18-13 30-18 12-4zM1433 895l16 2 18 6 24 1 18 3 18 6 12 6 15 12 15 19 17 11 5 6 2 12-4 12-8 8-24 11-30 7-18 1-12-3-18-8-30-5-24-10-30-9-19-10-15-12-3-6 1-6 3-6 5-6 28-17 18-18 12-6zM595 1105l20 0 42 5 96-10 36 1 17 4 13 6 14 12 16 22 6 5 6 2 18 1 12-3 10-9 8-13 0 13 6 0 0 12-6 0 0 6-6 0 0 6-6 0 0 6-12 0 0 6-6 0 0 6-12 0 0 6-12 0 0 6-6 0 0 6-6 0 0 6-6 0 0 6-6 0 0 6-6 0 0-6-36 0 0 6-12 0 0 6-24 0 0 6-18 0 0 6-30 0 0 6-18 0 0 6-24 0 0 6-18 0 0-6-6 0 0-6-6 0 0-6-6 0 0-6-6 0 0-6-6 0 0-6-36 0 0-6-12 0 0-6-6 0 0-6-6 0 0-6-6 0 0-6-6 0 0-6-6 0 0-6-6 0 0-6-6 0 0-6-6 0 0-24-6 0 0-18-6 0 0-3 24 0 48-13zM920 1105l1-1 0 13-6 0 0 6-4 0z"/>
<path fill="#0dfff2" d="M1872 175l9-3 12 4 18-1 9 6 2 6-3 6-19 18-12 24-1 8 1 4 13 12 7 18 9 12 12 10 12 5 0 459-24-12-12-3-42 1-18-3-18-5-48-17-18-8-24-15-12-5-6 0-6 3-18 17-18 9-60 10-24 2-18-2 0-2 6 0 0-6 6 0 0-6 6 0 0-6 6 0 0-90 6 0 0-30-6 0 0-24-6 0 0-18-6 0 0-18-6 0 0-12-6 0 0-12-6 0 0-12-6 0 0-18-6 0 0-12-6 0 0-18-6 0 0-18-6 0 0-24-6 0 0-12-6 0 0-30-6 0 0-30-6 0 0-48 6 0 0-6 6 0 0-6 6 0 0-18 6 0 0-18 6 0 0-6 6 0 0-12 6 0 0-6 4 0 6 12 6 18 3 6 5 1 6-4 13-15 5-3 12-2 12 3 6 4 18 20 6 4 18 7 18-1 7-2 17-14 19-40 11-12 18-11 6-2 12-1 48 3 24-4zM1225 355l2 0 0 6 6 0 0 6 6 0 0 6 6 0 0 6 6 0 0 6 6 0 0 6 6 0 0 6 30 0 0-6 6 0 0-6 18 0 0-6 12 0 0-6 6 0 0-6 18 0 0 6 6 0 0 6 6 0 0 6 6 0 0 6 6 0 0 6 6 0 0 18 6 0 0 6 6 0 0 6 6 0 0 12 24 0 0 6 6 0 0 6 6 0 0 6 6 0 0 54-6 0 0 6-6 0 0 12-6 0 0 12 6 0 0 6 6 0 0 6 6 0 0 18 6 0 0 6 6 0 0 18 6 0 0 6 6 0 0 18 6 0 0 18 6 0 0 12 6 0 0 12 6 0 0 12 6 0 0 6 6 0 0 6 6 0 0 6 6 0 0 12 6 0 0 6 6 0 0 6 6 0 0 12 6 0 0 2-18-5-12-6-36-28-18-11-6-2-12-2-18 5-48 25-64 22-32 14-24 3-42-3-48-13-18-8-18-10-12-12-25-31-17-19-9-11-8-18-5-36 2-12 8-8 24-10 18-18 12-5 102-13 42-10 48-4 24 5 30 12 10 9 6 12 8 5 6-1 6-4 0-6-15-24-2-24-5-12-14-11-36-18-74-25-5-6-5-12zM976 463l11-2 18 5 12 9 3 6 1 18-4 21-6 10-12 7-12 1-12-3-12-9-6-9-1-6 4-12-1-18 1-6 5-6zM507 511l0-6 8 18 5 18 1 12-1 12-4 12-6 12-24 36-13 30-3 12-1 12 2 24-11 54-5 60 1 24 7 36-1 18-3 12-30 74 0-8-6 0 0-30-6 0 0-6 6 0 0-138 6 0 0-54 6 0 0-12 6 0 0-6 6 0 0-6 6 0 0-6 6 0 0-48-6 0 0-6-6 0 0-6-6 0 0-42 6 0 0-6 6 0 0-24-6 0 0-6 6 0 0-12 6 0 0-12 6 0 0-6 6 0 0-6 6 0 0-6 6 0 0-6 6 0 0-6 6 0 0-6 6 0 0-6zM1118 895l25-2 12 2 6 3 8 9 12 24 8 12 8 8 12 6 12 3 12 0 24-10 18-1 12 3 15 9 21 5 6 6 1 7-1 6-20 48-10 18-6 18-5 60 4 6 25 29 17 31 11 12 14 21 10 9 20 10 24 9 90 16 36 22 6 3 18 1 24 15 18 5 12-2 12-6 23-19 7-4 12-3 6 1 8 6 9 18 6 6 15 6 28 8 18 12 10 10 3 6 5 18-12 0 0-6-60 0 0-6-60 0 0-6-72 0 0-6-72 0 0-6-6 0 0-6-72 0 0-6-96 0 0-6-102 0 0-6-6 0 0-6-138 0 0-6-6 0 0-6-6 0 0-6-6 0 0-6-6 0 0-6-6 0 0-6 6 0 0-6 6 0 0-36 6 0 0-6 6 0 0-6 6 0 0-6 6 0 0-6 6 0 0-30 6 0 0-6 6 0 0-66 6 0 0-6 6 0 0-6 6 0 0-6 36 0 0-24-6 0 0-48-6 0 0-12-6 0 0-6-12 0 0 6-6 0 0 6-84 0 0 6-30 0 0 6-12 0 0-6-26 0 38-54 36-37 18-13 24-13 12-5zM1420 901l11-3 12 0 24 7 36 3 18 5 12 5 17 13 15 18 20 18 4 12-4 12-6 6-22 11-30 7-18 1-12-3-18-7-30-6-60-23-15-10-4-6-3-6 0-6 3-6 6-6 19-13 16-17zM722 1105l43-4 30 3 18 7 9 6 11 12 13 18 9 7 18 3 12-2 14-8 10-13 0 7 6 0 0 12-6 0 0 6-6 0 0 6-6 0 0 6-12 0 0 6-6 0 0 6-12 0 0 6-12 0 0 6-6 0 0 6-6 0 0 6-6 0 0 6-6 0 0 6-6 0 0-6-36 0 0 6-12 0 0 6-24 0 0 6-18 0 0 6-30 0 0 6-18 0 0 6-24 0 0 6-18 0 0-6-6 0 0-6-6 0 0-6-6 0 0-6-6 0 0-6-6 0 0-6-36 0 0-6-12 0 0-6-6 0 0-6-6 0 0-6-6 0 0-6-6 0 0-6-6 0 0-6-6 0 0-6-6 0 0-6-6 0 0-24-6 0 0-14 24-3 36-13 12-3 30-1 42 4zM918 1117l3-5 0 5z"/>
<path fill="#12ffed" d="M1873 175l8-2 12 3 18 0 8 5 2 6-3 6-19 18-10 18-3 12 0 6 13 12 8 18 10 13 12 10 12 5 0 450-18-8-12-4-54 2-36-8-42-15-46-25-8-3-6 1-6 2-18 17-18 9-60 11-24 1-18-2 6 0 0-6 6 0 0-6 6 0 0-6 6 0 0-90 6 0 0-30-6 0 0-24-6 0 0-18-6 0 0-18-6 0 0-12-6 0 0-12-6 0 0-12-6 0 0-18-6 0 0-12-6 0 0-18-6 0 0-18-6 0 0-24-6 0 0-12-6 0 0-30-6 0 0-30-6 0 0-48 6 0 0-6 6 0 0-6 6 0 0-18 6 0 0-18 6 0 0-6 6 0 0-12 6 0 0-3 4 9 8 25 6 7 6 0 6-5 18-21 6-3 6-1 6 1 12 6 18 20 12 6 12 4 18-1 7-2 17-14 20-40 10-12 18-11 6-2 12-1 48 4 24-5zM1232 361l1 0 0 4zM1233 367l6 0 0 6 6 0 0 6 6 0 0 6 6 0 0 6 6 0 0 6 30 0 0-6 6 0 0-6 18 0 0-6 12 0 0-6 6 0 0-6 18 0 0 6 6 0 0 6 6 0 0 6 6 0 0 6 6 0 0 6 6 0 0 18 6 0 0 6 6 0 0 6 6 0 0 12 24 0 0 6 6 0 0 6 6 0 0 6 6 0 0 54-6 0 0 6-6 0 0 12-6 0 0 12 6 0 0 6 6 0 0 6 6 0 0 18 6 0 0 6 6 0 0 18 6 0 0 6 6 0 0 18 6 0 0 18 6 0 0 12 6 0 0 12 6 0 0 12 6 0 0 6 6 0 0 6 6 0 0 6 6 0 0 12 6 0 0 6 6 0 0 6 6 0 0 9-24-10-48-37-12-5-6-1-18 4-54 28-30 10-66 26-24 3-42-4-42-11-18-8-18-10-12-10-30-37-18-18-9-13-6-18-2-24 2-12 9-10 18-11 18-18 12-6 102-14 42-10 48-4 18 4 30 11 12 9 9 13 9 6 9 0 7-6-2-6-14-24-5-30-3-6-10-9-36-19-30-13-37-13-10-6-7-12zM974 469l13-4 12 2 12 6 6 8 0 11-5 19-7 11-6 5-6 2-12 0-12-6-6-6-2-6 0-6 3-6 1-18 3-6zM501 517l0-6 6 12 6 18 2 12-1 12-7 18-24 38-17 40-3 18 0 24-10 54-3 66 2 18 7 36 0 18-6 17-28 61-2 0 0-30-6 0 0-6 6 0 0-138 6 0 0-54 6 0 0-12 6 0 0-6 6 0 0-6 6 0 0-6 6 0 0-48-6 0 0-6-6 0 0-6-6 0 0-42 6 0 0-6 6 0 0-24-6 0 0-6 6 0 0-12 6 0 0-12 6 0 0-6 6 0 0-6 6 0 0-6 6 0 0-6 6 0 0-6 6 0 0-6zM1110 901l27-4 18 3 9 7 21 36 12 10 12 6 12 3 12 0 24-10 18-1 12 4 12 8 18 6 6 4 3 6-2 12-14 36-13 24-6 18-6 60 3 6 27 30 18 30 14 18 12 18 6 6 22 12 26 10 30 4 60 10 36 22 6 2 18 1 24 15 18 5 12-2 12-6 23-19 7-4 6-2 12 0 8 6 9 18 6 6 14 6 29 8 18 12 10 10 3 6 4 18-11 0 0-6-60 0 0-6-60 0 0-6-72 0 0-6-72 0 0-6-6 0 0-6-72 0 0-6-96 0 0-6-102 0 0-6-6 0 0-6-138 0 0-6-6 0 0-6-6 0 0-6-6 0 0-6-6 0 0-6-6 0 0-6 6 0 0-6 6 0 0-36 6 0 0-6 6 0 0-6 6 0 0-6 6 0 0-6 6 0 0-30 6 0 0-6 6 0 0-66 6 0 0-6 6 0 0-6 6 0 0-6 36 0 0-24-6 0 0-48-6 0 0-12-6 0 0-6-12 0 0 6-6 0 0 6-84 0 0 6-30 0 0 6-12 0 0-6-22 0 34-50 33-34 15-12 12-8 24-11zM1429 901l14 0 24 6 36 3 18 5 12 6 14 10 16 19 17 17 4 12-3 12-6 6-18 9-36 8-12 0-12-2-18-7-30-7-48-17-12-7-9-7-4-6-2-6 0-6 3-6 20-18 16-17 6-4zM737 1105l22-2 18 0 18 3 12 4 11 7 7 6 18 26 6 5 6 3 12 2 18-1 12-6 12-13 0 2 6 0 0 12-6 0 0 6-6 0 0 6-6 0 0 6-12 0 0 6-6 0 0 6-12 0 0 6-12 0 0 6-6 0 0 6-6 0 0 6-6 0 0 6-6 0 0 6-6 0 0-6-36 0 0 6-12 0 0 6-24 0 0 6-18 0 0 6-30 0 0 6-18 0 0 6-24 0 0 6-18 0 0-6-6 0 0-6-6 0 0-6-6 0 0-6-6 0 0-6-6 0 0-6-36 0 0-6-12 0 0-6-6 0 0-6-6 0 0-6-6 0 0-6-6 0 0-6-6 0 0-6-6 0 0-6-6 0 0-6-6 0 0-24-6 0 0-8 12-1 12-2 36-16 18-4 24-1 42 4z"/>
<path fill="#17ffe8" d="M1874 175l7-2 12 3 18 0 8 5 2 6-3 6-19 16-11 20-4 12 1 6 12 12 9 18 11 14 12 10 12 5 0 443-18-8-12-3-48 4-18-2-18-4-42-13-18-9-30-17-12-4-6 0-6 2-18 17-18 9-54 10-24 2-18-1 0-5 6 0 0-6 6 0 0-6 6 0 0-90 6 0 0-30-6 0 0-24-6 0 0-18-6 0 0-18-6 0 0-12-6 0 0-12-6 0 0-12-6 0 0-18-6 0 0-12-6 0 0-18-6 0 0-18-6 0 0-24-6 0 0-12-6 0 0-30-6 0 0-30-6 0 0-48 6 0 0-6 6 0 0-6 6 0 0-18 6 0 0-18 6 0 0-6 6 0 0-12 3 0 13 36 8 7 6 0 13-13 11-15 6-4 12-1 12 6 18 19 6 4 18 7 18-1 8-3 16-13 20-41 11-12 17-11 6-2 12-1 48 4 24-5zM1335 367l18 0 0 6 6 0 0 6 6 0 0 6 6 0 0 6 6 0 0 6 6 0 0 18 6 0 0 6 6 0 0 6 6 0 0 12 24 0 0 6 6 0 0 6 6 0 0 6 6 0 0 54-6 0 0 6-6 0 0 12-6 0 0 12 6 0 0 6 6 0 0 6 6 0 0 18 6 0 0 6 6 0 0 18 6 0 0 6 6 0 0 18 6 0 0 18 6 0 0 12 6 0 0 12 6 0 0 12 6 0 0 6 6 0 0 6 6 0 0 6 6 0 0 12 6 0 0 6 6 0 0 6 6 0 0 6-24-11-48-38-12-5-6-1-12 3-12 6-48 26-66 24-24 10-12 3-18 1-42-3-42-13-18-8-20-12-12-12-24-30-22-22-6-8-5-12-2-12 1-18 4-12 4-6 22-16 12-14 6-4 12-5 102-14 36-8 48-4 18 3 30 12 10 8 9 12 7 6 10 2 10-2 3-6-16-30-7-30-3-6-11-10-36-19-67-31-7-6-4-6-11-30 5 0 0 6 6 0 0 6 6 0 0 6 6 0 0 6 30 0 0-6 6 0 0-6 18 0 0-6 12 0 0-6 6 0zM986 469l13 1 9 5 5 6 0 6-8 20-6 8-6 4-12 2-6-2-6-4-3-4 0-6 5-24 4-7zM495 517l9 18 4 12 0 12-2 12-5 12-22 36-20 48-6 0 0-6-6 0 0-6-6 0 0-42 6 0 0-6 6 0 0-24-6 0 0-6 6 0 0-12 6 0 0-12 6 0 0-6 6 0 0-6 6 0 0-6 6 0 0-6 6 0 0-6 6 0zM447 721l4 0-7 42 0 54 3 24 9 36 1 12-6 18-28 53 0-17-6 0 0-6 6 0 0-138 6 0 0-54 6 0 0-12 6 0 0-6 6 0zM1103 907l28-5 12 0 12 3 6 5 17 27 9 12 10 7 12 5 12 3 12 0 24-10 6-2 12 1 12 5 12 8 17 7 5 6 0 12-8 24-8 18-12 24-5 12-5 60 2 6 28 30 18 30 14 18 11 18 9 9 16 9 32 12 24 2 66 12 36 21 6 2 18 1 24 15 18 5 12-2 12-6 30-24 6-2 12 1 8 5 9 18 6 6 14 6 29 8 18 12 9 10 4 6 4 18-11 0 0-6-60 0 0-6-60 0 0-6-72 0 0-6-72 0 0-6-6 0 0-6-72 0 0-6-96 0 0-6-102 0 0-6-6 0 0-6-138 0 0-6-6 0 0-6-6 0 0-6-6 0 0-6-6 0 0-6-6 0 0-6 6 0 0-6 6 0 0-36 6 0 0-6 6 0 0-6 6 0 0-6 6 0 0-6 6 0 0-30 6 0 0-6 6 0 0-66 6 0 0-6 6 0 0-6 6 0 0-6 36 0 0-24-6 0 0-48-6 0 0-12-6 0 0-6-12 0 0 6-6 0 0 6-84 0 0 6-30 0 0 6-12 0 0-6-19 0 33-48 28-30 24-19 24-12zM1420 907l11-4 12 0 24 6 36 3 18 5 12 6 12 9 31 35 5 12-1 6-3 6-14 11-12 4-30 6-12 1-12-3-18-7-30-6-54-22-11-8-4-6-1-6 0-6 8-12 26-25zM751 1105l32 1 12 2 12 5 14 10 21 30 13 7 12 2 18-2 15-7 11-12 4 0 0 12-6 0 0 6-6 0 0 6-6 0 0 6-12 0 0 6-6 0 0 6-12 0 0 6-12 0 0 6-6 0 0 6-6 0 0 6-6 0 0 6-6 0 0 6-6 0 0-6-36 0 0 6-12 0 0 6-24 0 0 6-18 0 0 6-30 0 0 6-18 0 0 6-24 0 0 6-18 0 0-6-6 0 0-6-6 0 0-6-6 0 0-6-6 0 0-6-6 0 0-6-36 0 0-6-12 0 0-6-6 0 0-6-6 0 0-6-6 0 0-6-6 0 0-6-6 0 0-6-6 0 0-6-6 0 0-6-6 0 0-24-6 0 0-2 12-1 12-3 36-18 18-5 24-2 42 4z"/>
<path fill="#1cffe3" d="M1874 175l7-1 12 3 18-1 7 5 2 6-3 6-18 14-12 21-4 13 1 6 12 12 4 6 5 12 12 15 12 10 12 5 0 436-18-8-12-2-48 5-18-1-18-3-42-13-48-26-12-4-6 0-6 2-18 17-18 10-54 10-24 1-18-1 0-3 6 0 0-6 6 0 0-6 6 0 0-90 6 0 0-30-6 0 0-24-6 0 0-18-6 0 0-18-6 0 0-12-6 0 0-12-6 0 0-12-6 0 0-18-6 0 0-12-6 0 0-18-6 0 0-18-6 0 0-24-6 0 0-12-6 0 0-30-6 0 0-30-6 0 0-48 6 0 0-6 6 0 0-6 6 0 0-18 6 0 0-18 6 0 0-6 6 0 0-9 12 33 6 8 6 3 6 1 18-20 6-10 6-5 6-2 12 2 6 4 18 19 12 6 12 4 18-1 9-3 15-13 20-41 11-12 17-10 6-3 12-1 48 4 24-4zM1335 367l18 0 0 6 6 0 0 6 6 0 0 6 6 0 0 6 6 0 0 6 6 0 0 18 6 0 0 6 6 0 0 6 6 0 0 12 24 0 0 6 6 0 0 6 6 0 0 6 6 0 0 54-6 0 0 6-6 0 0 12-6 0 0 12 6 0 0 6 6 0 0 6 6 0 0 18 6 0 0 6 6 0 0 18 6 0 0 6 6 0 0 18 6 0 0 18 6 0 0 12 6 0 0 12 6 0 0 12 6 0 0 6 6 0 0 6 6 0 0 6 6 0 0 12 6 0 0 6 6 0 0 6 6 0 0 3-24-12-48-40-12-5-6 0-12 5-60 33-90 34-24 4-42-3-18-4-27-9-15-7-20-11-13-12-27-33-18-16-9-11-5-12-2-12 1-12 3-12 8-12 16-13 15-17 15-7 102-15 36-7 24-1 24-4 18 3 24 10 12 7 18 20 6 3 12 1 11-4-1-6-20-36-5-24-3-6-14-12-94-50-12-11-10-23 4 0 0 6 6 0 0 6 6 0 0 6 30 0 0-6 6 0 0-6 18 0 0-6 12 0 0-6 6 0zM981 475l6-2 6 0 7 2 7 6 0 6-10 18-4 4-6 3-6 0-6-2-3-5 1-18 2-6zM489 523l8 12 5 12-1 18-6 17-20 31-9 24-13 26 0-2-6 0 0-6-6 0 0-42 6 0 0-6 6 0 0-24-6 0 0-6 6 0 0-12 6 0 0-12 6 0 0-6 6 0 0-6 6 0 0-6 6 0 0-6 6 0zM435 733l5 0-4 42 2 48 5 24 10 30 1 12-1 6-6 13-24 38 0-3-6 0 0-6 6 0 0-138 6 0 0-54 6 0zM1121 907l22-1 12 5 29 38 7 6 12 7 12 3 12 1 12-3 18-7 12-2 12 3 35 22 2 6-1 6-6 24-7 18-14 24-4 12-6 60 2 6 29 30 18 30 14 18 10 17 12 12 18 10 30 11 24 2 30 6 24 3 12 2 36 21 24 3 24 14 18 5 12-2 12-6 30-23 6-2 12 0 7 5 10 18 5 6 14 6 30 8 18 12 9 10 4 6 4 18-11 0 0-6-60 0 0-6-60 0 0-6-72 0 0-6-72 0 0-6-6 0 0-6-72 0 0-6-96 0 0-6-102 0 0-6-6 0 0-6-138 0 0-6-6 0 0-6-6 0 0-6-6 0 0-6-6 0 0-6-6 0 0-6 6 0 0-6 6 0 0-36 6 0 0-6 6 0 0-6 6 0 0-6 6 0 0-6 6 0 0-30 6 0 0-6 6 0 0-66 6 0 0-6 6 0 0-6 6 0 0-6 36 0 0-24-6 0 0-48-6 0 0-12-6 0 0-6-12 0 0 6-6 0 0 6-84 0 0 6-30 0 0 6-12 0 0-6-15 0 32-48 16-18 19-18 14-10 24-11 18-6zM1425 907l18-2 24 5 30 3 18 4 17 8 15 12 26 30 4 12-1 6-3 6-10 8-12 5-30 7-12 1-12-3-18-7-30-7-53-22-8-6-3-6-1-12 3-6 26-29zM693 1111l72-5 18 1 12 3 12 5 11 8 9 12 10 16 6 7 6 3 12 4 18 0 12-4 13-8 11-12 0 12-6 0 0 6-6 0 0 6-6 0 0 6-12 0 0 6-6 0 0 6-12 0 0 6-12 0 0 6-6 0 0 6-6 0 0 6-6 0 0 6-6 0 0 6-6 0 0-6-36 0 0 6-12 0 0 6-24 0 0 6-18 0 0 6-30 0 0 6-18 0 0 6-24 0 0 6-18 0 0-6-6 0 0-6-6 0 0-6-6 0 0-6-6 0 0-6-6 0 0-6-36 0 0-6-12 0 0-6-6 0 0-6-6 0 0-6-6 0 0-6-6 0 0-6-6 0 0-6-6 0 0-6-6 0 0-6-6 0 0-20 18-4 31-18 17-7 24-4 42 3z"/>
<path fill="#21ffde" d="M1875 175l6-1 12 3 18 0 7 4 2 6-3 5-18 13-5 6-9 18-3 12 0 6 5 6 7 6 5 6 5 12 13 16 12 10 12 6 0 429-24-10-6 0-48 7-18 0-18-3-24-7-18-6-48-26-12-4-12 2-24 22-12 5-54 10-24 2-18-2 0-1 6 0 0-6 6 0 0-6 6 0 0-90 6 0 0-30-6 0 0-24-6 0 0-18-6 0 0-18-6 0 0-12-6 0 0-12-6 0 0-12-6 0 0-18-6 0 0-12-6 0 0-18-6 0 0-18-6 0 0-24-6 0 0-12-6 0 0-30-6 0 0-30-6 0 0-48 6 0 0-6 6 0 0-6 6 0 0-18 6 0 0-18 6 0 0-6 6 0 0-2 12 32 6 6 6 2 6 0 4-2 22-30 10-5 12 1 6 4 17 18 13 7 12 4 18-1 9-4 15-12 21-42 10-12 17-10 6-2 12-1 36 3 18 0 18-4zM1335 367l18 0 0 6 6 0 0 6 6 0 0 6 6 0 0 6 6 0 0 6 6 0 0 18 6 0 0 6 6 0 0 6 6 0 0 12 24 0 0 6 6 0 0 6 6 0 0 6 6 0 0 54-6 0 0 6-6 0 0 12-6 0 0 12 6 0 0 6 6 0 0 6 6 0 0 18 6 0 0 6 6 0 0 18 6 0 0 6 6 0 0 18 6 0 0 18 6 0 0 12 6 0 0 12 6 0 0 12 6 0 0 6 6 0 0 6 6 0 0 6 6 0 0 12 6 0 0 6 6 0 0 4-24-16-42-37-12-6-6 1-6 3-43 27-23 13-90 33-12 3-18 1-36-4-42-12-18-9-18-10-16-15-26-32-18-15-9-13-3-12-1-12 5-18 9-12 29-29 12-6 102-15 36-8 24-1 24-4 18 3 27 12 9 7 18 18 12 4 12 1 6-2 3-4-2-6-21-36-6-24-4-7-12-10-86-49-14-12-8-12 6 0 0 6 30 0 0-6 6 0 0-6 18 0 0-6 12 0 0-6 6 0zM1255 385l2 0 0 5zM980 481l7-4 6 0 6 4 1 6-3 6-4 6-6 4-6-1-2-3-1-12zM483 529l6 8 5 10 2 6-1 12-6 16-21 32-9 24-12 21 0-3-6 0 0-42 6 0 0-6 6 0 0-24-6 0 0-6 6 0 0-12 6 0 0-12 6 0 0-6 6 0 0-6 6 0 0-6 6 0zM423 799l5 0 5 36 16 42 2 12-4 11-24 33zM1437 907l66 9 18 6 12 6 12 10 24 29 5 12-1 6-3 6-7 6-12 6-30 6-12 1-12-2-18-7-30-7-49-21-8-6-4-6-1-6 3-12 21-24 7-6 7-4zM1109 913l22-3 18 3 6 4 30 36 18 11 12 3 12 1 12-3 18-8 12-1 12 4 30 19 3 6 0 6-5 24-7 18-14 24-4 12-5 60 2 8 18 17 14 17 40 62 12 12 18 9 30 11 30 3 24 5 24 2 12 3 35 19 25 3 24 15 18 5 12-3 12-5 30-24 6-2 12 0 7 5 10 18 5 6 14 6 30 8 18 12 9 10 3 6 5 18-11 0 0-6-60 0 0-6-60 0 0-6-72 0 0-6-72 0 0-6-6 0 0-6-72 0 0-6-96 0 0-6-102 0 0-6-6 0 0-6-138 0 0-6-6 0 0-6-6 0 0-6-6 0 0-6-6 0 0-6-6 0 0-6 6 0 0-6 6 0 0-36 6 0 0-6 6 0 0-6 6 0 0-6 6 0 0-6 6 0 0-30 6 0 0-6 6 0 0-66 6 0 0-6 6 0 0-6 6 0 0-6 36 0 0-24-6 0 0-48-6 0 0-12-6 0 0-6-12 0 0 6-6 0 0 6-84 0 0 6-30 0 0 6-12 0 0-6-12 0 33-48 27-29 24-17 24-10zM417 937l3 0-3 5zM710 1111l55-4 18 2 12 3 11 5 8 6 10 12 13 21 6 5 12 5 18 2 18-4 12-7 12-12 0 8-6 0 0 6-6 0 0 6-6 0 0 6-12 0 0 6-6 0 0 6-12 0 0 6-12 0 0 6-6 0 0 6-6 0 0 6-6 0 0 6-6 0 0 6-6 0 0-6-36 0 0 6-12 0 0 6-24 0 0 6-18 0 0 6-30 0 0 6-18 0 0 6-24 0 0 6-18 0 0-6-6 0 0-6-6 0 0-6-6 0 0-6-6 0 0-6-6 0 0-6-36 0 0-6-12 0 0-6-6 0 0-6-6 0 0-6-6 0 0-6-6 0 0-6-6 0 0-6-6 0 0-6-6 0 0-6-6 0 0-13 18-4 36-24 17-7 25-3 42 2z"/>
<path fill="#26ffd9" d="M1877 175l4-1 12 3 18 0 6 4 2 6-2 4-20 14-4 6-9 18-3 11 0 7 17 18 5 12 14 17 12 10 12 6 0 423-24-9-54 8-18 0-18-3-36-10-18-8-36-20-12-4-12 2-24 22-18 8-48 8-36 0 0-6 6 0 0-6 6 0 0-90 6 0 0-30-6 0 0-24-6 0 0-18-6 0 0-18-6 0 0-12-6 0 0-12-6 0 0-12-6 0 0-18-6 0 0-12-6 0 0-18-6 0 0-18-6 0 0-24-6 0 0-12-6 0 0-30-6 0 0-30-6 0 0-48 6 0 0-6 6 0 0-6 6 0 0-18 6 0 0-18 6 0 0-6 4 0 11 30 5 6 10 4 6 1 6-4 4-7 18-24 8-4 12 1 6 3 17 18 13 7 12 4 18-1 10-4 14-12 4-6 5-12 12-24 11-12 16-10 6-2 12-1 36 4 18-1 18-4zM1335 367l18 0 0 6 6 0 0 6 6 0 0 6 6 0 0 6 6 0 0 6 6 0 0 18 6 0 0 6 6 0 0 6 6 0 0 12 24 0 0 6 6 0 0 6 6 0 0 6 6 0 0 54-6 0 0 6-6 0 0 12-6 0 0 12 6 0 0 6 6 0 0 6 6 0 0 18 6 0 0 6 6 0 0 18 6 0 0 6 6 0 0 18 6 0 0 18 6 0 0 12 6 0 0 12 6 0 0 12 6 0 0 6 6 0 0 6 6 0 0 6 6 0 0 11-21-17-33-32-12-6-6 1-24 19-42 26-102 38-24 2-30-3-30-8-30-12-18-11-12-9-34-41-20-15-9-15-1-18 6-18 31-36 8-6 13-4 96-15 30-7 30-1 24-5 18 3 24 11 12 9 14 15 10 5 18 3 6 0 5-2 1-7-21-35-6-12-4-18-5-9-11-9-72-42-16-12-11-12 26 0 0-6 6 0 0-6 18 0 0-6 12 0 0-6 6 0zM983 487l4-6 6 3 1 3-7 7zM477 535l6 7 6 11 0 13-5 11-21 30-22 44 0-38 6 0 0-6 6 0 0-24-6 0 0-6 6 0 0-12 6 0 0-12 6 0 0-6 6 0 0-6 6 0zM1516 703l5 0 0 3zM423 823l7 24 17 35 0 7-6 13-18 20zM1423 913l8-3 12-1 24 5 30 2 27 9 17 12 21 24 7 12 2 6-1 6-7 9-12 7-30 7-12 1-60-16-42-19-11-7-4-6-2-6 1-6 3-6 9-12 10-11zM1098 919l27-5 12 0 12 4 6 5 28 32 8 6 15 6 21 2 12-2 18-8 12-1 12 4 25 17 4 6 1 5-1 13-9 30-15 24-5 12-4 60 4 10 18 17 12 15 42 65 12 11 15 8 32 12 25 1 30 7 24 2 12 2 33 18 9 2 18 2 24 14 18 5 12-2 12-6 30-24 6-2 12 0 7 5 10 18 5 6 14 6 30 9 18 11 9 10 3 6 5 18-11 0 0-6-60 0 0-6-60 0 0-6-72 0 0-6-72 0 0-6-6 0 0-6-72 0 0-6-96 0 0-6-102 0 0-6-6 0 0-6-138 0 0-6-6 0 0-6-6 0 0-6-6 0 0-6-6 0 0-6-6 0 0-6 6 0 0-6 6 0 0-36 6 0 0-6 6 0 0-6 6 0 0-6 6 0 0-6 6 0 0-30 6 0 0-6 6 0 0-66 6 0 0-6 6 0 0-6 6 0 0-6 36 0 0-24-6 0 0-48-6 0 0-12-6 0 0-6-12 0 0 6-6 0 0 6-84 0 0 6-30 0 0 6-12 0 0-6-9 0 28-42 27-30 14-12 12-7zM739 1111l32-2 18 3 12 5 16 12 19 30 13 8 12 3 18 0 12-3 12-7 0 5-6 0 0 6-12 0 0 6-6 0 0 6-12 0 0 6-12 0 0 6-6 0 0 6-6 0 0 6-6 0 0 6-6 0 0 6-6 0 0-6-36 0 0 6-12 0 0 6-24 0 0 6-18 0 0 6-30 0 0 6-18 0 0 6-24 0 0 6-18 0 0-6-6 0 0-6-6 0 0-6-6 0 0-6-6 0 0-6-6 0 0-6-36 0 0-6-12 0 0-6-6 0 0-6-6 0 0-6-6 0 0-6-6 0 0-6-6 0 0-6-6 0 0-6-6 0 0-6-6 0 0-6 12-2 12-4 27-24 21-10 24-3 42 1 42-4zM911 1153l4-4 0 4zM904 1159l5-4 0 4z"/>
<path fill="#2bffd4" d="M1880 175l13 3 18 0 6 3 2 6-2 3-6 5-16 10-2 4-10 20-2 6-1 12 4 6 13 12 5 12 15 18 12 10 12 6 0 418-24-9-30 6-24 4-18 0-18-3-36-10-54-28-12-3-6-1-6 2-6 4-18 18-18 8-48 8-36 0 0-4 6 0 0-6 6 0 0-90 6 0 0-30-6 0 0-24-6 0 0-18-6 0 0-18-6 0 0-12-6 0 0-12-6 0 0-12-6 0 0-18-6 0 0-12-6 0 0-18-6 0 0-18-6 0 0-24-6 0 0-12-6 0 0-30-6 0 0-30-6 0 0-48 6 0 0-6 6 0 0-6 6 0 0-18 6 0 0-18 6 0 0-6 12 29 4 7 14 7 6 0 6-3 5-10 19-24 6-3 6-1 12 5 16 17 14 8 12 3 18-1 11-4 13-11 5-7 4-12 13-24 10-12 16-10 6-2 12-1 36 4 18-1 18-4 18-9zM1335 367l18 0 0 6 6 0 0 6 6 0 0 6 6 0 0 6 6 0 0 6 6 0 0 18 6 0 0 6 6 0 0 6 6 0 0 12 24 0 0 6 6 0 0 6 6 0 0 6 6 0 0 54-6 0 0 6-6 0 0 12-6 0 0 12 6 0 0 6 6 0 0 6 6 0 0 18 6 0 0 6 6 0 0 18 6 0 0 6 6 0 0 18 6 0 0 18 6 0 0 12 6 0 0 12 6 0 0 12 6 0 0 6 6 0 0 6 6 0 0 6 6 0 0 7-22-19-32-33-6-5-6-2-6 2-6 4-8 10-14 12-38 24-96 36-24 4-30-3-30-7-30-12-21-12-15-12-30-37-23-17-7-12-2-12 5-18 12-18 21-24 6-5 12-4 30-5 66-10 36-7 24-1 24-5 18 3 22 10 14 11 13 13 11 6 24 5 6 0 3-5 0-6-3-6-16-24-9-18-5-18-6-10-10-8-68-42-15-12-11-12 20 0 0-6 6 0 0-6 18 0 0-6 12 0 0-6 6 0zM471 547l0-4 9 10 3 6 0 6-6 10-13 14-11 16 0-22-6 0 0-6 6 0 0-12 6 0 0-12 6 0 0-6zM447 607l5 0-11 21 0-15 6 0zM423 853l0-5 18 31 2 10-3 6-17 17zM1428 913l15-2 48 6 18 4 12 5 18 12 20 23 7 12 2 6-1 6-4 7-12 7-30 7-12 1-60-16-40-18-9-6-5-6-1-6 0-6 7-12 12-14 6-6zM1113 919l18-1 12 2 6 3 6 5 24 27 8 6 12 6 16 4 12 0 12-3 18-7 12-1 16 7 16 12 5 6 3 12-5 24-5 12-15 24-5 12-4 60 2 6 4 6 18 18 12 15 41 63 13 13 12 6 36 13 24 1 30 6 24 2 12 3 32 16 10 3 18 1 24 15 18 5 12-3 12-6 30-24 6-2 12 1 7 4 9 18 6 6 14 6 30 9 18 12 9 9 3 6 4 18-10 0 0-6-60 0 0-6-60 0 0-6-72 0 0-6-72 0 0-6-6 0 0-6-72 0 0-6-96 0 0-6-102 0 0-6-6 0 0-6-138 0 0-6-6 0 0-6-6 0 0-6-6 0 0-6-6 0 0-6-6 0 0-6 6 0 0-6 6 0 0-36 6 0 0-6 6 0 0-6 6 0 0-6 6 0 0-6 6 0 0-30 6 0 0-6 6 0 0-66 6 0 0-6 6 0 0-6 6 0 0-6 36 0 0-24-6 0 0-48-6 0 0-12-6 0 0-6-12 0 0 6-6 0 0 6-84 0 0 6-30 0 0 6-12 0 0-6-5 0 32-48 27-28 12-9 18-9 12-4zM751 1111l26 0 20 6 10 6 7 6 8 12 9 17 8 7 10 5 12 3 12 0 12-2 0 6-6 0 0 6-12 0 0 6-12 0 0 6-6 0 0 6-6 0 0 6-6 0 0 6-6 0 0 6-6 0 0-6-36 0 0 6-12 0 0 6-24 0 0 6-18 0 0 6-30 0 0 6-18 0 0 6-24 0 0 6-18 0 0-6-6 0 0-6-6 0 0-6-6 0 0-6-6 0 0-6-6 0 0-6-36 0 0-6-12 0 0-6-6 0 0-6-6 0 0-6-6 0 0-6-6 0 0-6-6 0 0-6-6 0 0-6-6 0 0-6-4 0 22-4 6-4 13-16 11-10 12-7 12-4 18-3 42 2 42-5 30 0zM900 1165l3-2 0 2zM886 1171l11-4 0 4z"/>
<path fill="#30ffcf" d="M1867 181l8-5 6-1 12 3 18 0 5 3 2 6-1 2-6 6-18 11-11 23-3 18 3 6 13 12 6 12 15 18 13 11 12 6 0 413-24-9-48 10-18 1-24-2-36-10-54-28-18-3-6 1-6 4-20 20-16 7-48 8-36-1 0-2 6 0 0-6 6 0 0-90 6 0 0-30-6 0 0-24-6 0 0-18-6 0 0-18-6 0 0-12-6 0 0-12-6 0 0-12-6 0 0-18-6 0 0-12-6 0 0-18-6 0 0-18-6 0 0-24-6 0 0-12-6 0 0-30-6 0 0-30-6 0 0-48 6 0 0-6 6 0 0-6 6 0 0-18 6 0 0-18 6 0 0-2 13 32 9 6 8 2 6 0 6-1 7-13 17-22 6-4 6-1 12 5 16 16 14 8 12 4 18-1 11-5 13-11 5-7 4-12 13-24 11-12 15-9 6-3 12-1 48 4 18-3zM1335 367l18 0 0 6 6 0 0 6 6 0 0 6 6 0 0 6 6 0 0 6 6 0 0 18 6 0 0 6 6 0 0 6 6 0 0 12 24 0 0 6 6 0 0 6 6 0 0 6 6 0 0 54-6 0 0 6-6 0 0 12-6 0 0 12 6 0 0 6 6 0 0 6 6 0 0 18 6 0 0 6 6 0 0 18 6 0 0 6 6 0 0 18 6 0 0 18 6 0 0 12 6 0 0 12 6 0 0 12-36-41-6-4-6 5-23 28-37 25-22 11-80 29-24 3-30-3-30-8-30-12-15-9-15-12-18-18-18-23-20-13-8-12-1-12 5-18 12-18 18-21 6-5 18-6 54-10 36-4 36-8 24 0 18-5 12-1 18 6 18 9 12 9 11 12 13 7 30 8 6-3-1-12-20-30-9-18-6-20-6-9-74-49-14-12-11-12 15 0 0-6 6 0 0-6 18 0 0-6 12 0 0-6 6 0zM459 553l2 0 7 6 2 6-17 18-6 0 0-6 6 0 0-12 6 0zM1491 673l6 0 0 6zM1497 679l6 0 0 5zM1504 685l5 0 0 5zM1510 691l5 0 0 4zM423 871l0-5 12 17 1 6-13 12zM1439 913l58 7 18 5 12 6 15 12 19 24 4 12-1 6-3 6-10 6-30 8-12 1-56-15-40-18-10-6-5-6-1-6 3-12 8-12 11-11 12-6zM1097 925l28-4 18 3 12 8 28 29 8 5 12 5 12 2 12 0 12-3 18-8 12 0 18 9 16 14 3 12-4 24-4 12-17 24-5 12-2 54 1 12 6 8 26 28 29 42 14 24 15 15 12 6 36 12 24 1 30 7 24 2 12 2 30 15 12 3 18 2 24 14 18 5 12-2 12-6 30-24 6-2 12 0 6 4 10 18 5 6 15 7 30 8 18 12 8 9 4 6 4 18-10 0 0-6-60 0 0-6-60 0 0-6-72 0 0-6-72 0 0-6-6 0 0-6-72 0 0-6-96 0 0-6-102 0 0-6-6 0 0-6-138 0 0-6-6 0 0-6-6 0 0-6-6 0 0-6-6 0 0-6-6 0 0-6 6 0 0-6 6 0 0-36 6 0 0-6 6 0 0-6 6 0 0-6 6 0 0-6 6 0 0-30 6 0 0-6 6 0 0-66 6 0 0-6 6 0 0-6 6 0 0-6 36 0 0-24-6 0 0-48-6 0 0-12-6 0 0-6-12 0 0 6-6 0 0 6-84 0 0 6-30 0 0 6-12 0 0-6-2 0 27-42 23-26 24-18zM682 1117l77-5 18 1 12 3 12 5 10 8 9 12 9 18 8 8 18 8 12 1 18-2 0 3-6 0 0 6-12 0 0 6-12 0 0 6-6 0 0 6-6 0 0 6-6 0 0 6-6 0 0 6-6 0 0-6-36 0 0 6-12 0 0 6-24 0 0 6-18 0 0 6-30 0 0 6-18 0 0 6-24 0 0 6-18 0 0-6-6 0 0-6-6 0 0-6-6 0 0-6-6 0 0-6-6 0 0-6-36 0 0-6-12 0 0-6-6 0 0-6-6 0 0-6-6 0 0-6-6 0 0-6-6 0 0-6-6 0 0-6-3 0 15-2 6-3 6-7 7-12 10-12 8-6 11-5 24-5 36 1zM894 1171l3-2 0 2z"/>
<path fill="#36ffc9" d="M1867 181l8-5 6 0 12 3 18-1 4 3 2 7-6 6-19 11-11 24-2 18 2 6 13 12 5 12 16 18 14 13 12 5 0 409-24-8-30 7-24 3-18 1-18-2-36-10-48-25-12-5-12-1-6 1-6 4-15 16-8 6-13 6-48 8-18 0-18-2 6 0 0-6 6 0 0-90 6 0 0-30-6 0 0-24-6 0 0-18-6 0 0-18-6 0 0-12-6 0 0-12-6 0 0-12-6 0 0-18-6 0 0-12-6 0 0-18-6 0 0-18-6 0 0-24-6 0 0-12-6 0 0-30-6 0 0-30-6 0 0-48 6 0 0-6 6 0 0-6 6 0 0-18 6 0 0-18 4 0 14 32 5 4 13 4 6 0 6-2 8-14 16-21 6-4 6-1 12 4 18 18 12 6 12 4 18-1 12-5 12-10 5-8 5-12 12-24 11-12 15-9 6-2 12-2 48 5 18-3zM1335 367l18 0 0 6 6 0 0 6 6 0 0 6 6 0 0 6 6 0 0 6 6 0 0 18 6 0 0 6 6 0 0 6 6 0 0 12 24 0 0 6 6 0 0 6 6 0 0 6 6 0 0 54-6 0 0 6-6 0 0 12-6 0 0 12 6 0 0 6 6 0 0 6 6 0 0 18 6 0 0 6 6 0 0 18 6 0 0 6 6 0 0 18 6 0 0 18 6 0 0 12 6 0 0 12 6 0 0 7-34-43-8-5-6 4-21 31-13 12-20 14-24 13-78 28-24 5-30-2-30-8-30-12-18-10-18-14-33-38-21-13-7-11-1-12 5-18 12-18 21-24 16-6 56-11 36-4 36-7 24-1 18-5 12-1 16 5 20 10 30 26 34 12 8 7 6 2 0-8-5-19-20-30-10-18-7-22-6-8-63-42-14-12-17-18 10 0 0-6 6 0 0-6 18 0 0-6 12 0 0-6 6 0zM1424 919l13-4 12 0 48 7 24 8 18 13 15 18 7 12 2 6-1 6-4 6-7 4-36 10-6 0-54-15-27-11-21-12-5-6-2-6 0-6 6-12 10-12zM1113 925l18 0 12 3 12 9 24 24 18 10 18 4 12-1 12-2 18-8 12 0 18 9 12 12 5 12-1 12-2 12-8 18-15 18-4 12-2 54 2 12 7 10 24 26 29 42 14 24 5 6 12 11 14 7 34 11 24 1 30 6 24 2 12 3 36 16 24 2 24 15 18 4 12-2 12-6 30-24 6-2 12 0 6 4 10 18 5 6 15 7 30 8 18 12 8 9 4 6 4 18-10 0 0-6-60 0 0-6-60 0 0-6-72 0 0-6-72 0 0-6-6 0 0-6-72 0 0-6-96 0 0-6-102 0 0-6-6 0 0-6-138 0 0-6-6 0 0-6-6 0 0-6-6 0 0-6-6 0 0-6-6 0 0-6 6 0 0-6 6 0 0-36 6 0 0-6 6 0 0-6 6 0 0-6 6 0 0-6 6 0 0-30 6 0 0-6 6 0 0-66 6 0 0-6 6 0 0-6 6 0 0-6 36 0 0-24-6 0 0-48-6 0 0-12-6 0 0-6-12 0 0 6-6 0 0 6-84 0 0 6-30 0 0 6-12 0 0-5 29-43 15-18 12-12 16-11 12-6 12-4zM692 1117l37-1 36-2 24 3 12 6 7 6 9 12 9 18 5 7 6 4 18 8 12 1 12-1 0 5-12 0 0 6-12 0 0 6-6 0 0 6-6 0 0 6-6 0 0 6-6 0 0 6-6 0 0-6-36 0 0 6-12 0 0 6-24 0 0 6-18 0 0 6-30 0 0 6-18 0 0 6-24 0 0 6-18 0 0-6-6 0 0-6-6 0 0-6-6 0 0-6-6 0 0-6-6 0 0-6-36 0 0-6-12 0 0-6-6 0 0-6-6 0 0-6-6 0 0-6-6 0 0-6-6 0 0-6-6 0 18-4 6-4 15-28 9-8 12-7 12-4 12-1 42 0z"/>
<path fill="#3bffc4" d="M1868 181l7-4 6-1 12 3 18 0 4 2 2 6-5 6-19 10-2 2-11 24-2 18 2 6 13 11 6 14 15 17 15 14 12 5 0 405-24-8-36 8-24 3-18 0-18-2-30-9-54-27-18-4-6 1-6 4-18 19-7 5-11 5-42 7-18 1-18-2 0-5 6 0 0-90 6 0 0-30-6 0 0-24-6 0 0-18-6 0 0-18-6 0 0-12-6 0 0-12-6 0 0-12-6 0 0-18-6 0 0-12-6 0 0-18-6 0 0-18-6 0 0-24-6 0 0-12-6 0 0-30-6 0 0-30-6 0 0-48 6 0 0-6 6 0 0-6 6 0 0-18 6 0 0-18 2 0 3 6 13 29 18 6 6 1 6-3 3-3 6-12 15-19 6-5 6-1 12 4 18 18 12 6 12 4 18-1 12-6 12-10 6-8 4-12 13-24 11-12 14-9 6-2 12-1 48 4 18-3zM1335 367l18 0 0 6 6 0 0 6 6 0 0 6 6 0 0 6 6 0 0 6 6 0 0 18 6 0 0 6 6 0 0 6 6 0 0 12 24 0 0 6 6 0 0 6 6 0 0 6 6 0 0 54-6 0 0 6-6 0 0 12-6 0 0 12 6 0 0 6 6 0 0 6 6 0 0 18 6 0 0 6 6 0 0 18 6 0 0 6 6 0 0 18 6 0 0 18 6 0 0 11-18-25-6-6-6-2-6 3-7 13-17 24-24 20-30 17-72 27-24 5-24 0-30-6-26-9-24-12-22-15-18-18-18-21-24-17-5-7-1-12 7-18 20-30 13-12 19-6 49-10 36-4 36-7 24-1 18-5 12-1 13 4 17 8 12 8 23 20 29 12 9 6 5 7 6 3 7-4-1-6-8-24-22-30-10-18-8-24-4-6-8-6-29-18-25-18-13-12-16-18 5 0 0-6 6 0 0-6 18 0 0-6 12 0 0-6 6 0zM1480 649l5 0 0 7zM1489 661l2 0 0 2zM1428 919l15-2 42 5 18 3 18 7 15 11 15 18 7 12 2 6-1 6-4 6-4 2-30 9-12 2-54-15-24-10-20-12-6-6-2-6 0-6 5-12 10-12zM1093 931l26-4 18 2 12 7 6 5 24 23 18 9 18 3 12 0 36-11 6 0 12 6 15 14 6 12 0 12-3 12-8 18-16 18-4 12 0 54 2 12 3 6 32 36 25 36 18 30 14 14 45 16 27 1 30 7 30 2 42 17 24 3 24 14 18 5 12-3 12-6 30-24 6-2 12 0 6 4 10 18 5 6 15 7 30 8 18 12 11 15 5 18-10 0 0-6-60 0 0-6-60 0 0-6-72 0 0-6-72 0 0-6-6 0 0-6-72 0 0-6-96 0 0-6-102 0 0-6-6 0 0-6-138 0 0-6-6 0 0-6-6 0 0-6-6 0 0-6-6 0 0-6-6 0 0-6 6 0 0-6 6 0 0-36 6 0 0-6 6 0 0-6 6 0 0-6 6 0 0-6 6 0 0-30 6 0 0-6 6 0 0-66 6 0 0-6 6 0 0-6 6 0 0-6 36 0 0-24-6 0 0-48-6 0 0-12-6 0 0-6-12 0 0 6-6 0 0 6-84 0 0 6-30 0 0 6-12 0 27-42 21-25 12-11 12-9zM736 1117l35-2 12 2 12 5 11 7 5 6 14 27 9 9 15 8 12 2 18 0 0 2-12 0 0 6-12 0 0 6-6 0 0 6-6 0 0 6-6 0 0 6-6 0 0 6-6 0 0-6-36 0 0 6-12 0 0 6-24 0 0 6-18 0 0 6-30 0 0 6-18 0 0 6-24 0 0 6-18 0 0-6-6 0 0-6-6 0 0-6-6 0 0-6-6 0 0-6-6 0 0-6-36 0 0-6-12 0 0-6-6 0 0-6-6 0 0-6-6 0 0-6-6 0 0-6-6 0 0-1 12-3 6-3 6-7 6-16 7-12 11-9 12-6 18-3 36-1 48-4z"/>
<path fill="#40ffbf" d="M1868 181l7-4 6-1 12 3 18 0 3 2 3 6-6 6-18 9-2 3-12 24-2 18 2 6 13 12 7 14 14 16 16 15 12 5 0 401-24-7-54 10-18 1-18-1-18-4-18-6-48-25-12-4-12-2-6 1-6 3-19 21-17 9-42 7-18 1-18-1 0-4 6 0 0-90 6 0 0-30-6 0 0-24-6 0 0-18-6 0 0-18-6 0 0-12-6 0 0-12-6 0 0-12-6 0 0-18-6 0 0-12-6 0 0-18-6 0 0-18-6 0 0-24-6 0 0-12-6 0 0-30-6 0 0-30-6 0 0-48 6 0 0-6 6 0 0-6 6 0 0-18 6 0 0-17 13 29 4 6 19 7 6 0 6-2 4-5 6-12 14-18 6-5 6-1 12 4 18 17 12 6 12 4 18-1 12-5 14-13 4-6 13-30 4-6 11-12 14-9 6-2 12-1 48 4 18-3zM1335 367l18 0 0 6 6 0 0 6 6 0 0 6 6 0 0 6 6 0 0 6 6 0 0 18 6 0 0 6 6 0 0 6 6 0 0 12 24 0 0 6 6 0 0 6 6 0 0 6 6 0 0 54-6 0 0 6-6 0 0 12-6 0 0 12 6 0 0 6 6 0 0 6 6 0 0 18 6 0 0 6 6 0 0 18 6 0 0 6 6 0 0 18 6 0 0 15-10-15-8-8-6-2-6 3-10 19-14 21-8 9-16 13-31 17-77 28-18 4-24-1-24-5-24-8-26-12-22-15-18-16-24-26-18-12-8-9-1-12 6-18 21-30 12-11 23-7 43-9 36-4 36-7 24 0 18-6 12-1 12 4 18 9 33 26 33 15 16 15 8 2 3-2 2-6-1-6-7-18-7-12-19-24-9-18-10-26-10-10-30-18-23-18-13-12-14-18 0-6 6 0 0-6 18 0 0-6 12 0 0-6 6 0zM1475 637l4 0 0 5zM1435 919l14 0 42 5 18 5 12 6 12 8 16 18 7 12 1 6 0 6-6 6-30 10-12 1-54-15-32-14-15-12-2-6 0-6 4-12 5-6 10-9zM1106 931l19-1 18 6 12 9 24 23 18 8 12 2 18 0 12-3 24-9 12 4 18 15 4 6 3 12-2 18-8 18-18 18-3 11 1 55 2 12 3 7 31 35 25 36 18 30 10 11 6 5 42 15 30 2 30 6 24 2 12 2 36 15 24 3 24 14 18 4 12-2 12-6 30-25 6-2 12 1 6 4 10 17 5 6 15 7 30 8 18 12 11 15 4 18-9 0 0-6-60 0 0-6-60 0 0-6-72 0 0-6-72 0 0-6-6 0 0-6-72 0 0-6-96 0 0-6-102 0 0-6-6 0 0-6-138 0 0-6-6 0 0-6-6 0 0-6-6 0 0-6-6 0 0-6-6 0 0-6 6 0 0-6 6 0 0-36 6 0 0-6 6 0 0-6 6 0 0-6 6 0 0-6 6 0 0-30 6 0 0-6 6 0 0-66 6 0 0-6 6 0 0-6 6 0 0-6 36 0 0-24-6 0 0-48-6 0 0-12-6 0 0-6-12 0 0 6-6 0 0 6-84 0 0 6-30 0 0 6-9 0 27-42 14-18 12-12 22-16 12-4zM749 1117l28 1 18 6 14 11 15 30 7 7 18 10 18 2 0 5-12 0 0 6-6 0 0 6-6 0 0 6-6 0 0 6-6 0 0 6-6 0 0-6-36 0 0 6-12 0 0 6-24 0 0 6-18 0 0 6-30 0 0 6-18 0 0 6-24 0 0 6-18 0 0-6-6 0 0-6-6 0 0-6-6 0 0-6-6 0 0-6-6 0 0-6-36 0 0-6-12 0 0-6-6 0 0-6-6 0 0-6-6 0 0-6-6 0 0-3 12-4 6-5 4-6 6-18 7-12 7-7 12-6 18-4 36 0 48-5 30 0z"/>
<path fill="#45ffba" d="M1869 181l6-3 6-1 12 3 12-1 8 2 3 6-5 5-6 4-12 4-3 5-12 24-2 18 2 6 13 12 8 15 14 15 16 16 12 5 0 397-24-6-60 11-30-1-18-4-18-6-48-24-12-5-12-2-6 1-6 3-18 21-6 5-12 5-42 7-18 1-18-2 0-2 6 0 0-90 6 0 0-30-6 0 0-24-6 0 0-18-6 0 0-18-6 0 0-12-6 0 0-12-6 0 0-12-6 0 0-18-6 0 0-12-6 0 0-18-6 0 0-18-6 0 0-24-6 0 0-12-6 0 0-30-6 0 0-30-6 0 0-48 6 0 0-6 6 0 0-6 6 0 0-18 6 0 0-13 15 31 9 5 12 3 12-2 6-6 5-12 13-17 6-5 6-1 6 1 6 3 18 16 18 9 12 2 18-3 7-5 14-12 16-36 5-6 11-12 13-8 6-3 12-1 48 4 18-3zM1335 367l18 0 0 6 6 0 0 6 6 0 0 6 6 0 0 6 6 0 0 6 6 0 0 18 6 0 0 6 6 0 0 6 6 0 0 12 24 0 0 6 6 0 0 6 6 0 0 6 6 0 0 54-6 0 0 6-6 0 0 12-6 0 0 12 6 0 0 6 6 0 0 6 6 0 0 18 6 0 0 6 6 0 0 18 6 0 0 6 6 0 0 18-12-13-6-3-6 1-13 27-11 18-11 12-13 11-30 17-72 27-18 4-24 1-24-4-24-8-25-12-23-14-18-16-30-30-18-12-5-6-1-12 6-18 16-24 14-14 18-7 48-11 36-4 36-6 24-1 18-6 12-1 12 4 19 10 30 24 35 18 12 13 6 3 12 2 3-6-1-12-6-12-10-18-19-24-10-18-11-27-9-9-29-18-23-18-17-18-12-18 6 0 0-6 18 0 0-6 12 0 0-6 6 0zM1467 619l6 0 0 8zM1424 925l13-5 12 0 42 6 24 8 15 9 12 12 11 18 2 6-1 6-8 6-25 8-12 2-48-13-23-9-21-12-6-6-3-6 0-6 4-12zM1089 937l24-4 12 0 12 3 12 7 30 28 18 7 18 2 12 0 12-3 24-9 12 4 16 13 4 6 3 12-2 18-8 18-19 17-2 7-1 24 4 48 5 9 34 39 25 36 13 24 12 14 6 4 42 14 30 2 30 6 24 2 12 2 36 15 24 2 24 14 18 4 12-2 12-6 30-24 6-2 12 0 6 4 14 23 16 7 30 8 18 13 11 14 4 18-9 0 0-6-60 0 0-6-60 0 0-6-72 0 0-6-72 0 0-6-6 0 0-6-72 0 0-6-96 0 0-6-102 0 0-6-6 0 0-6-138 0 0-6-6 0 0-6-6 0 0-6-6 0 0-6-6 0 0-6-6 0 0-6 6 0 0-6 6 0 0-36 6 0 0-6 6 0 0-6 6 0 0-6 6 0 0-6 6 0 0-30 6 0 0-6 6 0 0-66 6 0 0-6 6 0 0-6 6 0 0-6 36 0 0-24-6 0 0-48-6 0 0-12-6 0 0-6-12 0 0 6-6 0 0 6-84 0 0 6-30 0 0 6-5 0 22-36 19-25 18-17 12-7zM670 1123l29-3 30 0 30-2 24 2 12 6 11 9 8 12 8 18 9 10 12 7 12 4 12 1 0 2-12 0 0 6-6 0 0 6-6 0 0 6-6 0 0 6-6 0 0 6-6 0 0-6-36 0 0 6-12 0 0 6-24 0 0 6-18 0 0 6-30 0 0 6-18 0 0 6-24 0 0 6-18 0 0-6-6 0 0-6-6 0 0-6-6 0 0-6-6 0 0-6-6 0 0-6-36 0 0-6-12 0 0-6-6 0 0-6-6 0 0-6-6 0 0-6 12-5 6-6 5-19 5-12 4-6 10-8 12-5 12-2z"/>
<path fill="#4affb5" d="M1869 181l6-3 6-1 12 3 12-1 8 2 2 6-4 4-6 4-12 4-4 6-11 24-3 18 2 6 13 12 9 16 13 14 17 17 12 5 0 393-24-4-60 9-18 1-18-2-30-9-42-22-18-6-12-2-6 0-6 3-18 21-6 5-12 6-42 7-18 0-18-2 6 0 0-90 6 0 0-30-6 0 0-24-6 0 0-18-6 0 0-18-6 0 0-12-6 0 0-12-6 0 0-12-6 0 0-18-6 0 0-12-6 0 0-18-6 0 0-18-6 0 0-24-6 0 0-12-6 0 0-30-6 0 0-30-6 0 0-48 6 0 0-6 6 0 0-6 6 0 0-18 6 0 0-10 13 28 9 6 14 3 6 0 7-3 5-5 6-13 12-16 6-5 6-1 6 0 6 3 18 17 17 8 13 2 18-3 8-5 13-12 17-36 4-6 11-12 13-8 6-3 12-1 48 5 18-3zM1335 367l18 0 0 6 6 0 0 6 6 0 0 6 6 0 0 6 6 0 0 6 6 0 0 18 6 0 0 6 6 0 0 6 6 0 0 12 24 0 0 6 6 0 0 6 6 0 0 6 6 0 0 54-6 0 0 6-6 0 0 12-6 0 0 12 6 0 0 6 6 0 0 6 6 0 0 18 6 0 0 6 6 0 0 18 6 0 0 6 6 0 0 12-17-18-3-6-5-18-6-12-11-18-20-24-13-24-9-22-8-8-29-18-21-18-16-18-12-18 2 0 0-6 18 0 0-6 12 0 0-6 6 0zM1301 517l10-1 6 2 24 12 30 23 34 18 14 15 15 9 3 6-1 12-5 12-10 18-8 11-22 19-26 15-66 25-18 5-24 1-24-3-30-10-36-19-18-13-39-37-23-18-2-6 1-6 4-12 5-12 17-24 13-10 18-5 42-9 36-4 36-7 24-1zM1471 619l2 0 0 2zM1428 925l9-3 12 0 42 6 24 8 18 12 11 13 6 12 2 6-1 6-6 4-24 9-12 2-48-13-19-8-22-12-6-6-3-6-1-6 5-12 4-6zM1097 937l22-2 18 4 12 7 29 27 13 6 18 3 18-1 36-11 12 5 13 10 5 7 3 11-1 18-8 17-6 6-12 8-3 5-1 6 0 30 4 42 6 11 28 31 21 30 23 38 15 16 9 4 36 11 30 2 30 6 30 3 42 15 24 3 24 14 18 4 12-2 12-6 30-25 6-2 12 0 6 4 14 23 16 7 30 9 18 12 11 14 4 18-9 0 0-6-60 0 0-6-60 0 0-6-72 0 0-6-72 0 0-6-6 0 0-6-72 0 0-6-96 0 0-6-102 0 0-6-6 0 0-6-138 0 0-6-6 0 0-6-6 0 0-6-6 0 0-6-6 0 0-6-6 0 0-6 6 0 0-6 6 0 0-36 6 0 0-6 6 0 0-6 6 0 0-6 6 0 0-6 6 0 0-30 6 0 0-6 6 0 0-66 6 0 0-6 6 0 0-6 6 0 0-6 36 0 0-24-6 0 0-48-6 0 0-12-6 0 0-6-12 0 0 6-6 0 0 6-84 0 0 6-29 0 23-36 20-24 10-9 12-8zM1009 1027l2-4 0 4zM680 1123l25-2 24 0 36-2 12 2 12 3 8 5 10 10 13 26 5 8 12 9 19 7-1 0 0 6-6 0 0 6-6 0 0 6-6 0 0 6-6 0 0 6-6 0 0-6-36 0 0 6-12 0 0 6-24 0 0 6-18 0 0 6-30 0 0 6-18 0 0 6-24 0 0 6-18 0 0-6-6 0 0-6-6 0 0-6-6 0 0-6-6 0 0-6-6 0 0-6-36 0 0-6-12 0 0-6-6 0 0-6-6 0 0-6-6 0 13-6 8-6 7-30 7-12 8-6 11-5 12-2z"/>
<path fill="#4fffb0" d="M1870 181l11-4 12 3 12 0 7 1 2 6-3 4-6 4-12 3-5 7-11 24-2 12 0 8 1 4 13 12 10 17 12 13 18 18 12 5 0 390-24-4-66 10-30-2-30-8-42-22-18-7-12-2-6 0-6 3-18 22-6 5-12 6-42 6-30 0 0-90 6 0 0-30-6 0 0-24-6 0 0-18-6 0 0-18-6 0 0-12-6 0 0-12-6 0 0-12-6 0 0-18-6 0 0-12-6 0 0-18-6 0 0-18-6 0 0-24-6 0 0-12-6 0 0-30-6 0 0-30-6 0 0-48 6 0 0-6 6 0 0-6 6 0 0-18 6 0 0-6 11 24 7 6 18 5 12-3 6-6 7-14 11-15 6-5 6-2 6 1 6 3 18 16 18 9 12 1 18-3 8-5 13-12 17-36 4-6 11-12 13-8 6-2 12-1 48 4 18-3zM1335 367l18 0 0 6 6 0 0 6 6 0 0 6 6 0 0 6 6 0 0 6 6 0 0 18 6 0 0 6 6 0 0 6 6 0 0 12 24 0 0 6 6 0 0 6 6 0 0 6 6 0 0 54-6 0 0 6-6 0 0 12-6 0 0 10-19-22-13-24-6-18-4-6-6-6-29-18-15-12-17-18-15-24-2-6 18 0 0-6 12 0 0-6 6 0zM1287 523l12-4 12-2 18 7 18 11 24 19 31 17 17 17 10 7 4 6 0 12-4 12-6 12-13 18-21 17-30 17-66 24-24 4-24-1-36-10-36-19-24-17-36-33-22-18-3-6 1-6 6-18 15-24 9-10 6-4 18-6 42-9 36-4 36-7zM1427 541l4 0 0 6 6 0 0 6 6 0 0 14zM1445 571l4 0 0 6 6 0 0 16zM1457 595l4 0 0 5zM1462 601l5 0 0 7zM1432 925l17-1 36 5 18 4 12 5 16 11 10 12 6 12 2 6-2 6-26 12-12 2-48-14-28-12-16-12-3-6-1-6 1-6 5-9 6-6zM1085 943l22-5 12 0 12 2 18 10 24 23 6 4 18 6 12 1 18-1 36-11 12 5 12 10 6 10 1 6 1 12-3 12-7 12-4 4-15 8-3 6-1 30 6 48 7 12 30 35 26 37 16 28 12 14 12 6 36 11 30 2 30 6 30 2 42 15 24 2 24 14 18 4 12-2 12-6 30-25 6-2 12 0 6 5 14 22 16 7 30 9 18 12 11 14 4 18-9 0 0-6-60 0 0-6-60 0 0-6-72 0 0-6-72 0 0-6-6 0 0-6-72 0 0-6-96 0 0-6-102 0 0-6-6 0 0-6-138 0 0-6-6 0 0-6-6 0 0-6-6 0 0-6-6 0 0-6-6 0 0-6 6 0 0-6 6 0 0-36 6 0 0-6 6 0 0-6 6 0 0-6 6 0 0-6 6 0 0-30 6 0 0-6 6 0 0-66 6 0 0-6 6 0 0-6 6 0 0-6 36 0 0-24-6 0 0-48-6 0 0-12-6 0 0-6-12 0 0 6-6 0 0 6-84 0 0 6-26 0 19-30 18-24 13-12zM690 1123l75-2 12 1 12 4 12 8 5 7 13 27 6 8 12 9 18 7 0 3-6 0 0 6-6 0 0 6-6 0 0 6-6 0 0 6-6 0 0-6-36 0 0 6-12 0 0 6-24 0 0 6-18 0 0 6-30 0 0 6-18 0 0 6-24 0 0 6-18 0 0-6-6 0 0-6-6 0 0-6-6 0 0-6-6 0 0-6-6 0 0-6-36 0 0-6-12 0 0-6-6 0 0-6-6 0 0-4 12-6 6-5 2-3 2-18 3-12 8-12 8-6 19-6z"/>
<path fill="#54ffab" d="M1870 181l11-3 12 3 18 0 3 6-3 3-6 4-12 3-6 8-11 24-2 12 1 11 13 13 11 18 24 25 6 6 12 5 0 387-24-4-66 10-30-2-24-6-48-24-18-7-12-2-12 2-19 24-7 6-10 5-42 6-30-1 0-88 6 0 0-30-6 0 0-24-6 0 0-18-6 0 0-18-6 0 0-12-6 0 0-12-6 0 0-12-6 0 0-18-6 0 0-12-6 0 0-18-6 0 0-18-6 0 0-24-6 0 0-12-6 0 0-30-6 0 0-30-6 0 0-48 6 0 0-6 6 0 0-6 6 0 0-18 6 0 0-4 12 25 6 4 12 4 12 0 6-2 6-6 7-15 11-13 6-6 6-2 6 1 6 3 18 16 18 8 12 2 18-3 9-6 13-12 16-36 5-6 11-12 12-7 6-3 12-1 48 4 18-3zM1335 367l18 0 0 6 6 0 0 6 6 0 0 6 6 0 0 6 6 0 0 6 6 0 0 18 6 0 0 6 6 0 0 6 6 0 0 12 24 0 0 6 6 0 0 6 6 0 0 6 6 0 0 54-6 0 0 6-6 0 0 12-6 0 0 8-13-14-8-12-10-18-7-18-4-7-12-10-22-13-14-12-16-18-12-18-5-12 15 0 0-6 12 0 0-6 6 0zM1290 523l15-5 6 0 12 4 12 7 36 26 30 17 25 23 4 6 1 6-2 12-5 12-11 18-19 18-30 18-77 29-24 2-30-5-30-11-36-21-18-13-54-47-3-6 0-6 3-12 9-18 14-18 13-8 54-14 36-4 36-6 24-2zM1429 541l2 0 0 3zM1433 547l4 0 0 6zM1437 553l6 0 0 9zM1451 577l4 0 0 8zM1424 931l13-5 12 0 38 5 21 6 13 7 13 11 8 12 3 12-3 6-12 6-9 4-12 2-12-2-42-13-24-12-12-10-3-5-1-6 1-6 3-6zM1091 943l22-3 19 3 17 10 24 23 18 8 18 2 18-1 36-10 12 5 12 11 4 6 2 12-3 18-3 7-6 7-18 9-2 7 0 36 6 42 8 14 24 28 24 33 24 40 12 14 7 3 41 12 30 2 30 6 30 3 40 13 26 3 24 13 18 5 12-3 12-6 30-24 6-3 12 1 6 4 14 22 16 8 30 8 18 12 10 14 4 18-8 0 0-6-60 0 0-6-60 0 0-6-72 0 0-6-72 0 0-6-6 0 0-6-72 0 0-6-96 0 0-6-102 0 0-6-6 0 0-6-138 0 0-6-6 0 0-6-6 0 0-6-6 0 0-6-6 0 0-6-6 0 0-6 6 0 0-6 6 0 0-36 6 0 0-6 6 0 0-6 6 0 0-6 6 0 0-6 6 0 0-30 6 0 0-6 6 0 0-66 6 0 0-6 6 0 0-6 6 0 0-6 36 0 0-24-6 0 0-48-6 0 0-12-6 0 0-6-12 0 0 6-6 0 0 6-84 0 0 6-23 0 18-30 19-24 16-14zM742 1123l29 0 12 2 8 4 13 12 14 30 7 9 12 9 18 6-6 0 0 6-6 0 0 6-6 0 0 6-6 0 0 6-6 0 0-6-36 0 0 6-12 0 0 6-24 0 0 6-18 0 0 6-30 0 0 6-18 0 0 6-24 0 0 6-18 0 0-6-6 0 0-6-6 0 0-6-6 0 0-6-6 0 0-6-6 0 0-6-36 0 0-6-12 0 0-6-6 0 0-6-6 0 12-5 9-7 3-6 1-18 2-12 9-12 9-6 21-5 72-6z"/>
<path fill="#5dffa2" d="M1871 181l10-3 12 3 12-1 6 2 2 5-2 2-6 4-12 4-6 6-12 26-2 18 1 6 13 12 11 18 25 26 6 6 12 5 0 383-24-2-66 9-30-2-24-6-45-23-21-8-12-1-12 2-21 25-15 10-12 2-30 4-30-2 0-86 6 0 0-30-6 0 0-24-6 0 0-18-6 0 0-18-6 0 0-12-6 0 0-12-6 0 0-12-6 0 0-18-6 0 0-12-6 0 0-18-6 0 0-18-6 0 0-24-6 0 0-12-6 0 0-30-6 0 0-30-6 0 0-48 6 0 0-6 6 0 0-6 6 0 0-18 6-1 9 19 5 6 16 6 12 0 6-2 6-5 8-17 10-12 6-6 6-2 6 0 6 3 18 16 18 9 12 1 18-3 9-6 13-12 17-36 15-18 12-7 6-3 12-1 48 4 18-2zM1335 367l18 0 0 6 6 0 0 6 6 0 0 6 6 0 0 6 6 0 0 6 6 0 0 18 6 0 0 6 6 0 0 6 6 0 0 12 24 0 0 6 6 0 0 6 6 0 0 6 6 0 0 54-6 0 0 6-6 0 0 12-6 0 0 6-18-20-9-16-10-24-5-8-6-6-26-16-15-12-10-12-12-18-8-18 11 0 0-6 12 0 0-6 6 0zM1293 523l12-4 6 0 11 4 11 6 38 27 30 18 26 27 2 6-2 12-5 12-11 18-22 20-29 16-73 27-24 2-24-3-36-14-31-18-47-37-26-23-3-6-1-6 3-12 9-18 12-16 12-9 18-6 36-8 36-4 36-6 24-2zM1435 547l2 0 0 2zM1440 553l3 0 0 5zM1427 931l10-4 12 0 36 5 24 7 12 7 10 9 8 12 3 12-5 6-10 6-12 5-6 0-12-2-45-15-23-12-7-6-4-6-1-6 1-6 3-6zM1100 943l19-1 18 6 12 8 23 23 14 6 17 3 18 0 12-2 30-9 12 5 10 9 4 6 3 12-3 18-8 12-18 8-3 4-1 6 0 36 7 42 9 16 27 32 26 36 19 33 12 14 48 14 30 2 30 6 24 2 12 2 32 11 28 3 24 14 18 4 12-2 12-6 30-25 6-2 12 0 6 4 13 22 17 8 30 8 18 12 10 14 4 18-8 0 0-6-60 0 0-6-60 0 0-6-72 0 0-6-72 0 0-6-6 0 0-6-72 0 0-6-96 0 0-6-102 0 0-6-6 0 0-6-138 0 0-6-6 0 0-6-6 0 0-6-6 0 0-6-6 0 0-6-6 0 0-6 6 0 0-6 6 0 0-36 6 0 0-6 6 0 0-6 6 0 0-6 6 0 0-6 6 0 0-30 6 0 0-6 6 0 0-66 6 0 0-6 6 0 0-6 6 0 0-6 36 0 0-24-6 0 0-48-6 0 0-12-6 0 0-6-12 0 0 6-6 0 0 6-84 0 0 6-20 0 22-36 16-19 18-15 12-5zM658 1129l47-5 60 0 18 3 12 6 7 8 14 30 9 12 12 9 12 4 0 5-6 0 0 6-6 0 0 6-6 0 0 6-6 0 0-6-36 0 0 6-12 0 0 6-24 0 0 6-18 0 0 6-30 0 0 6-18 0 0 6-24 0 0 6-18 0 0-6-6 0 0-6-6 0 0-6-6 0 0-6-6 0 0-6-6 0 0-6-36 0 0-6-12 0 0-6-6 0 0-4 12-7 7-7 2-6 1-24 5-12 6-6 9-5 12-3z"/>
<path fill="#6aff95" d="M1873 181l8-2 12 4 12-2 6 5-6 5-12 4-6 5-13 29-2 18 1 6 4 6 10 8 9 16 27 29 6 6 12 4 0 376-30-1-66 8-24-2-24-5-42-22-24-9-12-2-12 3-6 5-18 24-12 7-12 3-30 3-30-3 0-82 6 0 0-30-6 0 0-24-6 0 0-18-6 0 0-18-6 0 0-12-6 0 0-12-6 0 0-12-6 0 0-18-6 0 0-12-6 0 0-18-6 0 0-18-6 0 0-24-6 0 0-12-6 0 0-30-6 0 0-30-6 0 0-48 6 0 0-6 6 0 0-6 6 0 0-18 2 0 10 18 6 7 18 7 12 1 12-8 10-19 14-16 6-3 6 1 6 2 18 16 18 8 12 2 18-3 11-7 12-12 17-36 14-17 12-7 6-3 12-1 36 4 12 0 24-5zM1335 367l18 0 0 6 6 0 0 6 6 0 0 6 6 0 0 6 6 0 0 6 6 0 0 18 6 0 0 6 6 0 0 6 6 0 0 12 24 0 0 6 6 0 0 6 6 0 0 6 6 0 0 54-6 0 0 6-6 0 0 12-6 0 0 2-13-14-12-18-10-24-7-11-36-25-12-12-8-12-13-30 3 0 0-6 12 0 0-6 6 0zM1301 523l10-1 4 1 26 14 30 22 29 18 22 24 2 6-1 12-6 12-10 16-7 8-14 12-27 15-72 27-18 1-24-3-30-11-30-17-60-43-12-11-8-12-2-6 2-12 8-18 12-15 12-8 48-14 96-11zM1426 937l11-5 12 0 35 5 19 5 13 7 11 9 6 9 2 6-1 6-5 6-8 6-12 2-48-15-24-11-12-11-3-7 1-6zM1096 949l17-2 18 4 15 10 24 24 15 6 18 2 18 0 42-10 12 5 6 6 5 9 1 6-1 18-5 8-6 4-12 3-4 3-4 6-1 6-1 18 1 18 10 42 5 12 6 9 23 27 25 34 24 41 6 8 6 4 48 13 30 2 30 6 24 2 42 11 24 2 9 3 21 12 18 4 12-2 12-6 30-25 6-3 12 1 6 4 13 21 17 8 30 8 18 13 10 13 4 18-8 0 0-6-60 0 0-6-60 0 0-6-72 0 0-6-72 0 0-6-6 0 0-6-72 0 0-6-96 0 0-6-102 0 0-6-6 0 0-6-138 0 0-6-6 0 0-6-6 0 0-6-6 0 0-6-6 0 0-6-6 0 0-6 6 0 0-6 6 0 0-36 6 0 0-6 6 0 0-6 6 0 0-6 6 0 0-6 6 0 0-30 6 0 0-6 6 0 0-66 6 0 0-6 6 0 0-6 6 0 0-6 36 0 0-24-6 0 0-48-6 0 0-12-6 0 0-6-12 0 0 6-6 0 0 6-84 0 0 6-13 0 22-36 15-18 12-10zM682 1129l23-2 54 0 12 1 12 3 12 8 6 8 12 30 6 10 12 10 12 5 0 5-6 0 0 6-6 0 0 6-6 0 0-6-36 0 0 6-12 0 0 6-24 0 0 6-18 0 0 6-30 0 0 6-18 0 0 6-24 0 0 6-18 0 0-6-6 0 0-6-6 0 0-6-6 0 0-6-6 0 0-6-6 0 0-6-36 0 0-6-12 0 0-4 12-9 7-11 3-30 2-6 6-8 6-4 12-4z"/>
<path fill="#77ff88" d="M1875 181l6-1 12 5 12-1 3 3-9 4-6 1-7 7-14 30-2 12 1 12 4 6 12 11 8 13 28 31 6 6 12 5 0 368-30 0-60 7-24-1-30-6-36-20-30-10-12-2-12 3-6 4-16 23-7 6-7 4-18 4-24 1-30-2 0-79 6 0 0-30-6 0 0-24-6 0 0-18-6 0 0-18-6 0 0-12-6 0 0-12-6 0 0-12-6 0 0-18-6 0 0-12-6 0 0-18-6 0 0-18-6 0 0-24-6 0 0-12-6 0 0-30-6 0 0-30-6 0 0-48 6 0 0-6 6 0 0-6 6 0 0-16 12 19 6 7 18 7 12 0 12-8 16-27 8-9 6-2 6 0 6 3 18 15 18 8 12 2 18-3 12-8 12-12 16-36 14-16 12-8 6-3 12-1 36 5 12 0 24-5zM1335 367l18 0 0 6 6 0 0 6 6 0 0 6 6 0 0 6 6 0 0 6 6 0 0 18 6 0 0 6 6 0 0 6 6 0 0 12 24 0 0 6 6 0 0 6 6 0 0 6 6 0 0 54-6 0 0 6-6 0 0 12-3 0-9-8-12-14-8-14-10-24-4-6-35-24-15-18-8-18-6-24 8 0 0-6 6 0zM1293 529l12-4 6 0 18 8 66 44 23 24 2 6 0 6-4 12-7 12-14 18-18 14-24 12-60 23-18 2-24-3-24-8-28-16-53-36-15-9-11-9-8-12-2-12 6-18 12-18 9-7 48-15 96-11zM1436 937l12 0 31 4 26 8 10 6 7 6 4 6 2 6-1 6-6 8-6 3-6 0-51-17-21-12-6-6-3-6 0-6 3-4zM1093 955l8-2 12-1 18 5 12 9 24 23 18 8 12 2 18-1 48-9 6 2 8 6 6 12 1 12-2 6-7 8-18 7-3 3-5 12-1 18 1 18 10 36 4 12 6 11 52 67 20 35 9 13 7 6 50 13 30 2 30 6 30 3 36 9 24 1 6 2 24 13 18 4 12-2 12-6 30-26 6-2 12 0 6 5 12 20 18 8 30 9 18 12 9 13 4 18-7 0 0-6-60 0 0-6-60 0 0-6-72 0 0-6-72 0 0-6-6 0 0-6-72 0 0-6-96 0 0-6-102 0 0-6-6 0 0-6-138 0 0-6-6 0 0-6-6 0 0-6-6 0 0-6-6 0 0-6-6 0 0-6 6 0 0-6 6 0 0-36 6 0 0-6 6 0 0-6 6 0 0-6 6 0 0-6 6 0 0-30 6 0 0-6 6 0 0-66 6 0 0-6 6 0 0-6 6 0 0-6 36 0 0-24-6 0 0-48-6 0 0-12-6 0 0-6-12 0 0 6-6 0 0 6-84 0 0 6-5 0 17-30 13-18 11-10zM657 1135l54-5 54 1 18 4 9 6 4 6 11 34 6 11 12 11 12 6 0 4-6 0 0 6-6 0 0-6-36 0 0 6-12 0 0 6-24 0 0 6-18 0 0 6-30 0 0 6-18 0 0 6-24 0 0 6-18 0 0-6-6 0 0-6-6 0 0-6-6 0 0-6-6 0 0-6-6 0 0-6-36 0 0-6-4 0 10-10 6-11 3-9 1-24 2-6 5-6 18-6z"/>
<path fill="#83ff7c" d="M1863 187l12-5 6-1 12 6 12 0-6 2-6-1-9 11-14 30-1 12 1 12 3 6 13 12 7 12 30 33 6 6 12 5 0 361-30 1-60 7-24-1-30-7-24-15-12-6-30-9-12-1-12 3-6 4-20 27-10 7-18 4-24 1-18-1-12-2 0-75 6 0 0-30-6 0 0-24-6 0 0-18-6 0 0-18-6 0 0-12-6 0 0-12-6 0 0-12-6 0 0-18-6 0 0-12-6 0 0-18-6 0 0-18-6 0 0-24-6 0 0-12-6 0 0-30-6 0 0-30-6 0 0-48 6 0 0-6 6 0 0-6 6 0 0-12 11 18 7 6 18 7 12 1 12-9 13-23 11-13 6-3 6 1 6 2 18 15 18 8 12 2 18-3 12-8 12-12 17-37 13-15 14-9 4-2 12-1 36 4 12 1 18-3zM1335 367l18 0 0 6 6 0 0 6 6 0 0 6 6 0 0 6 6 0 0 6 6 0 0 18 6 0 0 6 6 0 0 6 6 0 0 12 24 0 0 6 6 0 0 6 6 0 0 6 6 0 0 54-6 0 0 6-6 0 0 11-18-16-6-8-6-11-9-24-5-6-6-6-28-18-14-18-5-12-6-30 1-6 6 0zM1301 529l10-1 6 2 56 35 24 18 16 18 3 6 0 6-4 12-16 24-14 12-23 13-72 28-18-1-18-3-29-13-43-29-44-25-10-8-6-10-2-12 5-18 7-12 6-6 10-6 40-13 90-10zM1436 949l1-2 6-3 18 1 18 2 18 5 18 10 6 8 1 9-7 7-6 1-7-2-46-18-16-12zM1090 961l17-4 18 3 12 8 30 28 18 7 12 2 18-1 48-9 6 2 6 5 4 7 1 6-2 12-8 6-16 6-5 6-3 6-2 12-1 12 3 24 15 42 6 12 51 66 20 36 8 12 7 7 18 7 36 8 90 10 36 8 24 1 6 2 24 13 18 4 12-3 12-6 30-25 12-3 6 1 6 5 12 19 18 9 30 8 18 13 9 12 3 18-6 0 0-6-60 0 0-6-60 0 0-6-72 0 0-6-72 0 0-6-6 0 0-6-72 0 0-6-96 0 0-6-102 0 0-6-6 0 0-6-138 0 0-6-6 0 0-6-6 0 0-6-6 0 0-6-6 0 0-6-6 0 0-6 6 0 0-6 6 0 0-36 6 0 0-6 6 0 0-6 6 0 0-6 6 0 0-6 6 0 0-30 6 0 0-6 6 0 0-66 6 0 0-6 6 0 0-6 6 0 0-6 36 0 0-24-6 0 0-48-6 0 0-12-6 0 0-6-12 0 0 6-6 0 0 6-79 0 14-24 11-16 9-8zM681 1135l36-2 54 2 12 4 6 4 6 10 5 30 5 12 8 10 12 8-36 0 0 6-12 0 0 6-24 0 0 6-18 0 0 6-30 0 0 6-18 0 0 6-24 0 0 6-18 0 0-6-6 0 0-6-6 0 0-6-6 0 0-6-6 0 0-6-6 0 0-6-35 0 10-12 6-12 4-12 2-24 2-6 12-6 23-6zM825 1219l0-6 6 3 0 3z"/>
<path fill="#90ff6f" d="M1866 187l9-4 6 0 8 4-18 36-4 18 2 14 54 64 6 5 12 5 0 354-90 9-18-1-30-7-36-21-30-9-12-2-12 2-12 7-6 6-17 24-11 6-14 2-24 1-18-1-12-3 0-71 6 0 0-30-6 0 0-24-6 0 0-18-6 0 0-18-6 0 0-12-6 0 0-12-6 0 0-12-6 0 0-18-6 0 0-12-6 0 0-18-6 0 0-18-6 0 0-24-6 0 0-12-6 0 0-30-6 0 0-30-6 0 0-48 6 0 0-6 6 0 0-6 6 0 0-8 12 17 6 5 18 8 12 0 12-9 6-7 8-18 10-11 6-3 6 0 6 3 18 14 18 8 12 2 18-3 12-8 12-12 18-38 12-14 15-10 15-3 36 5 12 0 18-3zM1335 367l18 0 0 6 6 0 0 6 6 0 0 6 6 0 0 6 6 0 0 6 6 0 0 18 6 0 0 6 6 0 0 6 6 0 0 12 24 0 0 6 6 0 0 6 6 0 0 6 6 0 0 54-6 0 0 6-6 0 0 7-12-9-12-14-4-8-9-24-5-7-6-6-27-17-10-12-6-12-1-6zM1293 535l12-3 6 0 18 8 36 22 20 15 7 6 16 18 4 6 0 6-5 12-12 19-18 17-24 12-36 13-24 10-12 2-12-1-21-6-21-11-45-31-45-22-9-8-3-6-2-6 1-12 7-17 5-7 7-6 13-6 29-10 90-10zM1460 955l7-2 6 1 27 7 9 6 6 6 0 6-6 2-6-2-36-13-7-5zM1089 967l18-5 12 1 6 3 10 7 26 25 12 7 12 5 12 1 18-2 24-3 18-6 6 0 7 3 5 8 1 4-1 7-6 7-18 7-9 15-3 12-1 12 4 24 19 48 6 12 48 60 20 37 12 16 6 5 18 7 36 7 84 10 41 8 25 1 6 1 24 13 18 4 12-3 12-6 30-25 6-3 10 0 8 6 12 19 18 8 30 8 12 8 11 11 4 6 3 18-6 0 0-6-60 0 0-6-60 0 0-6-72 0 0-6-72 0 0-6-6 0 0-6-72 0 0-6-96 0 0-6-102 0 0-6-6 0 0-6-138 0 0-6-6 0 0-6-6 0 0-6-6 0 0-6-6 0 0-6-6 0 0-6 6 0 0-6 6 0 0-36 6 0 0-6 6 0 0-6 6 0 0-6 6 0 0-6 6 0 0-30 6 0 0-6 6 0 0-66 6 0 0-6 6 0 0-6 6 0 0-6 36 0 0-24-6 0 0-48-6 0 0-12-6 0 0-6-12 0 0 6-6 0 0 6-72 0 22-36zM658 1141l53-6 36 3 24 1 9 2 7 6 3 6 2 12-1 18 1 12 7 12 7 6-17 0 0 6-12 0 0 6-24 0 0 6-18 0 0 6-30 0 0 6-18 0 0 6-24 0 0 6-18 0 0-6-6 0 0-6-6 0 0-6-6 0 0-6-6 0 0-6-6 0 0-6-25 0 8-12 5-12 7-36 8-6 14-6z"/>
<path fill="#9dff62" d="M1868 187l7-3 6 0 4 3-1 6-15 30-1 6-2 18 3 11 54 63 6 4 12 6 0 348-90 9-18-1-30-10-24-15-12-6-30-8-12-1-12 2-12 7-10 11-14 21-6 5-6 2-18 2-18 1-18-3-12-3 0-67 6 0 0-30-6 0 0-24-6 0 0-18-6 0 0-18-6 0 0-12-6 0 0-12-6 0 0-12-6 0 0-18-6 0 0-12-6 0 0-18-6 0 0-18-6 0 0-24-6 0 0-12-6 0 0-30-6 0 0-30-6 0 0-48 6 0 0-6 6 0 0-6 6 0 0-5 12 16 6 5 18 8 12 0 12-9 7-9 9-18 8-9 6-4 6 0 6 3 18 14 12 6 18 4 18-3 12-8 12-11 19-40 11-13 16-11 14-2 36 5 12 0 18-3zM1342 367l11 0 0 6 6 0 0 6 6 0 0 6 6 0 0 6 6 0 0 6 6 0 0 18 6 0 0 6 6 0 0 6 6 0 0 12 24 0 0 6 6 0 0 6 6 0 0 6 6 0 0 54-6 0 0 6-6 0 0 4-12-9-11-13-12-30-7-11-6-5-24-14-10-12-5-12zM1282 541l23-5 12 2 48 27 28 24 14 18 0 6-7 18-9 12-8 9-12 8-24 11-30 10-24 11-6 1-12 0-18-5-18-8-53-37-43-18-8-6-5-6-1-6 1-12 7-16 7-8 21-12 14-6 12-3 24-1zM1102 967l11 0 12 5 34 31 26 13 18 1 36-4 18-7 6-1 6 4 2 6-1 6-7 5-12 4-4 3-5 6-6 12-2 12 0 12 3 24 27 60 52 66 15 30 9 12 13 13 18 8 42 7 84 10 30 5 30 1 6 1 24 13 18 4 18-5 12-8 24-21 6-3 7-1 5 1 6 5 12 19 18 9 30 8 12 7 11 11 3 6 3 18-5 0 0-6-60 0 0-6-60 0 0-6-72 0 0-6-72 0 0-6-6 0 0-6-72 0 0-6-96 0 0-6-102 0 0-6-6 0 0-6-138 0 0-6-6 0 0-6-6 0 0-6-6 0 0-6-6 0 0-6-6 0 0-6 6 0 0-6 6 0 0-36 6 0 0-6 6 0 0-6 6 0 0-6 6 0 0-6 6 0 0-30 6 0 0-6 6 0 0-66 6 0 0-6 6 0 0-6 6 0 0-6 36 0 0-24-6 0 0-48-6 0 0-12-6 0 0-6-12 0 0 6-6 0 0 6-64 0 13-24 8-12 7-6zM682 1141l23-3 12 0 36 5 18 0 6 1 5 3 4 6 0 12-3 12-6 11-6 7 0 6 18 15 0 3-12 0 0 6-24 0 0 6-18 0 0 6-30 0 0 6-18 0 0 6-24 0 0 6-18 0 0-6-6 0 0-6-6 0 0-6-6 0 0-6-6 0 0-6-6 0 0-6-16 0 11-24 5-25 6-11 18-10 12-4z"/>
<path fill="#aaff55" d="M1870 187l5-1 6 0 2 1-1 6-13 27-3 9-1 18 3 12 52 60 9 8 12 7 0 340-84 9-18 0-16-4-14-6-24-17-12-6-18-6-24-3-18 3-12 8-12 13-13 20-5 5-6 2-18 3-18 0-18-3-12-4 0-63 6 0 0-30-6 0 0-24-6 0 0-18-6 0 0-18-6 0 0-12-6 0 0-12-6 0 0-12-6 0 0-18-6 0 0-12-6 0 0-18-6 0 0-18-6 0 0-24-6 0 0-12-6 0 0-30-6 0 0-30-6 0 0-48 6 0 0-6 6 0 0-6 6 0 0-2 10 14 8 6 18 8 12 0 12-9 8-11 9-18 7-8 6-3 6-1 6 3 18 14 14 7 16 3 18-4 12-7 12-11 4-5 16-36 10-12 18-12 12-2 36 6 12 0 18-3zM1349 367l4 0 0 6 6 0 0 6 6 0 0 6 6 0 0 6 6 0 0 6 6 0 0 18 6 0 0 6 6 0 0 6 6 0 0 12 24 0 0 6 6 0 0 6 6 0 0 6 6 0 0 54-6 0 0 6-6 0-12-7-6-6-7-11-8-24-7-12-8-7-21-11-10-12-4-12 3-18zM1298 541l7-1 12 2 42 22 23 19 16 18 3 6 1 6-4 12-11 18-10 9-24 13-60 21-6 2-12-1-12-2-13-6-59-40-35-14-12-6-7-6-1-12 3-12 4-8 10-10 20-12 18-6 24-1 24-3 30-2zM1099 973l8-2 12 3 7 5 24 24 11 7 18 10 18 3 36-2 6 3 2 3-11 24-2 12 1 18 4 18 25 54 7 12 48 60 15 30 8 12 11 12 6 4 18 8 42 7 114 14 30 0 6 2 18 10 12 4 12 2 12-3 12-6 28-24 8-5 6-1 6 2 5 4 13 20 18 8 30 8 12 8 10 10 4 6 3 18-5 0 0-6-60 0 0-6-60 0 0-6-72 0 0-6-72 0 0-6-6 0 0-6-72 0 0-6-96 0 0-6-102 0 0-6-6 0 0-6-138 0 0-6-6 0 0-6-6 0 0-6-6 0 0-6-6 0 0-6-6 0 0-6 6 0 0-6 6 0 0-36 6 0 0-6 6 0 0-6 6 0 0-6 6 0 0-6 6 0 0-30 6 0 0-6 6 0 0-66 6 0 0-6 6 0 0-6 6 0 0-6 36 0 0-24-6 0 0-48-6 0 0-12-6 0 0-6-12 0 0 6-6 0 0 6-57 0 17-30 5-6zM1255 1015l8-3 2 3-2 3-6 1zM704 1141l19 1 30 6 18 0 6 1 4 4 0 6-4 10-8 8-16 11-4 7 1 6 3 6 24 18-24 0 0 6-18 0 0 6-30 0 0 6-18 0 0 6-24 0 0 6-18 0 0-6-6 0 0-6-6 0 0-6-6 0 0-6-6 0 0-6-6 0 0-6-7 0 7-18 8-30 3-6 5-6 8-5 12-5z"/>
<path fill="#b6ff49" d="M1874 187l3 0 3 6-11 24-4 12-2 18 3 12 52 60 11 10 12 7 0 333-48 7-42 4-12-1-17-6-10-6-21-17-12-7-18-6-30-3-18 4-12 9-12 13-17 25-7 4-18 3-18 0-18-4-12-4 0-59 6 0 0-30-6 0 0-24-6 0 0-18-6 0 0-18-6 0 0-12-6 0 0-12-6 0 0-12-6 0 0-18-6 0 0-12-6 0 0-18-6 0 0-18-6 0 0-24-6 0 0-12-6 0 0-30-6 0 0-30-6 0 0-48 6 0 0-6 6 0 0-6 5 0 13 16 6 4 18 8 12 0 6-3 6-6 10-13 9-18 5-6 6-4 6 0 6 2 18 14 12 6 18 3 18-3 12-7 12-11 4-6 17-36 10-12 17-11 12-2 36 5 12 1 18-3zM1356 373l3 0 0 6 6 0 0 6 6 0 0 6 6 0 0 6 6 0 0 18 6 0 0 6 6 0 0 6 6 0 0 12 24 0 0 6 6 0 0 6 6 0 0 6 6 0 0 54-6 0 0 6-18-10-8-8-5-12-5-18-7-12-11-9-18-9-7-6-3-6-3-12 4-18zM1287 547l18-3 18 5 42 22 18 18 10 12 4 12-1 6-6 12-13 17-12 7-30 12-42 13-6 2-12 0-12-3-12-6-31-24-29-16-34-14-9-6-4-6 1-12 5-12 11-12 19-12 11-3 24 0 24-4 30-1zM1098 979l9-3 11 3 23 24-10 0 0 6-6 0 0 6-48 0 11-24zM1143 1009l0-4 5 4zM1149 1015l0-6 12 8 18 8 18 4 26 4 2 6-2 24 4 30 28 60 14 23 18 19 23 30 23 42 10 12 10 7 18 8 42 7 108 13 36-1 6 2 18 11 18 5 12-1 12-4 12-8 23-21 7-4 6-1 6 2 4 3 14 20 18 8 30 9 12 7 10 10 3 6 2 6 1 12-4 0 0-6-60 0 0-6-60 0 0-6-72 0 0-6-72 0 0-6-6 0 0-6-72 0 0-6-96 0 0-6-102 0 0-6-6 0 0-6-138 0 0-6-6 0 0-6-6 0 0-6-6 0 0-6-6 0 0-6-6 0 0-6 6 0 0-6 6 0 0-36 6 0 0-6 6 0 0-6 6 0 0-6 6 0 0-6 6 0 0-30 6 0 0-6 6 0 0-66 6 0 0-6 6 0 0-6 6 0 0-6 36 0 0-24-6 0 0-48-6 0zM685 1147l20-3 12 0 14 3 31 12 1 6-16 21-3 9-1 6 4 11 10 13-4 0 0 6-18 0 0 6-30 0 0 6-18 0 0 6-24 0 0 6-18 0 0-6-6 0 0-6-6 0 0-6-6 0 0-6-6 0 0-6-6 0 10-30 5-24 9-12 11-6z"/>
<path fill="#c3ff3c" d="M1777 193l14 0 24 4 18 1 18-2 24-7 3 4-2 6-11 24-3 12 0 12 2 12 52 60 7 7 18 13 0 325-42 8-54 3-10-2-12-6-38-34-12-4-42-3-12 2-18 12-12 15-16 24-8 7-12 2-18 1-24-4-12-5 0-55 6 0 0-30-6 0 0-24-6 0 0-18-6 0 0-18-6 0 0-12-6 0 0-12-6 0 0-12-6 0 0-18-6 0 0-12-6 0 0-18-6 0 0-18-6 0 0-24-6 0 0-12-6 0 0-30-6 0 0-30-6 0 0-48 6 0 0-6 6 0 0-6 1 0 17 18 6 4 18 8 12 0 6-3 6-5 11-16 7-15 6-8 6-4 6 0 6 3 18 14 12 5 18 3 18-3 12-7 13-12 7-12 10-24 12-16 10-8zM1362 379l3 0 0 6 6 0 0 6 6 0 0 6 6 0 0 18 6 0 0 6 6 0 0 6 6 0 0 12 24 0 0 6 6 0 0 6 6 0 0 6 6 0 0 54-6 0 0 3-18-9-6-6-5-12-5-18-6-12-8-8-24-12-8-10-2-12 6-18zM1279 553l20-4 18 2 42 19 6 4 22 27 5 12-3 12-12 18-12 8-26 10-46 13-18 1-18-6-32-26-28-14-26-10-10-6-5-6-3-6 1-6 4-12 11-12 16-10 6-2 24 1 24-5 24 0zM1101 985l6-3 8 3 16 19 0 5-6 0 0 6-39 0zM1149 1021l0-4 21 10 33 12 8 6 3 6 6 30 5 18 19 36 11 24 12 18 40 48 19 36 9 12 12 13 12 7 12 5 24 3 18 4 60 7 54 4 30-2 30 15 18 3 12-3 12-6 30-26 6-3 6-1 6 1 3 3 15 21 18 8 30 8 12 8 9 9 4 6 2 6 0 12-3 0 0-6-60 0 0-6-60 0 0-6-72 0 0-6-72 0 0-6-6 0 0-6-72 0 0-6-96 0 0-6-102 0 0-6-6 0 0-6-138 0 0-6-6 0 0-6-6 0 0-6-6 0 0-6-6 0 0-6-6 0 0-6 6 0 0-6 6 0 0-36 6 0 0-6 6 0 0-6 6 0 0-6 6 0 0-6 6 0 0-30 6 0 0-6 6 0 0-66 6 0 0-6 6 0 0-6 6 0 0-6 36 0 0-24-6 0 0-48zM702 1147l15 0 12 3 14 9 4 6 0 6-7 18-2 12 3 17 8 13-14 0 0 6-30 0 0 6-18 0 0 6-24 0 0 6-18 0 0-6-6 0 0-6-6 0 0-6-6 0 0-6-6 0 11-36 5-24 8-10 6-4z"/>
<path fill="#d0ff2f" d="M1780 193l47 6 24-2 18-6 6 1 0 7-9 18-4 12-2 18 3 12 6 9 45 51 9 9 18 14 0 317-42 9-54 3-11-4-8-6-12-12-17-25-6-6-6-2-36 3-24-3-6 1-6 4-12 12-30 44-6 5-9 3-15 2-12-1-12-2-18-9 0-50 6 0 0-30-6 0 0-24-6 0 0-18-6 0 0-18-6 0 0-12-6 0 0-12-6 0 0-12-6 0 0-18-6 0 0-12-6 0 0-18-6 0 0-18-6 0 0-24-6 0 0-12-6 0 0-30-6 0 0-30-6 0 0-48 6 0 0-6 6 0 0-5 6 5 9 12 9 7 18 7 12 0 6-3 12-13 6-10 5-12 7-9 6-4 6-1 6 3 18 14 12 6 18 2 18-2 12-8 14-13 7-12 10-24 14-18 15-10zM1366 385l5 0 0 6 6 0 0 6 6 0 0 18 6 0 0 6 6 0 0 6 6 0 0 12 24 0 0 6 6 0 0 6 6 0 0 6 6 0 0 54-4 0-14-5-10-7-4-6-7-30-8-12-8-6-23-11-5-7-1-12 6-18zM1239 559l30 0 24-4 12-1 12 1 12 4 26 12 10 8 13 16 7 12 2 6-3 12-13 18-12 6-30 10-30 7-18 3-12-2-11-6-29-24-32-16-20-8-9-6-3-6-1-6 3-12 18-18 6-2 24 2zM1103 1009l4-4 6-1 12 8 0 3-26 0zM1155 1033l0-6 31 12 11 6 6 6 6 12 12 36 34 66 13 18 37 42 18 36 8 12 10 11 12 10 18 7 24 3 18 4 36 3 30 5 42 2 36-2 24 12 18 5 12-1 12-5 12-7 24-22 6-4 6-1 8 4 16 21 18 8 30 8 12 8 9 9 3 6 2 6 1 12-3 0 0-6-60 0 0-6-60 0 0-6-72 0 0-6-72 0 0-6-6 0 0-6-72 0 0-6-96 0 0-6-102 0 0-6-6 0 0-6-138 0 0-6-6 0 0-6-6 0 0-6-6 0 0-6-6 0 0-6-6 0 0-6 6 0 0-6 6 0 0-36 6 0 0-6 6 0 0-6 6 0 0-6 6 0 0-6 6 0 0-30 6 0 0-6 6 0 0-66 6 0 0-6 6 0 0-6 6 0 0-6 36 0 0-24-6 0zM690 1153l15-3 12 0 12 5 6 4 4 6 0 12-6 18-2 12 1 12 4 12-1 0 0 6-30 0 0 6-18 0 0 6-24 0 0 6-18 0 0-6-6 0 0-6-6 0 0-6-4 0 15-66 4-6 9-5 18-3z"/>
<path fill="#ddff22" d="M1867 193l3 0 2 6-8 18-4 12-1 18 2 12 8 11 43 49 29 27 0 308-42 10-54 3-10-6-10-12-22-42-6-7-6 0-24 8-18 3-13-4-7-6-4-6-6-6-8 18-37 60-9 11-12 5-12 1-18-2-12-4-12-8 0-45 6 0 0-30-6 0 0-24-6 0 0-18-6 0 0-18-6 0 0-12-6 0 0-12-6 0 0-12-6 0 0-18-6 0 0-12-6 0 0-18-6 0 0-18-6 0 0-24-6 0 0-12-6 0 0-30-6 0 0-30-6 0 0-48 6 0 0-6 6 0 0-2 13 14 11 9 12 6 12 2 12-3 6-5 11-15 8-18 5-7 6-5 6 0 6 3 18 13 12 6 18 2 18-2 12-7 12-11 7-10 5-13 12-23 10-12 14-9 12-2 36 6 12 0 18-2zM1370 391l1-5 0 5 6 0 0 6 6 0 0 18 6 0 0 6 6 0 0 6 6 0 0 12 24 0 0 6 6 0 0 6 6 0 0 6 6 0 0 52-18-6-7-4-5-6-7-30-6-12-11-9-18-6-5-3-4-6 0-12zM1234 565l11-1 24 1 36-6 12 1 12 4 30 14 21 29 1 6 0 6-10 18-9 6-17 6-22 6-24 5-18 1-12-3-30-24-54-29-5-4-3-6 0-6 1-6 11-12 8-1 18 1zM1155 1039l0-5 24 8 12 8 6 7 19 42 35 66 13 18 38 42 18 36 8 12 13 15 12 10 12 5 30 4 18 5 36 2 30 5 42 2 36-4 6 2 18 11 18 4 12-1 12-4 12-8 24-22 6-4 6-1 8 3 16 22 18 7 30 9 12 8 8 8 4 6 2 6 0 12-2 0 0-6-60 0 0-6-60 0 0-6-72 0 0-6-72 0 0-6-6 0 0-6-72 0 0-6-96 0 0-6-102 0 0-6-6 0 0-6-138 0 0-6-6 0 0-6-6 0 0-6-6 0 0-6-6 0 0-6-6 0 0-6 6 0 0-6 6 0 0-36 6 0 0-6 6 0 0-6 6 0 0-6 6 0 0-6 6 0 0-30 6 0 0-6 6 0 0-66 6 0 0-6 6 0 0-6 6 0 0-6 36 0 0-24-6 0zM704 1153l13 0 11 6 4 6 1 12-8 24-2 12 0 12 2 12-20 0 0 6-18 0 0 6-24 0 0 6-18 0 0-6-6 0 3-30 7-36 4-12 4-4 4-2 14-3z"/>
<path fill="#e9ff16" d="M1769 199l10-4 6-1 42 7 12 0 24-5 6 1 1 2-11 30-2 18 2 12 9 12 43 49 30 30 0 299-24 8-18 4-48 1-6-1-11-12-21-42-11-12-5-2-6-1-30 8-12 2-6-2-15-17-9-3-7 3-5 6-20 48-13 24-9 12-6 4-12 4-12 0-12-2-13-6-11-8 0-40 6 0 0-30-6 0 0-24-6 0 0-18-6 0 0-18-6 0 0-12-6 0 0-12-6 0 0-12-6 0 0-18-6 0 0-12-6 0 0-18-6 0 0-18-6 0 0-24-6 0 0-12-6 0 0-30-6 0 0-30-6 0 0-48 6 0 0-6 6 1 18 18 18 10 12 2 12-3 6-5 12-17 8-18 10-10 6-1 6 3 18 13 12 6 18 3 18-3 12-7 12-11 8-11 16-35 11-13zM1374 391l3 0 0 6 6 0 0 18 6 0 0 6 6 0 0 6 6 0 0 12 24 0 0 6 6 0 0 6 6 0 0 6 6 0 0 48-18-4-6-4-5-10-4-24-6-12-9-9-12-5-12-3-7-7 1-12zM1244 571l25 1 36-6 12 0 12 4 24 10 6 6 14 21 3 6-1 6-8 12-7 6-25 10-12 3-18 2-18-1-9-2-9-5-23-19-26-12-20-18-2-6 5-5 18-4 18-8zM1155 1045l0-3 18 4 9 5 6 6 41 72 18 36 16 21 36 39 18 36 7 12 17 20 12 10 12 4 24 2 24 7 36 2 36 5 36 1 36-5 6 2 12 8 24 6 12-1 12-4 12-8 24-23 6-3 6-1 7 2 17 22 18 8 30 8 12 8 11 14 2 6 1 12-2 0 0-6-60 0 0-6-60 0 0-6-72 0 0-6-72 0 0-6-6 0 0-6-72 0 0-6-96 0 0-6-102 0 0-6-6 0 0-6-138 0 0-6-6 0 0-6-6 0 0-6-6 0 0-6-6 0 0-6-6 0 0-6 6 0 0-6 6 0 0-36 6 0 0-6 6 0 0-6 6 0 0-6 6 0 0-6 6 0 0-30 6 0 0-6 6 0 0-66 6 0 0-6 6 0 0-6 6 0 0-6 36 0 0-24-6 0zM697 1159l14-4 6 2 5 2 5 6 1 6-3 12-12 30-4 24-4 0 0 6-18 0 0 6-24 0 0 6-5 0-6-36 7-36 3-6 7-5z"/>
<path fill="#f6ff09" d="M1771 199l8-3 6-1 42 7 36-4 2 1 0 6-7 18-2 12 0 12 2 12 7 12 76 84 0 288-24 9-18 5-12 0-36-4-6-4-4-6-11-24-8-12-10-12-9-6-12-2-36 5-6-1-22-14-8-2-6 1-6 4-9 9-5 12-14 42-14 25-6 5-12 5-12 0-12-2-12-7-12-11 0-33 6 0 0-30-6 0 0-24-6 0 0-18-6 0 0-18-6 0 0-12-6 0 0-12-6 0 0-12-6 0 0-18-6 0 0-12-6 0 0-18-6 0 0-18-6 0 0-24-6 0 0-12-6 0 0-30-6 0 0-30-6 0 0-48 6 0 0-4 6 2 12 14 12 8 12 6 12 1 12-3 8-6 12-18 8-18 8-8 6-1 6 2 12 10 18 9 18 3 18-3 12-7 12-11 9-12 15-33 12-15zM1376 397l1-2 0 2 6 0 0 18 6 0 0 6 6 0 0 6 6 0 0 12 24 0 0 6 6 0 0 6 6 0 0 6 6 0 0 44-18-3-7-5-7-36-7-12-9-7-6-3-18-4-3-4-2-6 2-6zM1292 577l13-3 12 0 12 3 18 8 6 4 12 18 1 6-1 7-10 11-12 6-17 6-21 1-18-5-9-8-9-16-24-14-2-6 7-6 19-4zM1155 1051l0-1 12 1 6 2 6 4 10 18 14 19 18 29 19 36 7 12 16 20 33 34 24 48 21 26 12 8 18 6 18 1 18 6 42 1 36 6 30 0 30-6 12-1 18 11 24 6 12-2 12-4 12-8 24-23 6-3 6-2 6 2 18 23 18 7 30 8 12 9 11 13 2 6 0 12-1-6-60 0 0-6-60 0 0-6-72 0 0-6-72 0 0-6-6 0 0-6-72 0 0-6-96 0 0-6-102 0 0-6-6 0 0-6-138 0 0-6-6 0 0-6-6 0 0-6-6 0 0-6-6 0 0-6-6 0 0-6 6 0 0-6 6 0 0-36 6 0 0-6 6 0 0-6 6 0 0-6 6 0 0-6 6 0 0-30 6 0 0-6 6 0 0-66 6 0 0-6 6 0 0-6 6 0 0-6 36 0 0-24-6 0zM710 1159l7 2 4 4 1 6-1 6-4 8-18 23-12 11-6 1-6-4-4-9 0-12 4-11 6-7 16-12z"/>
<path fill="#fffb00" d="M1772 199l13-3 42 7 30-2 5 4-5 18-3 18 0 12 5 12 14 18 26 27 29 33 13 18 0 276-24 10-18 5-12 0-18-3-12-5-6-5-13-26-17-18-12-9-8-3-10-2-36 2-30-11-12 0-12 5-11 12-6 12-7 36-12 26-6 6-7 4-11 2-12-1-15-7-15-16 0-26 6 0 0-30-6 0 0-24-6 0 0-18-6 0 0-18-6 0 0-12-6 0 0-12-6 0 0-12-6 0 0-18-6 0 0-12-6 0 0-18-6 0 0-18-6 0 0-24-6 0 0-12-6 0 0-30-6 0 0-30-6 0 0-48 6-1 6 3 12 13 18 11 6 2 12 1 12-2 10-9 12-18 7-18 7-7 6-1 4 2 20 14 12 5 18 3 18-3 12-7 14-12 8-12 14-32 12-14zM1381 397l2 0 0 18 6 0 0 6 6 0 0 6 6 0 0 10-12-6-18-4-1-6 1-6zM1403 439l22 0 0 6 6 0 0 6 6 0 0 6 6 0 0 39-20-3-4-6-1-18-2-12-7-12zM1299 589l18-4 18 4 9 6 5 6 3 6 1 6-2 6-5 6-9 6-14 6-12-1-11-5-6-6-3-6-2-12 0-6 3-6zM1155 1063l0-3 12 2 2 1 10 16 18 17 23 33 15 30 8 12 19 24 13 12 18 19 23 47 23 30 14 9 12 4 24 3 18 6 42 0 36 6 24 0 42-9 6 0 18 10 24 6 18-3 12-7 12-9 18-18 6-4 6-1 6 2 18 22 18 8 30 8 12 8 10 13 2 6 0 12 0-6-60 0 0-6-60 0 0-6-72 0 0-6-72 0 0-6-6 0 0-6-72 0 0-6-96 0 0-6-102 0 0-6-6 0 0-6-138 0 0-6-6 0 0-6-6 0 0-6-6 0 0-6-6 0 0-6-6 0 0-6 6 0 0-6 6 0 0-36 6 0 0-6 6 0 0-6 6 0 0-6 6 0 0-6 6 0 0-30 6 0 0-6 6 0 0-66 6 0 0-6 6 0 0-6 6 0 0-6 36 0 0-24-6 0zM709 1165l4 0 2 6-4 6-6 2-3-2 1-6z"/>
<path fill="#ffee00" d="M1774 199l11-2 36 7 30-1 7 2 0 6-4 18-1 18 1 12 3 6 13 18 29 30 25 30 17 25 0 263-24 11-18 6-6 0-12-2-8-3-10-6-6-6-14-24-19-18-15-9-18-4-36 0-30-9-12 0-14 4-10 6-9 12-5 12-2 6 1 18-2 12-4 12-6 12-6 6-9 4-12 2-6-2-9-4-7-6-14-22 0-14 6 0 0-30-6 0 0-24-6 0 0-18-6 0 0-18-6 0 0-12-6 0 0-12-6 0 0-12-6 0 0-18-6 0 0-12-6 0 0-18-6 0 0-18-6 0 0-24-6 0 0-12-6 0 0-30-6 0 0-30-6 0 0-43 6 0 6 3 11 10 19 12 18 2 12-3 6-3 6-7 11-19 7-16 6-6 6-2 24 16 12 5 18 2 18-3 12-6 15-14 8-12 13-30 12-15zM1641 599l-2 2 2 4 7-4zM1382 403l1-1 0 13 6 0 0 6 6 0 0 6 6 0 0 4-25-10-1-6zM1411 439l14 0 0 6 6 0 0 6 6 0 0 6 6 0 0 33-12-1-6-2-4-30-6-12zM1320 607l4 0 4 6-5 8-6 0-2-2-1-6 3-5zM1161 1081l0-5 30 23 18 21 6 9 15 30 8 12 19 25 30 30 4 5 21 42 21 30 14 11 12 5 24 5 18 5 18 2 30-1 36 5 24 0 36-9 12-1 18 9 24 5 18-3 12-6 12-10 18-18 6-4 6-1 6 2 12 16 7 6 17 7 21 5 15 7 12 11 4 6 2 6 0 8 0-2-60 0 0-6-60 0 0-6-72 0 0-6-72 0 0-6-6 0 0-6-72 0 0-6-96 0 0-6-102 0 0-6-6 0 0-6-138 0 0-6-6 0 0-6-6 0 0-6-6 0 0-6-6 0 0-6-6 0 0-6 6 0 0-6 6 0 0-36 6 0 0-6 6 0 0-6 6 0 0-6 6 0 0-6 6 0 0-30 6 0 0-6 6 0 0-66 6 0 0-6 6 0 0-6 6 0 0-6 36 0z"/>
<path fill="#ffe200" d="M1777 199l8-1 36 7 30 1 4 5-4 36 1 12 2 6 15 21 30 31 25 32 17 27 0 248-18 10-18 7-12 1-6-1-9-4-9-6-24-33-18-15-12-6-18-5-42-2-30-7-18 1-24 8-18 22-6 2-18-6-8 5-3 6 0 6 5 5 6 2 6 0 12-3 6 5 2 3 1 12-4 18-6 12-11 7-12 1-6-1-10-7-5-6-13-30 4 0 0-30-6 0 0-24-6 0 0-18-6 0 0-18-6 0 0-12-6 0 0-12-6 0 0-12-6 0 0-18-6 0 0-12-6 0 0-18-6 0 0-18-6 0 0-24-6 0 0-12-6 0 0-30-6 0 0-30-6 0 0-36 6 1 36 21 18 1 12-3 12-9 13-23 5-12 6-8 6-1 24 14 18 6 18 1 18-5 18-14 9-11 15-34 6-8 11-12zM1381 415l2-4 0 4 6 0 0 5zM1419 439l6 0 0 6 6 0 0 6 6 0 0 6 6 0 0 25-6-1-5-6-4-18zM1161 1093l0-3 24 14 24 24 18 37 28 36 29 30 23 42 25 36 9 7 12 6 41 11-65 0 0-6-102 0 0-6-6 0 0-6-138 0 0-6-6 0 0-6-6 0 0-6-6 0 0-6-6 0 0-6-6 0 0-6 6 0 0-6 6 0 0-36 6 0 0-6 6 0 0-6 6 0 0-6 6 0 0-6 6 0 0-30 6 0 0-6 6 0 0-66 6 0 0-6 6 0 0-6 6 0 0-6zM1659 1303l6-4 6-1 6 2 18 21 18 7 18 4 16 7 14 12 5 12 0 6-59 0 0-6-60 0 0-6-72 0 0-6-72 0 0-6-6 0 0-6 18-1 36-11 6 1 12 6 18 6 12 1 12-2 12-5 12-7zM1425 1339l0-4 18-1 53 5z"/>
<path fill="#ffd800" d="M1779 199l11 0 31 7 24 1 6 3 1 7-3 36 3 12 15 24 29 30 27 37 18 30 0 230-18 12-12 5-12 2-6 0-12-5-12-11-12-18-12-12-12-10-12-6-24-6-42-2-30-7-18 1-30 5-6 5-6 14-6 4-6 0-12-5-6 2-18 24-6 3-6-2 0-14-6 0 0-24-6 0 0-18-6 0 0-18-6 0 0-12-6 0 0-12-6 0 0-12-6 0 0-18-6 0 0-12-6 0 0-18-6 0 0-18-6 0 0-24-6 0 0-12-6 0 0-30-6 0 0-30-6 0 0-25 12 1 18 10 12 4 18 0 12-3 6-3 8-8 19-36 3-5 6-2 24 14 12 4 18 3 24-5 18-14 11-13 13-31 12-17zM1435 451l2 0 0 5zM1438 457l5 0 0 9zM1616 625l1-3 6-2 30 2 6 3 2 6 0 12-4 12-4 6-6 3-12 2-11-5-4-6-5-12zM1126 1105l17-6 18 2 18 9 18 15 12 15 7 19 8 12 23 30 28 30 50 78 16 14 12 5 17 5-41 0 0-6-102 0 0-6-6 0 0-6-138 0 0-6-6 0 0-6-6 0 0-6-6 0 0-6-6 0 0-6-6 0 0-6 6 0 0-6 6 0 0-36 6 0 0-6 6 0 0-6 6 0 0-6 6 0 0-6 6 0 0-30 6 0 0-6 6 0 0-56zM1661 1303l10-4 6 2 18 21 18 7 18 4 16 6 13 12 6 12 0 6-59 0 0-6-60 0 0-6-72 0 0-6-72 0 0-6-6 0 0-2 18-2 36-10 36 11 12 1 12-2 12-5 14-9z"/>
<path fill="#ffd200" d="M1784 199l37 8 24 2 4 2 1 6-3 36 3 12 15 24 29 30 29 41 18 33 0 219-18 13-12 5-12 2-6-1-12-6-7-6-23-30-15-12-15-7-24-6-42-2-30-6-12 0-36 4-9 5-4 12-5 6-6 0-12-8-6 1-3 7-15 16-6 3-6 0 0-7-6 0 0-24-6 0 0-18-6 0 0-18-6 0 0-12-6 0 0-12-6 0 0-12-6 0 0-18-6 0 0-12-6 0 0-18-6 0 0-18-6 0 0-24-6 0 0-12-6 0 0-30-6 0 0-30-6 0 0-19 12 0 18 9 12 3 18-1 12-3 6-3 10-10 18-36 2-3 6-2 24 13 18 5 18 1 18-4 12-9 13-13 8-12 13-30 8-11 12-9zM1622 631l7-5 6 0 12 0 6 2 3 3 2 12-1 6-4 9-6 5-6 1-6 0-8-3-4-6-3-6 0-12zM1127 1111l16-6 18 2 18 9 16 13 10 12 7 18 7 12 26 33 24 27 53 78 13 13 12 7 12 4-30 0 0-6-102 0 0-6-6 0 0-6-138 0 0-6-6 0 0-6-6 0 0-6-6 0 0-6-6 0 0-6-6 0 0-6 6 0 0-6 6 0 0-36 6 0 0-6 6 0 0-6 6 0 0-6 6 0 0-6 6 0 0-30 6 0 0-6 6 0 0-49 12-11zM1662 1303l9-4 6 3 18 20 18 7 18 4 15 6 14 12 5 12 1 6-59 0 0-6-60 0 0-6-72 0 0-6-72 0 0-6-6 0 18-2 36-10 36 10 12 1 12-2 12-5 15-10z"/>
<path fill="#ffcb00" d="M1770 205l9-4 6-1 36 7 18 2 8 2 2 6-3 36 2 12 14 24 19 22 12 10 13 22 17 22 18 35 0 207-14 12-10 6-18 3-12-4-12-10-14-19-11-12-11-8-18-9-24-5-42-2-30-5-54 4-9 7-3 8-5 4-13-8-6 1-7 13-11 11-6 3-6 0 0-2-6-1 0-23-6 0 0-18-6 0 0-18-6 0 0-12-6 0 0-12-6 0 0-12-6 0 0-18-6 0 0-12-6 0 0-18-6 0 0-18-6 0 0-24-6 0 0-12-6 0 0-30-6 0 0-30-6 0 0-9 12-2 24 7 36-6 13-8 8-12 15-30 6-3 24 12 18 5 18 1 18-5 12-8 14-14 8-12 12-30 10-12zM1633 631l14 0 7 6 1 12-2 6-6 6-12 1-6-3-3-4-3-12 2-6 4-4zM1147 1111l14 1 12 5 22 18 4 6 8 18 10 18 46 54 11 18 19 23 25 37 17 16 15 8-21 0 0-6-102 0 0-6-6 0 0-6-138 0 0-6-6 0 0-6-6 0 0-6-6 0 0-6-6 0 0-6-6 0 0-6 6 0 0-6 6 0 0-36 6 0 0-6 6 0 0-6 6 0 0-6 6 0 0-6 6 0 0-30 6 0 0-6 6 0 0-41 18-17 12-6zM1663 1303l8-3 6 2 12 15 6 5 18 7 18 4 15 6 14 12 3 6 2 12-58 0 0-6-60 0 0-6-72 0 0-6-72 0 0-4 12-2 36-10 36 9 12 0 12-2 12-5 16-10z"/>
<path fill="#ffc500" d="M1772 205l7-4 6-1 60 11 2 6-2 42 10 24 20 28 17 14 9 18 20 24 20 41 0 193-11 12-13 9-12 3-12-2-12-8-20-26-16-15-24-11-24-4-42-3-30-5-48 3-12 3-12 9-18 0-5 5-4 12-9 7-6 2-6 0-6-2 0-19-6 0 0-18-6 0 0-18-6 0 0-12-6 0 0-12-6 0 0-12-6 0 0-18-6 0 0-12-6 0 0-18-6 0 0-18-6 0 0-24-6 0 0-12-6 0 0-30-6 0 0-26 6-2 18 1 48-14 6-4 6-7 18-36 6-3 6 1 18 10 18 5 18 1 18-5 12-8 15-15 7-12 13-30 10-12zM1633 637l8-2 7 2 4 6 1 6-3 6-3 3-6 2-6 0-6-5-2-6 1-6zM1146 1117l9 0 12 3 12 7 9 8 5 6 14 30 14 23 35 37 17 24 20 22 26 38 10 10 13 8-13 0 0-6-102 0 0-6-6 0 0-6-138 0 0-6-6 0 0-6-6 0 0-6-6 0 0-6-6 0 0-6-6 0 0-6 6 0 0-6 6 0 0-36 6 0 0-6 6 0 0-6 6 0 0-6 6 0 0-6 6 0 0-30 6 0 0-6 6 0 0-32 18-19 12-7zM1663 1303l8-3 6 3 12 14 6 5 18 7 17 4 16 6 13 12 4 6 2 12-58 0 0-6-60 0 0-6-72 0 0-6-72 0 0-2 12-2 36-10 36 8 12 0 12-2 12-5 17-11z"/>
<path fill="#ffbf00" d="M1773 205l6-3 12 0 30 7 19 2 5 4 1 8-2 36 8 24 12 18 6 12 17 12 12 21 19 21 10 18 11 30 2 5 0 172-12 17-6 6-8 4-10 2-6 0-12-6-26-32-10-9-12-8-18-6-24-4-72-7-54 3-18 8-18 3-6 5-6 15-6 4-6 2-6-1-6-3 0-14-6 0 0-18-6 0 0-18-6 0 0-12-6 0 0-12-6 0 0-12-6 0 0-18-6 0 0-12-6 0 0-18-6 0 0-18-6 0 0-17 9-13 3-11 0-15-7-16 0-6 4-6 7-6 10-6 22-6 12-7 9-11 15-31 6-5 24 11 24 6 18-1 18-7 12-10 10-11 7-12 13-30 10-12zM1634 643l7-3 6 2 2 7-2 6-6 2-7-2-2-6zM1146 1123l9-1 12 4 12 8 6 7 28 54 32 32 21 28 23 24 25 36 13 12-100 0 0-6-6 0 0-6-138 0 0-6-6 0 0-6-6 0 0-6-6 0 0-6-6 0 0-6-6 0 0-6 6 0 0-6 6 0 0-36 6 0 0-6 6 0 0-6 6 0 0-6 6 0 0-6 6 0 0-30 6 0 0-6 6 0 0-23 18-21 12-7zM1664 1303l7-2 6 2 12 15 6 5 18 7 16 3 16 6 14 12 4 6 2 12-58 0 0-6-60 0 0-6-72 0 0-6-72 0 48-12 36 7 12 0 12-2 12-5 18-12zM1329 1333l0-4 7 4z"/>
<path fill="#ffb800" d="M1774 205l11-3 6 0 48 10 5 5 1 18-3 24 9 28 18 31 17 13 11 18 20 22 8 14 7 18 9 38 0 133-7 21-7 12-7 6-9 4-12 0-7-4-7-6-18-24-16-15-24-10-24-4-78-7-54 3-18 6-18 4-7 5-4 12-6 6-7 2-6-1-6-4 0-9-6 0 0-18-6 0 0-18-6 0 0-12-6 0 0-12-6 0 0-12-6 0 0-18-4 0-5-30 2-30 4-18-2-24-4-18 0-6 3-6 6-6 6-4 24-9 8-5 8-12 14-28 6-5 6 1 24 11 18 3 18-2 18-6 12-10 11-12 7-12 13-30 10-12zM1639 649l2-2 3 2-3 3zM1147 1129l14 0 10 6 6 6 8 12 16 36 8 12 25 24 30 36 23 23 23 31 11 12-94 0 0-6-6 0 0-6-138 0 0-6-6 0 0-6-6 0 0-6-6 0 0-6-6 0 0-6-6 0 0-6 6 0 0-6 6 0 0-36 6 0 0-6 6 0 0-6 6 0 0-6 6 0 0-6 6 0 0-30 6 0 0-6 6 0 0-12 18-24 12-8zM1665 1303l6-2 6 3 12 14 6 5 18 7 16 3 16 6 14 12 3 6 2 12-57 0 0-6-60 0 0-6-72 0 0-6-62 0 38-10 36 6 12 1 12-3 12-5 18-12z"/>
<path fill="#ffb200" d="M1776 205l9-2 6 0 42 9 6 2 3 3 1 18-3 24 8 30 18 30 15 13 12 19 24 26 12 26 5 24 6 48 1 24-2 30-6 48-4 18-7 12-11 7-10-1-8-5-24-31-15-12-21-9-24-5-78-7-60 3-40 12-6 6-4 12-4 4-6 1-10-5-2-2 0-4-3 0-3-4 0-14-6 0 0-18-6 0 0-12-6 0 0-12-4 0-6-48 1-60-6-42 4-12 5-6 24-10 10-8 12-18 8-17 6-8 6 1 24 10 18 3 24-3 12-5 12-10 12-13 4-6 16-36 10-12zM1151 1135l10 1 7 5 8 12 13 30 11 18 33 34 23 26 25 24 23 30 12 12-89 0 0-6-6 0 0-6-138 0 0-6-6 0 0-6-6 0 0-6-6 0 0-6-6 0 0-6-6 0 0-6 6 0 0-6 6 0 0-36 6 0 0-6 6 0 0-6 6 0 0-6 6 0 0-6 6 0 0-22 12-14 18-26 12-11zM1667 1303l4-1 6 2 12 14 6 5 18 7 12 2 18 6 6 4 10 9 3 6 2 12-57 0 0-6-60 0 0-6-72 0 0-6-54 0 30-8 36 6 12 0 12-3 12-5 18-12 18-20z"/>
<path fill="#ffab00" d="M1778 205l7-2 13 2 35 9 7 3 2 6 0 12-4 24 6 30 19 32 16 16 14 20 18 17 6 8 7 15 5 18 2 18 3 48-1 30-8 84-3 6-4 6-7 3-6 0-7-3-6-6-15-24-14-12-18-10-18-5-96-8-60 2-30 8-12 5-6 8-5 12-7 1-10-7-8-12 0-6-3 0-3-5 0-13-5 0-1-12-2 0-1-6-1-30-4-30 0-24-8-66 2-12 3-6 6-6 23-11 6-6 24-40 6 0 18 6 24 5 12 0 12-3 12-5 20-18 9-12 16-36 9-11zM1140 1147l9-3 6 1 6 3 7 11 12 30 13 18 58 60 30 27 29 33-83 0 0-6-6 0 0-6-138 0 0-6-6 0 0-6-6 0 0-6-6 0 0-6-6 0 0-6-6 0 0-6 6 0 0-6 6 0 0-36 6 0 0-6 6 0 0-6 6 0 0-6 6 0 0-6 6 0 0-12 22-24 15-24zM1669 1303l2-1 6 3 12 14 6 4 18 7 12 2 18 6 6 4 9 9 4 6 2 12-57 0 0-6-60 0 0-6-72 0 0-6-47 0 23-5 36 4 12 0 12-3 12-5 18-12 19-21z"/>
<path fill="#ffa500" d="M1780 205l14 0 43 12 3 6 1 12-5 24 5 30 21 36 13 14 15 22 21 18 7 12 5 12 4 30 1 60-8 66-1 36-2 6-6 5-6-1-6-4-13-24-12-12-17-10-24-7-96-9-66 3-24 5-18 6-7 6-5 13-6 1-12-14-13-24-3-12 0-12 2-30-5-24-2-24-8-60 0-12 5-12 7-6 17-9 6-5 24-39 6-2 30 8 18 2 24-5 8-4 14-12 10-12 7-12 9-23 6-9 9-10zM1138 1165l5-5 6 1 6 9 4 19 5 6 15 12 66 66 30 23 29 31-77 0 0-6-6 0 0-6-138 0 0-6-6 0 0-6-6 0 0-6-6 0 0-6-6 0 0-6-6 0 0-6 6 0 0-6 6 0 0-33 3-3 3 0 0-4 2-2 4 0 0-4 2-2 4 0 0-4 2-2 4 0 0-4 3-2 3 0 0-3 31-27zM1671 1303l6 2 12 14 6 5 18 7 12 2 18 6 6 3 9 9 4 6 1 12-56 0 0-6-60 0 0-6-72 0 0-6-40 0 16-3 36 3 12 0 12-3 12-5 18-12 20-22 4-4z"/>
<path fill="#ff9f00" d="M1784 205l13 1 36 10 5 7 1 16-6 20 1 6 4 24 3 6 16 30 16 18 11 18 6 6 16 12 5 6 6 12 4 12 2 18 0 60-6 39-12 38-6 5-17-10-13-6-18-6-18-4-96-7-78 5-30 9-18 11-6-4-8-10-6-12-3-12 1-18 5-18-8-30-11-78 0-12 2-12 4-6 6-6 12-6 7-6 23-37 6-3 36 8 12 1 24-6 12-7 12-11 9-11 21-43 10-11zM1905 589l0-1 0 4zM1906 595l5-3 0 4zM1124 1201l7-2 6-1 6 2 30 18 66 62 30 20 28 27-70 0 0-6-6 0 0-6-138 0 0-6-6 0 0-6-6 0 0-6-6 0 0-6-6 0 0-6-6 0 0-6 6 0 0-6 6 0 0-25 6-8 24-22 18-12zM1662 1309l9-5 6 2 12 14 6 4 18 7 12 2 18 6 15 12 3 6 2 12-56 0 0-6-60 0 0-6-72 0 0-5 24 0 12-3 12-5 24-17z"/>
<path fill="#ff9800" d="M1773 211l12-5 6 0 40 11 5 6 2 12-7 24 0 6 4 24 4 9 14 27 18 24 10 15 6 6 18 13 9 14 5 24-1 54-4 30-9 27-7 9-11 5-12 0-48-8-30 0-66-5-36 4-24 0-12 1-24 6-18 7-6 0-6-4-6-7-6-17 1-18 6-18-1-6-8-24-11-72-1-18 3-12 5-7 18-12 4-5 20-32 6-4 48 6 24-6 12-6 13-12 9-12 20-41zM1108 1219l11-5 12-1 12 4 18 8 18 13 17 17 19 14 18 18 30 17 27 23-63 0 0-6-6 0 0-6-138 0 0-6-6 0 0-6-6 0 0-6-6 0 0-6-6 0 0-6-6 0 0-6 6 0 0-6 6 0 0-17 11-13 13-12zM1663 1309l8-5 6 2 12 14 6 4 18 7 12 2 18 6 14 12 4 6 2 12-56 0 0-6-60 0 0-6-72 0 0-3 24-1 18-5 30-20z"/>
<path fill="#ff9200" d="M1775 211l10-4 12 1 30 9 7 6 2 12-7 24 0 6 4 24 6 17 12 23 27 38 6 6 19 12 8 12 3 12 1 12-2 48-4 24-8 24-8 12-6 4-12 3-48-2-30 0-66-4-36 5-30-1-18 3-24 7-12 0-9-9-4-12 0-12 7-24-1-6-8-24-12-72-1-18 4-12 5-6 19-16 18-28 6-6 6-1 42 4 24-5 12-7 19-19 8-12 15-33 7-9zM1118 1225l13 1 30 12 12 9 54 45 36 21 18 14-54 0 0-6-6 0 0-6-138 0 0-6-6 0 0-6-6 0 0-6-6 0 0-6-6 0 0-6-5 0 3-6 2 0 2-6 4 0 0-8 3-4 15-18 18-12zM1663 1309l8-4 6 2 12 13 6 4 18 7 12 2 18 6 14 12 4 6 1 12-55 0 0-6-60 0 0-6-72 0 0-2 18 0 12-2 18-7 24-16z"/>
<path fill="#ff8c00" d="M1777 211l8-3 18 2 21 7 8 6 2 12-7 24 0 6 5 30 7 19 8 17 26 36 8 8 18 11 8 11 4 18 0 20-6 46-7 24-8 12-7 6-8 4-12 2-66 1-60-3-42 6-36-1-36 8-6 0-6-2-6-7-3-8 0-12 5-18 1-12-8-30-13-72 1-12 5-12 18-18 18-27 6-6 12-3 30 3 12-1 18-5 12-6 21-21 7-12 14-30 8-12zM1105 1237l8-2 12 0 30 12 12 8 54 42 50 30-44 0 0-6-6 0 0-6-138 0 0-6-6 0 0-6-6 0 0-6-6 0 0-6-6 0 0-2 11-22 9-12 10-10zM1664 1309l7-3 6 2 12 13 6 4 18 6 12 2 18 6 14 12 3 6 2 12-55 0 0-6-60 0 0-6-65 0 23-2 18-7 24-17z"/>
<path fill="#ff8500" d="M1780 211l11-2 12 2 17 6 9 6 3 6 0 6-7 24 0 12 4 24 10 29 7 13 27 36 26 18 6 9 3 15-2 24-6 36-7 22-6 9-6 6-12 7-12 3-60 4-60-3-42 7-30-2-18 2-19 5-11 0-6-4-4-8 0-12 4-18 0-12-18-90-1-18 3-12 3-6 17-18 14-21 11-9 13-3 24 2 12-2 18-5 12-6 22-22 25-48 5-6zM1094 1249l13-5 12 0 24 8 18 11 55 40 43 24-32 0 0-6-6 0 0-6-138 0 0-6-6 0 0-6-6 0 0-6-6 0 0-5 16-31zM1665 1309l6-2 6 1 12 13 6 4 18 7 12 2 18 6 14 11 3 6 2 12-55 0 0-6-60 0 0-6-47 0 17-5 24-15 11-10z"/>
<path fill="#ff7f00" d="M1783 211l8-1 8 1 18 6 10 7 3 5 0 6-7 24 1 24 3 18 10 30 7 12 24 30 13 11 13 7 6 6 3 6 0 18-4 32-5 22-7 16-6 9-12 10-12 5-12 2-54 5-54-2-12 1-30 7-30-3-18 1-24 5-6-1-5-7-1-6 4-24 0-12-19-96 1-12 4-12 28-38 12-10 16-6 20 0 18-2 18-6 12-9 13-13 9-12 21-42 5-6zM1095 1255l6-2 12-1 18 5 17 10 73 48-138 0 0-6-6 0 0-6-6 0 0-6 12-30 6-8zM1667 1309l4-2 6 2 11 12 7 4 18 7 12 2 18 6 13 11 5 10 0 8-54 0 0-6-60 0 0-6-41 0 17-7 24-15 14-20zM1221 1321l0-6 23 12-17 0 0-6z"/>
<path fill="#ff7800" d="M1788 211l9 0 17 6 10 6 3 5 1 7-7 24 0 18 3 24 9 33 5 9 25 30 12 11 18 11 6 8 0 12-3 24-5 24-7 18-8 12-7 7-12 7-18 5-48 5-60-1-36 9-36-4-36 5-6-3-1-6 3-24-1-12-6-42-11-48 1-18 5-12 26-36 14-10 12-5 24-1 18-4 12-5 12-7 20-22 25-48 9-9zM1098 1261l9-1 18 6 79 49-121 0 0-6-6 0 0-5 12-34 6-8zM1669 1309l2-1 6 1 12 13 6 3 18 7 27 7 9 5 7 7 3 6 2 12-54 0 0-6-60 0 0-6-36 0 12-5 24-15 15-22z"/>
<path fill="#ff7200" d="M1777 217l8-4 12 0 18 7 6 3 4 6 0 12-7 24 0 18 3 24 8 30 7 12 27 30 12 11 12 7 6 6 1 12-3 24-5 18-7 18-10 14-12 9-18 7-24 5-36 3-36-2-12 1-36 9-24-3-42 1-5-2-1-6 0-24-6-48-10-42 0-18 6-18 20-30 15-12 11-5 30-4 18-5 18-10 22-24 24-48zM1100 1273l7-1 6 2 72 41-101 0zM1670 1309l7 1 12 12 6 4 18 6 26 7 10 5 7 7 3 6 1 12-53 0 0-6-60 0 0-6-32 0 32-18 6-7 10-17z"/>
<path fill="#ff6c00" d="M1779 217l12-4 6 1 10 3 8 4 7 8 1 12-6 18-2 24 2 24 7 30 6 12 21 24 12 13 22 17 3 6 0 12-3 18-10 28-10 14-14 11-16 7-26 6-36 4-30-3-12 1-36 10-24-3-30-2-6-2-4-5-2-4-4-26-4-42-10-36 2-18 6-18 16-24 6-7 12-9 12-5 24-4 18-5 12-6 9-6 20-24 25-47zM1111 1303l8-2 6 0 34 14-59 0zM1664 1315l7-5 6 1 12 12 6 3 48 15 12 10 5 12 0 6-53 0 0-6-60 0 0-6-28 0 31-18z"/>
<path fill="#ff6500" d="M1782 217l9-3 12 3 12 6 5 6 1 6-1 6-6 24-2 18 1 18 5 30 3 12 8 12 50 54 2 6-1 12-4 18-4 12-9 15-12 11-18 9-24 7-36 6-30-4-12 0-36 10-42-4-12-3-6-6-5-17-3-48-11-36 3-18 7-18 15-24 14-12 14-6 20-4 18-6 12-5 12-9 20-24 24-48zM1665 1315l6-4 6 0 12 12 6 3 48 15 12 10 5 12 0 6-53 0 0-6-60 0 0-6-25 0 25-13 5-5z"/>
<path fill="#ff5f00" d="M1785 217l6-1 8 1 12 6 6 6 1 6 0 6-7 24-2 24 0 18 3 18 4 18 7 12 42 48 7 12 0 18-3 12-6 12-12 16-18 11-24 8-30 7-12 0-18-4-12-1-48 11-30-3-12-3-8-6-5-12-2-12 2-42-4-12-6-12-1-6 6-24 8-18 10-16 12-10 12-6 42-14 18-11 18-21 29-54zM1666 1315l5-4 6 1 12 12 6 2 48 15 12 10 5 12-1 6-52 0 0-6-60 0 0-6-21 0 27-15 9-21z"/>
<path fill="#ff5900" d="M1780 223l11-6 6 1 11 5 6 6 2 6-1 6-7 24-4 30 1 18 3 18 3 12 6 12 39 48 7 12 1 6 0 12-7 18-9 12-15 12-18 8-24 6-18 3-24-6-12-1-42 11-12 2-24-2-9-3-9-7-4-11-1-6 11-53 6-7 12 0 7-6-1-6-6-2-6 0-12 5-6-6-2-9 1-12 5-18 7-12 13-12 54-21 18-14 15-19zM1667 1315l4-3 6 1 12 11 18 7 36 11 12 10 4 11 0 6-52 0 0-6-60 0 0-6-18 0 24-11 10-25z"/>
<path fill="#ff5200" d="M1783 223l8-4 12 4 7 6 2 6 0 6-8 30-4 24 0 18 2 18 3 12 5 12 37 48 6 12 2 12-5 18-8 12-15 11-15 7-21 5-18 2-30-9-18 3-36 12-18 1-18-2-6-3-6-9 2-12 10-24 6-8 18-15 4-7 1-6-2-6-3-6-18-12-4-6-1-12 4-12 10-12 9-6 36-15 12-6 12-10 18-23 24-48zM1669 1315l2-2 6 0 12 12 24 9 12 2 18 6 12 10 4 11-1 6-51 0 0-6-60 0 0-6-14 0 20-8 4-4 4-18z"/>
<path fill="#ff4c00" d="M1786 223l5-2 8 2 8 6 2 6 0 6-9 30-5 24-1 18 1 18 5 18 7 12 34 48 4 12 0 9-3 9-8 12-8 6-11 6-18 6-12 2-12 0-30-9-18-1-12 2-30 13-18 3-12-1-4-3 0-6 3-6 7-10 24-23 5-9 2-12-1-12-3-6-16-18-3-6-2-6 4-12 11-12 45-23 18-15 16-22 23-48zM1670 1315l7-1 12 11 24 9 12 2 18 6 12 11 3 10 0 6-51 0 0-6-60 0 0-6-9 0 15-5 6-6 4-19 2-6z"/>
<path fill="#ff4500" d="M1785 229l6-5 6 1 5 4 3 6-1 12-11 30-6 24 0 24 2 18 5 12 7 12 30 42 4 12-2 12-6 9-6 5-18 9-18 3-18-2-24-8-25-10-9-6-3-6-5-24-5-12-15-24-2-6 2-12 5-6 8-6 37-20 11-10 11-12 11-18zM1672 1315l5 0 12 10 24 9 21 5 13 6 6 6 4 6 1 12-51 0 0-6-60 0 0-6-3 0 9-3 6-4 2-5 3-18 2-6z"/>
<path fill="#ff3f00" d="M1791 229l6 2 3 4 0 6-3 10-16 32-3 18-4 36 1 6 6 12 37 54 3 6 2 6-2 6-5 6-9 6-16 5-12 0-12-2-18-7-16-8-8-7-6-8-23-45-1-12 2-6 5-6 35-20 12-11 14-17 8-12 14-45zM1667 1321l4-4 6-2 12 11 24 9 12 2 18 6 10 8 4 6 0 12-50 0 0-6-60 0 0-5 6-2 8-5 2-6 2-18z"/>
<path fill="#ff3900" d="M1726 349l5-1 6 3 27 16 7 6 8 10 9 14 4 12-2 6-5 4-6 2-12-1-13-5-15-12-13-18-8-18-1-6 1-6zM1669 1321l2-3 6-2 12 10 24 9 12 2 18 6 10 8 3 6 1 12-50 0 0-6-60 0 0-2 12-6 4-4 2-6 1-18z"/>
<path fill="#ff3200" d="M1670 1321l7-3 13 9 23 8 12 2 18 6 9 8 4 6 0 12-49 0 0-6-60 0 12-5 6-7 1-6 1-18z"/>
<path fill="#ff2c00" d="M1671 1321l6-2 12 8 54 17 9 7 4 6 0 12-49 0 0-6-55 0 7-3 7-9 2-6 1-18z"/>
<path fill="#ff2600" d="M1674 1321l3-1 12 8 54 16 8 7 4 6 0 12-48 0 0-6-51 0 8-6 4-6 2-6 0-18z"/>
<path fill="#ff1f00" d="M1677 1321l12 8 24 7 16 3 14 5 8 7 4 6 0 12-48 0 0-6-47 0 6-6 4-6 1-6 0-18z"/>
<path fill="#ff1900" d="M1673 1327l4-4 12 7 12 2 12 5 12 1 18 6 8 7 3 6 0 12-47 0 0-6-44 0 5-6 4-6 1-6z"/>
<path fill="#ff1200" d="M1675 1327l2-2 12 5 12 2 12 5 12 1 18 7 7 6 4 6 1 6-1 6-47 0 0-6-42 0 8-12z"/>
<path fill="#ff0900" d="M1676 1333l1-4 6 0 18 4 12 4 12 2 18 6 7 6 3 6 1 6-1 6-46 0 0-6-39 0 7-12z"/>
<path fill="#fb0000" d="M1682 1333l19 0 6 3 18 4 18 6 6 5 3 6 1 6-1 6-45 0 0-6-35 0 7-12z"/>
<path fill="#ee0000" d="M1684 1339l5-4 6-1 44 11 9 6 3 6 1 6-1 6-44 0 0-6-31 0 7-12z"/>
<path fill="#e20000" d="M1689 1339l6-3 6 0 24 6 18 6 7 9 1 6-1 6-43 0 0-6-26 0 6-12z"/>
<path fill="#d50000" d="M1693 1339l8-1 24 5 18 6 6 8 1 6-2 6-41 0 0-6-22 0 4-7z"/>
<path fill="#c80000" d="M1694 1345l7-6 28 6 15 6 4 6 1 6-2 6-40 0 0-6-17 0 2-6z"/>
<path fill="#bb0000" d="M1699 1345l2-2 23 2 18 6 4 6 1 6-2 6-38 0 0-6-13 0z"/>
<path fill="#af0000" d="M1701 1351l6-5 12 1 18 4 6 4 2 8-3 6-35 0 0-6-9 0z"/>
<path fill="#a20000" d="M1709 1351l10-1 18 4 5 3 1 6-4 6-32 0 0-6-3 0 1-6z"/>
<path fill="#950000" d="M1719 1357l17 0 2 6-5 6-20 0 0-6z"/></g></g></g>
<g stroke="#000" stroke-opacity="0.19" stroke-width="0.8" stroke-dasharray="1.9 6.3" fill="none"><line x1="306.5" y1="84.5" x2="306.5" y2="759.5"/><line x1="473.5" y1="84.5" x2="473.5" y2="759.5"/><line x1="640.5" y1="84.5" x2="640.5" y2="759.5"/><line x1="807.5" y1="84.5" x2="807.5" y2="759.5"/><line x1="148.5" y1="111.5" x2="964.5" y2="111.5"/><line x1="148.5" y1="266.5" x2="964.5" y2="266.5"/><line x1="148.5" y1="414.2" x2="964.5" y2="414.2"/><line x1="148.5" y1="558.2" x2="964.5" y2="558.2"/><line x1="148.5" y1="699.2" x2="964.5" y2="699.2"/></g>
<g clip-path="url(#ocean)"><g stroke="#00304a" stroke-opacity="0.36" stroke-width="0.9" stroke-dasharray="1.9 6.3" fill="none"><line x1="306.5" y1="84.5" x2="306.5" y2="759.5"/><line x1="473.5" y1="84.5" x2="473.5" y2="759.5"/><line x1="640.5" y1="84.5" x2="640.5" y2="759.5"/><line x1="807.5" y1="84.5" x2="807.5" y2="759.5"/><line x1="148.5" y1="111.5" x2="964.5" y2="111.5"/><line x1="148.5" y1="266.5" x2="964.5" y2="266.5"/><line x1="148.5" y1="414.2" x2="964.5" y2="414.2"/><line x1="148.5" y1="558.2" x2="964.5" y2="558.2"/><line x1="148.5" y1="699.2" x2="964.5" y2="699.2"/></g></g>
<g shape-rendering="auto"><path d="M139.5 75.5H973.5V768.5H139.5Z M148.5 84.5V759.5H964.5V84.5Z" fill="#fff" fill-rule="evenodd"/><rect x="139.50" y="759.5" width="83.40" height="9.0" fill="#000"/><rect x="222.90" y="75.5" width="83.40" height="9.0" fill="#000"/><rect x="306.30" y="759.5" width="83.40" height="9.0" fill="#000"/><rect x="389.70" y="75.5" width="83.40" height="9.0" fill="#000"/><rect x="473.10" y="759.5" width="83.40" height="9.0" fill="#000"/><rect x="556.50" y="75.5" width="83.40" height="9.0" fill="#000"/><rect x="639.90" y="759.5" width="83.40" height="9.0" fill="#000"/><rect x="723.30" y="75.5" width="83.40" height="9.0" fill="#000"/><rect x="806.70" y="759.5" width="83.40" height="9.0" fill="#000"/><rect x="890.10" y="75.5" width="83.40" height="9.0" fill="#000"/><rect x="139.5" y="93.3" width="9.0" height="18.30" fill="#000"/><rect x="139.5" y="190" width="9.0" height="75.90" fill="#000"/><rect x="139.5" y="341.5" width="9.0" height="72.50" fill="#000"/><rect x="139.5" y="487" width="9.0" height="71.00" fill="#000"/><rect x="139.5" y="629" width="9.0" height="70.00" fill="#000"/><rect x="139.5" y="733" width="9.0" height="35.50" fill="#000"/><rect x="964.5" y="75.5" width="9.0" height="18.50" fill="#000"/><rect x="964.5" y="111.3" width="9.0" height="78.70" fill="#000"/><rect x="964.5" y="266" width="9.0" height="75.50" fill="#000"/><rect x="964.5" y="414" width="9.0" height="73.00" fill="#000"/><rect x="964.5" y="558" width="9.0" height="71.00" fill="#000"/><rect x="964.5" y="698.5" width="9.0" height="35.00" fill="#000"/><rect x="139.5" y="75.5" width="834.0" height="693.0" fill="none" stroke="#000" stroke-width="1"/><rect x="148.5" y="84.5" width="816.0" height="675.0" fill="none" stroke="#4a4a4a" stroke-width="1"/><path d="M139.5 75.5L148.5 84.5M973.5 768.5L964.5 759.5" stroke="#000" stroke-width="1" fill="none"/></g>
<g fill="none" stroke="#5e3f09" stroke-linejoin="round" stroke-linecap="round"><path stroke-width="1.35" d="M224.5,294.0 226.8,292.1 225.8,288.8 225.5,286.3 227.0,284.0 227.6,282.4 229.9,279.6 229.0,276.9 231.1,275.1 231.5,272.5 232.7,270.9 235.7,269.1 236.9,267.6 239.0,265.0 242.3,264.2 243.3,260.1 244.5,259.4 246.0,257.4 249.0,255.0 251.5,254.5 252.9,251.1 254.1,248.9 255.4,247.4 259.0,247.5 261.5,244.8 264.7,246.8 266.8,244.6 269.0,243.2 270.0,239.9 274.0,240.0 277.6,239.0 278.9,238.3 282.4,238.7 284.1,235.9 286.3,234.7 289.0,233.8 290.4,231.1 293.4,230.9 294.1,230.1 297.6,228.3 299.0,227.5 300.4,225.5 301.8,222.9 304.4,221.6 308.1,220.7 309.0,217.5 311.5,215.4 314.0,215.3 315.5,212.3 316.3,210.8 319.0,208.8 322.2,208.0 323.8,206.8 326.2,204.9 329.0,203.8 331.9,202.3 334.9,203.3 337.0,201.4 339.0,200.0 341.5,199.6 343.9,198.6 347.2,201.3 348.7,198.3 351.5,198.2 354.2,197.4 355.9,198.8 358.7,199.1 361.5,200.2 364.0,198.8 365.9,201.0 369.2,199.5 371.5,201.4 374.3,199.5 376.5,201.2 378.8,202.0 382.4,202.3 383.8,203.0 386.4,204.9 389.0,205.0 391.8,205.6 394.0,206.8 396.4,207.9 399.0,207.5 401.3,206.5 404.0,206.3 405.6,205.5 409.0,206.2 410.9,206.1 413.9,203.5 416.6,204.5 419.0,205.0 421.1,205.6 423.8,206.4 425.5,209.0 426.9,210.3 428.1,211.9 429.6,214.4 431.1,215.9 433.7,218.5 436.8,219.9 439.2,221.3 440.9,224.1 444.1,222.9 444.7,225.4 448.0,226.4 450.3,223.9 452.9,224.7 454.8,226.9 458.8,225.7 461.1,225.4 463.4,223.7 465.0,222.7 468.0,222.7 469.9,220.5 472.8,219.6 474.8,218.5 477.3,216.9 480.3,217.2 483.3,218.2 485.8,217.2 489.2,216.5 491.3,218.5 494.3,218.7 496.8,219.9 500.1,219.4 502.3,218.5 503.6,219.6 506.4,221.3 505.1,224.3 502.3,224.7 499.1,225.8 496.8,226.1 495.0,228.1 493.3,230.9 495.6,228.8 496.0,225.0 492.4,222.4 491.7,220.3 493.4,216.6 491.3,214.4 487.7,213.3 487.2,210.3 484.7,208.8 484.4,204.8 485.7,202.5 487.7,201.1 488.6,199.4 490.0,197.7 491.3,195.7 494.0,195.2 496.1,194.4 497.8,193.0 499.5,191.1 499.3,188.7 500.3,186.3 500.9,184.3 498.3,182.3 496.8,181.5 498.4,180.0 499.8,177.9 502.3,177.4 505.0,177.3 508.0,175.5 510.5,174.7 513.0,175.0 515.8,176.6 518.7,176.0 522.0,176.2 524.1,176.8 526.9,175.4 529.8,175.0 531.6,175.6 535.2,176.0 537.2,174.1 537.2,172.2 537.2,169.2 539.2,167.6 538.3,165.3 539.1,162.6 540.0,160.3 541.2,162.5 541.9,164.8 542.7,166.5 543.6,168.3 543.8,171.5 543.0,174.3 544.8,176.0 547.9,175.4 548.9,178.1 551.9,179.3 554.4,177.4 556.0,175.5 557.9,174.1 559.8,173.3 563.1,174.1 565.3,174.7 568.0,173.9 570.8,171.9 573.3,173.3 575.4,172.7 578.8,171.7 580.0,174.7 581.7,173.6 584.8,171.5 588.3,173.4 590.5,172.6 593.5,171.2 596.7,170.6 598.4,173.0 600.3,174.4 603.5,173.8 606.6,175.3 607.4,178.7 611.0,178.8 611.5,181.5 614.5,182.1 617.8,182.2 618.5,185.0 619.8,187.8 623.1,189.5 624.8,191.2 626.8,192.1 627.6,194.6 628.5,197.5 629.2,200.3 632.3,200.0 633.5,202.5 634.6,206.3 638.5,204.5 640.7,202.2 643.9,202.0 646.0,200.0 647.5,197.8 651.3,197.2 653.5,195.0 655.4,191.6 658.9,192.4 661.0,190.0 663.0,188.1 664.2,186.5 667.2,185.0 669.1,185.3 671.6,185.4 674.8,185.0 676.9,186.5 677.4,189.5 681.0,190.0 683.8,190.6 685.4,192.7 686.5,196.2 688.5,197.5 688.5,200.7 689.9,204.8 693.5,205.0 694.6,206.1 696.6,209.0 700.0,209.5 699.5,212.6 701.0,215.0 702.7,217.7 705.2,218.4 706.9,219.9 708.5,222.5 710.2,225.2 711.8,226.4 713.5,230.0 715.0,232.0 718.3,234.0 718.4,237.6 718.7,239.2 720.5,242.9 719.1,245.4 718.4,248.1 716.9,250.1 717.6,252.6 716.6,255.4 718.6,258.8 714.2,260.4 712.8,263.0 712.7,265.5 713.3,268.4 714.6,270.3 714.0,273.0 717.0,274.3 716.6,277.0 716.7,280.0 719.1,280.6 719.9,283.4 721.9,285.4 720.7,287.5 721.6,290.6 721.4,293.5 723.4,295.8 724.6,299.2 726.6,300.7 728.4,302.2 729.4,306.0 730.6,307.8 731.6,310.7 731.6,312.3 734.0,314.9 734.0,318.1 735.4,320.8 737.8,321.5 739.9,323.0 740.4,325.8 742.3,327.8 743.8,330.8 744.2,333.3 745.7,336.0 746.1,338.3 748.0,340.9 750.3,343.2 752.7,344.4 755.5,345.9 758.0,347.3 757.5,350.6 760.7,351.0 763.1,352.2 764.7,355.0 765.6,356.4 769.4,358.5 770.7,360.4 771.1,363.2 771.9,366.0 774.2,367.7 772.7,370.2 777.0,371.6 778.2,373.6 780.6,374.4 783.3,373.8 785.7,376.1 789.0,374.8 790.5,373.0 793.2,371.0 794.9,368.6 797.1,366.3 798.3,363.5 799.0,360.6 799.8,357.6 803.0,357.0 803.3,353.5 804.2,351.5 805.5,348.3 804.6,345.5 804.8,343.6 805.8,340.9 805.2,338.4 805.5,335.8 805.1,333.0 806.9,331.0 804.3,328.0 805.8,325.8 807.0,323.4 804.4,320.7 807.4,319.1 806.3,315.9 804.9,313.0 805.8,310.7 804.1,308.3 806.5,305.4 804.0,304.1 804.5,300.7 802.5,299.4 804.3,295.2 800.9,294.0 800.8,290.6 798.8,288.6 797.3,285.4 797.3,283.7 797.0,280.6 796.1,277.4 796.4,275.2 794.2,272.9 793.5,270.2 792.0,268.0 790.2,266.4 790.3,263.4 790.3,259.9 786.9,258.5 786.9,255.4 785.4,253.1 786.1,250.6 782.0,248.4 782.7,245.3 781.9,242.8 781.4,240.2 780.8,237.8 779.1,235.6 776.7,233.0 776.9,230.3 776.8,228.3 773.7,225.6 775.1,222.6 772.9,220.9 771.9,217.7 773.7,214.2 771.2,212.1 770.5,209.6 768.4,207.4 768.1,205.1 767.3,202.0 765.9,200.6 766.3,196.9 765.3,195.3 764.3,192.6 763.7,190.3 765.2,186.8 764.1,184.6 761.6,182.1 761.8,180.0 763.1,176.9 760.8,174.5 760.0,172.2 760.0,170.0 758.9,167.9 759.8,164.6 760.9,162.0 758.5,160.1 758.0,157.0 755.6,155.8 757.4,152.6 757.2,148.9 755.1,146.8 755.0,145.0 756.7,142.7 757.5,140.5 758.0,138.2 760.0,137.0 760.9,134.4 763.4,132.5 764.3,129.5 766.0,128.4 767.0,125.0 769.2,122.6 769.4,119.4 770.6,116.2 773.0,115.0 774.2,112.9 776.8,111.8 777.5,109.7 777.8,107.1 780.0,105.0 782.2,102.5 784.4,100.9 784.9,98.5 788.0,97.0 790.5,95.2 793.2,94.8 795.7,93.9 798.0,92.0 800.4,90.3 801.7,88.6 805.0,89.2 806.2,87.2 808.0,85.0 810.6,85.6 810.9,81.0 815.2,81.2 815.4,78.5 818.3,76.9 820.0,75.0M226.5,294.0 226.9,291.7 227.5,289.2 228.5,286.9 229.0,284.5 230.0,282.0 231.2,279.4 232.4,276.6 233.5,274.0 235.2,272.1 237.5,270.4 238.8,268.5 241.0,266.5 243.0,264.4 245.2,262.8 246.8,260.4 249.1,258.7 251.0,256.5 252.9,255.0 254.9,253.7 257.0,252.1 259.0,250.4 261.0,249.0 263.5,248.1 266.2,246.7 268.6,245.1 271.1,244.0 273.3,242.6 276.0,241.5 278.8,240.6 281.2,239.5 283.3,238.2 286.1,237.0 288.3,235.6 291.0,235.0 293.1,233.1 295.8,232.3 298.2,230.3 300.5,229.0 302.3,227.1 303.8,224.9 306.2,223.2 308.0,221.0M309.0,217.5 308.0,214.2 306.0,212.0 307.0,209.4 309.0,207.0 311.4,205.3 313.0,203.0 314.1,204.8 316.0,207.0 314.5,209.1 314.0,212.0 314.9,209.4 318.0,209.0 319.0,208.8M285.0,236.0 283.6,233.4 282.3,232.4 281.0,230.0 284.0,228.0 284.4,230.9 287.0,232.0 288.2,230.6 290.0,229.0 291.8,231.1 292.0,233.0M258.0,248.0 256.5,246.5 254.5,244.4 253.1,242.9 252.0,241.0 255.0,239.0 256.4,241.2 258.0,243.0 259.8,240.9 262.0,240.0 262.0,242.5 264.0,244.0 265.3,242.2 268.0,241.0 266.9,243.4 266.0,246.0M246.0,257.0 244.9,254.7 243.0,252.5 243.0,250.0 244.6,248.6 246.0,247.0 246.9,249.8 248.0,252.0 250.0,254.0M238.0,266.0 236.2,264.5 234.6,262.1 232.0,261.0 233.4,259.8 236.0,259.0 237.8,260.8 240.0,263.0M231.0,273.0 228.4,272.3 226.1,270.9 224.0,270.0 224.8,272.3 226.2,274.5 227.0,277.0 225.0,277.6 223.5,279.0 225.4,281.0 226.5,283.0M342.5,201.0 342.7,198.7 342.2,196.2 343.0,194.0 344.3,191.8 345.5,189.5 348.0,192.0 347.7,194.9 347.0,198.0 346.1,200.3 345.0,202.5 342.5,201.0M359.0,198.0 359.7,195.0 360.5,192.0 361.3,189.1 362.5,186.5 363.1,189.4 364.0,192.5 363.2,194.8 363.0,197.0 361.0,199.5 359.0,198.0M379.0,191.0 381.0,191.2 383.0,190.5 385.0,193.5 386.4,194.5 388.0,196.0 389.5,196.6 392.0,196.5 393.0,200.0 391.2,201.2 389.0,202.0 387.2,200.4 385.0,199.5 383.3,198.3 382.0,196.0 380.2,193.7 379.0,191.0M399.5,201.0 401.7,199.1 404.0,197.0 407.0,196.9 410.0,198.0 411.2,200.3 414.0,202.0 415.2,205.0 416.0,207.0 413.5,207.5 411.0,209.0 408.4,207.3 405.0,206.5 402.5,205.6 401.0,205.0 401.9,203.0 399.5,201.0M418.0,189.0 419.5,191.3 421.0,192.0 422.9,194.3 424.0,197.0 425.3,199.0 428.0,199.0 430.2,197.8 432.0,196.0 435.2,197.3 436.0,200.5M420.0,201.0 422.3,202.0 424.0,203.0 424.3,206.2 427.0,207.0 429.0,205.7 431.0,205.0M454.3,178.8 456.8,177.9 458.3,176.3 461.1,176.0 463.3,174.5 465.6,175.1 468.0,174.7 470.3,175.2 472.7,176.0 474.8,177.4 477.3,179.5 479.0,181.5 477.5,184.0 476.2,187.0 473.3,187.8 470.6,187.7 468.0,188.4 465.4,187.5 463.4,188.1 461.1,187.0 458.9,185.4 458.4,182.9 456.4,182.4 454.3,181.5 454.3,178.8M453.6,179.5 455.0,176.5 458.0,177.0 459.0,180.0 456.5,182.5 454.0,181.5 453.6,179.5M479.0,189.8 480.0,186.7 481.7,184.3 483.8,183.8 486.2,184.3 488.6,182.9 491.3,185.6 490.2,188.5 488.9,189.3 487.2,191.1 485.5,192.9 483.1,193.9 481.3,191.3 479.0,189.8M463.5,196.0 466.0,194.5 467.5,197.0 466.6,198.9 466.0,201.0 463.0,201.5 462.5,198.5 463.5,196.0M420.0,189.8 423.1,189.2 425.5,191.0 425.9,194.6 428.2,196.6 430.9,197.8 433.0,199.0 436.5,200.0M420.0,204.8 423.0,203.0 425.0,206.0 428.0,204.0 429.7,205.8 431.0,208.0 433.0,205.0M511.2,187.0 512.4,189.7 513.2,192.5M512.5,195.0 511.7,197.2 511.0,199.5M509.5,201.5 507.9,203.3 506.5,205.0M505.0,206.5 502.9,207.8 501.0,209.5M548.0,177.0 548.5,174.9 549.4,172.7 551.0,171.0 552.9,172.3 555.0,173.0 557.1,170.5 559.0,168.0 560.5,169.8 562.0,172.0 564.8,171.9 566.0,170.0M566.0,170.0 566.3,167.9 568.0,166.0 569.8,167.2 571.0,169.0 573.1,167.5 573.5,165.5 574.2,168.8 576.0,171.0M584.0,172.0 587.6,171.5 590.0,169.5 592.9,170.1 596.0,170.0 599.1,168.8 602.0,170.5 603.5,173.8M611.0,178.8 613.4,179.3 615.0,177.0 617.6,178.3 619.0,180.0 619.9,181.9 621.0,184.0 621.8,186.5 624.0,187.0M641.0,157.0 642.1,159.6 644.0,162.0 646.2,161.2 648.0,160.0 650.0,158.1 651.0,156.0 649.4,158.3 649.0,161.0 647.1,161.6 645.0,163.0M627.0,193.0 627.8,196.2 629.0,199.0 630.7,200.6 632.2,202.5 634.0,204.5 636.4,205.0 638.7,204.8 641.0,205.5 643.7,204.3 645.9,202.9 648.0,201.0 650.2,199.3 653.1,197.6 655.0,196.0M716.6,266.7 719.6,266.3 721.0,264.5 722.0,266.2 724.7,266.7 726.6,268.0 726.0,271.5 727.0,274.0 726.9,276.3 725.6,278.2 725.4,280.6 722.0,279.0 722.1,276.1 723.0,273.0 722.1,271.3 720.0,270.0 718.3,272.8 718.0,276.0 718.4,278.9 719.9,280.3 720.3,283.0M732.9,303.2 734.4,302.3 736.0,300.5 737.8,301.9 738.6,303.8 740.4,305.7 739.4,308.6 738.0,311.0 739.1,312.6 742.0,313.0 744.7,312.4 746.0,310.5 745.8,313.1 744.0,316.0M733.0,318.0 734.0,320.5 735.5,323.0 737.3,324.7 739.0,326.0M772.5,303.0 773.6,300.7 775.0,298.5 777.7,297.6 780.0,296.5 782.4,298.5 785.0,299.0 785.6,302.0 786.5,305.0 784.3,307.7 784.0,311.0 781.8,312.5 779.5,314.5 777.5,313.3 775.0,312.5 773.5,310.5 772.0,308.0 772.0,305.5 772.5,303.0M752.0,215.0 752.9,212.9 754.5,211.0 755.2,213.1 756.0,215.5 755.3,218.0 754.0,220.5 752.0,219.0 751.6,216.9 752.0,215.0M751.5,240.0 754.0,239.5 755.0,242.5 752.5,243.5 751.5,240.0M763.0,268.0 765.0,267.0 765.8,269.0 766.0,271.0 764.0,274.0 762.5,271.0 763.0,268.0M763.5,288.0 765.5,287.5 766.0,290.5 764.0,291.5 763.5,288.0M760.0,255.0 762.0,253.0 764.0,256.0 762.3,257.0 761.0,259.0 763.0,262.0M764.0,234.0 765.9,235.0 768.0,236.0 771.0,235.0 772.5,237.2 773.0,240.0 775.0,243.0M745.0,237.0 747.0,236.0 748.0,238.0M770.0,212.0 770.9,214.5 771.2,216.8 772.6,219.2 772.7,221.4 774.0,224.0 774.6,226.7 775.5,229.3 777.3,231.7 777.6,234.5 779.0,237.0 780.8,239.4 781.5,241.9 782.3,244.4 783.3,247.1 784.0,250.0 785.2,252.5 786.0,255.0 787.1,257.9 787.7,260.5 789.0,263.0 789.7,265.6 790.5,268.2 791.8,270.1 792.2,273.0 793.5,275.0 793.8,277.6 795.2,280.1 795.9,283.3 797.0,286.0 797.9,288.5 798.3,291.1 799.3,293.7 800.5,296.0M781.9,242.8 785.0,244.0 786.2,246.1 787.5,248.0 786.8,249.8 786.0,252.0 786.9,255.4M758.0,157.0 756.0,158.3 755.0,160.0 756.7,161.6 758.0,163.0 756.6,164.4 756.0,167.0 757.5,168.3 759.0,170.0M755.0,145.0 753.9,147.0 752.0,148.0 754.1,148.4 756.0,150.0 754.3,151.4 753.0,153.0 755.4,154.5 757.0,155.0M760.0,137.0 757.0,139.0 759.2,139.7 761.0,141.0 758.0,143.0M767.0,125.0 766.0,127.2 764.0,128.0 765.9,129.8 768.0,130.0 766.9,131.8 765.0,133.0 767.4,132.8 769.0,131.0M773.0,115.0 771.2,115.9 770.0,118.0 772.6,119.5 775.0,119.0 773.4,120.1 772.0,122.0 774.0,121.4 776.0,121.0M780.0,105.0 778.4,106.4 777.0,108.0 779.6,108.4 782.0,109.0 780.2,109.5 779.0,112.0 780.8,110.3 784.0,110.0M788.0,97.0 787.2,98.5 785.0,100.0 787.5,100.9 790.0,101.0 788.8,102.5 787.0,104.0 789.6,102.6 792.0,101.0M798.0,92.0 796.5,93.2 795.0,95.0 797.1,95.4 800.0,95.0 798.5,95.3 797.0,98.0 798.5,96.8 800.9,96.7 803.0,95.0M808.0,85.0 805.9,85.3 805.0,88.0 807.6,89.4 810.0,88.0 808.0,91.0M337.5,111.5 340.0,114.0 341.0,116.6 342.0,119.0 342.0,122.4 344.5,124.0 346.8,126.4 346.0,129.0 347.3,130.3 349.5,132.0 349.7,134.3 351.0,137.0 352.2,140.1 353.5,143.0 350.0,144.0 348.1,142.7 347.0,141.0 345.8,138.6 346.0,136.0 344.7,133.7 344.0,131.0 343.9,127.9 341.5,126.0 340.3,123.2 340.5,120.0 339.3,118.2 339.0,116.0 338.3,113.7 337.5,111.5M191.0,153.0 193.0,155.5 192.0,158.5 190.5,156.0 191.0,153.0M192.0,165.0 193.4,166.2 195.0,167.5 192.5,167.0 192.0,165.0M207.5,256.0 208.1,258.4 208.9,260.6 209.5,263.0 208.5,263.5 208.0,261.3 207.7,259.2 207.0,257.0 207.5,256.0M157.0,301.0 158.2,302.0 160.0,303.5 161.6,304.9 162.0,307.0 163.4,309.0 165.0,310.0 165.6,311.6 166.0,314.0 169.0,316.0 168.3,317.9 168.0,320.0 165.0,319.0 164.2,316.4 163.0,314.0 161.7,312.0 160.0,311.0 160.1,308.5 159.0,306.0 158.7,303.4 157.0,301.0M169.0,332.0 171.4,330.9 173.0,330.0 176.0,329.5 174.9,331.4 174.0,334.0 172.2,335.8 172.0,338.0 170.5,335.0 169.0,332.0M224.5,294.0 224.2,296.7 225.1,299.0 226.2,301.8 226.3,303.8 226.5,306.5 227.4,309.4 227.0,311.5 228.1,314.1 227.9,316.2 228.5,319.1 229.9,321.3 230.0,324.0 230.2,327.0 231.1,329.2 232.2,331.5 231.7,333.8 233.2,336.6 234.4,338.7 234.0,341.5 233.5,343.6 233.8,346.5 232.9,348.6 232.5,351.5 232.2,354.2 232.8,356.5 231.3,359.0 231.3,361.7 229.6,364.2 227.4,365.9 226.5,369.0 225.7,371.3 225.1,374.7 223.0,376.8 221.6,378.5 221.9,382.4 220.0,384.0 219.7,386.3 218.4,388.9 218.7,391.5 217.6,394.0 216.7,396.3 216.5,399.0 216.3,401.7 215.4,404.2 215.4,406.5 215.5,409.5 215.2,411.7 214.0,414.0 214.5,416.6 213.4,418.6 214.0,421.1 212.9,423.9 214.6,426.4 212.8,429.3 212.8,431.3 213.5,434.0 213.5,436.9 213.8,438.9 213.8,441.2 212.4,444.1 212.8,446.6 212.3,449.3 212.9,451.4 212.8,454.0 213.1,456.8 212.7,458.7 212.3,461.5 211.4,464.2 212.2,466.3 211.5,469.0 212.0,471.2 212.3,474.1 212.5,476.1 213.7,479.2 213.9,481.6 213.3,484.0 214.0,486.5 215.8,488.8 217.0,491.2 217.6,493.9 219.1,496.4 220.9,498.6 221.5,501.5 222.7,503.2 223.7,506.0 224.6,507.8 225.1,511.0 226.5,513.0 226.8,515.7 228.5,517.8 229.1,520.9 229.0,523.0 230.4,525.2 231.9,526.7 232.6,529.6 233.1,532.0 235.6,533.7 236.2,536.2 235.7,539.0 237.8,540.5 239.0,542.8 240.4,545.8 242.8,547.0 245.1,548.6 247.2,550.8 249.0,553.0 251.1,555.3 252.8,557.2 255.3,559.4 257.5,561.0 259.0,563.0 260.7,565.0 260.0,568.0 259.3,571.6 262.3,572.5 262.3,575.9 262.8,578.0 263.8,580.4 266.4,581.0 268.5,582.3 269.0,585.5 270.5,587.7 272.7,588.8 273.0,591.8 275.2,593.0 276.7,595.6 277.5,598.2 279.0,600.5 281.5,600.7 283.9,601.5 286.6,602.8 289.4,603.2 291.5,603.0 294.2,604.3 296.4,603.8 298.7,605.3 301.5,604.2 304.0,605.1 306.5,606.9 308.7,608.5 311.5,609.2 314.0,610.7 314.4,613.8 316.5,615.5 318.3,618.1 319.1,621.0 321.5,623.0 323.7,621.8 326.1,622.1 329.0,621.8 331.4,621.6 334.1,620.8 336.8,619.6 339.0,619.2 341.2,618.1 344.3,617.7 346.3,616.8 349.3,616.3 351.8,616.3 354.0,614.2 356.4,614.2 358.9,612.9 361.3,614.2 363.7,613.0 366.4,614.0 369.0,613.0 371.4,612.6 373.9,611.4 376.1,609.1 378.6,610.1 381.4,608.8 384.0,608.0 386.3,606.9 388.9,606.0 391.3,607.5 394.3,606.2 396.4,606.0 399.0,605.5 401.5,604.6 404.1,604.8 406.6,603.6 409.0,604.2 411.6,603.1 413.6,602.3 416.5,601.8 418.6,600.3 421.4,599.0 424.1,598.6 425.9,596.5 429.0,595.7 431.0,594.2 432.9,592.6 434.9,590.9 437.0,590.8 439.3,588.6 440.7,585.8 443.5,585.5 444.7,582.9 445.5,579.7 447.3,578.1 448.5,575.5 450.6,573.9 451.6,571.5 451.4,568.5 453.4,567.3 454.8,565.5 455.9,563.3 456.2,560.4 456.6,557.9 457.2,555.5 456.4,553.2 456.9,550.4 460.1,548.1 457.9,545.5 458.8,542.9 457.6,540.2 458.5,538.0 459.3,535.1 458.7,532.5 461.0,530.3 461.8,527.0 462.2,524.2 464.6,522.4 466.8,520.6 468.6,518.4 471.0,516.8 474.3,517.5 476.2,515.4 478.4,513.8 481.2,513.1 483.5,512.5 485.4,511.5 488.8,510.9 492.0,512.0 494.0,510.0 496.2,509.0 498.7,508.6 500.7,508.3 503.7,508.7 506.0,508.0 508.5,507.0 511.4,507.5 513.6,505.2 515.9,503.7 518.2,503.4 521.0,503.0 523.9,502.5 526.1,501.5 528.2,501.8 530.9,501.6 533.1,499.7 536.0,500.0 538.7,499.9 541.4,500.2 543.3,501.0 546.1,500.7 548.5,501.5 550.7,500.7 553.8,502.0 556.0,503.1 558.0,503.3 561.0,504.0 563.0,503.3 566.1,503.2 568.6,502.0 571.0,501.5 573.5,502.5 575.8,503.3 578.5,504.0 580.3,506.3 579.8,509.6 581.5,511.5 582.2,513.0 581.7,515.7 581.2,518.2 580.7,520.6 579.8,523.0 577.4,524.5 576.6,526.4 576.4,529.2 574.5,530.8 573.5,533.0 571.6,534.5 569.7,536.7 569.5,539.5 567.5,541.3 566.0,543.0 565.0,545.7 563.5,547.3 563.3,551.0 561.0,553.3 559.8,555.5 559.2,557.7 558.6,560.3 558.4,562.9 557.6,565.1 557.2,568.0 557.8,570.0 555.6,572.7 557.3,575.3 556.9,577.9 556.0,580.5 556.0,582.8 556.0,585.5 555.5,588.3 555.0,590.6 555.7,593.4 553.8,595.8 553.5,598.0 554.3,601.0 551.9,603.0 551.4,605.7 549.8,607.9 549.5,610.5 548.5,613.0 547.7,615.6 547.1,617.7 544.9,619.8 544.7,622.7 543.5,625.5 542.8,627.8 541.6,630.3 541.2,633.4 538.7,635.3 538.5,638.0 537.9,640.2 537.3,643.1 537.0,645.8 536.0,648.0 535.4,650.6 535.1,653.0 534.0,655.6 533.5,658.0 532.9,660.2 533.1,663.1 533.3,665.9 531.7,668.0 531.8,670.8 531.0,673.0 530.0,676.0 528.9,677.6 527.7,680.2 527.3,683.1 526.0,685.5 524.0,687.1 521.7,688.2 520.6,690.2 518.3,692.0 516.0,693.0 513.3,695.0 512.4,697.8 509.8,699.2 511.1,701.1 512.2,703.4 513.5,705.5 515.8,704.5 518.8,704.0 521.0,703.0 522.4,705.0 525.3,704.9 527.5,706.4 529.3,707.5 531.0,709.2 533.0,707.3 536.4,706.7 538.4,705.1 541.0,704.2 543.0,702.7 545.8,703.1 548.7,703.5 551.0,703.0 554.2,704.1 556.0,706.8 558.9,705.8 561.0,706.5 563.5,706.0 565.8,705.9 568.6,706.1 571.0,705.5 573.5,705.9 575.8,705.9 578.3,707.6 581.2,705.2 583.3,706.2 586.0,705.5 587.9,703.9 590.6,703.7 593.7,703.4 596.0,703.6 598.8,702.6 601.0,701.8 603.5,701.5 605.3,699.2 607.5,698.8 609.6,700.2 612.6,701.2 614.7,700.3 617.5,700.8 619.5,702.0 622.5,702.5 625.8,703.3 626.9,701.1 630.1,700.8 632.8,701.2 634.5,699.9 637.5,699.5 640.1,700.5 642.6,700.7 644.9,701.7 647.8,701.6 650.6,702.3 652.5,703.8 655.3,704.0 657.7,704.8 660.2,705.9 662.3,706.1 665.0,707.5 667.0,708.8 669.4,709.6 671.6,711.2 673.2,713.3 675.0,715.0 676.8,717.6 680.0,717.7 682.4,718.6 685.0,720.5 688.3,719.6 690.0,722.5 692.2,724.3 693.6,727.1 696.2,728.8 697.5,730.6 699.9,732.0 701.2,733.8 700.0,735.7 698.6,737.4 696.2,738.8 696.3,741.8 697.8,744.2 697.5,747.5 696.6,750.2 699.3,752.5 699.9,754.8 700.0,757.5 698.2,760.0 697.5,762.8 696.2,765.0 694.5,766.6 692.5,768.0M222.0,294.0 222.4,296.4 222.6,299.1 223.5,301.5 223.8,303.9 224.0,306.5 224.6,309.1 225.0,311.7 224.9,314.1 226.2,316.3 226.4,319.1 226.4,321.4 227.5,324.0 227.7,326.7 227.6,329.2 229.0,331.2 229.8,333.7 230.4,336.3 231.1,338.8 231.0,341.5 230.7,344.0 230.7,346.5 230.1,348.5 230.5,351.0 230.6,353.6 230.0,356.0 228.8,358.7 226.9,360.7 226.5,363.5 225.2,366.1 224.0,368.5 223.2,371.3 221.9,373.9 220.2,376.3 219.8,378.7 219.3,381.6 217.5,384.0 217.6,386.4 216.5,388.9 215.4,391.7 215.3,394.1 215.2,396.7 214.0,399.0 213.9,401.4 213.9,404.4 213.4,406.4 212.3,409.0 211.8,411.5 211.5,414.0 211.8,416.6 211.3,418.8 210.7,421.4 210.9,423.7 211.7,426.4 211.4,429.2 211.7,431.5 211.0,434.0 211.4,436.6 210.8,438.9 209.9,441.5 210.3,443.8 210.8,446.5 210.6,448.9 210.9,451.0 210.5,454.0 210.7,456.4 210.4,459.1 209.4,461.6 209.8,464.1 209.8,466.6 210.0,469.0 210.6,471.7 210.9,474.8 211.2,477.6 212.0,480.0M226.0,328.0 224.5,330.2 222.0,331.0 223.9,333.3 226.0,335.0 225.5,336.8 223.0,338.0 226.1,338.2 228.0,341.0M225.5,360.0 222.8,359.2 221.3,362.1 219.0,362.0 217.1,364.2 215.0,366.0 216.9,367.0 219.0,369.0 220.9,367.1 223.0,366.0 221.7,369.2 221.0,372.0M219.0,384.0 217.1,385.8 215.0,386.0 216.0,388.1 217.0,390.0 214.7,390.8 213.5,393.0 214.7,395.2 216.0,397.0M213.0,404.0 211.0,405.3 210.0,407.0 211.0,409.2 213.0,410.0 212.1,413.7 211.0,416.0M221.0,489.0 218.9,490.6 217.0,492.0 219.0,493.9 221.0,497.0 222.7,499.0 223.4,501.5 225.0,503.5 228.5,505.0 228.1,502.2 227.0,500.0M211.5,471.0 209.9,472.5 209.0,474.5 206.0,476.0 209.0,478.0 209.9,480.2 211.0,482.5M203.0,478.5 200.5,480.5 198.0,481.5M195.0,484.0 193.2,485.4 191.5,486.0 189.0,485.0M206.5,471.0 204.0,472.5 202.5,474.0M406.0,609.0 407.0,606.6 409.0,605.0 411.0,604.5 413.7,603.8 416.0,602.5 418.0,601.2 419.6,598.8 422.0,598.0 425.2,597.0 428.0,596.0 428.8,597.4 430.5,599.0 428.6,601.9 428.0,605.0 425.3,606.2 423.4,608.4 421.0,609.5 417.7,610.3 415.9,610.6 413.0,611.0 410.3,610.4 408.8,610.1 406.0,609.0M272.0,608.0 274.3,606.4 275.5,604.0 279.0,603.0 277.9,606.2 276.5,609.0 275.1,610.2 273.0,611.0M250.5,615.0 253.0,614.0 254.3,616.0 256.2,617.8 258.0,619.5 258.7,621.9 260.0,624.0 256.5,625.5 253.8,623.7 252.5,621.0 251.3,617.9 250.5,615.0M302.0,617.0 303.3,614.7 304.5,612.5 305.3,614.6 306.0,617.0 304.0,617.0 302.0,617.0M315.0,635.0 317.0,633.0 318.5,636.0 317.0,639.5 315.0,638.0 315.0,635.0M345.5,660.0 347.1,658.7 349.0,657.5 351.5,657.9 354.0,657.0 356.0,658.9 358.5,660.0 360.1,661.0 361.0,663.0 358.4,661.8 356.0,660.5 353.2,660.3 350.0,659.5 347.9,660.1 345.5,660.0M287.5,683.0 288.6,680.2 290.0,677.5 290.8,679.6 292.1,681.5 293.0,683.5 290.2,683.0 287.5,683.0M198.0,595.5 201.0,596.5 203.0,598.5 199.5,597.5 198.0,595.5M374.0,690.0 375.7,691.2 378.0,693.0 381.2,692.4 384.0,694.5 386.5,695.5 390.0,697.0 392.5,697.1 394.3,697.2 396.0,700.0 398.2,701.1 400.2,702.4 402.0,703.0 404.0,705.5 401.2,702.9 398.0,703.0 394.3,701.7 392.0,700.5 388.8,698.8 386.0,700.0 383.2,700.1 381.0,699.0 378.0,698.6 377.0,695.5 373.8,693.8 374.0,690.0M380.0,684.5 381.1,687.5 383.0,690.0 384.0,692.0 386.0,693.0M388.0,693.0 390.0,692.3 392.0,691.5 393.3,693.4 395.0,695.0M574.0,541.0 575.4,539.3 576.0,537.5 577.9,537.1 580.0,536.5 582.0,538.5 580.3,541.3 579.0,544.0 577.1,545.1 575.5,546.5 573.5,545.0 574.0,542.9 574.0,541.0M543.5,623.9 541.7,621.4 542.7,618.8 541.6,616.5 541.6,614.2 540.7,611.5 540.6,608.7 540.5,605.8 539.4,603.3 538.6,601.2 538.0,599.2 536.0,601.4 534.5,604.0 532.6,606.1 531.1,608.8 530.6,610.8 529.0,612.5 528.6,614.6 527.0,616.3 530.5,615.8 533.9,615.6 535.3,617.6 537.3,619.8 537.6,622.3 537.1,624.4 536.6,626.6 536.3,629.3 534.8,632.4 533.9,634.8 536.0,637.0 538.0,637.6M548.0,573.0 549.9,571.4 552.0,569.0 554.1,570.3 556.0,571.0 554.3,573.1 553.0,576.0 555.3,578.3 557.0,580.0 555.5,582.4 553.5,584.0 556.0,585.5M531.0,640.0 532.7,642.0 534.0,645.0 533.1,648.4 532.0,651.0 532.2,653.2 534.1,654.7 535.0,657.0 535.2,660.6 533.0,663.0M540.0,643.0 540.6,646.6 543.0,648.0 542.7,650.8 541.1,652.4 541.5,655.0 544.0,657.0M545.0,637.0 545.9,639.9 547.0,643.0 546.1,645.7 546.2,647.6 545.0,650.0M493.5,716.8 496.0,715.8 497.7,713.7 500.5,713.0 502.5,710.8 505.0,709.0 507.4,708.3 509.4,707.3 511.5,706.5 512.0,709.5 510.0,711.6 508.0,713.0 505.7,714.0 503.9,716.4 502.0,717.5 499.4,718.6 497.0,720.5 494.0,719.5 493.5,716.8M515.0,689.0 516.8,687.9 519.0,687.5 520.5,690.0 518.6,690.7 517.0,692.0 515.0,689.0M669.5,717.5 672.0,715.5 673.8,716.9 676.0,718.0 678.6,719.8 681.0,721.5 682.8,722.8 685.0,724.5 683.5,727.0 681.5,725.2 679.0,724.5 676.9,724.0 674.5,722.5 671.0,721.5 670.2,719.4 669.5,717.5M652.0,703.5 655.0,703.0 656.0,706.0 653.0,706.5 652.0,703.5M694.0,740.0 695.6,738.6 696.5,737.0 697.4,739.0 698.0,741.0 697.9,743.6 697.0,746.0 694.5,744.0 694.5,742.0 694.0,740.0M696.0,757.0 698.5,755.0 699.5,758.5 697.5,761.0 696.7,759.0 696.0,757.0M139.0,665.5 140.8,667.5 142.7,669.1 144.0,671.0 146.6,671.6 149.0,673.0 151.4,673.4 153.8,674.2 156.0,675.0 159.0,675.7 161.3,676.3 164.0,676.8 166.7,677.3 169.2,677.5 172.0,678.0 174.8,678.2 177.5,679.2 180.2,679.2 182.2,681.7 184.0,684.0 186.6,685.9 189.0,688.0 190.9,689.5 192.7,690.4 195.0,691.0 197.0,691.7 199.2,692.6 201.5,693.0 204.4,694.1 207.0,696.0 209.0,697.1 212.0,697.8 214.0,699.2 216.3,699.9 219.0,700.0 221.0,701.0 223.7,701.6 226.5,701.2 229.0,701.8 231.2,702.9 233.6,703.2 236.0,704.0 238.6,705.1 241.2,705.7 244.0,706.8 246.3,707.2 247.9,709.1 250.0,709.5 252.0,710.3 254.4,710.2 256.5,710.5 258.9,710.1 260.7,709.4 263.0,709.5 265.9,708.7 269.0,708.0 271.2,707.4 274.0,706.3 276.0,705.0 278.9,704.0 281.7,703.6 284.0,701.8 286.2,700.7 288.1,699.5 290.0,698.0 292.1,696.5 294.4,695.3 296.5,694.2 298.4,693.4 300.0,692.0 302.7,691.6 305.2,691.0 307.7,691.0 309.8,691.0 312.0,691.0 314.5,690.6 316.7,691.0 319.0,691.8 321.4,693.1 323.5,693.1 326.0,694.0 328.6,695.1 331.1,695.9 334.0,696.8 336.3,698.6 338.8,699.1 341.0,701.0 343.2,702.3 345.4,703.4 346.9,705.2 349.0,706.8 350.6,708.3 353.2,709.2 354.8,711.3 357.0,712.5 359.5,714.2 361.7,716.0 364.0,718.0 366.1,719.6 367.3,721.9 369.9,723.0 372.0,724.5 374.1,726.0 375.7,727.7 377.7,728.7 379.5,730.4 381.5,731.8 383.8,733.6 385.9,735.1 387.6,737.5 389.6,739.3 392.0,741.0 393.8,743.0 395.8,745.1 398.0,746.8 399.8,748.4 401.7,750.6 404.0,752.0 405.7,754.3 407.6,756.1 410.1,757.3 411.6,759.7 414.0,761.5 416.4,762.4 418.5,764.7 421.0,765.9 423.0,767.5M296.0,694.3 297.6,692.4 299.0,690.5 301.5,690.4 304.0,690.0 305.2,691.0M642.0,491.7 644.3,491.2 646.6,490.5 648.8,489.2 650.6,488.3 653.1,487.5 654.9,486.7 657.8,486.5 659.1,484.8 662.6,483.1 662.9,480.1 660.8,478.5 660.0,476.3 660.9,474.7 661.1,470.8 662.6,469.4 664.0,468.4 667.0,466.0 669.1,462.9 671.1,462.6 674.6,462.2 676.5,459.9 679.5,459.4 681.4,457.4 684.0,456.1 686.8,455.9 689.0,454.0 691.7,454.0 694.5,453.2 696.5,452.8 700.0,452.2 702.0,450.6 704.3,449.3 706.6,449.6 709.5,451.1 711.8,451.9 714.0,449.7 716.4,447.9 719.2,445.7 722.0,447.4 724.3,446.3 726.5,446.3 728.8,445.6 731.6,444.9 734.4,443.8 736.3,444.6 739.3,443.9 741.0,444.4 744.0,445.6 746.5,445.4 749.1,445.7 751.9,445.8 754.3,446.3 756.8,447.1 758.9,447.4 760.7,445.0 762.5,444.1 765.4,443.7 768.0,442.8 770.0,442.5 773.5,442.3 775.7,441.1 777.7,441.9 781.5,442.3 782.5,445.3 786.0,443.9 787.7,445.4 791.0,446.4 793.5,446.3 796.2,447.4 799.1,447.7 801.4,448.9 803.4,449.5 805.5,451.7 808.7,450.5 809.9,453.5 812.0,454.5 813.0,457.5 816.0,457.3 819.4,458.0 821.1,460.8 823.7,462.0 826.2,464.1 828.3,465.5 831.4,466.0 833.9,466.2 837.1,465.6 838.4,464.7 843.2,463.9 845.1,464.3 847.2,464.9 850.0,466.0 851.8,466.7 854.5,466.0 857.0,466.8 858.8,468.6 861.0,470.8 863.2,469.4 866.2,469.5 868.1,472.0 869.7,472.3 872.5,472.8 875.9,472.9 877.7,475.3 879.4,475.0 881.3,477.6 882.8,479.7 883.9,482.1 885.5,484.0 888.1,485.5 889.7,488.3 891.6,489.4 893.9,492.8 895.7,492.4 896.2,495.6 898.3,496.8 898.7,499.6 900.9,501.6 903.4,503.7 905.1,505.7 907.2,506.5 910.2,506.1 911.2,509.6 913.7,510.5 915.6,511.9 919.0,512.9 922.2,511.2 924.0,514.0 925.7,516.5 928.8,516.6 931.3,517.3 934.2,517.4 936.5,517.2 938.7,518.1 941.1,519.1 944.0,518.0 945.7,518.2 948.9,517.6 951.4,518.3 955.0,519.8 954.8,523.4 952.0,525.3 951.3,527.5 948.8,529.4 950.0,531.2 951.4,532.8 954.0,534.0 956.0,532.4 959.2,532.6 961.7,532.8 964.5,534.1 967.7,534.5 969.8,532.7 973.0,533.7M642.0,491.7 644.6,492.0 647.1,493.4 649.4,491.8 652.3,492.0 654.0,490.8 655.4,493.0 657.4,495.1 659.6,494.4 661.8,493.0 664.3,491.7 666.6,492.0 670.4,490.5 672.8,489.1 673.7,486.7 674.8,484.2 675.4,482.3 678.1,482.9 680.3,482.3 682.7,480.6 684.8,479.7 687.3,478.3 690.1,478.3 691.8,477.8 695.1,478.0 696.8,475.4 699.9,474.7 702.0,472.8 704.1,470.5 706.2,469.1 708.8,467.7 711.0,466.8 711.4,463.4 713.9,463.3 715.7,461.7 717.6,463.0 720.2,462.8 722.5,462.6 724.8,464.6 728.1,462.4 730.7,463.0 734.0,461.3 736.3,461.7 738.8,461.7 741.2,462.4 743.4,461.6 745.9,463.0 748.2,463.4 749.9,465.9 752.5,466.8 750.9,468.3 750.0,470.3 747.2,469.5 744.8,470.9 741.4,471.1 738.3,472.4 735.4,472.0 736.5,473.2 738.2,475.3 739.7,477.1 742.5,477.5 744.3,479.2 746.5,480.6 749.0,481.9 752.0,482.6 755.1,482.3 758.1,482.6 760.1,483.4 762.9,483.5 765.4,484.0 764.9,481.2 766.4,479.8 767.1,477.1 768.8,477.1 770.1,480.3 769.7,483.1 772.9,482.6 774.6,483.1 777.1,482.3 779.1,484.8 781.7,484.4 783.8,484.9 786.5,486.5 788.8,484.2 791.1,484.8 794.7,484.5 795.0,488.9 798.0,490.0 800.2,491.2 802.9,493.1 805.9,493.9 808.2,495.1 810.6,497.3 813.9,495.5 815.5,497.7 818.5,498.5 821.0,497.7 823.1,499.3 825.6,499.4 827.5,500.7 830.0,501.1 832.1,502.1 834.8,502.8 837.3,501.0 841.3,502.3 842.6,499.6 845.8,500.0 848.6,500.3 850.9,502.1 851.2,505.1 853.7,507.1 854.8,509.7 854.6,511.1 854.6,513.9 857.1,515.7 857.7,517.8 859.1,519.6 859.2,522.1 860.6,524.3 863.2,525.0 864.4,527.3 866.4,529.7 869.1,531.1 872.0,532.1 874.4,532.2 876.7,531.9 879.4,532.8 882.0,531.5 883.8,532.7 887.6,533.7 889.7,533.7 892.9,534.0 895.1,533.4 898.3,533.7 899.9,535.6 902.6,537.3 903.4,539.7 902.8,541.7 902.2,544.1 901.7,546.5 898.9,547.7 898.0,549.4 894.0,549.9 893.1,551.7 891.4,553.6 889.2,555.9 886.3,556.8 885.1,559.0 883.5,560.9 882.8,563.7 885.1,562.9 888.7,564.1 890.9,563.7 894.0,563.4 896.5,562.0 899.2,562.3 901.3,561.2 903.6,560.0 905.9,560.8 909.2,560.7 910.9,560.1 913.7,560.2 916.1,559.2 918.8,561.1 920.6,559.5 923.7,559.5 925.9,558.6 928.5,558.2 930.8,558.5 933.7,559.5 936.3,558.8 938.8,557.8 941.8,557.9 944.5,558.2 947.6,558.8 950.3,560.0 952.5,560.5 954.9,560.5 958.2,561.1 960.4,562.6 963.7,561.1 965.4,560.7 967.9,561.6 970.6,561.9 973.0,562.0M765.0,446.0 767.7,446.0 770.1,445.3 773.2,444.3 775.0,443.0 778.3,441.8 779.6,444.7 784.5,442.1 786.0,446.5 789.3,446.6 791.5,448.0 794.4,448.3 797.0,449.5 799.4,449.4 800.9,452.3 803.3,453.0 805.5,452.9 808.0,454.5 809.1,456.5 811.1,457.2 814.0,459.1 815.8,459.0 818.0,461.5 820.1,462.5 822.0,463.0 823.4,465.8 826.0,466.0 828.6,466.7 829.7,467.8 832.0,469.0 834.8,469.7 837.4,469.3 841.0,468.1 843.5,467.9 846.0,467.0 848.6,468.4 851.0,468.7 854.2,469.4 856.3,469.3 858.0,471.0 861.1,470.9 861.8,474.1 864.0,475.5 868.1,473.7 870.0,475.5 873.1,475.9 872.6,477.9 876.6,477.8 877.3,480.8 880.0,482.0 882.6,483.6 884.5,485.3 886.8,487.3 887.0,490.0 887.4,492.8 892.4,491.4 892.0,496.6 895.0,498.0 895.1,500.1 898.8,500.7 898.5,504.0 901.0,505.0M770.0,443.0 772.7,441.9 775.2,443.3 777.2,443.1 780.0,443.5 781.4,444.1 785.4,446.2 786.8,447.3 790.0,448.0 793.7,447.3 795.1,449.1 797.1,450.7 800.0,451.5 803.1,453.2 806.1,454.1 807.4,456.1 810.0,457.0 811.8,459.5 813.5,460.8 817.0,460.7 817.8,461.8 820.0,463.5 822.0,465.8 824.6,466.0 827.2,468.3 829.0,468.5M833.0,464.0 834.7,463.4 837.7,461.9 840.0,462.0 842.4,462.0 845.6,463.5 848.0,463.0 850.9,463.8 853.3,464.2 856.0,466.0 858.2,466.2 861.2,468.0 864.0,468.5 866.9,468.7 868.9,470.2 872.0,471.0 874.1,471.4 874.5,474.4 878.4,474.8 880.0,476.0 882.2,476.5 883.4,478.0 883.4,482.0 886.0,483.0 888.4,483.5 888.8,486.4 891.6,487.6 892.0,490.0 894.5,490.2 895.6,492.5 898.0,494.0 899.2,496.0 897.9,499.9 902.0,501.0M822.0,463.0 823.6,464.9 826.5,466.1 828.1,468.3 830.0,470.5 832.7,470.9 835.3,472.7 837.9,472.0 839.6,473.5 842.5,472.5 845.0,473.5 847.1,475.1 850.2,474.3 852.2,474.7 854.5,475.7 857.0,476.0 859.6,475.2 860.9,478.1 863.3,479.6 865.8,480.0 868.0,481.0 870.7,481.6 872.6,483.9 873.3,486.8 876.0,488.0 877.6,488.9 880.1,490.1 882.2,491.6 884.0,493.0 885.5,495.1 887.6,495.8 889.8,497.7 892.0,499.0 894.9,499.9 896.6,502.5 897.9,504.7 900.0,506.5M910.0,509.0 911.1,511.5 914.2,510.8 916.0,512.5 918.5,512.0 922.0,511.5 924.3,513.9 927.0,515.5M825.4,518.3 827.9,518.7 831.0,521.0 833.7,523.7 836.6,524.3 838.2,526.4 839.3,528.3 842.0,528.5 843.5,530.8 846.8,530.0 848.6,532.0 851.6,533.2 854.0,535.0 855.8,537.3 858.9,537.5 860.6,537.1 862.3,539.3 865.0,538.5 868.0,538.6 869.1,539.7 871.1,539.3 874.8,539.8 876.0,542.3M828.0,519.0 830.8,519.3 832.5,522.1 834.0,523.5 836.7,523.7 838.3,526.6 840.0,527.5 842.2,528.3 844.5,529.4 846.0,530.5 847.4,532.4 849.3,533.2 852.0,534.5 854.7,535.2 858.0,536.0 860.6,537.9 862.0,540.0M862.0,528.0 862.3,532.0 866.0,533.0 868.0,534.2 870.0,536.0 871.6,537.6 874.0,538.0M841.0,520.0 842.2,520.8M845.0,523.0 846.2,523.8M849.0,521.0 850.2,521.8M843.0,526.0 844.2,526.8M850.0,526.0 851.2,526.8M847.0,529.0 848.2,529.8M872.0,541.0 873.2,541.8M878.0,545.0 879.2,545.8M884.0,541.0 885.2,541.8M880.0,538.0 881.2,538.8M741.0,479.0 743.7,481.2 746.0,481.0 747.5,482.9 750.0,484.0 752.0,485.4 755.0,485.5 757.4,482.8 760.0,484.0 762.3,487.1 765.0,486.0 765.2,485.2 768.0,483.0 765.4,482.6 764.0,481.0 761.0,482.1 759.0,482.0 756.0,481.8 754.0,480.0 751.4,479.3 749.0,479.0 746.7,480.0 745.0,478.0 743.1,478.2 741.0,479.0M744.0,480.0 747.0,479.5 749.8,481.0 752.0,483.0 754.5,484.6 757.2,484.6 760.0,485.0 761.5,485.0 765.0,484.7 767.0,484.5M700.3,500.3 701.0,497.7 702.0,495.5 703.2,493.2 705.4,491.7 707.7,490.7 710.3,489.9 712.3,489.1 715.1,489.3 717.0,491.7 719.1,493.4 720.4,495.5 721.9,497.5 722.5,500.3 720.9,502.4 719.1,503.7 715.9,505.0 713.3,505.0 710.5,506.3 708.1,505.7 706.2,506.2 703.7,505.4 702.6,502.7 700.3,500.3M708.8,483.1 711.0,484.7 713.9,484.6 715.7,486.6 717.4,488.7 719.1,490.0 719.5,492.3 719.5,494.5 720.0,496.8 720.7,499.2 722.5,500.3M722.5,500.3 724.3,502.7 727.0,502.0 729.6,502.8 732.8,501.1 735.0,499.5 737.0,499.5 738.9,498.7 741.4,498.5 742.5,499.1 745.0,500.0M748.0,500.5 750.1,500.8 752.0,501.0 753.5,500.1 756.0,499.5 758.6,500.3 760.3,498.5M764.0,500.0 765.8,499.3 768.0,499.5 769.8,498.8 772.3,499.4M686.6,488.3 688.6,487.4 691.0,488.2 693.1,488.8 695.1,489.1M715.0,463.0 716.2,465.7 717.0,468.0 718.8,467.8 721.0,467.0 719.5,465.5 719.0,463.5M726.0,468.5 729.0,470.5 731.0,473.0M712.5,476.0 715.0,474.0 716.0,476.5M699.5,493.0 700.5,496.0M804.0,570.0 806.1,569.3 808.0,568.5 810.0,568.8 808.2,569.9 806.0,570.8 804.0,570.0M811.5,568.5 814.2,567.9 816.8,566.8 816.5,568.0 814.4,568.8 812.5,569.8 811.5,568.5M760.5,580.5 763.0,582.0 765.6,581.4 768.2,581.8 770.5,581.5 770.5,584.0 768.1,584.0 765.4,584.4 763.0,584.5 760.5,583.0 760.5,580.5M861.8,618.0 863.2,616.0 865.3,615.3 866.8,613.0 869.8,612.0 873.0,611.5 875.5,611.7 878.1,610.4 880.5,610.5 883.4,610.3 886.1,611.0 889.0,611.0 892.2,611.7 895.2,610.8 898.0,611.8 900.2,612.3 902.7,613.2 904.7,613.7 907.0,614.5 910.0,614.6 912.5,615.9 915.5,616.8 917.8,617.4 919.5,618.9 922.0,619.0 923.7,621.0 925.9,621.3 928.0,621.8 929.6,623.8 931.5,626.0 932.9,628.9 934.2,631.8 931.8,632.7 930.0,633.5 927.5,632.8 925.5,634.2 923.1,632.4 920.0,631.5 917.5,632.0 915.5,630.5 912.9,630.9 911.0,631.5 908.0,633.0 905.6,634.0 905.5,636.5 903.0,639.2 900.0,637.5 898.0,635.5 895.4,634.2 893.0,634.5 890.3,634.2 888.0,634.2 885.3,632.8 883.0,632.0 880.7,631.3 878.0,629.2 875.9,627.4 874.0,626.0 872.7,624.1 870.5,623.0 868.5,621.5 866.0,620.5 864.2,619.0 861.8,618.0M899.0,636.0 901.0,633.0 903.5,635.5 902.0,639.0M839.7,312.3 842.0,313.9 843.0,316.0 844.9,316.6 846.0,319.5 848.0,320.5 850.1,322.0 853.0,319.7 856.0,320.5 858.6,318.7 862.0,318.2 864.9,317.5 866.9,317.0 869.0,316.5 871.3,316.0 873.1,314.8 875.4,315.3 875.8,312.8 877.0,310.0 875.1,311.3 874.0,312.5 871.5,312.3 869.2,312.3 866.5,313.0 863.8,312.9 861.6,313.3 859.0,313.5 857.0,311.4 854.6,309.3 852.0,312.0 849.9,314.5 848.0,316.5 845.0,316.1 844.0,314.0 841.9,312.8 839.7,312.3M859.8,293.7 862.4,294.2 864.5,296.0 867.3,296.8 869.4,298.2 872.1,300.0 874.5,300.5 876.6,301.4 879.8,302.6 882.3,302.9 884.5,304.5 886.1,305.5 888.8,306.3 890.7,307.6 892.5,309.0 894.6,310.3 896.2,312.3 897.6,314.9 900.5,314.5 902.2,317.0 905.1,316.7 907.0,319.0 908.1,321.2 907.5,325.0 906.6,328.6 904.5,331.5 903.6,333.5 902.1,334.6 902.1,337.3 901.5,340.0 902.8,342.5 901.3,344.7 900.7,346.5 899.2,344.8 897.5,343.0 894.7,340.5 897.0,338.0 899.2,336.1 898.6,333.7 899.5,331.5 899.1,329.6 899.2,327.2 899.9,324.8 898.0,323.0 896.2,319.7 894.8,317.1 893.0,316.0 891.1,313.9 889.0,312.5 886.5,310.5 884.0,309.5 882.0,308.3 880.0,308.0 876.9,307.8 875.0,311.0 875.1,313.0 875.4,315.3 877.5,318.0 879.8,319.7M903.0,320.0 904.2,322.2 905.0,325.0 904.0,328.1 903.5,330.5 903.0,332.9 901.0,335.0M866.5,301.9 868.0,303.5 869.4,304.9M830.3,353.0 830.8,355.5 832.3,358.4M833.5,362.0 834.5,365.5 836.0,368.8M836.7,340.2 838.5,339.3 840.0,339.8M843.5,341.0 845.7,342.0M868.7,365.8 870.5,368.5 872.4,371.7 872.7,374.3 874.5,376.5 875.2,378.7 876.9,382.1 878.1,384.1 879.0,386.0 880.3,387.1 881.3,389.6 882.8,393.0 883.2,395.1 884.3,397.0 883.6,399.5 885.8,401.5 886.6,403.5 887.3,405.9 887.9,408.4 889.0,412.0 889.0,415.4 891.0,417.8 890.7,420.3 890.0,423.0 888.1,424.8 887.0,427.0 885.1,427.6 883.0,427.5 882.1,425.2 880.5,423.0 879.9,420.6 879.8,417.8 878.5,414.5 876.9,411.8 875.7,410.7 874.5,408.5 872.4,405.9 870.3,404.9 869.5,403.0 868.5,401.1 866.5,400.0 863.3,400.9 863.5,397.0 861.9,394.9 860.5,394.0 859.4,391.5 856.8,390.3 858.6,389.0 861.0,388.0 863.9,387.6 865.0,385.1 866.3,382.0 867.2,379.2 866.8,376.0 866.5,373.2 866.4,370.6 867.5,369.0 868.7,365.8M892.0,418.0 892.7,420.4 894.0,423.0 894.9,425.6 895.5,428.0M888.8,376.2 891.0,378.0 894.5,377.5 898.0,376.0 900.0,375.4 902.1,374.0 904.2,373.1 906.0,372.3 908.8,370.2 905.0,370.8 902.1,372.0 899.9,372.6 897.5,373.6 895.3,374.2 893.2,374.7 890.0,375.0 888.8,376.2M911.1,367.3 912.5,364.5 914.0,362.8 912.0,360.5 911.1,359.1 913.5,358.0 916.3,357.6 918.5,358.5 920.0,359.8 921.4,361.0 923.5,362.0 924.8,364.4 927.4,364.3 929.5,364.9 930.5,367.0 933.1,367.4 933.4,370.2 935.5,373.0 937.1,376.2 937.0,379.5 936.3,382.1 934.8,384.5 933.4,386.6 935.0,389.5 936.3,392.5M912.5,383.6 912.8,386.7 913.0,388.5 913.4,391.4 914.0,394.0 915.0,396.4 916.8,398.0 918.9,399.8 920.0,401.5 921.7,404.6 923.5,406.5 924.1,408.5 926.3,409.9 927.4,411.9 929.2,413.9 930.5,416.0 931.9,417.8 933.4,420.0 934.0,422.7 935.6,423.5 937.0,425.5 938.7,427.4 940.0,430.0 942.6,431.1 945.0,433.5 948.0,435.0 951.0,436.0 953.2,437.0 956.0,437.5 958.4,438.7 960.0,439.0M913.5,392.0 914.5,394.7 916.0,397.5 916.3,401.1 919.5,402.5 921.1,404.3 922.2,405.9 923.0,408.0M948.2,389.6 950.5,389.5 952.7,391.1 953.5,394.0 954.9,397.0 956.6,400.0 958.6,402.9 960.8,406.0 963.1,408.9 960.0,409.5 957.1,408.9M940.0,434.0 942.0,436.0 945.0,437.0 948.1,435.8 951.0,436.5 953.5,437.9 957.0,438.5 959.4,439.7 961.0,441.0M958.2,445.4 955.4,446.4 953.0,447.5 951.4,449.0 949.7,450.6 948.3,452.9 946.5,455.0 945.6,456.6 944.5,459.1 945.0,461.6 944.0,464.0 944.4,466.7 945.4,469.4 946.1,471.6 947.0,474.0 948.4,475.8 948.8,478.0 950.1,479.6 951.4,481.4M944.5,474.5 946.5,476.0M949.5,485.0 951.5,484.5M961.0,424.0 962.9,426.2 963.0,429.0 964.0,431.4 965.0,434.0 966.0,436.4 967.0,439.0 967.6,442.3 969.0,445.0 971.0,448.0M961.0,428.0 960.8,431.6 962.9,433.0 964.0,436.0 964.4,439.0 966.0,442.0 965.7,444.5 968.0,447.0M961.5,441.0 962.8,439.5 964.0,438.0M903.0,408.5 904.0,409.1M906.0,409.5 907.0,410.1M910.0,410.0 911.0,410.6M868.0,458.0 869.0,458.6M821.0,419.5 822.0,420.1M967.0,419.0 968.0,419.6M970.5,532.0 971.5,532.6M941.0,650.0 942.0,650.6M889.0,488.0 890.0,488.6M910.0,472.0 911.0,472.6M1000.0,1000.0 1001.0,1000.6M791.0,415.0 793.2,414.0 795.0,413.5 797.6,413.0 800.0,412.5M810.0,411.0 812.0,414.0 812.7,416.1 814.0,418.0M815.0,420.0 816.1,422.6 818.0,425.0 819.8,427.2 821.0,429.0 823.0,432.0M793.0,424.0 793.8,424.5M735.0,394.0 737.6,393.1 740.0,392.5 743.3,390.7 746.0,391.0 748.5,389.3 752.0,389.0 754.5,387.8 758.0,387.5 760.3,386.0 763.0,387.0 766.0,385.5 763.0,385.7 760.0,385.0 758.1,386.2 755.4,385.9 753.0,386.0 750.3,387.8 747.0,388.0 743.7,389.6 741.0,390.5 738.1,390.7 736.0,392.0 735.0,394.0M738.0,393.0 740.8,393.2 744.0,392.5 746.0,390.0 748.7,388.6 751.8,386.9 754.0,387.5 756.0,387.4 758.9,385.3 762.0,386.0M766.0,386.0 769.0,384.6 772.0,384.0 774.5,383.4 775.9,382.4 778.0,381.0 780.6,380.5 781.3,377.9 784.0,378.0 786.2,376.0 789.0,374.0 791.6,371.8 793.0,369.0M768.0,382.5 770.7,381.4 774.0,380.0 776.3,377.6 780.0,377.5M774.0,373.0 776.1,372.9 778.0,375.0 780.5,373.2 783.0,376.5 785.5,375.2 788.0,375.0 788.9,372.7 791.0,371.0 789.1,371.6 787.0,372.0 784.7,371.6 783.0,374.0 781.7,373.3 779.0,372.5 776.0,371.4 774.0,373.0M776.0,376.0 778.1,378.1 781.0,378.0 782.9,377.5 786.0,377.0 788.7,375.1 790.0,373.5M751.0,344.0 755.3,343.6 755.0,347.0 757.8,348.5 759.0,351.0 761.9,351.7 764.0,354.0 765.3,356.5 768.0,358.0M760.0,357.0 760.3,359.7 763.0,360.0 764.5,361.4 767.0,362.0 768.7,363.1 770.0,365.0M724.0,703.5 725.0,704.2M807.5,705.0 808.5,705.7M815.0,703.5 816.0,704.2M851.5,704.0 852.5,704.7M696.0,698.5 697.0,699.2M703.0,703.0 704.0,703.7M709.0,710.0 710.0,710.7M718.0,727.5 719.0,728.2M716.0,739.0 717.0,739.7M710.0,743.0 711.0,743.7M705.0,749.0 706.0,749.7M714.0,748.0 715.0,748.7M719.0,746.0 720.0,746.7M722.0,755.0 723.0,755.7M712.0,755.0 713.0,755.7M707.0,760.0 708.0,760.7M715.0,762.0 716.0,762.7M796.0,752.0 797.0,752.7M836.0,703.0 837.0,703.7M831.0,705.0 832.0,705.7M726.0,701.0 727.0,701.7M471.0,661.0 472.0,661.7M461.0,663.0 462.0,663.7M448.0,668.0 449.0,668.7M443.0,645.0 444.0,645.7M439.0,656.0 440.0,656.7M437.0,686.0 438.0,686.7M434.0,676.0 435.0,676.7M431.5,650.0 432.5,650.7M554.0,596.0 555.0,596.7M556.5,602.5 557.5,603.2M552.0,640.0 553.0,640.7M555.5,646.5 556.5,647.2M549.0,646.0 550.0,646.7M546.0,671.0 547.0,671.7M544.5,674.0 545.5,674.7M475.0,662.5 477.7,662.1 480.0,661.5 481.9,662.4 484.0,663.5 481.7,664.1 479.0,664.5 477.1,663.4 475.0,662.5M442.0,641.5 444.0,639.0 447.0,640.0 446.0,643.0M441.0,558.0 443.0,555.5 445.0,557.5M435.0,559.0 435.8,559.5M406.0,528.0 407.0,529.0M417.0,562.0 418.0,563.0M400.0,524.5 402.0,526.0 403.5,528.0M177.0,533.5 178.0,534.5M162.5,560.0 163.5,561.0M188.0,484.0 189.0,485.0M481.5,464.5 483.0,466.5M484.0,469.0 485.5,470.5M638.0,76.0 639.5,77.6 640.5,79.5"/><path stroke-width="1.5" d="M884.5,327.5 885.6,328.7M886.0,330.0 887.1,331.2M887.5,333.0 888.6,334.2M889.0,335.0 890.1,336.2M890.0,337.5 891.1,338.7M886.5,335.0 887.6,336.2M900.7,413.3 901.9,413.9M903.0,415.0 904.2,415.6M905.1,416.3 906.3,416.9M909.6,409.6 910.8,410.2M911.0,410.3 912.2,410.9"/><path stroke-width="1.6" d="M534.0,651.5 534.9,652.6M535.5,655.0 536.4,656.1M536.5,659.0 537.4,660.1M538.0,662.0 538.9,663.1M537.0,666.5 537.9,667.6M536.0,671.0 536.9,672.1M535.0,676.0 535.9,677.1M534.0,681.0 534.9,682.1M535.5,685.0 536.4,686.1M533.0,689.0 533.9,690.1M531.5,693.0 532.4,694.1M562.0,602.0 562.9,603.1M562.3,608.5 563.2,609.6M556.5,648.0 557.4,649.1M555.0,659.0 555.9,660.1M556.5,657.0 557.4,658.1M547.0,672.5 547.9,673.6M545.5,674.5 546.4,675.6M875.4,347.2 878.1,347.3 879.8,349.4 882.0,352.0 882.8,355.4 882.5,358.5 881.3,361.3 879.0,362.5 876.9,362.8 874.5,362.0 872.4,360.6M868.0,366.0 869.5,363.5 870.5,366.5M941.5,392.5 944.0,393.8 946.7,394.0M846.0,316.5 848.4,317.1 850.3,318.0 853.0,319.5 856.0,318.8 858.2,319.0 861.0,318.5M788.0,97.0 786.2,96.4 785.0,94.0 783.1,94.3 781.0,96.0 783.0,99.0"/><path stroke-width="1.8" d="M492.0,661.8 495.0,662.2M757.0,349.0 758.6,351.8 761.0,353.0 764.5,353.8 765.0,357.0 766.0,360.9 769.0,362.0M812.0,457.0 814.4,459.3 815.8,460.4 819.0,462.0 821.0,463.3 824.1,464.3 826.0,466.5 828.4,466.5 830.6,466.3 833.0,466.0 835.9,464.8 839.1,466.0 840.0,463.0M861.0,391.0 862.0,389.2 864.0,387.0 866.1,385.5 866.0,383.0M724.5,300.0 725.8,298.1 727.0,296.0 729.0,299.0M718.5,236.0 717.8,239.2 719.0,242.0 717.7,244.6 718.5,247.0M732.0,309.0 735.0,307.0 736.7,308.1 737.5,311.0 739.0,313.8 736.0,315.0M948.0,527.0 949.5,525.2 952.0,524.0 953.0,525.1 955.0,526.5M440.0,221.0 443.0,220.8 444.0,224.0 445.7,223.9 448.0,225.5M484.0,213.0 486.8,212.8 488.0,215.0 489.8,215.8 492.0,218.5M477.0,205.0 480.0,203.0 482.0,206.0"/><path stroke-width="2.0" d="M826.0,519.0 828.6,520.2 830.5,522.8 833.0,523.0 835.1,525.9 837.3,526.3 840.0,527.5 843.6,527.6 844.0,530.6 847.0,531.5 849.2,532.6 852.6,533.8 854.0,535.0 857.5,535.8 858.4,536.4 861.0,537.5 864.3,538.8 865.9,539.1 868.0,540.0M960.0,534.0 960.9,530.6 964.0,533.0 966.7,531.1 968.0,534.5 969.8,534.8 972.0,533.5M961.0,425.0 961.9,427.6 964.2,429.3 964.0,433.0 963.5,436.5 965.1,438.0 966.5,441.0 968.0,443.1 969.0,447.0"/><path stroke-width="2.2" d="M742.0,479.5 745.4,478.1 747.1,479.7 749.0,482.0 750.8,484.1 753.4,484.1 756.0,484.0 758.5,483.8 760.6,485.5 763.0,484.5 764.6,483.7 767.0,482.5M898.0,318.0 899.6,320.0 899.3,322.3 901.0,324.0 901.8,326.0 900.5,328.7 901.5,331.0 900.1,333.0 899.0,337.0M756.0,146.0 757.6,147.8 757.0,152.0 756.5,154.4 756.5,158.0 758.4,161.3 758.5,164.0 757.8,167.8 760.0,170.0M969.0,557.0 972.0,559.0 973.5,561.5"/><path stroke-width="2.3" d="M584.6,688.6 587.2,687.4 590.0,686.3 593.4,685.6 596.0,684.4 598.0,683.3 600.1,683.4 602.4,683.0"/><path stroke-width="2.4" d="M544.4,644.0 544.8,646.7 543.6,648.5 542.9,651.0 542.6,653.0 541.3,655.1 542.4,657.5M774.0,373.5 776.9,374.5 779.0,375.5 781.6,376.3 784.0,376.0 786.4,374.6 789.0,373.5M757.5,141.0 755.9,137.3 761.9,138.4 762.0,134.0 765.6,132.9 766.6,130.3 767.0,126.5 765.8,123.9 771.8,123.9 768.9,118.3 772.0,118.0 770.8,114.1 775.6,113.7 777.1,111.8 778.0,109.0 776.1,103.6 781.2,105.0 784.3,103.2 785.0,101.0 788.1,99.2 791.6,101.6 789.7,96.8 793.0,95.5 794.6,95.8 799.8,95.1 799.6,90.1 802.0,90.0"/><path stroke-width="2.6" d="M766.0,444.0 767.5,444.0 771.6,443.8 773.4,444.8 776.0,442.0 778.0,442.4 779.6,442.9 782.6,443.6 785.9,445.0 787.0,446.0 789.3,445.8 790.5,449.1 793.2,450.2 795.7,448.2 798.0,450.0 800.3,451.4 802.6,452.5 804.7,454.3 808.0,455.0 810.3,455.7 812.9,456.1 813.5,458.4 818.2,458.8 818.0,462.0 820.6,462.9 824.3,464.3 824.7,465.3 828.0,467.5M876.0,400.0 879.4,400.9 878.3,404.0 879.0,406.0 878.8,409.2 882.3,409.5 882.0,412.0 882.6,414.1 886.9,414.0 885.0,418.0 885.7,421.2 886.0,423.5"/><path stroke-width="2.8" d="M836.0,464.0 837.7,465.1 840.8,465.4 843.5,467.3 846.0,465.5 849.9,466.0 849.7,471.6 853.9,470.0 857.0,469.0 858.1,470.2 862.9,469.3 863.2,471.5 865.5,475.4 868.0,473.0 869.3,475.2 873.9,476.5 876.4,473.9 878.0,479.0 881.2,480.3 881.4,483.0 883.1,484.5 885.0,486.0 886.8,491.3 888.5,491.2 891.5,492.3 892.0,494.0 893.7,495.7 895.6,496.1 897.3,497.4 899.0,500.0 903.5,502.1 903.0,505.0"/><path stroke-width="3.2" d="M735.5,393.0 738.8,392.9 741.0,391.0 744.1,389.5 747.0,389.3 749.9,388.8 753.0,387.3 756.8,386.7 759.0,386.0 762.3,384.5 765.0,385.5"/><path fill="#5e3f09" stroke-width="0.8" d="M608.6,682.2 610.6,680.9 612.2,682.4 610.6,684.4 608.8,683.9 608.6,682.2zM573.2,695.0 575.2,693.6 577.0,694.8 575.6,696.8 573.6,696.6 573.2,695.0zM839.7,311.5 840.9,313.0 843.5,313.0 845.1,314.9 847.0,317.0 848.8,319.0 851.0,320.5 849.5,322.5 847.7,321.1 845.5,320.5 843.3,318.6 842.0,316.5 840.8,314.1 839.7,311.5zM852.5,309.0 855.5,308.5 857.0,312.0 854.0,314.0 852.0,312.5 852.5,309.0zM892.0,313.0 893.8,313.5 896.0,314.5 898.3,316.2 900.0,317.0 900.3,319.7 902.5,321.0 901.8,323.7 902.0,326.0 901.4,329.1 900.0,331.0 899.0,332.2 897.5,334.5 897.5,332.5 896.5,330.0 896.9,327.3 897.0,325.0 895.9,322.5 895.5,320.0 895.4,318.0 893.0,316.5 892.0,313.0zM830.0,348.0 832.0,347.5 832.8,350.0 831.2,352.5 829.8,351.0 830.0,348.0zM860.0,388.5 861.3,386.1 864.0,385.5 865.3,382.7 866.5,381.0 867.5,384.0 866.2,386.4 866.0,389.0 865.1,390.4 863.5,392.5 860.5,393.5 858.0,391.0 860.0,388.5zM873.0,403.0 875.2,402.2 877.0,404.0 878.8,405.0 881.0,406.0 882.6,408.2 884.0,410.0 885.8,412.0 886.5,415.0 888.0,418.2 887.5,421.0 888.2,424.2 885.5,425.5 882.5,425.0 882.3,423.0 880.5,420.0 879.1,417.3 879.0,415.0 877.1,413.4 876.5,410.5 874.6,408.5 873.5,407.0 873.7,405.2 873.0,403.0zM911.5,358.5 914.0,357.0 917.0,357.0 918.0,359.0 915.0,360.0 912.5,360.5 911.5,358.5zM491.0,186.0 492.1,184.3 495.0,184.5 496.1,185.7 498.5,187.5 498.2,190.1 497.0,192.0 496.4,194.3 494.0,195.5 492.5,197.5 491.0,199.0 490.8,201.6 488.5,203.0 486.9,205.1 485.0,207.0 482.5,206.7 482.0,204.5 482.8,201.9 485.0,200.0 486.2,197.1 488.0,196.0 489.2,192.9 490.0,191.0 489.9,188.5 491.0,186.0zM467.0,207.0 470.0,209.0 471.4,210.9 474.0,211.0 476.1,212.7 478.0,213.5 477.5,215.7 476.0,218.0 473.4,219.6 471.0,220.5 468.6,220.5 467.0,221.0 465.8,219.3 465.0,217.0 464.5,214.4 466.0,212.0 465.9,209.5 467.0,207.0zM452.5,218.0 456.0,216.5 458.1,217.0 460.0,218.5 459.7,220.7 459.0,222.5 456.9,223.4 454.5,224.0 453.1,222.0 451.5,221.0 452.5,218.0zM736.0,393.0 738.8,391.6 742.0,390.5 744.3,388.5 748.0,388.5 751.3,387.3 754.0,386.5 757.3,387.0 760.0,385.5 762.6,385.1 765.0,385.5 764.0,387.5 761.2,388.9 758.0,388.5 755.2,390.0 752.0,390.0 748.3,390.4 746.0,392.0 742.9,393.0 740.0,394.0 738.3,395.3 736.0,394.5 736.0,393.0zM742.0,479.0 745.0,481.0 748.0,481.0 750.9,482.5 754.0,483.0 756.8,484.3 760.0,483.5 763.7,482.4 766.0,482.0 767.0,484.0 764.7,485.7 762.0,486.0 759.3,486.3 757.5,486.3 755.0,486.0 752.4,485.7 750.6,485.8 748.0,484.5 745.5,483.4 743.0,482.0 742.0,479.0zM878.0,404.0 879.2,406.5 881.0,409.0 882.9,411.3 884.0,414.0 885.2,417.3 886.5,420.0 886.3,422.0 886.0,425.0 883.0,426.0 881.4,423.6 880.0,421.0 879.1,417.9 878.5,415.0 877.2,411.8 876.5,409.0 877.1,406.1 878.0,404.0z"/></g>
<g opacity="0.999"><text x="140.0" y="788.8" font-size="22" text-anchor="middle" textLength="70.5" lengthAdjust="spacingAndGlyphs">100°W</text><text x="309.0" y="788.8" font-size="22" text-anchor="middle" textLength="58" lengthAdjust="spacingAndGlyphs">95°W</text><text x="476.0" y="788.8" font-size="22" text-anchor="middle" textLength="58" lengthAdjust="spacingAndGlyphs">90°W</text><text x="643.0" y="788.8" font-size="22" text-anchor="middle" textLength="58" lengthAdjust="spacingAndGlyphs">85°W</text><text x="810.0" y="788.8" font-size="22" text-anchor="middle" textLength="58" lengthAdjust="spacingAndGlyphs">80°W</text><text x="132.5" y="118.89999999999999" font-size="22" text-anchor="end" textLength="53" lengthAdjust="spacingAndGlyphs">32°N</text><text x="132.5" y="273.90000000000003" font-size="22" text-anchor="end" textLength="53" lengthAdjust="spacingAndGlyphs">28°N</text><text x="132.5" y="421.6" font-size="22" text-anchor="end" textLength="53" lengthAdjust="spacingAndGlyphs">24°N</text><text x="132.5" y="565.6" font-size="22" text-anchor="end" textLength="53" lengthAdjust="spacingAndGlyphs">20°N</text><text x="132.5" y="706.6" font-size="22" text-anchor="end" textLength="53" lengthAdjust="spacingAndGlyphs">16°N</text></g>
<g opacity="0.999"><rect x="989.5" y="75.5" width="34.0" height="693.0" fill="url(#cb)" stroke="#222" stroke-width="1"/><text x="1032.6" y="84.5" font-size="27" fill="#222" textLength="30.4" lengthAdjust="spacingAndGlyphs">50</text><text x="1032.6" y="152.0" font-size="27" fill="#222" textLength="30.4" lengthAdjust="spacingAndGlyphs">20</text><text x="1032.6" y="205.0" font-size="27" fill="#222" textLength="30.4" lengthAdjust="spacingAndGlyphs">10</text><text x="1032.6" y="256.6" font-size="27" fill="#222" textLength="15.2" lengthAdjust="spacingAndGlyphs">5</text><text x="1032.6" y="322.1" font-size="27" fill="#222" textLength="15.2" lengthAdjust="spacingAndGlyphs">2</text><text x="1032.6" y="363.8" font-size="27" fill="#222" textLength="15.2" lengthAdjust="spacingAndGlyphs">1</text><text x="1032.6" y="430.3" font-size="27" fill="#222" textLength="15.2" lengthAdjust="spacingAndGlyphs">0</text><text x="1032.6" y="497.2" font-size="27" fill="#222" textLength="24.0" lengthAdjust="spacingAndGlyphs">-1</text><text x="1032.6" y="539.3" font-size="27" fill="#222" textLength="24.0" lengthAdjust="spacingAndGlyphs">-2</text><text x="1032.6" y="605.5" font-size="27" fill="#222" textLength="24.0" lengthAdjust="spacingAndGlyphs">-5</text><text x="1032.6" y="656.3" font-size="27" fill="#222" textLength="39.2" lengthAdjust="spacingAndGlyphs">-10</text><text x="1032.6" y="708.5999999999999" font-size="27" fill="#222" textLength="39.2" lengthAdjust="spacingAndGlyphs">-20</text><text x="1032.6" y="777.9" font-size="27" fill="#222" textLength="39.2" lengthAdjust="spacingAndGlyphs">-50</text><path d="M1023.5 142.7h-7.5M1023.5 195.7h-7.5M1023.5 247.3h-7.5M1023.5 312.8h-7.5M1023.5 354.5h-7.5M1023.5 421.0h-7.5M1023.5 487.9h-7.5M1023.5 530.0h-7.5M1023.5 596.2h-7.5M1023.5 647.0h-7.5M1023.5 699.3h-7.5" stroke="#222" stroke-width="1" fill="none"/></g>
</svg>
</body></html>
